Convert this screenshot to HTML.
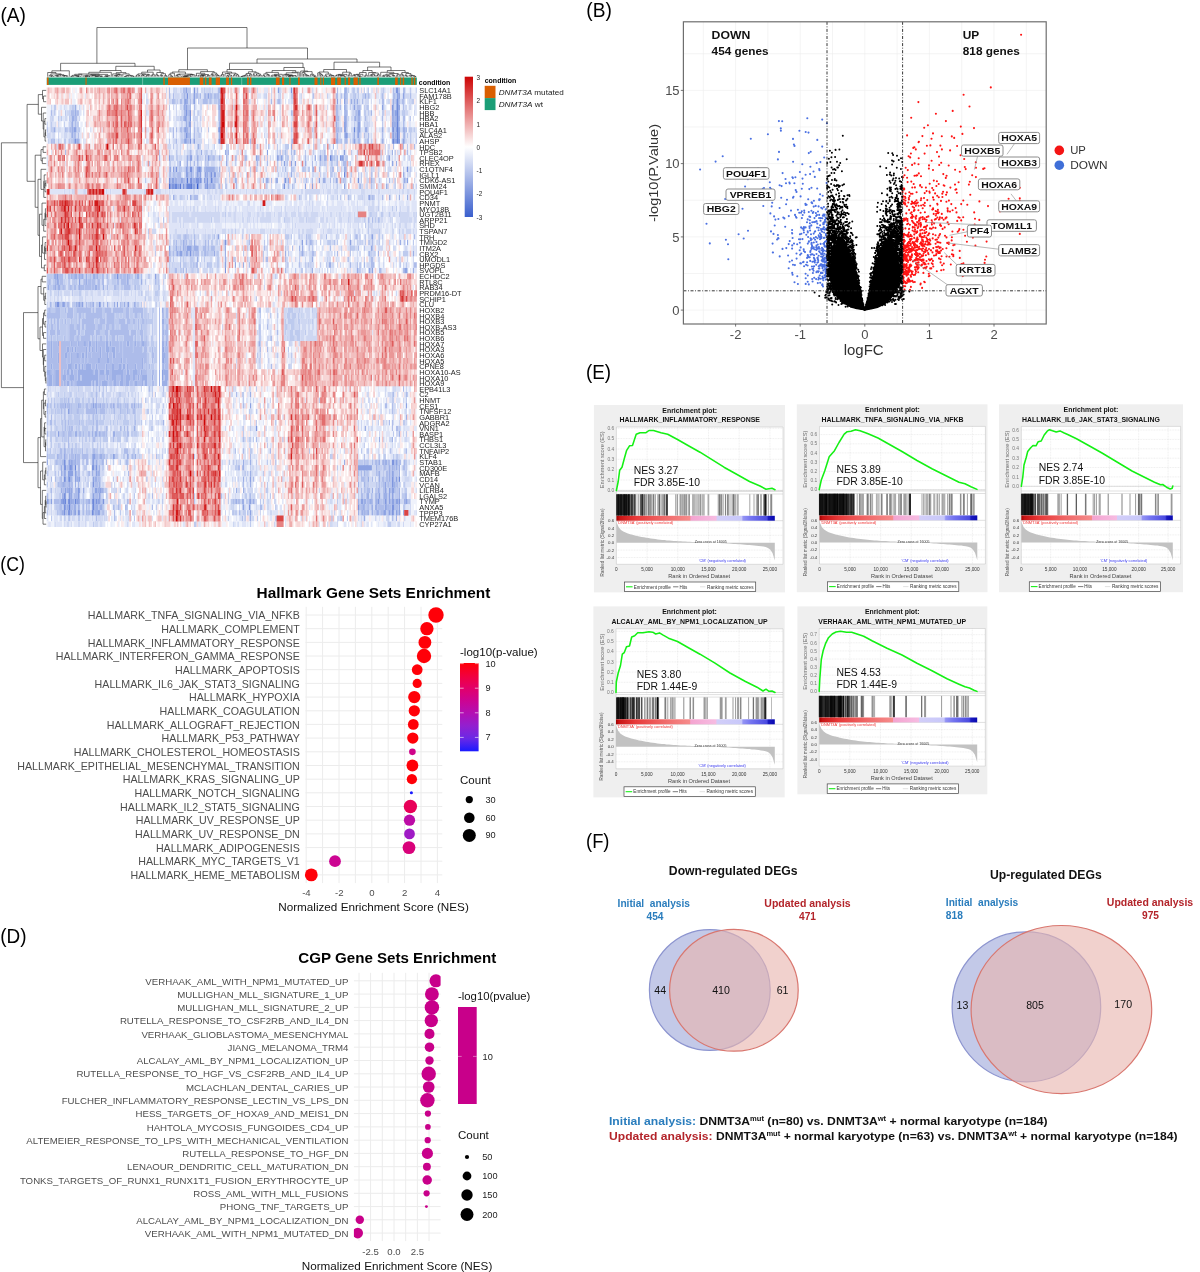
<!DOCTYPE html>
<html><head><meta charset="utf-8"><title>Figure</title>
<style>html,body{margin:0;padding:0;background:#fff}svg{display:block;font-family:"Liberation Sans", sans-serif}</style>
</head><body>
<svg width="1200" height="1272" viewBox="0 0 1200 1272">
<rect width="1200" height="1272" fill="#fff"/>
<text x="0.5" y="21.5" font-size="20.3" textLength="25.5" lengthAdjust="spacingAndGlyphs">(A)</text><text x="586.3" y="16.5" font-size="19.6" textLength="25.5" lengthAdjust="spacingAndGlyphs">(B)</text><text x="0.3" y="570.7" font-size="21" textLength="24.5" lengthAdjust="spacingAndGlyphs">(C)</text><text x="0.3" y="942.5" font-size="21" textLength="26.3" lengthAdjust="spacingAndGlyphs">(D)</text><text x="586" y="379" font-size="20.3" textLength="25" lengthAdjust="spacingAndGlyphs">(E)</text><text x="586" y="848.3" font-size="20.6" textLength="23.5" lengthAdjust="spacingAndGlyphs">(F)</text>
<g transform="translate(46.7,90.417) scale(1.4019,5.6333)" stroke-width="1.04" fill="none">
<path stroke="#3a5fcd" d="M250 6h1M250 7h1M250 8h1M250 9h1M107 17h1"/>
<path stroke="#4a6cd1" d="M250 2h1M250 3h1M250 4h1M250 5h1M213 8h1M87 17h1M103 17h1M16 74h1"/>
<path stroke="#5b7ad5" d="M96 16h1M100 16h1M95 17h1M16 69h1M16 73h1"/>
<path stroke="#6b87da" d="M213 0h1M250 1h1M99 4h1M213 5h1M213 6h1M123 7h1M219 7h1M99 8h1M123 9h1M247 9h1M198 12h1M202 12h1M212 15h1M103 16h1M109 16h1M114 16h1M117 16h1M89 17h1M91 17h2M100 17h3M114 17h1M12 66h1M20 67h1M12 69h1M251 69h1M12 72h1M16 72h1M13 73h1M20 73h1M33 73h1M12 74h1M33 74h1M12 75h1M32 75h1"/>
<path stroke="#7c94de" d="M99 0h1M105 0h1M174 0h1M249 0h2M100 1h1M99 3h1M246 3h1M102 4h1M213 4h1M102 5h1M247 7h1M20 9h1M102 9h1M213 9h1M248 9h1M251 9h1M191 12h1M195 12h1M203 12h1M209 12h1M128 13h1M92 14h1M99 14h1M102 14h2M108 14h2M213 14h1M257 14h1M109 15h1M113 15h1M117 15h1M119 15h1M87 16h1M102 16h1M106 16h3M170 16h1M198 16h1M222 16h1M255 16h1M88 17h1M90 17h1M97 17h1M99 17h1M108 17h1M113 17h1M116 17h1M169 17h1M223 17h1M230 19h1M127 27h1M188 27h1M216 27h1M102 29h1M127 32h1M230 32h1M7 33h1M50 33h1M7 38h2M37 38h1M151 45h1M149 60h1M16 66h1M246 66h2M12 67h2M16 67h2M32 67h2M35 67h1M246 69h1M33 70h1M246 70h1M16 71h1M22 71h1M26 71h1M39 71h1M22 72h1M228 72h1M11 73h2M15 73h1M32 73h1M35 73h1M40 73h1M236 73h1M241 73h1M251 73h1M255 73h1M56 74h1M144 74h1M222 74h1M246 74h2M15 75h2M19 75h1M22 75h1M246 75h1"/>
<path stroke="#8ca2e2" d="M165 0h1M105 1h1M115 1h1M213 1h1M251 1h1M254 1h1M98 2h2M105 2h1M116 2h1M207 2h1M212 2h1M221 2h1M98 3h1M123 3h1M213 3h1M219 3h1M223 3h1M239 3h1M251 3h1M101 4h1M222 4h2M246 4h1M248 4h2M98 5h2M220 5h1M248 5h1M99 6h1M101 6h2M123 6h1M206 6h1M212 6h1M222 6h2M246 6h1M19 7h2M98 7h2M212 7h2M222 7h2M246 7h1M249 7h1M251 7h1M255 7h1M101 8h1M123 8h1M222 8h1M247 8h1M251 8h1M255 8h1M19 9h1M98 9h2M105 9h1M219 9h1M246 9h1M249 9h1M254 9h1M108 10h1M158 10h1M157 11h1M176 11h1M198 11h1M212 11h1M87 12h1M102 12h2M115 12h1M123 12h1M128 12h1M141 12h1M149 12h1M164 12h1M167 12h1M210 12h2M244 12h1M169 13h1M174 13h1M177 13h1M203 13h1M246 13h1M88 14h1M90 14h1M107 14h1M123 14h1M99 15h2M103 15h1M107 15h1M114 15h1M116 15h1M120 15h1M89 16h2M112 16h1M118 16h1M194 16h1M206 16h1M257 16h1M93 17h2M104 17h2M184 17h1M189 17h1M212 17h1M122 26h1M232 26h1M182 27h1M87 28h1M100 28h3M231 28h1M93 29h1M95 29h2M99 29h1M106 29h1M119 29h1M127 31h1M134 31h1M223 31h1M221 32h1M232 32h1M255 32h2M6 33h1M9 33h1M19 33h1M24 33h1M36 33h1M77 33h1M7 34h1M23 34h1M1 35h1M6 35h1M24 35h1M6 38h1M11 38h2M21 38h1M23 38h1M25 38h1M50 38h1M58 38h1M83 46h1M83 48h1M82 50h1M82 51h1M33 56h1M145 56h1M256 56h1M15 57h1M8 61h1M12 65h1M33 65h2M47 65h1M61 65h1M17 66h1M19 66h1M33 66h1M39 66h1M240 66h1M249 66h1M255 66h1M222 67h10M235 67h1M12 68h1M15 68h4M20 68h1M35 68h1M246 68h1M13 69h1M15 69h1M20 69h1M23 69h1M33 69h1M145 69h1M249 69h1M16 70h1M241 70h1M243 70h1M13 71h1M17 71h1M23 71h1M34 71h2M38 71h1M241 71h1M244 71h1M246 71h2M11 72h1M13 72h1M17 72h1M33 72h1M37 72h1M237 72h1M244 72h1M246 72h1M0 73h1M3 73h1M10 73h1M17 73h1M21 73h2M29 73h1M34 73h1M36 73h2M145 73h1M224 73h2M235 73h1M244 73h1M246 73h2M249 73h2M256 73h1M9 74h1M13 74h1M32 74h1M34 74h1M51 74h1M140 74h1M235 74h1M241 74h1M243 74h1M251 74h1M11 75h1M17 75h1M20 75h1M23 75h1M33 75h1M36 75h2M145 75h1M225 75h1M228 75h1M238 75h1M240 75h2M244 75h1M247 75h1M249 75h1M251 75h1M226 76h1"/>
<path stroke="#9cafe6" d="M123 0h1M218 0h1M255 0h1M98 1h1M109 1h1M113 1h1M121 1h1M212 1h1M227 1h1M91 2h1M100 2h1M104 2h1M123 2h1M213 2h1M217 2h1M219 2h1M225 2h1M247 2h1M249 2h1M20 3h1M101 3h1M206 3h1M212 3h1M228 3h1M247 3h1M249 3h1M20 4h1M98 4h1M123 4h1M231 4h1M247 4h1M18 5h2M101 5h1M123 5h1M212 5h1M222 5h2M246 5h2M249 5h1M251 5h1M18 6h1M247 6h3M5 7h1M14 7h1M18 7h1M100 7h1M102 7h1M122 7h1M206 7h1M221 7h1M227 7h2M239 7h1M248 7h1M254 7h1M18 8h1M100 8h1M102 8h1M207 8h1M214 8h1M219 8h1M221 8h1M246 8h1M248 8h2M4 9h1M21 9h2M96 9h1M156 9h1M206 9h2M218 9h1M239 9h1M255 9h1M174 10h1M110 11h1M127 11h1M129 11h1M166 11h1M203 11h1M246 11h1M248 11h1M100 12h1M107 12h1M113 12h1M116 12h1M165 12h1M168 12h1M213 12h1M243 12h1M95 13h1M100 13h1M171 13h1M184 13h1M198 13h1M249 13h1M100 14h1M113 14h7M121 14h1M183 14h1M190 14h1M212 14h1M91 15h1M101 15h1M106 15h1M108 15h1M174 15h1M203 15h1M243 15h1M254 15h1M88 16h1M91 16h2M99 16h1M104 16h2M110 16h1M113 16h1M116 16h1M121 16h1M134 16h1M156 16h2M163 16h2M172 16h1M197 16h1M231 16h1M248 16h1M98 17h1M106 17h1M118 17h2M123 17h1M242 17h1M248 17h1M90 19h1M102 19h1M215 19h1M233 19h1M244 19h1M251 19h1M257 19h1M223 26h1M97 27h1M99 27h1M105 27h1M113 27h1M121 27h1M185 27h1M252 27h1M255 27h1M257 27h1M92 28h1M97 28h1M103 28h1M105 28h3M113 28h1M127 28h1M180 28h1M182 28h1M87 29h1M94 29h1M100 29h1M104 29h1M113 29h1M121 29h1M127 29h1M170 29h1M182 29h1M230 29h1M236 29h1M261 29h1M107 30h1M127 30h1M156 30h1M189 30h1M140 31h1M201 31h2M216 31h1M226 31h1M99 32h1M189 32h1M223 32h1M261 32h1M5 33h1M17 33h1M20 33h2M23 33h1M25 33h1M28 33h1M31 33h1M33 33h2M51 33h1M54 33h1M57 33h1M64 33h2M6 34h1M8 34h1M19 34h1M28 34h1M31 34h1M57 34h1M67 34h1M8 35h2M23 35h1M26 35h1M31 35h1M34 35h2M40 35h1M2 38h1M9 38h1M19 38h1M22 38h1M24 38h1M31 38h1M33 38h1M38 38h1M43 38h1M48 38h1M55 38h1M62 38h1M82 39h1M71 41h1M82 41h2M151 42h1M83 43h1M71 44h1M3 45h1M8 45h1M17 45h1M22 45h1M26 45h2M30 45h2M35 45h1M42 45h2M45 45h1M51 45h1M54 45h1M57 45h2M61 45h1M63 45h1M66 45h1M68 45h2M71 45h1M82 45h2M85 45h1M3 46h1M14 46h2M18 46h1M20 46h1M28 46h1M30 46h1M32 46h1M35 46h1M38 46h1M42 46h3M46 46h3M51 46h1M54 46h1M61 46h1M82 46h1M3 47h1M8 47h1M13 47h2M17 47h1M21 47h2M25 47h2M28 47h1M31 47h1M38 47h1M43 47h1M47 47h2M54 47h1M71 47h1M82 47h3M8 48h1M14 48h1M17 48h1M24 48h1M26 48h1M29 48h1M36 48h2M43 48h2M46 48h1M53 48h1M56 48h1M68 48h1M71 48h1M82 48h1M84 48h1M3 49h1M15 49h3M20 49h2M23 49h1M25 49h1M28 49h4M35 49h1M42 49h1M46 49h2M51 49h2M54 49h2M57 49h1M63 49h1M68 49h1M71 49h1M83 49h1M0 50h3M4 50h1M6 50h3M12 50h1M14 50h2M17 50h2M22 50h11M34 50h3M38 50h3M42 50h3M46 50h9M57 50h2M61 50h4M67 50h1M71 50h1M80 50h1M83 50h4M1 51h3M6 51h3M11 51h3M16 51h4M22 51h2M25 51h12M41 51h1M43 51h1M46 51h4M53 51h2M56 51h4M61 51h2M65 51h1M68 51h4M75 51h1M80 51h1M84 51h3M1 52h3M6 52h3M12 52h1M14 52h2M17 52h1M19 52h1M21 52h11M33 52h1M35 52h2M39 52h4M44 52h1M46 52h1M48 52h2M52 52h3M56 52h3M61 52h1M63 52h2M68 52h1M70 52h2M80 52h1M82 52h4M145 54h1M0 56h1M13 56h1M16 56h1M22 56h1M34 56h2M38 56h1M41 56h1M47 56h1M51 56h1M56 56h1M62 56h1M16 57h1M35 57h1M256 58h1M83 59h1M163 59h1M16 60h1M62 60h1M227 60h1M20 61h2M26 61h1M32 61h1M34 61h2M37 61h1M39 61h1M41 61h1M47 61h2M251 61h1M237 62h1M246 62h1M12 64h1M245 64h1M7 65h1M9 65h1M14 65h1M16 65h1M20 65h1M32 65h1M36 65h1M38 65h2M48 65h1M57 65h1M63 65h1M0 66h1M9 66h1M11 66h1M13 66h1M18 66h1M20 66h1M32 66h1M35 66h1M140 66h1M145 66h1M163 66h1M212 66h1M228 66h1M235 66h1M237 66h1M241 66h2M248 66h1M250 66h1M10 67h1M18 67h1M34 67h1M37 67h1M140 67h1M244 67h1M246 67h1M249 67h1M251 67h1M10 68h1M13 68h1M21 68h1M29 68h1M32 68h1M36 68h2M141 68h1M145 68h1M226 68h1M228 68h1M235 68h1M237 68h1M244 68h1M247 68h1M251 68h1M6 69h1M9 69h1M17 69h1M21 69h2M34 69h2M71 69h1M140 69h1M229 69h1M237 69h1M240 69h1M244 69h1M247 69h1M9 70h1M11 70h2M14 70h1M20 70h1M22 70h1M29 70h1M37 70h1M145 70h1M222 70h1M226 70h1M240 70h1M247 70h2M10 71h1M14 71h2M21 71h1M36 71h2M135 71h1M140 71h1M232 71h1M236 71h1M240 71h1M245 71h1M248 71h1M251 71h1M9 72h1M21 72h1M34 72h1M229 72h1M235 72h1M240 72h3M251 72h1M1 73h1M9 73h1M18 73h2M23 73h1M26 73h1M30 73h1M39 73h1M51 73h1M133 73h1M135 73h1M139 73h2M144 73h1M147 73h1M222 73h1M226 73h2M230 73h2M238 73h1M240 73h1M242 73h1M245 73h1M248 73h1M258 73h1M14 74h2M19 74h2M22 74h1M26 74h1M35 74h2M38 74h2M163 74h1M223 74h1M225 74h2M228 74h1M232 74h1M234 74h1M242 74h1M248 74h1M9 75h1M26 75h1M29 75h1M34 75h2M39 75h1M61 75h1M141 75h1M143 75h1M222 75h1M226 75h1M229 75h1M232 75h1M235 75h2M243 75h1M245 75h1M250 75h1M254 75h1M141 76h1M145 76h1M163 76h1M203 76h1M249 76h1"/>
<path stroke="#adbcea" d="M87 0h1M97 0h2M107 0h1M116 0h1M122 0h1M207 0h1M212 0h1M240 0h1M247 0h1M251 0h1M254 0h1M87 1h1M90 1h1M96 1h1M99 1h1M104 1h1M106 1h2M112 1h1M114 1h1M116 1h2M119 1h2M122 1h1M156 1h1M166 1h1M190 1h1M206 1h2M210 1h1M220 1h1M229 1h1M239 1h1M247 1h2M255 1h1M259 1h1M71 2h1M89 2h2M95 2h2M102 2h1M108 2h1M111 2h4M122 2h1M160 2h1M165 2h2M239 2h2M248 2h1M251 2h1M253 2h2M100 3h1M102 3h1M105 3h1M122 3h1M207 3h1M209 3h1M218 3h1M221 3h2M240 3h1M254 3h1M3 4h1M17 4h3M21 4h2M100 4h1M174 4h1M206 4h2M212 4h1M218 4h1M220 4h2M251 4h1M255 4h1M4 5h1M16 5h1M20 5h2M97 5h1M206 5h3M219 5h1M221 5h1M227 5h1M239 5h1M254 5h2M17 6h1M20 6h1M96 6h1M221 6h1M228 6h1M254 6h1M4 7h1M13 7h1M16 7h2M21 7h1M90 7h1M92 7h1M95 7h2M101 7h1M105 7h1M207 7h2M210 7h1M256 7h1M258 7h1M17 8h1M19 8h2M22 8h1M90 8h1M96 8h1M98 8h1M105 8h1M206 8h1M212 8h1M218 8h1M223 8h1M226 8h1M229 8h1M239 8h1M254 8h1M3 9h1M5 9h1M16 9h1M92 9h1M100 9h2M104 9h1M122 9h1M145 9h1M175 9h1M208 9h1M210 9h1M220 9h1M222 9h2M228 9h2M240 9h1M253 9h1M263 9h1M128 10h1M204 10h1M247 10h1M254 10h1M262 10h1M13 11h1M102 11h1M128 11h1M168 11h1M170 11h1M174 11h1M243 11h1M257 11h1M80 12h1M101 12h1M108 12h1M118 12h2M134 12h1M142 12h1M150 12h2M166 12h1M171 12h1M184 12h1M199 12h1M205 12h1M207 12h1M238 12h1M258 12h1M94 13h1M102 13h1M105 13h1M107 13h1M113 13h1M150 13h1M157 13h1M189 13h1M195 13h1M207 13h1M211 13h3M216 13h1M87 14h1M91 14h1M94 14h1M101 14h1M104 14h1M106 14h1M110 14h1M112 14h1M168 14h1M170 14h1M174 14h1M189 14h1M194 14h1M203 14h2M87 15h2M90 15h1M93 15h3M102 15h1M104 15h1M118 15h1M123 15h1M171 15h1M213 15h1M231 15h1M93 16h3M97 16h2M101 16h1M119 16h2M135 16h1M154 16h1M158 16h1M160 16h1M169 16h1M177 16h1M185 16h1M189 16h1M202 16h1M207 16h1M211 16h1M216 16h1M233 16h1M244 16h1M96 17h1M109 17h1M115 17h1M117 17h1M128 17h1M135 17h1M156 17h1M168 17h1M172 17h1M175 17h1M228 17h1M231 17h1M243 17h1M254 17h1M91 19h1M96 19h1M103 19h1M105 19h3M180 19h1M229 19h1M232 19h1M239 19h1M79 23h1M83 23h1M229 23h1M232 23h1M236 23h1M98 26h2M105 26h1M116 26h1M119 26h1M121 26h1M185 26h1M199 26h1M220 26h2M231 26h1M262 26h1M92 27h1M98 27h1M103 27h1M115 27h1M126 27h1M144 27h1M205 27h1M223 27h1M230 27h1M232 27h1M91 28h1M95 28h1M98 28h2M104 28h1M108 28h1M111 28h2M115 28h1M117 28h3M143 28h1M155 28h1M175 28h1M202 28h1M216 28h1M222 28h1M226 28h1M232 28h1M88 29h1M90 29h1M92 29h1M98 29h1M101 29h1M103 29h1M107 29h2M112 29h1M114 29h1M116 29h1M181 29h1M183 29h1M189 29h2M207 29h1M216 29h1M223 29h1M233 29h1M143 30h1M157 30h1M170 30h1M215 30h1M231 30h2M95 31h1M104 31h1M106 31h2M114 31h1M144 31h1M171 31h1M180 31h1M186 31h1M188 31h1M221 31h1M231 31h3M262 31h2M91 32h2M97 32h1M116 32h1M170 32h1M237 32h2M254 32h1M4 33h1M8 33h1M10 33h2M15 33h2M18 33h1M22 33h1M26 33h1M35 33h1M39 33h2M43 33h1M48 33h2M52 33h2M55 33h2M58 33h2M63 33h1M67 33h1M79 33h1M84 33h1M163 33h1M1 34h2M9 34h3M16 34h1M21 34h1M26 34h2M29 34h2M32 34h3M36 34h2M39 34h2M50 34h2M53 34h4M58 34h1M61 34h1M77 34h1M79 34h1M4 35h2M7 35h1M11 35h2M16 35h2M19 35h2M22 35h1M25 35h1M27 35h4M32 35h2M36 35h2M43 35h1M48 35h2M51 35h1M55 35h5M63 35h1M14 38h2M28 38h1M32 38h1M40 38h1M52 38h1M57 38h1M63 38h1M1 39h2M6 39h4M13 39h1M15 39h4M21 39h11M33 39h1M35 39h5M41 39h5M47 39h8M56 39h3M61 39h8M71 39h1M80 39h1M83 39h1M85 39h2M151 39h2M0 40h10M14 40h5M21 40h1M23 40h2M26 40h1M28 40h12M41 40h1M43 40h5M49 40h1M51 40h1M54 40h1M56 40h3M61 40h1M63 40h2M67 40h2M71 40h1M80 40h1M82 40h2M85 40h2M1 41h1M3 41h1M5 41h1M7 41h2M11 41h1M13 41h1M17 41h1M21 41h1M23 41h1M25 41h9M36 41h1M38 41h4M43 41h5M51 41h5M57 41h3M61 41h2M65 41h1M68 41h2M80 41h1M84 41h1M86 41h1M0 42h1M3 42h2M7 42h2M14 42h1M16 42h4M21 42h3M25 42h2M28 42h7M36 42h4M42 42h3M46 42h2M49 42h1M51 42h1M53 42h5M61 42h1M65 42h1M67 42h1M71 42h1M80 42h1M82 42h2M85 42h2M157 42h1M0 43h1M2 43h4M7 43h3M14 43h1M16 43h5M22 43h2M27 43h7M35 43h3M41 43h3M45 43h14M60 43h4M66 43h3M71 43h1M80 43h1M82 43h1M84 43h3M164 43h1M0 44h1M3 44h1M7 44h1M12 44h1M14 44h1M16 44h4M21 44h2M24 44h7M32 44h1M35 44h1M38 44h2M42 44h2M46 44h3M50 44h1M55 44h7M63 44h1M67 44h2M80 44h1M82 44h2M85 44h2M160 44h1M0 45h3M4 45h4M10 45h7M18 45h4M23 45h3M28 45h2M32 45h3M36 45h6M44 45h1M46 45h5M52 45h2M55 45h2M59 45h2M62 45h1M64 45h2M67 45h1M70 45h1M80 45h1M84 45h1M86 45h1M173 45h1M0 46h3M4 46h5M10 46h4M16 46h2M19 46h1M21 46h7M29 46h1M31 46h1M33 46h2M36 46h2M39 46h3M45 46h1M49 46h2M52 46h2M55 46h6M62 46h6M69 46h3M75 46h1M80 46h1M84 46h3M152 46h1M157 46h1M0 47h3M4 47h4M10 47h3M15 47h2M18 47h3M23 47h2M27 47h1M29 47h2M32 47h6M39 47h4M44 47h3M49 47h5M55 47h16M75 47h2M80 47h1M85 47h2M0 48h8M10 48h4M15 48h2M18 48h6M25 48h1M27 48h2M30 48h6M38 48h5M45 48h1M47 48h6M54 48h2M57 48h11M69 48h2M75 48h1M80 48h1M85 48h2M151 48h1M158 48h1M0 49h3M4 49h5M10 49h5M18 49h2M22 49h1M24 49h1M26 49h2M32 49h3M36 49h6M43 49h3M48 49h3M53 49h1M56 49h1M58 49h5M64 49h4M69 49h1M73 49h1M80 49h1M82 49h1M84 49h3M160 49h1M173 49h1M3 50h1M5 50h1M10 50h2M13 50h1M16 50h1M19 50h3M33 50h1M37 50h1M41 50h1M45 50h1M55 50h2M59 50h2M65 50h2M68 50h3M75 50h2M0 51h1M4 51h2M10 51h1M14 51h2M20 51h2M24 51h1M37 51h4M42 51h1M44 51h2M50 51h3M55 51h1M60 51h1M63 51h2M66 51h2M83 51h1M0 52h1M4 52h2M10 52h2M13 52h1M16 52h1M18 52h1M20 52h1M32 52h1M34 52h1M37 52h2M43 52h1M45 52h1M47 52h1M50 52h2M55 52h1M59 52h2M62 52h1M65 52h3M69 52h1M75 52h2M86 52h1M37 53h1M73 53h1M83 53h1M254 53h1M35 54h1M135 54h1M247 54h1M256 54h1M12 55h1M15 55h1M33 55h1M35 55h1M2 56h1M5 56h1M7 56h1M9 56h4M14 56h2M17 56h1M21 56h1M23 56h2M26 56h1M28 56h2M31 56h2M36 56h2M39 56h2M43 56h1M45 56h2M48 56h1M50 56h1M52 56h1M54 56h1M57 56h1M60 56h2M65 56h1M140 56h1M241 56h2M246 56h1M0 57h1M4 57h1M6 57h1M10 57h1M12 57h1M17 57h1M21 57h2M28 57h7M38 57h4M44 57h1M46 57h1M48 57h1M52 57h1M57 57h1M61 57h2M163 57h1M238 57h1M246 57h1M3 58h1M12 58h1M33 58h1M36 58h1M51 58h1M56 58h1M2 59h2M11 59h1M13 59h1M15 59h1M19 59h1M23 59h1M29 59h1M33 59h1M35 59h2M63 59h1M240 59h1M244 59h1M246 59h1M11 60h1M13 60h1M17 60h2M21 60h1M32 60h1M35 60h2M42 60h1M52 60h1M55 60h1M57 60h1M246 60h1M249 60h2M0 61h1M4 61h1M6 61h1M9 61h1M11 61h2M15 61h3M23 61h2M29 61h2M36 61h1M38 61h1M40 61h1M42 61h1M57 61h2M61 61h1M11 62h1M15 62h1M33 62h2M47 62h1M140 62h1M149 62h1M168 62h1M9 63h1M12 63h1M15 63h1M36 63h1M2 64h1M9 64h2M13 64h1M17 64h2M21 64h1M25 64h1M33 64h2M39 64h1M55 64h3M134 64h1M140 64h1M159 64h1M228 64h1M256 64h1M0 65h1M8 65h1M10 65h1M13 65h1M17 65h3M21 65h3M25 65h5M35 65h1M37 65h1M40 65h2M49 65h1M58 65h1M66 65h1M78 65h1M145 65h1M203 65h1M226 65h1M250 65h1M6 66h2M15 66h1M21 66h3M26 66h1M28 66h2M34 66h1M36 66h1M40 66h1M42 66h1M56 66h2M133 66h1M226 66h1M232 66h1M234 66h1M236 66h1M239 66h1M243 66h2M251 66h2M9 67h1M14 67h2M19 67h1M22 67h2M36 67h1M136 67h2M139 67h1M238 67h1M240 67h2M243 67h1M245 67h1M247 67h2M250 67h1M254 67h2M6 68h1M11 68h1M22 68h2M30 68h1M34 68h1M58 68h1M143 68h1M222 68h1M224 68h1M236 68h1M240 68h1M242 68h2M245 68h1M248 68h1M3 69h1M10 69h1M14 69h1M29 69h1M36 69h2M136 69h1M147 69h1M224 69h3M228 69h1M232 69h1M239 69h1M242 69h2M245 69h1M248 69h1M250 69h1M8 70h1M10 70h1M13 70h1M15 70h1M17 70h2M32 70h1M34 70h3M140 70h1M228 70h1M235 70h1M237 70h1M245 70h1M249 70h2M255 70h1M3 71h1M11 71h2M18 71h1M20 71h1M32 71h1M40 71h1M49 71h1M146 71h1M224 71h1M226 71h1M228 71h3M235 71h1M237 71h1M242 71h1M250 71h1M0 72h1M19 72h2M23 72h1M26 72h1M32 72h1M35 72h2M38 72h1M75 72h1M124 72h1M141 72h1M145 72h1M224 72h2M231 72h1M234 72h1M236 72h1M243 72h1M247 72h1M250 72h1M255 72h2M5 73h4M14 73h1M28 73h1M38 73h1M57 73h1M134 73h1M136 73h2M146 73h1M148 73h1M223 73h1M228 73h2M232 73h1M234 73h1M237 73h1M243 73h1M257 73h1M10 74h1M17 74h2M23 74h1M28 74h1M37 74h1M47 74h1M75 74h1M152 74h2M224 74h1M229 74h1M231 74h1M236 74h5M244 74h2M249 74h2M255 74h1M7 75h1M10 75h1M13 75h2M28 75h1M30 75h1M40 75h1M48 75h1M56 75h1M133 75h1M137 75h1M224 75h1M227 75h1M239 75h1M16 76h1M35 76h1M48 76h1M139 76h1M210 76h1M243 76h1M246 76h1M243 77h1"/>
<path stroke="#bdcaee" d="M91 0h1M100 0h3M112 0h1M118 0h1M166 0h1M215 0h1M219 0h1M221 0h2M226 0h1M229 0h1M235 0h1M248 0h1M259 0h1M263 0h1M71 1h1M97 1h1M101 1h2M108 1h1M118 1h1M123 1h1M174 1h2M181 1h1M200 1h1M214 1h1M218 1h2M222 1h1M225 1h2M228 1h1M230 1h1M238 1h1M240 1h1M249 1h1M93 2h1M101 2h1M117 2h1M119 2h3M164 2h1M209 2h1M214 2h1M216 2h1M218 2h1M220 2h1M243 2h1M246 2h1M255 2h1M258 2h1M260 2h2M5 3h2M18 3h2M87 3h1M97 3h1M166 3h1M208 3h1M216 3h1M220 3h1M226 3h1M229 3h1M248 3h1M5 4h1M13 4h1M16 4h1M71 4h1M96 4h1M105 4h1M108 4h1M122 4h1M156 4h1M175 4h1M208 4h1M214 4h1M226 4h2M229 4h1M239 4h2M253 4h2M8 5h1M10 5h1M17 5h1M95 5h2M100 5h1M109 5h1M122 5h1M166 5h1M228 5h1M259 5h1M3 6h1M12 6h1M16 6h1M19 6h1M21 6h2M100 6h1M105 6h1M207 6h2M219 6h1M226 6h1M239 6h1M251 6h1M255 6h1M0 7h1M3 7h1M6 7h1M9 7h1M22 7h2M88 7h1M97 7h1M107 7h2M110 7h1M115 7h1M166 7h1M174 7h1M189 7h1M209 7h1M218 7h1M220 7h1M240 7h1M243 7h1M253 7h1M259 7h2M262 7h1M4 8h1M108 8h2M208 8h1M257 8h1M259 8h1M263 8h1M1 9h1M8 9h1M12 9h2M17 9h2M23 9h1M71 9h1M87 9h1M91 9h1M97 9h1M163 9h1M166 9h1M174 9h1M200 9h1M209 9h1M212 9h1M214 9h1M216 9h1M221 9h1M227 9h1M231 9h1M238 9h1M259 9h1M90 10h1M107 10h1M109 10h1M119 10h1M129 10h1M150 10h1M156 10h1M164 10h1M170 10h3M190 10h1M198 10h1M201 10h1M257 10h1M80 11h1M87 11h1M92 11h1M101 11h1M103 11h1M106 11h2M113 11h2M117 11h1M136 11h1M141 11h1M164 11h1M171 11h1M184 11h1M190 11h1M195 11h1M217 11h1M221 11h1M238 11h1M250 11h1M88 12h3M92 12h2M99 12h1M106 12h1M109 12h1M114 12h1M117 12h1M121 12h1M135 12h1M155 12h1M157 12h1M170 12h1M172 12h1M175 12h1M186 12h1M194 12h1M196 12h1M204 12h1M206 12h1M214 12h1M248 12h1M255 12h1M73 13h1M87 13h2M91 13h1M93 13h1M99 13h1M108 13h1M114 13h2M134 13h1M141 13h1M164 13h1M167 13h1M196 13h1M206 13h1M93 14h1M95 14h2M98 14h1M120 14h1M145 14h1M149 14h1M156 14h1M164 14h1M175 14h2M182 14h1M184 14h1M186 14h2M202 14h1M207 14h1M210 14h1M227 14h1M231 14h1M243 14h1M245 14h1M254 14h1M259 14h1M89 15h1M92 15h1M112 15h1M115 15h1M121 15h2M130 15h1M134 15h1M165 15h1M176 15h1M178 15h1M195 15h1M198 15h1M202 15h1M205 15h1M217 15h1M222 15h1M224 15h1M228 15h1M236 15h1M255 15h1M258 15h1M70 16h1M115 16h1M122 16h1M127 16h1M151 16h1M171 16h1M176 16h1M183 16h1M204 16h1M210 16h1M212 16h2M224 16h1M228 16h1M232 16h1M237 16h1M254 16h1M256 16h1M110 17h1M112 17h1M120 17h1M122 17h1M127 17h1M163 17h1M176 17h1M207 17h1M213 17h1M233 17h1M261 17h1M263 17h1M19 18h1M95 19h1M100 19h1M104 19h1M116 19h1M181 19h1M188 19h1M200 19h1M203 19h1M207 19h1M209 19h1M216 19h1M225 19h1M231 19h1M245 19h1M236 21h1M246 21h1M249 21h1M76 22h1M127 22h1M230 22h2M235 22h1M238 22h2M244 22h1M251 22h1M263 22h1M117 23h1M143 23h1M169 23h1M185 23h1M215 23h1M223 23h1M226 23h1M230 23h1M234 23h1M237 23h1M245 23h1M258 23h1M76 24h1M227 24h1M229 24h1M248 24h1M72 25h1M134 25h1M229 25h1M237 25h1M251 25h1M88 26h1M91 26h1M93 26h3M97 26h1M100 26h2M103 26h1M106 26h1M108 26h1M111 26h1M113 26h1M115 26h1M118 26h1M127 26h1M139 26h1M144 26h1M170 26h3M174 26h1M180 26h1M186 26h3M206 26h1M216 26h1M227 26h1M237 26h1M239 26h1M76 27h1M90 27h2M95 27h2M101 27h2M106 27h1M117 27h2M123 27h1M128 27h1M143 27h1M155 27h1M171 27h1M176 27h1M181 27h1M187 27h1M189 27h1M195 27h1M200 27h3M207 27h1M221 27h1M225 27h1M227 27h1M229 27h1M237 27h1M261 27h1M88 28h1M90 28h1M93 28h2M96 28h1M114 28h1M116 28h1M121 28h1M126 28h1M134 28h1M170 28h1M187 28h1M189 28h1M210 28h1M217 28h3M248 28h1M77 29h1M89 29h1M91 29h1M97 29h1M105 29h1M110 29h2M115 29h1M117 29h2M122 29h1M140 29h1M154 29h1M166 29h1M172 29h1M180 29h1M188 29h1M191 29h1M203 29h1M205 29h1M229 29h1M231 29h1M254 29h4M87 30h2M90 30h1M95 30h1M97 30h1M102 30h3M108 30h1M112 30h1M121 30h2M133 30h2M154 30h1M171 30h1M180 30h1M188 30h1M200 30h1M226 30h1M230 30h1M76 31h1M87 31h1M89 31h1M91 31h1M97 31h3M102 31h2M105 31h1M109 31h1M115 31h3M121 31h2M137 31h1M184 31h1M195 31h1M199 31h1M228 31h1M240 31h1M252 31h1M256 31h1M87 32h1M95 32h2M101 32h1M103 32h2M107 32h2M118 32h1M121 32h1M177 32h1M181 32h2M188 32h1M200 32h1M222 32h1M231 32h1M257 32h1M0 33h4M13 33h1M27 33h1M29 33h2M32 33h1M37 33h2M42 33h1M44 33h1M46 33h2M60 33h2M66 33h1M72 33h2M78 33h1M98 33h1M148 33h1M0 34h1M4 34h2M12 34h1M15 34h1M18 34h1M20 34h1M24 34h1M43 34h2M46 34h4M59 34h1M62 34h4M70 34h1M78 34h1M83 34h1M0 35h1M2 35h2M10 35h1M13 35h1M15 35h1M18 35h1M21 35h1M39 35h1M50 35h1M53 35h2M62 35h1M64 35h3M79 35h2M2 36h1M8 36h1M18 36h1M23 36h2M51 36h1M67 36h1M71 36h1M77 36h3M233 36h1M70 37h1M79 37h1M83 37h1M149 37h1M3 38h1M10 38h1M13 38h1M16 38h1M18 38h1M20 38h1M26 38h1M29 38h2M35 38h2M44 38h1M53 38h2M56 38h1M61 38h1M64 38h2M67 38h1M69 38h1M78 38h1M0 39h1M3 39h3M10 39h3M14 39h1M19 39h2M32 39h1M34 39h1M40 39h1M46 39h1M55 39h1M59 39h2M69 39h2M75 39h2M84 39h1M172 39h4M180 39h1M189 39h1M10 40h4M19 40h2M22 40h1M25 40h1M27 40h1M40 40h1M42 40h1M48 40h1M50 40h1M52 40h2M55 40h1M59 40h2M62 40h1M65 40h2M69 40h2M72 40h1M75 40h1M84 40h1M152 40h1M159 40h1M164 40h1M171 40h3M175 40h3M179 40h1M181 40h1M183 40h1M192 40h1M0 41h1M2 41h1M4 41h1M6 41h1M9 41h2M12 41h1M14 41h3M18 41h3M22 41h1M24 41h1M34 41h2M37 41h1M42 41h1M48 41h3M56 41h1M60 41h1M63 41h2M66 41h2M70 41h1M72 41h4M85 41h1M151 41h1M170 41h1M172 41h5M179 41h2M186 41h1M189 41h1M1 42h2M5 42h2M9 42h5M15 42h1M20 42h1M24 42h1M27 42h1M35 42h1M40 42h2M45 42h1M48 42h1M50 42h1M52 42h1M58 42h3M62 42h3M66 42h1M68 42h3M75 42h1M84 42h1M152 42h1M170 42h2M174 42h3M180 42h1M1 43h1M6 43h1M10 43h4M15 43h1M21 43h1M24 43h3M34 43h1M38 43h3M44 43h1M59 43h1M64 43h2M69 43h2M75 43h1M151 43h2M170 43h1M173 43h3M177 43h4M184 43h1M1 44h2M4 44h3M8 44h4M13 44h1M15 44h1M20 44h1M23 44h1M31 44h1M33 44h2M36 44h2M40 44h2M44 44h2M49 44h1M51 44h4M62 44h1M64 44h3M69 44h2M74 44h2M84 44h1M151 44h2M159 44h1M171 44h1M173 44h4M178 44h3M72 45h1M74 45h3M78 45h1M152 45h1M156 45h1M68 46h1M73 46h2M76 46h3M151 46h1M172 46h1M72 47h1M74 47h1M77 47h2M150 47h1M152 47h1M164 47h1M174 47h1M72 48h1M76 48h3M70 49h1M72 49h1M74 49h3M151 49h1M163 49h1M72 50h3M77 50h2M72 51h3M76 51h3M72 52h3M77 52h2M1 53h1M16 53h1M19 53h1M22 53h1M33 53h1M35 53h1M40 53h1M42 53h1M56 53h1M75 53h1M86 53h1M133 53h1M141 53h1M149 53h1M248 53h1M8 54h1M12 54h1M14 54h1M16 54h2M21 54h1M26 54h1M31 54h2M34 54h1M36 54h1M39 54h2M51 54h2M58 54h1M61 54h1M75 54h1M77 54h1M83 54h1M139 54h2M246 54h1M250 54h1M257 54h1M1 55h1M3 55h1M5 55h1M9 55h3M13 55h2M16 55h1M18 55h1M20 55h4M25 55h2M29 55h2M32 55h1M40 55h1M42 55h1M46 55h1M50 55h2M55 55h1M62 55h1M70 55h1M74 55h1M81 55h1M140 55h1M194 55h1M235 55h1M246 55h2M256 55h1M1 56h1M3 56h1M6 56h1M8 56h1M18 56h3M25 56h1M27 56h1M30 56h1M42 56h1M44 56h1M49 56h1M53 56h1M55 56h1M58 56h1M63 56h2M66 56h2M83 56h1M133 56h1M238 56h1M248 56h1M3 57h1M7 57h3M11 57h1M13 57h1M18 57h3M23 57h4M36 57h2M42 57h1M47 57h1M49 57h1M51 57h1M53 57h4M58 57h2M63 57h1M71 57h2M74 57h1M78 57h1M82 57h1M144 57h1M149 57h1M0 58h1M6 58h1M10 58h1M13 58h1M15 58h3M19 58h5M25 58h1M29 58h2M32 58h1M34 58h2M38 58h1M40 58h2M48 58h1M52 58h1M55 58h1M59 58h1M62 58h2M75 58h1M141 58h1M0 59h1M5 59h2M10 59h1M12 59h1M14 59h1M16 59h3M20 59h3M24 59h3M28 59h1M30 59h3M34 59h1M37 59h4M45 59h1M47 59h1M50 59h1M54 59h5M62 59h1M67 59h1M79 59h1M149 59h1M228 59h1M236 59h1M254 59h2M3 60h1M6 60h2M12 60h1M14 60h2M22 60h2M25 60h5M33 60h1M41 60h1M43 60h1M53 60h1M61 60h1M63 60h1M74 60h2M140 60h1M145 60h1M156 60h1M251 60h1M2 61h2M5 61h1M10 61h1M13 61h2M18 61h2M22 61h1M25 61h1M27 61h2M31 61h1M33 61h1M49 61h4M54 61h3M60 61h1M62 61h3M140 61h1M247 61h1M256 61h1M2 62h2M6 62h2M12 62h3M17 62h1M23 62h1M25 62h1M27 62h2M30 62h1M32 62h1M36 62h1M38 62h1M40 62h4M46 62h1M50 62h3M56 62h2M141 62h1M144 62h2M147 62h1M240 62h1M245 62h1M248 62h1M3 63h1M8 63h1M16 63h1M18 63h1M20 63h2M25 63h1M32 63h1M38 63h1M157 63h1M226 63h1M0 64h1M6 64h1M11 64h1M14 64h3M19 64h2M22 64h3M28 64h2M32 64h1M35 64h2M38 64h1M40 64h1M49 64h1M61 64h2M65 64h1M84 64h1M86 64h1M145 64h2M187 64h1M224 64h1M229 64h1M240 64h1M255 64h1M1 65h5M11 65h1M24 65h1M31 65h1M42 65h2M45 65h2M50 65h1M54 65h2M60 65h1M62 65h1M82 65h1M105 65h1M141 65h1M202 65h1M237 65h1M240 65h2M247 65h1M249 65h1M8 66h1M10 66h1M14 66h1M25 66h1M37 66h2M47 66h1M52 66h1M130 66h1M135 66h1M149 66h1M157 66h1M222 66h4M227 66h1M229 66h1M233 66h1M256 66h1M258 66h1M1 67h1M11 67h1M26 67h3M39 67h2M57 67h1M134 67h2M145 67h1M163 67h1M207 67h1M236 67h2M242 67h1M253 67h1M256 67h1M0 68h1M8 68h1M14 68h1M19 68h1M26 68h1M33 68h1M39 68h1M146 68h1M154 68h1M163 68h1M223 68h1M227 68h1M229 68h1M238 68h1M249 68h2M255 68h2M18 69h1M27 69h1M32 69h1M38 69h1M47 69h1M54 69h1M142 69h1M158 69h1M168 69h1M203 69h1M222 69h1M227 69h1M234 69h1M236 69h1M238 69h1M241 69h1M0 70h1M7 70h1M26 70h1M31 70h1M38 70h1M46 70h1M143 70h1M153 70h1M157 70h1M163 70h1M227 70h1M229 70h1M236 70h1M238 70h2M242 70h1M244 70h1M251 70h1M2 71h1M6 71h1M9 71h1M33 71h1M41 71h2M46 71h1M52 71h1M133 71h1M141 71h1M156 71h2M163 71h1M222 71h1M227 71h1M234 71h1M238 71h1M243 71h1M249 71h1M253 71h1M255 71h2M3 72h1M15 72h1M18 72h1M31 72h1M39 72h1M42 72h1M54 72h1M62 72h1M105 72h1M129 72h1M142 72h1M144 72h1M148 72h1M153 72h1M159 72h1M203 72h1M222 72h1M226 72h1M232 72h1M238 72h1M245 72h1M248 72h2M253 72h2M2 73h1M24 73h2M27 73h1M31 73h1M41 73h1M46 73h1M58 73h1M61 73h1M79 73h1M82 73h1M105 73h1M126 73h1M129 73h1M131 73h2M138 73h1M142 73h2M152 73h1M154 73h1M158 73h1M203 73h1M207 73h1M212 73h1M239 73h1M6 74h3M11 74h1M21 74h1M25 74h1M29 74h2M40 74h1M48 74h1M57 74h1M78 74h1M131 74h1M133 74h1M139 74h1M141 74h1M145 74h1M227 74h1M230 74h1M254 74h1M0 75h1M8 75h1M18 75h1M21 75h1M25 75h1M31 75h1M38 75h1M41 75h1M52 75h1M132 75h1M134 75h2M138 75h1M140 75h1M146 75h1M203 75h1M205 75h1M223 75h1M231 75h1M233 75h2M237 75h1M242 75h1M248 75h1M258 75h1M3 76h1M12 76h1M15 76h1M19 76h1M22 76h2M29 76h1M39 76h1M41 76h1M49 76h1M62 76h1M129 76h1M150 76h1M209 76h1M214 76h1M218 76h1M255 76h1M33 77h1M105 77h2M133 77h1M136 77h1M145 77h1M203 77h1M244 77h2"/>
<path stroke="#ced7f2" d="M85 0h1M90 0h1M92 0h1M95 0h2M104 0h1M106 0h1M110 0h2M113 0h3M121 0h1M144 0h1M150 0h1M160 0h1M175 0h1M189 0h1M214 0h1M224 0h1M228 0h1M238 0h2M88 1h1M91 1h4M103 1h1M111 1h1M155 1h1M160 1h1M165 1h1M189 1h1M209 1h1M216 1h2M221 1h1M235 1h1M243 1h1M253 1h1M256 1h3M260 1h1M87 2h2M92 2h1M94 2h1M97 2h1M103 2h1M106 2h1M109 2h2M115 2h1M118 2h1M144 2h1M156 2h1M174 2h2M181 2h1M189 2h1M206 2h1M222 2h2M227 2h3M231 2h1M237 2h1M244 2h1M252 2h1M259 2h1M3 3h1M12 3h1M16 3h2M21 3h1M23 3h1M26 3h1M71 3h1M90 3h1M92 3h1M95 3h2M106 3h1M109 3h2M133 3h1M190 3h1M200 3h1M214 3h1M227 3h1M235 3h1M255 3h2M258 3h2M4 4h1M6 4h1M14 4h2M26 4h1M87 4h1M92 4h1M97 4h1M104 4h1M107 4h1M109 4h1M166 4h1M190 4h1M219 4h1M228 4h1M230 4h1M256 4h2M262 4h1M2 5h2M9 5h1M13 5h2M23 5h1M87 5h1M92 5h3M104 5h4M156 5h1M175 5h1M214 5h2M217 5h2M226 5h1M230 5h1M235 5h1M258 5h1M0 6h1M2 6h1M4 6h1M6 6h1M8 6h1M91 6h1M98 6h1M107 6h1M109 6h1M122 6h1M174 6h1M190 6h1M214 6h1M220 6h1M227 6h1M229 6h2M2 7h1M8 7h1M12 7h1M15 7h1M31 7h1M71 7h1M87 7h1M89 7h1M94 7h1M106 7h1M128 7h1M144 7h1M156 7h1M175 7h1M190 7h1M214 7h1M217 7h1M226 7h1M229 7h1M238 7h1M244 7h1M252 7h1M261 7h1M263 7h1M0 8h3M5 8h1M8 8h1M12 8h3M16 8h1M21 8h1M92 8h1M95 8h1M97 8h1M104 8h1M106 8h2M122 8h1M155 8h1M164 8h1M166 8h1M174 8h1M190 8h1M209 8h1M215 8h2M220 8h1M227 8h2M231 8h1M240 8h1M260 8h1M2 9h1M9 9h1M15 9h1M26 9h1M90 9h1M95 9h1M103 9h1M106 9h5M190 9h1M193 9h1M226 9h1M256 9h1M260 9h1M7 10h1M13 10h1M86 10h3M92 10h2M95 10h1M100 10h1M102 10h1M115 10h1M136 10h1M145 10h1M166 10h1M183 10h1M193 10h1M197 10h1M207 10h1M212 10h1M241 10h1M243 10h2M93 11h1M95 11h1M98 11h1M100 11h1M108 11h2M112 11h1M116 11h1M118 11h1M120 11h1M138 11h1M169 11h1M177 11h1M196 11h2M205 11h2M208 11h1M211 11h1M213 11h1M241 11h1M259 11h1M94 12h3M98 12h1M105 12h1M110 12h2M120 12h1M122 12h1M124 12h1M129 12h1M159 12h1M161 12h1M174 12h1M176 12h1M183 12h1M189 12h1M193 12h1M197 12h1M212 12h1M221 12h1M240 12h1M242 12h1M246 12h1M71 13h1M98 13h1M104 13h1M110 13h1M117 13h3M123 13h1M149 13h1M170 13h1M176 13h1M181 13h1M185 13h1M192 13h1M194 13h1M197 13h1M199 13h1M202 13h1M205 13h1M210 13h1M215 13h1M241 13h1M244 13h1M247 13h1M253 13h1M259 13h1M97 14h1M129 14h2M141 14h1M150 14h1M166 14h1M171 14h1M195 14h1M199 14h1M208 14h1M221 14h1M232 14h2M236 14h1M241 14h1M244 14h1M248 14h1M256 14h1M258 14h1M260 14h1M80 15h1M96 15h1M98 15h1M110 15h1M138 15h1M142 15h1M145 15h1M167 15h1M169 15h1M173 15h1M189 15h2M193 15h1M197 15h1M206 15h1M210 15h1M216 15h1M232 15h1M249 15h1M257 15h1M259 15h1M263 15h1M80 16h2M111 16h1M123 16h1M128 16h1M130 16h1M133 16h1M142 16h1M181 16h1M184 16h1M186 16h1M188 16h1M193 16h1M196 16h1M205 16h1M221 16h1M229 16h1M238 16h1M242 16h1M246 16h1M262 16h1M80 17h1M111 17h1M121 17h1M125 17h1M157 17h1M160 17h1M171 17h1M173 17h1M196 17h1M199 17h1M202 17h1M204 17h1M206 17h1M224 17h2M232 17h1M236 17h1M238 17h1M255 17h1M12 18h1M16 18h1M18 18h1M26 18h2M42 18h1M45 18h1M61 18h1M69 18h2M76 18h1M78 18h4M84 18h1M87 18h1M89 18h1M91 18h1M104 18h2M108 18h1M111 18h1M114 18h3M118 18h1M120 18h2M123 18h3M128 18h1M133 18h1M138 18h1M142 18h1M146 18h1M148 18h2M152 18h1M154 18h1M156 18h1M158 18h1M160 18h2M164 18h3M168 18h1M175 18h1M178 18h1M181 18h2M184 18h11M197 18h1M200 18h3M205 18h3M210 18h5M216 18h1M224 18h3M228 18h1M231 18h1M236 18h2M243 18h1M245 18h1M248 18h1M251 18h1M253 18h2M257 18h2M262 18h1M87 19h2M92 19h1M94 19h1M97 19h2M111 19h2M114 19h1M117 19h1M119 19h1M123 19h1M170 19h2M184 19h2M187 19h1M193 19h1M204 19h1M212 19h1M219 19h1M222 19h3M226 19h1M236 19h1M240 19h1M249 19h1M262 19h1M128 20h1M143 20h2M187 20h1M189 20h1M200 20h1M215 20h1M221 20h1M226 20h1M228 20h1M230 20h1M232 20h2M236 20h1M47 21h1M76 21h1M87 21h1M97 21h1M99 21h1M102 21h1M104 21h2M107 21h1M113 21h1M116 21h1M120 21h1M122 21h1M127 21h1M134 21h1M143 21h1M152 21h1M167 21h1M170 21h1M176 21h1M179 21h1M185 21h1M189 21h1M196 21h1M200 21h1M210 21h1M218 21h1M221 21h1M223 21h1M229 21h5M235 21h1M239 21h1M252 21h1M257 21h2M72 22h1M79 22h1M87 22h1M89 22h13M103 22h21M125 22h2M129 22h3M133 22h2M139 22h1M143 22h3M148 22h1M150 22h2M153 22h2M156 22h4M162 22h1M165 22h3M170 22h2M174 22h4M179 22h3M183 22h4M188 22h6M197 22h1M202 22h2M206 22h1M208 22h2M211 22h1M213 22h1M215 22h2M219 22h1M221 22h1M232 22h3M240 22h1M243 22h1M245 22h1M247 22h2M252 22h7M261 22h2M76 23h1M87 23h1M89 23h4M94 23h2M97 23h9M107 23h10M119 23h5M127 23h1M131 23h1M133 23h2M136 23h1M139 23h2M144 23h1M147 23h1M150 23h1M152 23h8M165 23h2M170 23h4M175 23h1M178 23h1M180 23h4M186 23h6M195 23h3M199 23h2M203 23h1M205 23h1M208 23h3M216 23h1M219 23h4M225 23h1M227 23h1M233 23h1M235 23h1M238 23h2M246 23h1M252 23h6M259 23h2M262 23h2M83 24h1M95 24h1M97 24h1M107 24h1M116 24h1M171 24h1M175 24h1M177 24h1M188 24h1M194 24h1M198 24h1M201 24h1M205 24h1M216 24h1M218 24h1M222 24h1M230 24h3M236 24h1M238 24h1M240 24h1M246 24h1M251 24h2M255 24h2M262 24h1M75 25h3M91 25h2M96 25h1M99 25h2M104 25h2M111 25h1M113 25h1M118 25h1M120 25h1M125 25h3M129 25h1M131 25h2M136 25h1M139 25h2M143 25h1M152 25h4M159 25h1M161 25h1M165 25h2M170 25h1M175 25h1M179 25h2M182 25h2M185 25h5M197 25h1M200 25h4M207 25h1M209 25h1M211 25h1M219 25h2M222 25h2M225 25h1M228 25h1M231 25h6M238 25h1M246 25h2M253 25h2M256 25h4M261 25h1M263 25h1M72 26h1M90 26h1M92 26h1M96 26h1M102 26h1M104 26h1M107 26h1M112 26h1M114 26h1M123 26h1M131 26h1M157 26h1M173 26h1M176 26h1M179 26h1M181 26h2M195 26h2M203 26h1M207 26h2M219 26h1M226 26h1M229 26h2M233 26h1M236 26h1M246 26h1M251 26h1M254 26h1M87 27h2M93 27h2M100 27h1M108 27h2M111 27h2M114 27h1M120 27h1M131 27h1M157 27h1M167 27h1M178 27h1M186 27h1M190 27h1M192 27h1M198 27h1M203 27h2M217 27h1M219 27h1M222 27h1M224 27h1M231 27h1M233 27h1M235 27h2M239 27h1M244 27h1M249 27h1M251 27h1M77 28h1M89 28h1M109 28h2M120 28h1M122 28h2M140 28h1M156 28h2M171 28h2M183 28h1M186 28h1M196 28h1M208 28h1M215 28h1M220 28h2M233 28h1M236 28h4M247 28h1M255 28h2M261 28h1M263 28h1M120 29h1M143 29h1M157 29h1M185 29h1M187 29h1M200 29h2M210 29h1M218 29h1M221 29h1M232 29h1M234 29h1M251 29h1M263 29h1M96 30h1M98 30h2M101 30h1M105 30h1M110 30h1M116 30h2M123 30h1M128 30h1M177 30h1M184 30h1M187 30h1M198 30h1M201 30h2M206 30h1M208 30h1M214 30h1M221 30h1M233 30h1M236 30h2M240 30h1M249 30h1M251 30h2M257 30h1M261 30h1M88 31h1M90 31h1M92 31h3M100 31h2M112 31h1M119 31h2M123 31h1M126 31h1M170 31h1M172 31h1M175 31h1M181 31h1M185 31h1M187 31h1M189 31h2M200 31h1M203 31h2M207 31h1M209 31h1M218 31h1M220 31h1M229 31h2M237 31h1M247 31h1M251 31h1M254 31h1M261 31h1M88 32h3M93 32h2M102 32h1M105 32h2M111 32h4M117 32h1M122 32h1M134 32h1M143 32h1M158 32h1M171 32h1M184 32h2M194 32h1M196 32h1M198 32h1M202 32h1M214 32h1M216 32h1M225 32h1M229 32h1M12 33h1M14 33h1M41 33h1M62 33h1M71 33h1M74 33h1M83 33h1M86 33h1M3 34h1M13 34h2M22 34h1M25 34h1M35 34h1M38 34h1M45 34h1M52 34h1M60 34h1M66 34h1M68 34h1M76 34h1M80 34h1M14 35h1M38 35h1M41 35h2M44 35h4M52 35h1M60 35h2M67 35h1M72 35h1M76 35h3M83 35h1M155 35h1M163 35h1M3 36h1M5 36h3M9 36h2M12 36h5M19 36h4M27 36h3M31 36h2M34 36h1M36 36h3M40 36h2M43 36h2M47 36h4M53 36h1M55 36h4M60 36h1M63 36h1M65 36h2M68 36h1M70 36h1M72 36h1M76 36h1M80 36h1M83 36h2M86 36h1M109 36h1M113 36h1M117 36h1M129 36h1M167 36h1M235 36h1M249 36h1M2 37h1M5 37h1M7 37h2M10 37h1M19 37h1M23 37h3M27 37h1M32 37h1M51 37h1M53 37h1M56 37h1M63 37h1M69 37h1M72 37h3M76 37h3M84 37h1M163 37h1M193 37h1M196 37h1M0 38h1M4 38h2M27 38h1M34 38h1M39 38h1M41 38h1M46 38h2M49 38h1M59 38h1M66 38h1M71 38h1M77 38h1M80 38h1M84 38h1M161 38h1M73 39h2M77 39h2M156 39h3M164 39h1M169 39h3M176 39h4M181 39h2M184 39h4M190 39h3M73 40h2M76 40h3M103 40h1M135 40h1M151 40h1M169 40h2M174 40h1M178 40h1M180 40h1M182 40h1M185 40h3M189 40h3M76 41h3M152 41h1M157 41h2M164 41h1M169 41h1M171 41h1M177 41h2M181 41h5M187 41h2M190 41h1M192 41h1M72 42h2M76 42h3M125 42h1M158 42h1M164 42h1M169 42h1M172 42h2M177 42h3M182 42h3M186 42h2M189 42h2M192 42h1M72 43h2M76 43h3M150 43h1M159 43h1M169 43h1M171 43h2M176 43h1M181 43h3M186 43h4M192 43h1M72 44h1M76 44h1M78 44h1M157 44h2M164 44h1M169 44h2M172 44h1M177 44h1M181 44h3M185 44h8M73 45h1M77 45h1M157 45h1M163 45h3M174 45h1M180 45h1M72 46h1M160 46h1M178 46h1M73 47h1M151 47h1M163 47h1M172 47h1M73 48h2M135 48h1M149 48h1M152 48h1M174 48h1M77 49h2M152 49h1M158 49h1M172 49h1M174 49h1M2 53h1M4 53h1M6 53h1M9 53h6M17 53h2M20 53h2M23 53h3M27 53h5M34 53h1M36 53h1M39 53h1M45 53h2M48 53h1M54 53h1M57 53h1M59 53h4M67 53h1M72 53h1M74 53h1M134 53h1M144 53h2M153 53h1M241 53h1M247 53h1M256 53h1M0 54h1M2 54h1M6 54h2M9 54h3M13 54h1M15 54h1M19 54h2M22 54h4M27 54h1M29 54h2M33 54h1M37 54h1M42 54h4M47 54h1M49 54h2M53 54h4M60 54h1M63 54h1M65 54h1M73 54h1M82 54h1M84 54h1M131 54h2M143 54h1M163 54h1M228 54h2M241 54h1M243 54h3M255 54h1M4 55h1M6 55h3M17 55h1M19 55h1M24 55h1M27 55h2M31 55h1M34 55h1M36 55h4M41 55h1M43 55h2M47 55h3M52 55h1M54 55h1M56 55h3M61 55h1M63 55h1M65 55h1M67 55h1M71 55h1M75 55h1M78 55h1M84 55h1M86 55h1M133 55h1M145 55h1M147 55h1M159 55h1M226 55h1M229 55h2M242 55h1M245 55h1M254 55h1M4 56h1M59 56h1M74 56h1M78 56h3M141 56h1M152 56h1M157 56h2M224 56h1M230 56h1M247 56h1M250 56h1M1 57h2M5 57h1M14 57h1M27 57h1M43 57h1M45 57h1M50 57h1M60 57h1M64 57h4M79 57h1M145 57h2M228 57h2M244 57h1M247 57h2M255 57h2M1 58h1M5 58h1M7 58h3M11 58h1M14 58h1M18 58h1M24 58h1M26 58h1M28 58h1M31 58h1M37 58h1M39 58h1M42 58h4M49 58h2M53 58h2M57 58h1M60 58h2M64 58h3M81 58h1M140 58h1M145 58h1M168 58h1M232 58h1M237 58h1M247 58h1M1 59h1M4 59h1M7 59h3M27 59h1M41 59h4M46 59h1M48 59h2M51 59h3M59 59h3M64 59h3M70 59h1M73 59h3M78 59h1M81 59h2M145 59h1M222 59h1M224 59h1M232 59h1M242 59h1M247 59h1M251 59h1M256 59h1M0 60h1M2 60h1M5 60h1M8 60h3M19 60h2M24 60h1M30 60h2M34 60h1M38 60h2M45 60h2M48 60h3M54 60h1M56 60h1M58 60h1M60 60h1M64 60h1M73 60h1M83 60h1M86 60h1M127 60h1M132 60h1M139 60h1M146 60h1M163 60h1M207 60h1M222 60h1M224 60h1M226 60h1M229 60h1M231 60h2M240 60h1M243 60h1M252 60h1M255 60h1M1 61h1M7 61h1M43 61h1M45 61h1M53 61h1M65 61h1M72 61h1M79 61h1M83 61h1M85 61h1M228 61h1M237 61h1M249 61h2M254 61h1M0 62h1M8 62h3M16 62h1M18 62h4M24 62h1M26 62h1M29 62h1M31 62h1M35 62h1M37 62h1M39 62h1M45 62h1M48 62h2M55 62h1M61 62h1M64 62h1M75 62h1M78 62h1M82 62h2M139 62h1M143 62h1M156 62h2M163 62h1M224 62h1M227 62h1M244 62h1M255 62h2M0 63h1M2 63h1M5 63h3M11 63h1M13 63h1M17 63h1M19 63h1M22 63h2M26 63h5M33 63h1M40 63h1M42 63h2M50 63h1M52 63h1M62 63h2M71 63h1M133 63h1M144 63h2M150 63h1M237 63h1M241 63h1M246 63h1M248 63h1M1 64h1M4 64h2M7 64h2M26 64h2M30 64h2M37 64h1M41 64h1M43 64h5M50 64h1M53 64h2M58 64h2M64 64h1M72 64h2M78 64h1M82 64h1M126 64h1M133 64h1M136 64h1M141 64h1M143 64h1M153 64h1M158 64h1M163 64h1M203 64h1M212 64h1M236 64h1M6 65h1M15 65h1M30 65h1M44 65h1M51 65h1M53 65h1M56 65h1M59 65h1M64 65h2M67 65h1M75 65h1M79 65h2M137 65h1M148 65h1M162 65h2M207 65h1M229 65h1M232 65h1M236 65h1M248 65h1M251 65h1M2 66h1M5 66h1M31 66h1M51 66h1M58 66h1M62 66h1M72 66h2M80 66h1M125 66h1M136 66h2M141 66h3M146 66h1M153 66h1M159 66h1M230 66h2M238 66h1M245 66h1M254 66h1M2 67h2M5 67h2M8 67h1M21 67h1M38 67h1M43 67h1M62 67h1M129 67h1M131 67h1M141 67h1M146 67h2M149 67h1M151 67h1M171 67h1M209 67h1M232 67h3M239 67h1M1 68h1M5 68h1M25 68h1M28 68h1M31 68h1M38 68h1M40 68h1M55 68h1M75 68h1M105 68h1M127 68h1M131 68h1M136 68h1M139 68h2M148 68h2M158 68h2M168 68h1M225 68h1M230 68h1M232 68h3M239 68h1M241 68h1M254 68h1M258 68h1M7 69h2M11 69h1M19 69h1M24 69h1M26 69h1M39 69h1M49 69h1M62 69h1M82 69h1M132 69h1M134 69h1M144 69h1M146 69h1M154 69h1M223 69h1M230 69h2M255 69h4M263 69h1M2 70h1M6 70h1M23 70h2M28 70h1M39 70h2M48 70h1M57 70h1M77 70h1M124 70h1M127 70h2M139 70h1M146 70h1M223 70h2M230 70h5M252 70h1M254 70h1M7 71h2M19 71h1M24 71h1M31 71h1M47 71h2M56 71h2M63 71h1M136 71h2M143 71h3M168 71h1M194 71h1M203 71h1M223 71h1M225 71h1M231 71h1M239 71h1M263 71h1M1 72h1M6 72h3M10 72h1M14 72h1M25 72h1M40 72h1M43 72h1M48 72h1M55 72h1M72 72h2M82 72h1M134 72h1M139 72h1M146 72h2M157 72h1M162 72h1M208 72h2M214 72h1M220 72h1M223 72h1M227 72h1M230 72h1M233 72h1M239 72h1M42 73h2M45 73h1M47 73h3M52 73h1M55 73h1M63 73h1M71 73h1M76 73h1M80 73h1M149 73h1M157 73h1M162 73h2M168 73h1M202 73h1M233 73h1M252 73h3M259 73h1M0 74h2M3 74h1M5 74h1M41 74h1M49 74h2M52 74h1M60 74h1M62 74h1M82 74h1M132 74h1M137 74h1M149 74h1M157 74h2M207 74h1M233 74h1M259 74h1M3 75h1M6 75h1M24 75h1M27 75h1M42 75h1M57 75h1M62 75h1M76 75h1M127 75h1M139 75h1M144 75h1M148 75h1M152 75h1M159 75h2M209 75h1M230 75h1M252 75h1M259 75h1M263 75h1M9 76h2M13 76h1M18 76h1M25 76h1M27 76h2M32 76h1M34 76h1M36 76h3M42 76h1M46 76h1M54 76h1M58 76h1M138 76h1M144 76h1M146 76h2M181 76h1M207 76h2M222 76h1M224 76h1M234 76h1M242 76h1M247 76h1M6 77h1M12 77h1M14 77h2M17 77h1M22 77h2M27 77h1M34 77h3M38 77h2M57 77h1M61 77h1M141 77h1M162 77h1M200 77h1M202 77h1M207 77h1M224 77h1M228 77h1M248 77h1M250 77h2M254 77h1"/>
<path stroke="#dee4f7" d="M71 0h1M93 0h2M108 0h1M117 0h1M119 0h2M133 0h1M137 0h1M145 0h1M155 0h3M164 0h1M167 0h1M173 0h1M190 0h1M209 0h1M217 0h1M220 0h1M231 0h2M241 0h1M243 0h1M246 0h1M258 0h1M260 0h1M16 1h1M27 1h1M69 1h1M85 1h1M89 1h1M95 1h1M110 1h1M127 1h1M150 1h3M154 1h1M163 1h1M173 1h1M180 1h1M183 1h1M195 1h1M201 1h1M208 1h1M211 1h1M223 1h2M231 1h1M236 1h1M246 1h1M252 1h1M261 1h3M19 2h1M68 2h1M72 2h1M85 2h1M128 2h1M133 2h1M145 2h1M150 2h1M159 2h1M163 2h1M167 2h1M170 2h1M172 2h2M180 2h1M208 2h1M224 2h1M226 2h1M238 2h1M242 2h1M257 2h1M263 2h1M4 3h1M9 3h2M13 3h2M24 3h1M115 3h1M154 3h1M156 3h2M174 3h1M198 3h1M210 3h1M217 3h1M224 3h1M231 3h1M241 3h1M253 3h1M260 3h1M262 3h2M2 4h1M8 4h2M23 4h2M72 4h1M88 4h1M94 4h1M110 4h1M128 4h1M145 4h1M193 4h1M209 4h2M217 4h1M237 4h1M242 4h3M252 4h1M258 4h1M263 4h1M11 5h2M22 5h1M88 5h1M90 5h2M110 5h1M112 5h1M144 5h1M151 5h1M155 5h1M160 5h1M164 5h1M174 5h1M189 5h1M200 5h1M209 5h1M224 5h1M229 5h1M231 5h1M238 5h1M240 5h1M242 5h1M253 5h1M261 5h1M5 6h1M9 6h1M15 6h1M24 6h1M27 6h1M92 6h1M94 6h2M97 6h1M104 6h1M106 6h1M108 6h1M121 6h1M151 6h1M155 6h1M166 6h1M198 6h1M209 6h1M215 6h1M217 6h2M231 6h2M240 6h1M252 6h2M258 6h2M1 7h1M7 7h1M10 7h2M24 7h1M26 7h1M39 7h1M68 7h1M72 7h1M93 7h1M104 7h1M109 7h1M133 7h1M151 7h1M155 7h1M163 7h2M181 7h1M183 7h1M200 7h2M224 7h2M231 7h1M235 7h1M237 7h1M3 8h1M10 8h2M15 8h1M23 8h2M26 8h1M30 8h1M71 8h1M87 8h1M89 8h1M94 8h1M110 8h1M128 8h1M145 8h1M156 8h2M175 8h1M189 8h1M217 8h1M224 8h1M230 8h1M238 8h1M244 8h1M253 8h1M256 8h1M258 8h1M261 8h2M6 9h2M10 9h1M14 9h1M24 9h1M27 9h1M42 9h1M69 9h1M72 9h1M85 9h1M89 9h1M93 9h2M112 9h1M115 9h1M133 9h1M144 9h1M194 9h1M196 9h1M217 9h1M232 9h1M235 9h1M242 9h1M257 9h2M261 9h1M26 10h1M81 10h1M91 10h1M94 10h1M96 10h1M101 10h1M103 10h1M105 10h2M112 10h3M118 10h1M123 10h1M125 10h1M149 10h1M151 10h1M161 10h1M168 10h2M186 10h2M194 10h1M202 10h1M211 10h1M3 11h1M88 11h2M91 11h1M94 11h1M99 11h1M104 11h1M111 11h1M115 11h1M119 11h1M123 11h1M135 11h1M142 11h1M161 11h1M163 11h1M165 11h1M175 11h1M189 11h1M191 11h1M193 11h2M202 11h1M218 11h1M244 11h2M251 11h1M254 11h1M256 11h1M0 12h1M68 12h1M81 12h1M85 12h1M91 12h1M97 12h1M104 12h1M112 12h1M131 12h1M143 12h1M153 12h1M163 12h1M178 12h1M181 12h1M185 12h1M188 12h1M217 12h2M228 12h1M245 12h1M250 12h1M254 12h1M257 12h1M259 12h1M0 13h1M13 13h1M26 13h1M68 13h1M81 13h1M89 13h2M101 13h1M103 13h1M106 13h1M109 13h1M112 13h1M116 13h1M120 13h2M129 13h1M132 13h1M135 13h1M151 13h1M153 13h1M156 13h1M165 13h1M168 13h1M175 13h1M183 13h1M191 13h1M201 13h1M204 13h1M243 13h1M257 13h1M80 14h1M85 14h1M89 14h1M105 14h1M111 14h1M122 14h1M128 14h1M152 14h1M162 14h1M165 14h1M169 14h1M177 14h1M185 14h1M198 14h1M211 14h1M222 14h1M228 14h1M237 14h1M249 14h1M255 14h1M262 14h1M86 15h1M105 15h1M111 15h1M128 15h1M157 15h1M164 15h1M166 15h1M168 15h1M170 15h1M175 15h1M179 15h1M191 15h2M199 15h1M204 15h1M223 15h1M227 15h1M14 16h1M71 16h1M85 16h1M141 16h1M150 16h1M153 16h1M191 16h1M195 16h1M199 16h3M217 16h1M223 16h1M236 16h1M245 16h1M253 16h1M134 17h1M136 17h1M151 17h1M164 17h3M170 17h1M187 17h1M191 17h1M195 17h1M197 17h2M200 17h2M205 17h1M208 17h3M222 17h1M227 17h1M237 17h1M247 17h1M256 17h1M258 17h1M2 18h10M13 18h3M17 18h1M22 18h4M28 18h1M41 18h1M43 18h2M46 18h8M57 18h4M62 18h7M77 18h1M82 18h2M85 18h2M88 18h1M90 18h1M92 18h12M106 18h2M109 18h2M112 18h2M117 18h1M119 18h1M122 18h1M126 18h1M129 18h4M134 18h4M139 18h3M143 18h3M147 18h1M150 18h2M153 18h1M155 18h1M157 18h1M159 18h1M162 18h2M167 18h1M169 18h6M176 18h2M179 18h2M183 18h1M195 18h2M198 18h2M203 18h2M208 18h2M215 18h1M217 18h7M227 18h1M229 18h2M232 18h4M238 18h5M244 18h1M246 18h2M249 18h2M252 18h1M255 18h2M259 18h3M263 18h1M93 19h1M99 19h1M108 19h1M115 19h1M118 19h1M120 19h3M178 19h2M183 19h1M189 19h1M195 19h1M198 19h1M202 19h1M205 19h2M210 19h1M214 19h1M217 19h1M221 19h1M227 19h2M235 19h1M237 19h2M253 19h1M258 19h1M261 19h1M76 20h2M88 20h2M91 20h3M95 20h1M97 20h3M102 20h1M105 20h5M111 20h2M114 20h5M120 20h1M122 20h3M129 20h1M131 20h1M133 20h1M136 20h4M147 20h2M152 20h2M156 20h5M170 20h2M173 20h2M176 20h3M180 20h3M184 20h3M188 20h1M190 20h1M192 20h4M199 20h1M203 20h2M207 20h5M217 20h3M223 20h1M225 20h1M227 20h1M229 20h1M231 20h1M237 20h1M239 20h1M244 20h1M248 20h2M251 20h4M256 20h3M260 20h4M68 21h1M71 21h1M74 21h1M88 21h9M98 21h1M100 21h2M103 21h1M106 21h1M108 21h1M110 21h3M114 21h2M117 21h3M121 21h1M123 21h2M126 21h1M128 21h1M130 21h2M133 21h1M135 21h1M137 21h1M139 21h4M144 21h5M150 21h2M153 21h2M156 21h3M160 21h1M162 21h5M169 21h1M171 21h5M177 21h2M180 21h2M183 21h2M186 21h3M190 21h5M197 21h2M201 21h9M211 21h3M215 21h2M219 21h2M222 21h1M224 21h3M234 21h1M237 21h1M240 21h2M243 21h3M247 21h2M251 21h1M253 21h4M260 21h4M77 22h1M83 22h1M88 22h1M102 22h1M124 22h1M128 22h1M132 22h1M135 22h4M140 22h3M146 22h2M149 22h1M152 22h1M155 22h1M160 22h2M163 22h2M168 22h2M172 22h2M178 22h1M182 22h1M187 22h1M194 22h3M198 22h4M204 22h2M207 22h1M210 22h1M212 22h1M214 22h1M217 22h2M220 22h1M229 22h1M237 22h1M241 22h2M246 22h1M249 22h2M259 22h2M52 23h1M77 23h2M85 23h1M88 23h1M93 23h1M96 23h1M106 23h1M118 23h1M124 23h3M128 23h3M132 23h1M135 23h1M137 23h2M141 23h2M145 23h2M148 23h2M151 23h1M160 23h5M168 23h1M174 23h1M176 23h2M179 23h1M184 23h1M192 23h2M198 23h1M201 23h2M204 23h1M207 23h1M211 23h4M217 23h2M224 23h1M228 23h1M231 23h1M240 23h2M243 23h2M249 23h3M261 23h1M48 24h1M71 24h1M79 24h2M87 24h8M96 24h1M98 24h4M103 24h4M108 24h1M111 24h5M118 24h1M120 24h5M127 24h1M131 24h1M134 24h1M137 24h2M140 24h4M145 24h1M147 24h2M150 24h1M153 24h1M156 24h1M158 24h1M160 24h1M165 24h3M170 24h1M172 24h2M176 24h1M178 24h10M189 24h5M196 24h2M199 24h1M203 24h2M207 24h1M209 24h2M212 24h1M214 24h2M219 24h3M224 24h2M228 24h1M233 24h3M237 24h1M242 24h2M245 24h1M250 24h1M253 24h2M257 24h3M261 24h1M263 24h1M87 25h4M93 25h3M97 25h2M101 25h3M106 25h5M112 25h1M114 25h4M119 25h1M121 25h4M128 25h1M130 25h1M133 25h1M135 25h1M137 25h1M142 25h1M144 25h8M156 25h3M160 25h1M162 25h3M168 25h2M171 25h4M176 25h3M181 25h1M184 25h1M190 25h3M195 25h2M198 25h2M204 25h3M208 25h1M210 25h1M214 25h3M218 25h1M221 25h1M230 25h1M241 25h3M245 25h1M250 25h1M252 25h1M255 25h1M260 25h1M262 25h1M45 26h1M87 26h1M89 26h1M110 26h1M117 26h1M120 26h1M140 26h1M155 26h1M183 26h2M189 26h1M197 26h2M202 26h1M211 26h1M214 26h2M218 26h1M222 26h1M234 26h1M238 26h1M240 26h1M245 26h1M247 26h1M252 26h2M256 26h2M261 26h1M263 26h1M71 27h1M104 27h1M107 27h1M110 27h1M116 27h1M119 27h1M122 27h1M132 27h1M139 27h1M142 27h1M158 27h1M170 27h1M172 27h3M177 27h1M180 27h1M184 27h1M191 27h1M197 27h1M199 27h1M206 27h1M214 27h2M218 27h1M226 27h1M240 27h1M245 27h1M247 27h1M254 27h1M263 27h1M76 28h1M144 28h1M154 28h1M178 28h1M181 28h1M188 28h1M190 28h1M192 28h1M197 28h1M201 28h1M205 28h1M209 28h1M214 28h1M227 28h4M243 28h1M257 28h1M260 28h1M262 28h1M109 29h1M123 29h1M126 29h1M156 29h1M173 29h2M184 29h1M186 29h1M195 29h2M199 29h1M202 29h1M212 29h1M226 29h1M238 29h1M241 29h1M244 29h2M252 29h1M258 29h1M260 29h1M262 29h1M89 30h1M91 30h3M100 30h1M106 30h1M111 30h1M113 30h3M118 30h1M120 30h1M126 30h1M144 30h1M167 30h1M174 30h1M178 30h1M190 30h1M199 30h1M207 30h1M216 30h1M219 30h2M222 30h1M224 30h1M245 30h1M248 30h1M255 30h1M82 31h1M86 31h1M96 31h1M110 31h2M113 31h1M118 31h1M128 31h1M138 31h1M143 31h1M154 31h1M156 31h2M179 31h1M183 31h1M211 31h1M215 31h1M217 31h1M219 31h1M224 31h1M236 31h1M245 31h1M249 31h1M255 31h1M257 31h2M74 32h1M76 32h1M98 32h1M100 32h1M123 32h1M130 32h1M140 32h1M150 32h1M166 32h1M172 32h1M174 32h1M178 32h1M180 32h1M186 32h2M191 32h3M203 32h2M206 32h1M215 32h1M218 32h3M224 32h1M226 32h2M239 32h3M247 32h1M253 32h1M259 32h1M262 32h2M68 33h1M70 33h1M76 33h1M80 33h1M131 33h1M149 33h1M155 33h1M161 33h2M164 33h1M172 33h1M180 33h1M208 33h2M234 33h1M17 34h1M42 34h1M69 34h1M71 34h1M73 34h2M155 34h1M161 34h1M68 35h4M74 35h1M84 35h1M180 35h1M261 35h1M0 36h2M4 36h1M11 36h1M17 36h1M25 36h2M30 36h1M33 36h1M35 36h1M39 36h1M42 36h1M45 36h2M52 36h1M54 36h1M59 36h1M61 36h2M64 36h1M73 36h2M82 36h1M85 36h1M106 36h1M122 36h1M125 36h1M148 36h1M193 36h1M209 36h1M219 36h1M228 36h1M237 36h1M0 37h2M3 37h2M6 37h1M9 37h1M11 37h1M13 37h1M15 37h2M18 37h1M20 37h3M26 37h1M28 37h4M33 37h8M42 37h1M46 37h5M52 37h1M54 37h2M57 37h6M64 37h5M71 37h1M80 37h1M85 37h1M98 37h1M108 37h1M116 37h1M118 37h1M148 37h1M208 37h1M211 37h1M233 37h1M1 38h1M42 38h1M45 38h1M51 38h1M60 38h1M73 38h2M79 38h1M107 38h1M162 38h1M194 38h1M72 39h1M103 39h3M143 39h1M150 39h1M159 39h1M163 39h1M183 39h1M188 39h1M104 40h2M142 40h1M150 40h1M157 40h1M160 40h1M165 40h1M184 40h1M188 40h1M104 41h2M135 41h1M149 41h1M154 41h1M160 41h1M163 41h1M191 41h1M74 42h1M104 42h2M154 42h1M159 42h2M181 42h1M185 42h1M188 42h1M191 42h1M74 43h1M104 43h2M156 43h1M158 43h1M160 43h1M163 43h1M165 43h1M185 43h1M190 43h2M232 43h1M73 44h1M77 44h1M104 44h2M153 44h1M184 44h1M104 45h2M150 45h1M160 45h1M175 45h1M179 45h1M104 46h2M150 46h1M158 46h1M174 46h1M104 47h2M142 47h1M155 47h1M157 47h2M165 47h1M173 47h1M175 47h1M104 48h2M142 48h1M150 48h1M164 48h1M171 48h1M173 48h1M175 48h2M180 48h1M104 49h2M135 49h1M150 49h1M155 49h1M157 49h1M159 49h1M164 49h1M97 50h1M104 50h2M104 51h2M104 52h2M0 53h1M3 53h1M5 53h1M7 53h2M26 53h1M32 53h1M38 53h1M41 53h1M44 53h1M47 53h1M49 53h1M51 53h3M55 53h1M58 53h1M63 53h2M80 53h3M85 53h1M129 53h1M131 53h1M157 53h1M163 53h1M215 53h1M227 53h1M229 53h1M236 53h1M242 53h1M246 53h1M249 53h3M258 53h2M1 54h1M3 54h1M5 54h1M18 54h1M28 54h1M41 54h1M46 54h1M48 54h1M57 54h1M59 54h1M62 54h1M64 54h1M72 54h1M74 54h1M81 54h1M136 54h1M144 54h1M153 54h1M225 54h1M236 54h2M248 54h1M253 54h1M0 55h1M2 55h1M45 55h1M53 55h1M59 55h2M64 55h1M72 55h1M76 55h2M79 55h2M134 55h1M137 55h1M139 55h1M142 55h2M149 55h2M157 55h1M163 55h2M184 55h1M208 55h1M224 55h1M232 55h1M238 55h1M240 55h1M244 55h1M249 55h3M255 55h1M72 56h1M75 56h1M82 56h1M85 56h1M137 56h1M139 56h1M146 56h1M154 56h1M227 56h2M236 56h1M243 56h1M254 56h1M70 57h1M75 57h1M83 57h2M86 57h1M133 57h1M135 57h2M140 57h1M150 57h1M156 57h2M159 57h1M225 57h1M241 57h2M245 57h1M249 57h1M251 57h1M253 57h1M258 57h2M2 58h1M4 58h1M27 58h1M46 58h2M58 58h1M67 58h1M71 58h1M73 58h1M77 58h1M80 58h1M82 58h1M153 58h1M158 58h2M163 58h1M241 58h1M246 58h1M251 58h1M255 58h1M258 58h1M71 59h1M77 59h1M80 59h1M86 59h1M128 59h1M138 59h1M140 59h2M151 59h1M154 59h1M170 59h1M221 59h1M226 59h1M229 59h1M235 59h1M241 59h1M243 59h1M259 59h1M1 60h1M4 60h1M37 60h1M40 60h1M47 60h1M51 60h1M59 60h1M67 60h1M76 60h1M79 60h1M82 60h1M84 60h1M133 60h1M138 60h1M143 60h2M147 60h2M150 60h1M162 60h1M203 60h1M210 60h1M230 60h1M235 60h4M241 60h1M254 60h1M256 60h3M262 60h2M44 61h1M46 61h1M59 61h1M66 61h2M78 61h1M81 61h1M133 61h1M138 61h1M143 61h1M145 61h1M147 61h3M153 61h2M162 61h2M229 61h1M232 61h1M240 61h1M242 61h3M4 62h2M22 62h1M54 62h1M58 62h1M62 62h2M72 62h1M74 62h1M79 62h2M132 62h1M134 62h1M138 62h1M146 62h1M150 62h2M153 62h1M171 62h1M212 62h1M226 62h1M228 62h1M231 62h1M234 62h2M242 62h1M249 62h1M251 62h1M253 62h1M257 62h2M4 63h1M10 63h1M14 63h1M24 63h1M31 63h1M34 63h2M37 63h1M39 63h1M41 63h1M45 63h3M53 63h4M58 63h1M60 63h2M67 63h1M75 63h1M83 63h1M140 63h2M159 63h2M163 63h1M207 63h1M223 63h1M225 63h1M229 63h1M243 63h1M245 63h1M250 63h2M258 63h2M3 64h1M42 64h1M48 64h1M51 64h1M60 64h1M63 64h1M66 64h1M70 64h1M75 64h1M80 64h1M83 64h1M131 64h1M139 64h1M150 64h1M170 64h1M209 64h1M215 64h1M222 64h1M225 64h1M232 64h1M235 64h1M237 64h1M241 64h1M244 64h1M246 64h1M249 64h1M52 65h1M69 65h1M72 65h2M76 65h1M81 65h1M86 65h1M133 65h2M140 65h1M143 65h1M146 65h2M149 65h1M153 65h1M157 65h1M170 65h1M222 65h1M228 65h1M243 65h1M245 65h2M252 65h2M256 65h1M263 65h1M3 66h2M24 66h1M27 66h1M45 66h1M55 66h1M75 66h1M83 66h1M124 66h1M126 66h2M129 66h1M132 66h1M134 66h1M138 66h2M144 66h1M156 66h1M168 66h1M257 66h1M261 66h1M263 66h1M0 67h1M7 67h1M25 67h1M41 67h1M61 67h1M63 67h1M75 67h1M78 67h1M82 67h2M124 67h2M132 67h2M142 67h1M148 67h1M150 67h1M153 67h1M158 67h1M160 67h1M162 67h1M170 67h1M257 67h1M2 68h3M7 68h1M9 68h1M24 68h1M27 68h1M41 68h1M46 68h1M49 68h1M51 68h1M56 68h1M62 68h1M71 68h1M129 68h1M133 68h1M135 68h1M137 68h1M142 68h1M144 68h1M147 68h1M150 68h1M153 68h1M164 68h1M194 68h1M203 68h1M207 68h1M231 68h1M253 68h1M259 68h1M262 68h1M0 69h3M25 69h1M28 69h1M30 69h2M52 69h1M57 69h2M61 69h1M74 69h2M78 69h1M125 69h1M127 69h2M133 69h1M137 69h3M141 69h1M143 69h1M148 69h1M151 69h1M162 69h2M169 69h1M171 69h1M188 69h1M207 69h1M233 69h1M235 69h1M253 69h2M259 69h2M3 70h2M19 70h1M21 70h1M27 70h1M41 70h1M51 70h1M58 70h1M61 70h3M74 70h2M79 70h1M82 70h2M106 70h1M132 70h1M134 70h1M136 70h2M142 70h1M144 70h1M149 70h1M162 70h1M168 70h1M208 70h1M212 70h1M225 70h1M256 70h4M262 70h1M0 71h2M4 71h2M25 71h1M27 71h2M30 71h1M43 71h1M51 71h1M61 71h2M71 71h1M75 71h1M78 71h1M83 71h1M129 71h1M131 71h1M148 71h2M152 71h2M158 71h1M206 71h1M213 71h1M233 71h1M254 71h1M2 72h1M5 72h1M24 72h1M27 72h1M51 72h1M57 72h1M61 72h1M71 72h1M79 72h1M83 72h1M125 72h2M132 72h2M135 72h3M140 72h1M143 72h1M150 72h2M154 72h1M168 72h1M176 72h1M202 72h1M212 72h1M258 72h2M4 73h1M54 73h1M56 73h1M62 73h1M72 73h2M75 73h1M78 73h1M83 73h1M106 73h1M124 73h1M141 73h1M156 73h1M159 73h1M176 73h1M183 73h1M189 73h1M200 73h2M205 73h1M208 73h2M214 73h2M2 74h1M24 74h1M27 74h1M31 74h1M61 74h1M74 74h1M86 74h1M124 74h1M126 74h1M130 74h1M134 74h2M142 74h2M148 74h1M150 74h2M154 74h1M159 74h1M164 74h1M166 74h2M187 74h1M201 74h1M203 74h1M208 74h2M256 74h3M1 75h2M4 75h2M54 75h1M58 75h1M63 75h1M71 75h1M78 75h1M82 75h1M124 75h1M130 75h1M136 75h1M149 75h2M154 75h1M157 75h2M161 75h4M166 75h3M208 75h1M214 75h1M262 75h1M0 76h1M5 76h3M14 76h1M17 76h1M20 76h2M24 76h1M26 76h1M30 76h2M33 76h1M40 76h1M43 76h1M52 76h1M56 76h2M60 76h1M67 76h1M75 76h1M82 76h1M86 76h1M106 76h1M125 76h1M135 76h1M137 76h1M140 76h1M152 76h1M159 76h2M170 76h1M184 76h1M223 76h1M225 76h1M227 76h1M235 76h1M237 76h1M240 76h1M244 76h1M248 76h1M251 76h1M1 77h2M5 77h1M7 77h4M13 77h1M16 77h1M19 77h3M24 77h3M28 77h1M30 77h3M37 77h1M40 77h2M46 77h1M51 77h1M56 77h1M58 77h1M62 77h1M97 77h2M108 77h2M134 77h1M139 77h2M143 77h1M156 77h2M163 77h1M170 77h1M194 77h1M204 77h3M212 77h2M215 77h1M218 77h1M221 77h1M223 77h1M226 77h1M229 77h1M231 77h1M236 77h1M240 77h2M246 77h2M259 77h1"/>
<path stroke="#eff2fb" d="M18 0h1M20 0h2M63 0h1M88 0h2M109 0h1M130 0h1M153 0h1M163 0h1M172 0h1M180 0h1M183 0h3M193 0h1M197 0h2M206 0h1M208 0h1M210 0h1M216 0h1M237 0h1M242 0h1M244 0h1M252 0h2M256 0h2M261 0h2M9 1h1M12 1h1M18 1h2M21 1h1M68 1h1M77 1h1M137 1h1M139 1h1M145 1h1M153 1h1M157 1h1M164 1h1M167 1h1M169 1h3M198 1h1M202 1h1M215 1h1M232 1h2M237 1h1M18 2h1M20 2h1M129 2h1M137 2h2M154 2h1M157 2h1M184 2h1M187 2h1M190 2h1M200 2h2M233 2h1M235 2h2M0 3h3M8 3h1M11 3h1M15 3h1M22 3h1M30 3h1M91 3h1M94 3h1M104 3h1M107 3h2M121 3h1M139 3h1M150 3h1M152 3h1M163 3h1M173 3h1M175 3h1M183 3h1M215 3h1M238 3h1M242 3h1M252 3h1M257 3h1M0 4h2M11 4h2M85 4h1M90 4h2M93 4h1M95 4h1M106 4h1M114 4h1M144 4h1M157 4h1M165 4h1M172 4h2M194 4h1M200 4h1M216 4h1M232 4h2M238 4h1M259 4h2M0 5h2M5 5h3M15 5h1M26 5h1M32 5h1M68 5h1M71 5h2M85 5h1M108 5h1M116 5h1M120 5h1M145 5h1M161 5h1M173 5h1M194 5h1M216 5h1M225 5h1M243 5h2M252 5h1M1 6h1M10 6h1M13 6h2M25 6h1M30 6h1M87 6h1M90 6h1M93 6h1M110 6h1M115 6h1M133 6h1M144 6h2M154 6h1M156 6h2M160 6h1M164 6h1M172 6h1M180 6h1M193 6h2M210 6h1M216 6h1M225 6h1M243 6h1M256 6h1M260 6h3M32 7h1M34 7h1M69 7h1M85 7h1M91 7h1M112 7h2M132 7h1M139 7h1M152 7h1M154 7h1M157 7h1M165 7h1M179 7h1M193 7h1M195 7h1M198 7h1M215 7h2M230 7h1M232 7h2M236 7h1M242 7h1M245 7h1M257 7h1M6 8h1M9 8h1M33 8h1M72 8h1M85 8h1M91 8h1M93 8h1M103 8h1M112 8h1M115 8h1M150 8h3M163 8h1M182 8h1M193 8h1M197 8h2M200 8h2M210 8h2M232 8h1M235 8h1M241 8h1M243 8h1M0 9h1M11 9h1M31 9h1M33 9h1M86 9h1M88 9h1M116 9h2M121 9h1M149 9h1M151 9h1M164 9h2M167 9h1M170 9h1M184 9h1M201 9h1M211 9h1M224 9h1M230 9h1M244 9h1M252 9h1M262 9h1M31 10h1M33 10h1M89 10h1M99 10h1M110 10h1M116 10h2M121 10h2M135 10h1M142 10h1M155 10h1M159 10h1M165 10h1M185 10h1M195 10h1M199 10h1M203 10h1M206 10h1M214 10h1M255 10h1M258 10h1M263 10h1M40 11h1M63 11h1M81 11h1M90 11h1M97 11h1M105 11h1M121 11h1M133 11h2M140 11h1M151 11h1M154 11h1M156 11h1M160 11h1M173 11h1M183 11h1M185 11h2M210 11h1M219 11h2M258 11h1M260 11h1M263 11h1M126 12h1M147 12h1M160 12h1M169 12h1M190 12h1M201 12h1M208 12h1M247 12h1M249 12h1M253 12h1M262 12h1M18 13h1M45 13h1M60 13h1M70 13h1M92 13h1M97 13h1M122 13h1M125 13h3M133 13h1M140 13h1M155 13h1M158 13h1M172 13h1M179 13h1M186 13h3M190 13h1M193 13h1M217 13h2M238 13h1M242 13h1M250 13h1M254 13h3M258 13h1M0 14h1M13 14h1M68 14h1M70 14h2M81 14h1M139 14h1M142 14h1M151 14h1M155 14h1M167 14h1M172 14h1M181 14h1M193 14h1M197 14h1M201 14h1M218 14h1M229 14h1M246 14h1M263 14h1M26 15h1M81 15h1M97 15h1M135 15h1M140 15h1M151 15h1M156 15h1M158 15h1M160 15h2M163 15h1M185 15h1M188 15h1M196 15h1M225 15h1M237 15h1M244 15h1M256 15h1M17 16h2M40 16h1M48 16h2M68 16h2M72 16h2M144 16h1M155 16h1M162 16h1M165 16h3M175 16h1M179 16h1M190 16h1M203 16h1M214 16h1M235 16h1M243 16h1M263 16h1M70 17h2M129 17h2M141 17h2M145 17h1M150 17h1M158 17h1M174 17h1M177 17h2M180 17h1M183 17h1M203 17h1M217 17h1M241 17h1M245 17h1M262 17h1M127 18h1M76 19h1M89 19h1M101 19h1M109 19h1M113 19h1M134 19h1M143 19h1M172 19h1M182 19h1M190 19h1M201 19h1M208 19h1M220 19h1M234 19h1M246 19h1M250 19h1M252 19h1M255 19h2M260 19h1M263 19h1M60 20h1M68 20h1M71 20h2M78 20h1M82 20h1M87 20h1M90 20h1M94 20h1M96 20h1M100 20h2M103 20h2M110 20h1M113 20h1M119 20h1M121 20h1M125 20h3M130 20h1M132 20h1M134 20h2M140 20h3M145 20h2M149 20h3M161 20h1M163 20h7M172 20h1M179 20h1M183 20h1M191 20h1M196 20h2M201 20h2M205 20h2M212 20h3M216 20h1M220 20h1M222 20h1M224 20h1M234 20h2M238 20h1M240 20h2M243 20h1M245 20h3M250 20h1M255 20h1M259 20h1M78 21h1M83 21h1M86 21h1M109 21h1M125 21h1M129 21h1M132 21h1M136 21h1M138 21h1M149 21h1M155 21h1M159 21h1M161 21h1M168 21h1M182 21h1M195 21h1M199 21h1M214 21h1M217 21h1M227 21h2M238 21h1M242 21h1M250 21h1M259 21h1M68 22h1M73 22h3M78 22h1M81 22h2M228 22h1M236 22h1M47 23h1M68 23h1M71 23h1M74 23h2M80 23h1M167 23h1M194 23h1M206 23h1M242 23h1M248 23h1M74 24h1M102 24h1M109 24h2M117 24h1M119 24h1M125 24h2M128 24h3M132 24h2M135 24h2M139 24h1M144 24h1M146 24h1M149 24h1M151 24h2M154 24h2M157 24h1M159 24h1M162 24h3M168 24h2M174 24h1M195 24h1M200 24h1M202 24h1M206 24h1M208 24h1M211 24h1M213 24h1M217 24h1M223 24h1M239 24h1M241 24h1M244 24h1M247 24h1M249 24h1M260 24h1M47 25h1M60 25h1M68 25h1M71 25h1M78 25h1M81 25h2M138 25h1M141 25h1M167 25h1M193 25h2M212 25h2M217 25h1M224 25h1M226 25h2M239 25h2M244 25h1M248 25h1M79 26h1M109 26h1M125 26h1M133 26h1M135 26h1M154 26h1M158 26h1M166 26h1M177 26h2M190 26h2M200 26h2M204 26h2M210 26h1M212 26h1M228 26h1M249 26h1M2 27h1M77 27h1M81 27h1M84 27h1M89 27h1M133 27h1M153 27h2M162 27h1M165 27h1M179 27h1M183 27h1M209 27h2M213 27h1M220 27h1M234 27h1M241 27h1M246 27h1M253 27h1M258 27h2M71 28h1M130 28h1M162 28h1M169 28h1M177 28h1M179 28h1M185 28h1M193 28h2M199 28h1M203 28h1M223 28h2M235 28h1M240 28h2M249 28h1M254 28h1M258 28h1M31 29h1M73 29h1M80 29h1M82 29h2M125 29h1M130 29h1M155 29h1M167 29h1M171 29h1M175 29h1M177 29h3M194 29h1M198 29h1M206 29h1M219 29h2M222 29h1M228 29h1M246 29h1M253 29h1M71 30h1M94 30h1M130 30h1M140 30h1M172 30h1M175 30h1M179 30h1M182 30h2M185 30h2M194 30h3M223 30h1M229 30h1M235 30h1M242 30h1M246 30h2M256 30h1M260 30h1M77 31h1M108 31h1M124 31h1M136 31h1M158 31h1M163 31h1M165 31h3M174 31h1M176 31h3M182 31h1M194 31h1M196 31h2M205 31h1M210 31h1M213 31h2M222 31h1M227 31h1M238 31h2M248 31h1M260 31h1M72 32h1M75 32h1M115 32h1M119 32h2M132 32h1M137 32h1M141 32h1M145 32h1M154 32h3M163 32h1M169 32h1M173 32h1M175 32h2M179 32h1M190 32h1M195 32h1M205 32h1M208 32h1M211 32h1M233 32h1M235 32h2M250 32h2M260 32h1M45 33h1M69 33h1M75 33h1M82 33h1M95 33h1M97 33h1M108 33h1M113 33h1M121 33h1M129 33h1M132 33h1M250 33h1M41 34h1M72 34h1M75 34h1M81 34h1M84 34h1M122 34h1M129 34h1M163 34h1M167 34h1M194 34h1M234 34h1M82 35h1M164 35h1M184 35h1M224 35h1M69 36h1M75 36h1M81 36h1M112 36h1M118 36h1M130 36h1M133 36h1M160 36h1M163 36h1M203 36h1M224 36h1M232 36h1M234 36h1M242 36h1M244 36h1M248 36h1M250 36h1M12 37h1M14 37h1M17 37h1M41 37h1M43 37h3M75 37h1M81 37h2M86 37h1M121 37h1M164 37h1M195 37h1M202 37h1M206 37h1M230 37h1M235 37h1M244 37h1M249 37h1M17 38h1M72 38h1M82 38h2M87 38h1M93 38h1M108 38h1M112 38h1M119 38h1M121 38h1M130 38h2M163 38h1M167 38h1M172 38h1M233 38h1M119 39h1M125 39h1M134 39h2M154 39h2M165 39h2M125 40h1M143 40h1M155 40h1M163 40h1M125 41h1M134 41h1M150 41h1M153 41h1M156 41h1M159 41h1M165 41h2M135 42h1M143 42h1M149 42h1M155 42h2M163 42h1M165 42h1M93 43h1M96 43h1M124 43h1M153 43h2M166 43h1M134 44h1M149 44h2M154 44h1M156 44h1M163 44h1M165 44h1M117 45h1M119 45h1M135 45h1M142 45h1M149 45h1M154 45h1M172 45h1M176 45h1M102 46h1M124 46h2M154 46h1M159 46h1M164 46h1M170 46h2M175 46h2M180 46h1M96 47h1M143 47h1M149 47h1M159 47h2M171 47h1M179 47h2M118 48h1M154 48h2M157 48h1M159 48h2M163 48h1M165 48h2M172 48h1M178 48h2M132 49h1M165 49h1M179 49h2M157 50h1M163 50h2M103 51h1M143 51h1M173 51h1M180 51h1M211 51h1M232 51h1M118 52h1M121 52h1M143 52h1M15 53h1M43 53h1M50 53h1M65 53h2M69 53h1M71 53h1M76 53h3M84 53h1M105 53h1M128 53h1M135 53h1M140 53h1M156 53h1M158 53h2M168 53h1M210 53h1M212 53h1M217 53h1M224 53h1M226 53h1M228 53h1M234 53h2M237 53h4M243 53h2M255 53h1M257 53h1M4 54h1M38 54h1M66 54h3M71 54h1M79 54h2M86 54h1M129 54h1M133 54h2M137 54h1M147 54h1M154 54h1M158 54h1M162 54h1M222 54h1M226 54h1M235 54h1M242 54h1M258 54h1M263 54h1M66 55h1M82 55h1M106 55h1M125 55h1M136 55h1M144 55h1M146 55h1M148 55h1M153 55h2M156 55h1M158 55h1M212 55h1M222 55h1M227 55h1M234 55h1M241 55h1M252 55h1M258 55h2M263 55h1M68 56h1M70 56h2M73 56h1M77 56h1M81 56h1M84 56h1M125 56h2M132 56h1M134 56h1M143 56h2M147 56h1M149 56h1M159 56h1M162 56h1M223 56h1M226 56h1M232 56h1M237 56h1M240 56h1M244 56h1M251 56h1M255 56h1M257 56h2M73 57h1M76 57h2M80 57h2M127 57h2M131 57h1M134 57h1M139 57h1M142 57h1M147 57h1M162 57h1M168 57h1M203 57h1M222 57h1M227 57h1M232 57h2M236 57h2M240 57h1M243 57h1M254 57h1M263 57h1M74 58h1M78 58h1M83 58h1M85 58h1M132 58h1M150 58h1M154 58h1M157 58h1M171 58h1M203 58h1M223 58h2M228 58h1M235 58h1M250 58h1M68 59h1M72 59h1M76 59h1M129 59h1M133 59h3M137 59h1M147 59h1M152 59h2M157 59h1M162 59h1M187 59h1M206 59h1M212 59h1M223 59h1M225 59h1M227 59h1M233 59h1M248 59h3M257 59h1M260 59h1M44 60h1M66 60h1M69 60h1M72 60h1M78 60h1M81 60h1M85 60h1M105 60h1M125 60h2M128 60h1M131 60h1M135 60h3M152 60h2M158 60h2M168 60h1M199 60h2M208 60h1M215 60h1M218 60h1M223 60h1M225 60h1M228 60h1M233 60h2M242 60h1M244 60h2M247 60h2M253 60h1M70 61h2M74 61h1M76 61h2M80 61h1M82 61h1M86 61h1M106 61h1M129 61h2M136 61h2M141 61h1M146 61h1M156 61h1M158 61h1M164 61h1M166 61h1M168 61h1M215 61h1M225 61h1M231 61h1M235 61h1M238 61h1M241 61h1M245 61h2M253 61h1M255 61h1M258 61h3M263 61h1M1 62h1M53 62h1M59 62h2M65 62h3M70 62h1M76 62h1M86 62h1M105 62h1M124 62h1M131 62h1M136 62h1M158 62h2M162 62h1M164 62h1M170 62h1M207 62h1M209 62h2M214 62h2M225 62h1M229 62h1M236 62h1M241 62h1M243 62h1M254 62h1M1 63h1M44 63h1M48 63h2M51 63h1M65 63h1M72 63h3M76 63h2M80 63h1M82 63h1M84 63h1M86 63h1M127 63h1M132 63h1M134 63h1M136 63h2M139 63h1M142 63h1M147 63h1M153 63h1M158 63h1M171 63h1M194 63h1M214 63h1M224 63h1M236 63h1M244 63h1M247 63h1M255 63h2M263 63h1M52 64h1M71 64h1M74 64h1M77 64h1M81 64h1M106 64h1M124 64h1M127 64h1M132 64h1M147 64h1M155 64h1M157 64h1M162 64h1M167 64h1M171 64h1M191 64h1M202 64h1M206 64h1M208 64h1M211 64h1M218 64h1M226 64h1M230 64h1M234 64h1M243 64h1M247 64h2M250 64h1M252 64h1M254 64h1M257 64h3M83 65h1M85 65h1M106 65h1M126 65h1M128 65h2M131 65h1M135 65h1M150 65h1M155 65h1M159 65h1M208 65h1M211 65h1M218 65h1M223 65h1M225 65h1M227 65h1M238 65h1M244 65h1M254 65h1M257 65h1M259 65h2M1 66h1M30 66h1M41 66h1M46 66h1M48 66h1M53 66h2M61 66h1M74 66h1M76 66h2M82 66h1M131 66h1M147 66h2M150 66h1M154 66h2M158 66h1M165 66h1M202 66h1M207 66h1M210 66h2M218 66h1M253 66h1M259 66h2M24 67h1M29 67h2M47 67h1M49 67h1M53 67h1M56 67h1M127 67h1M143 67h2M154 67h1M159 67h1M168 67h1M208 67h1M210 67h1M212 67h1M215 67h1M217 67h1M252 67h1M258 67h1M263 67h1M42 68h1M48 68h1M50 68h1M52 68h1M57 68h1M61 68h1M63 68h1M72 68h2M82 68h2M128 68h1M130 68h1M132 68h1M138 68h1M151 68h2M156 68h2M165 68h1M170 68h1M209 68h1M218 68h1M257 68h1M263 68h1M5 69h1M40 69h2M48 69h1M55 69h2M76 69h1M79 69h2M124 69h1M129 69h3M150 69h1M153 69h1M156 69h2M172 69h1M218 69h1M252 69h1M262 69h1M1 70h1M25 70h1M49 70h1M54 70h2M64 70h1M125 70h2M130 70h1M141 70h1M147 70h1M154 70h1M156 70h1M158 70h3M213 70h1M218 70h1M29 71h1M55 71h1M58 71h1M60 71h1M67 71h1M80 71h1M105 71h1M126 71h1M134 71h1M142 71h1M150 71h1M154 71h1M159 71h1M164 71h1M169 71h1M171 71h1M208 71h1M220 71h1M252 71h1M257 71h3M262 71h1M4 72h1M28 72h1M30 72h1M53 72h1M56 72h1M58 72h1M64 72h1M74 72h1M81 72h1M84 72h1M131 72h1M156 72h1M158 72h1M163 72h1M189 72h1M193 72h1M206 72h1M210 72h1M215 72h1M221 72h1M252 72h1M257 72h1M53 73h1M60 73h1M64 73h1M70 73h1M74 73h1M77 73h1M81 73h1M86 73h1M130 73h1M153 73h1M170 73h1M181 73h1M186 73h2M194 73h1M198 73h1M204 73h1M210 73h1M260 73h4M4 74h1M42 74h1M46 74h1M63 74h1M71 74h2M77 74h1M125 74h1M127 74h1M129 74h1M138 74h1M146 74h2M156 74h1M160 74h1M170 74h2M194 74h1M199 74h1M202 74h1M204 74h1M210 74h1M212 74h1M215 74h1M252 74h2M260 74h2M263 74h1M46 75h2M49 75h1M51 75h1M53 75h1M67 75h1M74 75h1M81 75h1M83 75h1M106 75h1M125 75h1M129 75h1M142 75h1M147 75h1M170 75h2M173 75h1M180 75h1M190 75h1M194 75h1M202 75h1M215 75h1M260 75h2M1 76h1M4 76h1M8 76h1M11 76h1M47 76h1M55 76h1M71 76h1M128 76h1M130 76h2M133 76h2M136 76h1M148 76h1M158 76h1M169 76h1M176 76h1M187 76h1M194 76h1M205 76h1M228 76h2M231 76h3M236 76h1M238 76h1M241 76h1M245 76h1M256 76h4M0 77h1M3 77h2M11 77h1M18 77h1M29 77h1M43 77h1M45 77h1M47 77h2M55 77h1M63 77h3M67 77h1M89 77h1M96 77h1M111 77h1M118 77h1M121 77h1M125 77h3M130 77h3M135 77h1M137 77h2M142 77h1M144 77h1M146 77h2M150 77h1M152 77h3M186 77h1M188 77h1M196 77h1M211 77h1M222 77h1M227 77h1M232 77h1M235 77h1M237 77h3M242 77h1M249 77h1M252 77h2M255 77h4M260 77h2"/>
<path stroke="#ffffff" d="M17 0h1M22 0h1M27 0h1M69 0h1M103 0h1M128 0h1M138 0h2M159 0h1M181 0h1M194 0h2M211 0h1M227 0h1M230 0h1M2 1h1M20 1h1M31 1h1M33 1h1M70 1h1M73 1h1M81 1h1M128 1h1M130 1h1M133 1h1M138 1h1M144 1h1M172 1h1M179 1h1M184 1h3M188 1h1M203 1h1M242 1h1M244 1h2M3 2h3M16 2h1M21 2h1M26 2h1M32 2h2M45 2h1M52 2h1M63 2h1M70 2h1M84 2h1M107 2h1M127 2h1M139 2h1M149 2h1M151 2h3M169 2h1M171 2h1M179 2h1M191 2h1M193 2h3M198 2h2M211 2h1M230 2h1M232 2h1M241 2h1M256 2h1M27 3h1M33 3h1M36 3h1M68 3h2M86 3h1M88 3h2M93 3h1M103 3h1M112 3h2M117 3h1M128 3h1M160 3h1M164 3h2M169 3h1M181 3h1M189 3h1M193 3h1M201 3h1M211 3h1M225 3h1M230 3h1M232 3h1M237 3h1M243 3h2M261 3h1M7 4h1M25 4h1M27 4h1M30 4h1M63 4h1M68 4h1M86 4h1M89 4h1M112 4h1M115 4h3M121 4h1M163 4h1M181 4h1M201 4h2M211 4h1M215 4h1M224 4h2M235 4h1M261 4h1M24 5h2M27 5h1M69 5h1M89 5h1M103 5h1M113 5h1M117 5h1M121 5h1M153 5h1M163 5h1M165 5h1M172 5h1M179 5h1M184 5h1M190 5h1M193 5h1M198 5h1M236 5h2M256 5h2M260 5h1M262 5h2M11 6h1M23 6h1M26 6h1M68 6h2M71 6h2M88 6h2M113 6h1M117 6h1M128 6h1M165 6h1M224 6h1M235 6h4M242 6h1M244 6h1M25 7h1M27 7h1M29 7h2M35 7h1M63 7h2M103 7h1M111 7h1M116 7h5M130 7h1M137 7h1M145 7h1M150 7h1M153 7h1M159 7h2M169 7h3M194 7h1M202 7h2M7 8h1M27 8h1M31 8h1M36 8h1M39 8h1M68 8h2M77 8h1M86 8h1M88 8h1M111 8h1M113 8h1M116 8h2M133 8h1M154 8h1M160 8h1M171 8h1M181 8h1M194 8h1M199 8h1M237 8h1M242 8h1M25 9h1M29 9h2M35 9h1M63 9h1M70 9h1M76 9h2M80 9h1M113 9h2M129 9h1M152 9h2M155 9h1M157 9h1M159 9h2M171 9h1M180 9h2M189 9h1M197 9h2M225 9h1M236 9h2M241 9h1M243 9h1M245 9h1M2 10h1M14 10h1M17 10h1M25 10h1M48 10h1M68 10h1M98 10h1M120 10h1M126 10h2M130 10h1M132 10h1M141 10h1M144 10h1M157 10h1M160 10h1M167 10h1M173 10h1M184 10h1M189 10h1M196 10h1M205 10h1M217 10h1M242 10h1M248 10h3M2 11h1M5 11h1M46 11h1M52 11h1M61 11h1M69 11h1M71 11h1M122 11h1M124 11h3M130 11h3M143 11h2M149 11h1M155 11h1M158 11h2M162 11h1M179 11h1M181 11h1M192 11h1M199 11h1M201 11h1M204 11h1M209 11h1M214 11h1M242 11h1M247 11h1M253 11h1M261 11h1M6 12h1M13 12h1M16 12h1M46 12h1M52 12h1M67 12h1M127 12h1M130 12h1M138 12h1M144 12h2M162 12h1M177 12h1M182 12h1M187 12h1M192 12h1M215 12h2M219 12h1M225 12h1M241 12h1M252 12h1M256 12h1M263 12h1M8 13h1M15 13h1M25 13h1M33 13h1M40 13h1M82 13h1M86 13h1M96 13h1M111 13h1M136 13h1M143 13h1M146 13h1M154 13h1M160 13h2M180 13h1M209 13h1M219 13h1M234 13h1M245 13h1M262 13h1M25 14h1M69 14h1M134 14h1M143 14h1M159 14h1M173 14h1M180 14h1M188 14h1M196 14h1M206 14h1M215 14h1M223 14h2M239 14h1M242 14h1M251 14h1M253 14h1M261 14h1M1 15h1M13 15h1M24 15h1M71 15h1M127 15h1M141 15h1M149 15h1M162 15h1M183 15h1M186 15h1M201 15h1M209 15h1M211 15h1M221 15h1M229 15h1M233 15h1M238 15h1M245 15h2M248 15h1M250 15h1M253 15h1M260 15h2M5 16h1M13 16h1M51 16h1M63 16h1M82 16h1M125 16h1M137 16h2M149 16h1M174 16h1M187 16h1M215 16h1M225 16h1M239 16h3M249 16h1M258 16h2M261 16h1M0 17h1M68 17h1M75 17h1M81 17h1M126 17h1M137 17h1M154 17h1M161 17h2M167 17h1M181 17h1M186 17h1M193 17h1M211 17h1M214 17h1M216 17h1M234 17h1M249 17h1M68 19h1M110 19h1M138 19h2M147 19h1M154 19h1M159 19h1M173 19h1M175 19h1M186 19h1M191 19h1M194 19h1M196 19h2M199 19h1M211 19h1M218 19h1M241 19h1M247 19h1M74 20h2M83 20h1M162 20h1M175 20h1M198 20h1M242 20h1M70 21h1M75 21h1M77 21h1M79 21h1M82 21h1M84 21h1M26 22h2M70 22h2M69 23h2M73 23h1M82 23h1M84 23h1M247 23h1M68 24h2M72 24h2M75 24h1M78 24h1M161 24h1M226 24h1M8 25h1M48 25h1M79 25h1M83 25h2M86 25h1M249 25h1M71 26h1M77 26h1M124 26h1M126 26h1M128 26h1M137 26h1M145 26h1M156 26h1M160 26h1M168 26h1M175 26h1M192 26h1M209 26h1M217 26h1M224 26h2M241 26h1M243 26h1M250 26h1M260 26h1M46 27h1M72 27h1M79 27h1M134 27h1M137 27h1M156 27h1M169 27h1M175 27h1M193 27h2M196 27h1M208 27h1M211 27h1M238 27h1M248 27h1M256 27h1M260 27h1M262 27h1M53 28h1M68 28h1M83 28h1M85 28h2M128 28h2M131 28h1M138 28h1M158 28h1M174 28h1M184 28h1M191 28h1M195 28h1M225 28h1M245 28h2M250 28h1M252 28h2M7 29h1M12 29h1M61 29h1M79 29h1M128 29h1M134 29h1M137 29h1M139 29h1M144 29h2M158 29h2M161 29h1M176 29h1M193 29h1M197 29h1M204 29h1M209 29h1M211 29h1M213 29h1M217 29h1M224 29h2M227 29h1M235 29h1M239 29h1M242 29h1M249 29h2M72 30h1M75 30h2M78 30h2M109 30h1M119 30h1M137 30h1M160 30h1M191 30h1M193 30h1M203 30h1M209 30h1M217 30h1M227 30h1M238 30h2M241 30h1M243 30h1M258 30h2M262 30h2M26 31h1M73 31h1M75 31h1M78 31h1M133 31h1M135 31h1M141 31h1M153 31h1M155 31h1M162 31h1M168 31h2M173 31h1M191 31h1M193 31h1M198 31h1M206 31h1M212 31h1M225 31h1M234 31h2M241 31h4M250 31h1M253 31h1M259 31h1M77 32h2M82 32h1M84 32h1M110 32h1M124 32h2M128 32h1M131 32h1M133 32h1M138 32h2M144 32h1M157 32h1M160 32h1M183 32h1M197 32h1M199 32h1M201 32h1M207 32h1M209 32h1M228 32h1M244 32h3M248 32h1M252 32h1M258 32h1M81 33h1M85 33h1M101 33h1M107 33h1M115 33h1M144 33h1M152 33h1M156 33h1M165 33h1M168 33h1M171 33h1M186 33h1M194 33h1M204 33h1M225 33h1M233 33h1M235 33h1M249 33h1M262 33h1M85 34h1M106 34h1M108 34h2M117 34h1M131 34h1M147 34h1M154 34h1M164 34h1M168 34h1M183 34h1M186 34h1M193 34h1M209 34h1M226 34h1M235 34h1M246 34h1M249 34h1M75 35h1M81 35h1M85 35h2M108 35h1M116 35h1M122 35h1M129 35h1M131 35h1M144 35h1M148 35h2M156 35h1M162 35h1M193 35h2M196 35h1M234 35h2M262 35h1M101 36h1M107 36h2M110 36h1M116 36h1M126 36h2M158 36h1M180 36h1M194 36h2M200 36h1M245 36h1M247 36h1M261 36h1M87 37h1M91 37h1M94 37h1M106 37h1M109 37h1M112 37h1M119 37h1M131 37h1M144 37h1M150 37h1M154 37h2M159 37h1M162 37h1M194 37h1M200 37h1M203 37h1M210 37h1M226 37h1M236 37h1M245 37h1M247 37h1M75 38h2M91 38h1M95 38h1M97 38h1M103 38h1M118 38h1M129 38h1M132 38h1M135 38h1M148 38h2M155 38h1M180 38h1M190 38h2M200 38h1M235 38h1M244 38h1M249 38h1M256 38h1M79 39h1M81 39h1M132 39h2M139 39h3M153 39h1M160 39h1M215 39h1M79 40h1M81 40h1M111 40h1M114 40h1M118 40h1M126 40h1M149 40h1M153 40h2M156 40h1M161 40h1M166 40h1M233 40h1M79 41h1M81 41h1M97 41h1M142 41h1M155 41h1M161 41h2M79 42h1M81 42h1M115 42h1M124 42h1M132 42h1M150 42h1M153 42h1M166 42h1M79 43h1M81 43h1M87 43h1M120 43h1M135 43h1M155 43h1M157 43h1M161 43h1M211 43h1M79 44h1M81 44h1M95 44h1M117 44h1M119 44h1M123 44h1M135 44h1M138 44h1M143 44h1M155 44h1M162 44h1M79 45h1M81 45h1M96 45h1M102 45h1M158 45h2M161 45h1M166 45h1M171 45h1M79 46h1M81 46h1M103 46h1M118 46h1M121 46h1M135 46h1M155 46h1M162 46h1M166 46h1M173 46h1M211 46h1M79 47h1M81 47h1M118 47h1M121 47h1M124 47h1M144 47h2M154 47h1M156 47h1M178 47h1M254 47h1M261 47h1M79 48h1M81 48h1M95 48h1M102 48h1M117 48h1M121 48h1M156 48h1M161 48h1M79 49h1M81 49h1M92 49h1M102 49h1M116 49h1M141 49h1M149 49h1M154 49h1M156 49h1M166 49h1M171 49h1M175 49h1M177 49h2M186 49h1M238 49h1M79 50h1M81 50h1M102 50h2M116 50h2M119 50h1M135 50h1M151 50h2M160 50h1M79 51h1M81 51h1M95 51h3M116 51h2M119 51h1M154 51h1M159 51h1M174 51h1M79 52h1M81 52h1M96 52h1M102 52h1M117 52h1M119 52h1M123 52h1M151 52h1M159 52h2M172 52h1M232 52h1M68 53h1M70 53h1M125 53h2M136 53h1M139 53h1M148 53h1M162 53h1M179 53h1M189 53h1M207 53h2M222 53h1M225 53h1M230 53h1M232 53h1M245 53h1M253 53h1M260 53h2M69 54h2M78 54h1M127 54h1M141 54h1M149 54h2M155 54h3M159 54h1M170 54h1M194 54h1M206 54h5M223 54h2M231 54h2M234 54h1M238 54h3M251 54h2M69 55h1M73 55h1M83 55h1M85 55h1M126 55h1M132 55h1M138 55h1M141 55h1M160 55h1M162 55h1M169 55h2M173 55h1M176 55h1M180 55h1M200 55h1M204 55h1M218 55h1M228 55h1M231 55h1M233 55h1M237 55h1M239 55h1M253 55h1M257 55h1M76 56h1M86 56h1M124 56h1M136 56h1M148 56h1M153 56h1M156 56h1M163 56h2M169 56h1M194 56h1M203 56h1M206 56h1M214 56h1M218 56h1M229 56h1M234 56h1M239 56h1M245 56h1M249 56h1M259 56h1M85 57h1M124 57h1M126 57h1M137 57h1M143 57h1M148 57h1M154 57h1M161 57h1M180 57h1M188 57h1M199 57h1M201 57h2M208 57h1M223 57h1M231 57h1M235 57h1M239 57h1M252 57h1M257 57h1M72 58h1M76 58h1M79 58h1M84 58h1M86 58h1M126 58h1M133 58h2M137 58h3M143 58h1M148 58h2M167 58h1M207 58h1M211 58h1M222 58h1M226 58h2M229 58h1M242 58h4M249 58h1M254 58h1M69 59h1M84 59h1M106 59h1M126 59h1M130 59h1M132 59h1M139 59h1M142 59h3M150 59h1M155 59h1M158 59h2M164 59h1M171 59h1M184 59h1M188 59h2M230 59h1M237 59h1M245 59h1M258 59h1M65 60h1M70 60h2M77 60h1M80 60h1M98 60h1M129 60h1M134 60h1M142 60h1M151 60h1M154 60h1M157 60h1M167 60h1M171 60h1M180 60h1M209 60h1M239 60h1M73 61h1M75 61h1M105 61h1M131 61h2M134 61h1M157 61h1M159 61h2M167 61h1M170 61h2M187 61h2M203 61h1M208 61h2M212 61h1M214 61h1M222 61h1M224 61h1M226 61h2M233 61h1M236 61h1M248 61h1M262 61h1M44 62h1M69 62h1M71 62h1M73 62h1M77 62h1M81 62h1M84 62h2M126 62h1M129 62h1M133 62h1M137 62h1M148 62h1M152 62h1M154 62h1M176 62h1M184 62h1M202 62h3M208 62h1M217 62h2M222 62h1M230 62h1M232 62h1M238 62h1M247 62h1M250 62h1M259 62h2M57 63h1M59 63h1M64 63h1M66 63h1M70 63h1M85 63h1M106 63h1M125 63h1M129 63h1M135 63h1M146 63h1M149 63h1M151 63h1M154 63h1M162 63h1M168 63h1M184 63h1M209 63h1M215 63h1M218 63h1M222 63h1M227 63h2M230 63h1M233 63h1M235 63h1M249 63h1M254 63h1M257 63h1M67 64h3M76 64h1M79 64h1M85 64h1M135 64h1M138 64h1M142 64h1M149 64h1M154 64h1M156 64h1M168 64h1M189 64h1M210 64h1M223 64h1M227 64h1M233 64h1M238 64h1M242 64h1M253 64h1M70 65h1M84 65h1M125 65h1M127 65h1M136 65h1M138 65h1M142 65h1M154 65h1M168 65h1M194 65h1M199 65h1M206 65h1M212 65h1M214 65h2M224 65h1M231 65h1M235 65h1M239 65h1M242 65h1M44 66h1M49 66h1M60 66h1M71 66h1M105 66h1M152 66h1M164 66h1M170 66h1M189 66h1M203 66h1M206 66h1M215 66h1M4 67h1M31 67h1M42 67h1M46 67h1M48 67h1M50 67h3M64 67h1M71 67h1M76 67h1M84 67h1M86 67h1M105 67h1M126 67h1M128 67h1M130 67h1M169 67h1M188 67h1M194 67h1M202 67h2M214 67h1M259 67h2M43 68h3M53 68h2M77 68h1M79 68h2M124 68h3M134 68h1M162 68h1M167 68h1M172 68h1M181 68h1M187 68h1M200 68h1M206 68h1M212 68h1M214 68h1M252 68h1M4 69h1M42 69h1M45 69h2M51 69h1M53 69h1M63 69h1M66 69h1M69 69h1M84 69h1M86 69h1M135 69h1M149 69h1M155 69h1M159 69h2M166 69h1M176 69h1M181 69h1M194 69h1M199 69h2M202 69h1M211 69h2M216 69h1M261 69h1M30 70h1M47 70h1M50 70h1M56 70h1M71 70h1M76 70h1M78 70h1M80 70h1M129 70h1M131 70h1M138 70h1M148 70h1M150 70h2M176 70h1M180 70h1M184 70h1M188 70h1M201 70h1M203 70h1M209 70h1M253 70h1M45 71h1M53 71h2M59 71h1M64 71h2M72 71h1M74 71h1M82 71h1M84 71h1M106 71h1M127 71h2M132 71h1M139 71h1M147 71h1M162 71h1M167 71h1M180 71h1M209 71h1M215 71h1M218 71h1M29 72h1M41 72h1M46 72h2M52 72h1M60 72h1M63 72h1M67 72h1M77 72h1M86 72h1M128 72h1M138 72h1M149 72h1M160 72h1M164 72h1M166 72h1M173 72h1M183 72h1M194 72h1M205 72h1M261 72h1M66 73h2M85 73h1M101 73h1M125 73h1M150 73h2M161 73h1M164 73h1M166 73h2M169 73h1M177 73h1M180 73h1M182 73h1M188 73h1M190 73h1M197 73h1M218 73h1M220 73h1M45 74h1M54 74h2M58 74h2M64 74h1M76 74h1M80 74h1M83 74h1M136 74h1M162 74h1M165 74h1M168 74h1M180 74h1M190 74h1M211 74h1M214 74h1M217 74h1M220 74h1M262 74h1M43 75h1M50 75h1M55 75h1M60 75h1M75 75h1M77 75h1M105 75h1M126 75h1M128 75h1M131 75h1M153 75h1M155 75h2M176 75h1M187 75h3M193 75h1M207 75h1M211 75h1M213 75h1M253 75h1M2 76h1M45 76h1M50 76h1M61 76h1M63 76h1M76 76h2M105 76h1M124 76h1M132 76h1M151 76h1M153 76h1M156 76h1M179 76h2M186 76h1M188 76h1M200 76h1M206 76h1M212 76h2M215 76h1M253 76h1M263 76h1M42 77h1M44 77h1M49 77h1M52 77h1M60 77h1M71 77h1M75 77h1M78 77h1M81 77h1M94 77h1M103 77h1M116 77h1M129 77h1M148 77h2M159 77h1M169 77h1M176 77h1M184 77h2M195 77h1M199 77h1M208 77h3M214 77h1M216 77h1M219 77h1M230 77h1M233 77h2M262 77h1"/>
<path stroke="#fbeaea" d="M4 0h1M13 0h1M19 0h1M26 0h1M30 0h1M33 0h1M64 0h1M68 0h1M72 0h2M81 0h1M83 0h2M86 0h1M132 0h1M151 0h2M154 0h1M171 0h1M179 0h1M191 0h1M196 0h1M200 0h3M223 0h1M225 0h1M234 0h1M3 1h2M6 1h1M13 1h1M17 1h1M22 1h2M26 1h1M30 1h1M32 1h1M39 1h1M42 1h1M45 1h1M52 1h1M61 1h2M72 1h1M76 1h1M80 1h1M86 1h1M159 1h1M161 1h1M182 1h1M187 1h1M193 1h1M197 1h1M199 1h1M241 1h1M8 2h2M12 2h1M28 2h1M36 2h1M38 2h2M42 2h1M51 2h1M64 2h1M69 2h1M73 2h1M76 2h2M81 2h1M130 2h1M155 2h1M161 2h1M182 2h1M185 2h1M188 2h1M192 2h1M196 2h1M203 2h1M210 2h1M215 2h1M234 2h1M262 2h1M7 3h1M25 3h1M28 3h1M32 3h1M38 3h1M41 3h1M63 3h1M111 3h1M116 3h1M138 3h1M144 3h2M151 3h1M153 3h1M167 3h1M170 3h1M184 3h1M199 3h1M236 3h1M32 4h4M64 4h1M69 4h1M103 4h1M111 4h1M127 4h1M133 4h1M139 4h1M151 4h1M155 4h1M160 4h1M164 4h1M167 4h1M169 4h1M171 4h1M184 4h1M189 4h1M195 4h1M198 4h1M203 4h1M236 4h1M245 4h1M30 5h2M40 5h2M51 5h1M77 5h1M84 5h1M86 5h1M114 5h1M128 5h1M133 5h1M138 5h2M149 5h2M157 5h1M167 5h1M170 5h1M180 5h1M201 5h2M210 5h2M232 5h2M241 5h1M7 6h1M31 6h2M77 6h1M85 6h1M103 6h1M112 6h1M116 6h1M127 6h1M163 6h1M167 6h1M170 6h1M173 6h1M184 6h1M189 6h1M195 6h1M200 6h2M233 6h1M257 6h1M263 6h1M28 7h1M37 7h1M60 7h1M73 7h1M77 7h1M80 7h1M84 7h1M114 7h1M121 7h1M127 7h1M129 7h1M138 7h1M162 7h1M167 7h2M173 7h1M180 7h1M182 7h1M196 7h2M211 7h1M241 7h1M28 8h1M32 8h1M41 8h1M82 8h1M114 8h1M120 8h2M130 8h1M136 8h1M138 8h2M144 8h1M165 8h1M169 8h2M172 8h2M180 8h1M185 8h1M202 8h2M225 8h1M236 8h1M252 8h1M32 9h1M41 9h1M68 9h1M78 9h1M81 9h1M84 9h1M111 9h1M118 9h1M128 9h1M139 9h1M150 9h1M154 9h1M168 9h2M173 9h1M185 9h1M199 9h1M202 9h1M215 9h1M1 10h1M4 10h1M18 10h1M20 10h1M32 10h1M41 10h1M46 10h1M51 10h1M56 10h1M69 10h1M72 10h2M78 10h1M80 10h1M82 10h1M104 10h1M111 10h1M143 10h1M153 10h1M163 10h1M177 10h2M188 10h1M208 10h2M215 10h1M219 10h1M245 10h2M256 10h1M1 11h1M9 11h1M16 11h2M24 11h1M26 11h1M50 11h1M59 11h1M62 11h1M64 11h1M76 11h1M83 11h1M96 11h1M137 11h1M145 11h1M150 11h1M167 11h1M172 11h1M182 11h1M207 11h1M240 11h1M249 11h1M262 11h1M4 12h1M15 12h1M71 12h1M73 12h2M79 12h1M82 12h1M136 12h1M148 12h1M154 12h1M158 12h1M173 12h1M222 12h3M226 12h1M230 12h1M239 12h1M4 13h1M10 13h1M16 13h2M27 13h1M46 13h1M49 13h1M54 13h1M57 13h1M67 13h1M74 13h1M79 13h1M83 13h3M130 13h1M137 13h1M145 13h1M163 13h1M166 13h1M178 13h1M227 13h1M229 13h1M248 13h1M260 13h1M263 13h1M6 14h1M15 14h1M18 14h1M35 14h1M49 14h1M63 14h1M72 14h1M76 14h1M82 14h1M124 14h1M133 14h1M135 14h2M140 14h1M144 14h1M153 14h1M157 14h2M178 14h1M192 14h1M205 14h1M238 14h1M247 14h1M5 15h1M7 15h1M68 15h1M82 15h1M84 15h1M126 15h1M129 15h1M131 15h1M137 15h1M146 15h1M150 15h1M154 15h1M159 15h1M177 15h1M181 15h1M207 15h1M219 15h1M262 15h1M4 16h1M7 16h1M25 16h1M35 16h1M37 16h3M45 16h1M47 16h1M54 16h1M60 16h1M64 16h1M86 16h1M126 16h1M129 16h1M140 16h1M145 16h3M159 16h1M161 16h1M168 16h1M178 16h1M180 16h1M182 16h1M208 16h1M218 16h1M220 16h1M252 16h1M13 17h1M39 17h1M57 17h1M63 17h1M69 17h1M82 17h1M132 17h1M138 17h1M144 17h1M149 17h1M153 17h1M159 17h1M179 17h1M182 17h1M185 17h1M194 17h1M219 17h1M229 17h1M244 17h1M246 17h1M250 17h1M253 17h1M257 17h1M1 19h1M7 19h1M34 19h1M46 19h3M73 19h1M75 19h1M77 19h1M124 19h1M127 19h1M137 19h1M144 19h1M150 19h1M169 19h1M213 19h1M243 19h1M248 19h1M254 19h1M28 20h1M44 20h1M58 20h1M73 20h1M79 20h1M81 20h1M84 20h1M46 21h1M73 21h1M80 21h2M4 22h1M18 22h1M42 22h1M47 22h1M60 22h1M69 22h1M80 22h1M84 22h1M3 23h1M42 23h1M49 23h1M72 23h1M81 23h1M7 24h1M27 24h1M77 24h1M86 24h1M7 25h1M37 25h1M45 25h1M53 25h1M69 25h1M80 25h1M1 26h1M43 26h1M53 26h1M76 26h1M83 26h1M86 26h1M130 26h1M136 26h1M138 26h1M141 26h1M153 26h1M162 26h1M169 26h1M194 26h1M235 26h1M242 26h1M244 26h1M248 26h1M258 26h1M5 27h1M7 27h1M44 27h1M50 27h1M52 27h1M68 27h1M70 27h1M73 27h1M75 27h1M80 27h1M124 27h1M135 27h2M138 27h1M140 27h2M147 27h1M152 27h1M228 27h1M250 27h1M1 28h1M45 28h1M47 28h1M70 28h1M72 28h1M80 28h1M133 28h1M137 28h1M150 28h1M152 28h1M173 28h1M176 28h1M198 28h1M200 28h1M204 28h1M206 28h2M211 28h2M251 28h1M259 28h1M26 29h1M70 29h1M72 29h1M74 29h1M76 29h1M78 29h1M133 29h1M138 29h1M141 29h1M150 29h1M152 29h1M160 29h1M163 29h1M169 29h1M192 29h1M208 29h1M214 29h1M237 29h1M247 29h1M22 30h1M37 30h1M57 30h1M74 30h1M82 30h2M124 30h1M135 30h1M139 30h1M155 30h1M166 30h1M176 30h1M181 30h1M192 30h1M197 30h1M205 30h1M210 30h1M213 30h1M218 30h1M225 30h1M234 30h1M250 30h1M254 30h1M2 31h1M18 31h1M45 31h1M52 31h1M59 31h1M79 31h2M83 31h2M131 31h1M152 31h1M159 31h1M208 31h1M246 31h1M10 32h1M52 32h1M69 32h3M73 32h1M79 32h1M81 32h1M109 32h1M126 32h1M135 32h1M152 32h1M159 32h1M210 32h1M213 32h1M217 32h1M243 32h1M249 32h1M92 33h1M102 33h1M106 33h1M109 33h1M111 33h2M118 33h2M122 33h1M130 33h1M133 33h1M143 33h1M147 33h1M158 33h1M170 33h1M193 33h1M203 33h1M205 33h1M213 33h1M226 33h1M253 33h2M256 33h1M82 34h1M95 34h1M118 34h1M156 34h1M162 34h1M165 34h1M171 34h2M180 34h1M208 34h1M225 34h1M233 34h1M236 34h1M251 34h1M261 34h1M73 35h1M96 35h1M98 35h1M102 35h1M110 35h1M118 35h1M121 35h1M127 35h1M153 35h2M161 35h1M167 35h1M172 35h1M174 35h1M189 35h1M200 35h2M225 35h1M237 35h2M244 35h1M249 35h3M96 36h2M103 36h1M111 36h1M121 36h1M123 36h2M131 36h1M134 36h1M137 36h2M144 36h1M146 36h2M149 36h1M153 36h4M162 36h1M164 36h1M168 36h1M185 36h1M205 36h1M226 36h2M236 36h1M90 37h1M95 37h1M97 37h1M101 37h1M103 37h2M107 37h1M110 37h1M113 37h2M122 37h3M127 37h1M129 37h2M135 37h2M146 37h2M151 37h1M157 37h1M160 37h2M166 37h3M197 37h1M209 37h1M242 37h2M246 37h1M250 37h1M68 38h1M70 38h1M81 38h1M104 38h1M109 38h1M116 38h1M120 38h1M123 38h1M125 38h2M128 38h1M140 38h1M142 38h1M147 38h1M157 38h1M160 38h1M164 38h1M166 38h1M170 38h1M179 38h1M183 38h2M193 38h1M205 38h1M212 38h1M217 38h1M232 38h1M250 38h1M257 38h2M95 39h1M97 39h1M108 39h1M116 39h1M118 39h1M120 39h2M124 39h1M149 39h1M211 39h1M233 39h1M93 40h1M96 40h1M115 40h1M119 40h1M138 40h2M158 40h1M162 40h1M198 40h1M102 41h1M117 41h1M126 41h1M133 41h1M211 41h1M232 41h1M250 41h1M260 41h1M96 42h1M117 42h2M141 42h2M161 42h1M198 42h1M211 42h1M229 42h1M92 43h1M97 43h1M103 43h1M108 43h1M116 43h2M119 43h1M121 43h1M126 43h1M138 43h1M142 43h2M162 43h1M204 43h1M219 43h1M260 43h1M93 44h1M97 44h2M116 44h1M122 44h1M124 44h3M140 44h1M142 44h1M144 44h1M161 44h1M166 44h2M232 44h1M95 45h1M103 45h1M108 45h2M120 45h2M124 45h1M140 45h1M155 45h1M170 45h1M197 45h1M199 45h1M232 45h1M237 45h1M254 45h1M97 46h1M116 46h2M119 46h2M126 46h1M143 46h1M149 46h1M153 46h1M156 46h1M165 46h1M177 46h1M198 46h2M232 46h1M262 46h1M92 47h2M97 47h1M116 47h2M119 47h1M134 47h1M153 47h1M161 47h1M166 47h1M176 47h1M199 47h1M211 47h1M229 47h1M232 47h2M243 47h1M249 47h1M96 48h2M116 48h1M120 48h1M124 48h3M134 48h1M140 48h1M143 48h1M162 48h1M211 48h1M261 48h1M91 49h1M93 49h1M96 49h2M103 49h1M118 49h1M120 49h1M124 49h1M142 49h2M153 49h1M161 49h2M170 49h1M176 49h1M189 49h1M208 49h1M95 50h1M98 50h1M101 50h1M118 50h1M122 50h1M124 50h1M142 50h1M147 50h1M150 50h1M159 50h1M166 50h1M170 50h1M219 50h1M223 50h1M261 50h1M101 51h1M118 51h1M122 51h1M124 51h1M135 51h1M140 51h1M151 51h2M157 51h1M163 51h1M172 51h1M175 51h2M179 51h1M196 51h1M238 51h1M244 51h1M260 51h1M92 52h1M97 52h1M101 52h1M112 52h1M115 52h2M125 52h1M138 52h1M149 52h2M152 52h1M154 52h1M158 52h1M163 52h1M173 52h4M261 52h1M79 53h1M124 53h1M137 53h2M142 53h2M146 53h2M150 53h3M154 53h1M160 53h1M171 53h1M180 53h1M184 53h1M194 53h1M200 53h1M203 53h1M205 53h1M209 53h1M214 53h1M218 53h1M231 53h1M252 53h1M76 54h1M85 54h1M128 54h1M142 54h1M146 54h1M151 54h1M160 54h1M168 54h1M183 54h2M186 54h2M189 54h1M202 54h2M214 54h2M227 54h1M230 54h1M249 54h1M254 54h1M260 54h1M68 55h1M105 55h1M131 55h1M135 55h1M151 55h2M168 55h1M171 55h2M186 55h2M189 55h1M199 55h1M203 55h1M207 55h1M215 55h1M223 55h1M236 55h1M243 55h1M248 55h1M260 55h1M69 56h1M127 56h1M130 56h1M135 56h1M150 56h1M160 56h1M166 56h1M168 56h1M181 56h1M188 56h1M205 56h1M207 56h2M211 56h2M221 56h2M225 56h1M253 56h1M68 57h1M132 57h1M138 57h1M141 57h1M151 57h1M153 57h1M158 57h1M160 57h1M169 57h3M204 57h1M206 57h2M209 57h1M212 57h1M214 57h2M218 57h1M220 57h1M226 57h1M250 57h1M68 58h3M124 58h1M129 58h1M131 58h1M136 58h1M146 58h2M151 58h1M155 58h1M170 58h1M189 58h1M192 58h1M208 58h1M213 58h1M231 58h1M240 58h1M248 58h1M260 58h1M263 58h1M85 59h1M125 59h1M127 59h1M136 59h1M146 59h1M156 59h1M165 59h1M168 59h2M173 59h1M176 59h1M213 59h1M217 59h2M231 59h1M234 59h1M253 59h1M261 59h1M263 59h1M68 60h1M106 60h1M124 60h1M141 60h1M160 60h1M165 60h1M169 60h2M172 60h2M188 60h1M202 60h1M206 60h1M216 60h2M259 60h2M69 61h1M84 61h1M127 61h1M135 61h1M142 61h1M144 61h1M150 61h1M152 61h1M161 61h1M202 61h1M207 61h1M216 61h1M218 61h1M221 61h1M223 61h1M257 61h1M68 62h1M127 62h1M135 62h1M142 62h1M155 62h1M165 62h1M188 62h1M199 62h1M201 62h1M206 62h1M216 62h1M252 62h1M68 63h2M78 63h1M81 63h1M128 63h1M138 63h1M143 63h1M148 63h1M156 63h1M164 63h1M170 63h1M187 63h1M202 63h2M206 63h1M208 63h1M213 63h1M231 63h2M238 63h1M240 63h1M242 63h1M252 63h2M105 64h1M115 64h1M128 64h1M137 64h1M148 64h1M151 64h1M160 64h1M164 64h1M180 64h1M188 64h1M197 64h1M201 64h1M204 64h1M207 64h1M239 64h1M251 64h1M261 64h1M71 65h1M74 65h1M77 65h1M124 65h1M130 65h1M132 65h1M152 65h1M156 65h1M158 65h1M164 65h1M169 65h1M171 65h1M187 65h1M201 65h1M209 65h2M213 65h1M230 65h1M258 65h1M261 65h1M43 66h1M50 66h1M63 66h2M66 66h1M78 66h2M81 66h1M84 66h1M128 66h1M160 66h1M162 66h1M167 66h1M171 66h2M176 66h1M180 66h1M182 66h1M187 66h1M191 66h1M194 66h1M204 66h1M208 66h1M262 66h1M54 67h2M58 67h1M67 67h1M70 67h1M74 67h1M77 67h1M79 67h3M106 67h1M138 67h1M156 67h2M161 67h1M167 67h1M174 67h1M180 67h1M184 67h1M187 67h1M200 67h1M206 67h1M213 67h1M261 67h1M47 68h1M60 68h1M64 68h2M81 68h1M161 68h1M166 68h1M202 68h1M204 68h1M208 68h1M210 68h2M213 68h1M215 68h1M217 68h1M260 68h1M43 69h2M60 69h1M70 69h1M72 69h2M81 69h1M126 69h1M164 69h1M170 69h1M180 69h1M183 69h1M187 69h1M189 69h2M201 69h1M206 69h1M208 69h1M210 69h1M213 69h3M5 70h1M59 70h1M67 70h1M70 70h1M73 70h1M81 70h1M133 70h1M135 70h1M152 70h1M164 70h4M169 70h1M171 70h1M194 70h2M200 70h1M202 70h1M207 70h1M214 70h2M221 70h1M260 70h2M263 70h1M44 71h1M50 71h1M73 71h1M76 71h1M79 71h1M85 71h2M124 71h2M138 71h1M151 71h1M160 71h1M170 71h1M176 71h1M183 71h1M188 71h1M191 71h1M193 71h1M195 71h1M204 71h2M50 72h1M68 72h2M76 72h1M80 72h1M106 72h1M130 72h1M165 72h1M170 72h2M187 72h2M199 72h2M213 72h1M260 72h1M263 72h1M44 73h1M50 73h1M65 73h1M68 73h1M84 73h1M107 73h1M109 73h1M127 73h2M155 73h1M160 73h1M165 73h1M172 73h2M175 73h1M193 73h1M195 73h1M206 73h1M68 74h3M73 74h1M79 74h1M81 74h1M84 74h1M87 74h1M97 74h1M128 74h1M161 74h1M181 74h1M184 74h1M186 74h1M188 74h2M200 74h1M218 74h1M44 75h1M65 75h1M70 75h1M72 75h2M79 75h1M84 75h3M97 75h1M109 75h1M151 75h1M165 75h1M195 75h1M197 75h1M199 75h2M204 75h1M206 75h1M212 75h1M216 75h3M220 75h2M51 76h1M53 76h1M78 76h1M109 76h1M126 76h1M142 76h1M149 76h1M155 76h1M157 76h1M161 76h2M189 76h1M191 76h1M195 76h1M221 76h1M230 76h1M239 76h1M250 76h1M252 76h1M254 76h1M262 76h1M50 77h1M53 77h2M59 77h1M72 77h1M79 77h2M82 77h2M88 77h1M90 77h1M92 77h1M101 77h1M104 77h1M110 77h1M114 77h1M117 77h1M124 77h1M128 77h1M151 77h1M158 77h1M160 77h2M171 77h2M177 77h1M181 77h1M183 77h1M217 77h1M263 77h1"/>
<path stroke="#f7d5d5" d="M0 0h1M2 0h2M5 0h1M9 0h1M16 0h1M23 0h1M25 0h1M35 0h1M42 0h1M45 0h1M76 0h2M82 0h1M149 0h1M158 0h1M161 0h1M168 0h2M188 0h1M199 0h1M233 0h1M236 0h1M245 0h1M0 1h1M5 1h1M8 1h1M10 1h2M14 1h2M24 1h2M28 1h2M36 1h1M38 1h1M51 1h1M63 1h1M78 1h1M83 1h1M129 1h1M132 1h1M134 1h1M136 1h1M147 1h1M149 1h1M191 1h2M194 1h1M196 1h1M0 2h2M6 2h1M10 2h1M17 2h1M22 2h2M25 2h1M27 2h1M29 2h1M35 2h1M41 2h1M48 2h1M60 2h2M82 2h2M86 2h1M131 2h1M136 2h1M146 2h2M168 2h1M197 2h1M202 2h1M245 2h1M29 3h1M34 3h2M40 3h1M70 3h1M72 3h1M76 3h2M81 3h2M84 3h1M114 3h1M119 3h2M127 3h1M129 3h2M155 3h1M172 3h1M179 3h2M194 3h1M196 3h1M202 3h1M233 3h1M245 3h1M10 4h1M28 4h1M31 4h1M40 4h2M62 4h1M70 4h1M84 4h1M113 4h1M118 4h3M136 4h3M149 4h2M152 4h1M154 4h1M170 4h1M180 4h1M197 4h1M234 4h1M241 4h1M28 5h2M35 5h1M38 5h1M63 5h2M76 5h1M111 5h1M115 5h1M118 5h2M127 5h1M129 5h2M137 5h1M152 5h1M154 5h1M159 5h1M185 5h1M191 5h1M195 5h1M197 5h1M199 5h1M203 5h1M234 5h1M245 5h1M29 6h1M33 6h1M45 6h1M84 6h1M111 6h1M114 6h1M118 6h3M137 6h1M139 6h1M149 6h1M152 6h1M161 6h2M175 6h1M179 6h1M181 6h1M188 6h1M196 6h1M202 6h1M211 6h1M241 6h1M245 6h1M33 7h1M36 7h1M42 7h1M45 7h1M76 7h1M81 7h1M86 7h1M161 7h1M172 7h1M185 7h1M199 7h1M25 8h1M35 8h1M38 8h1M40 8h1M63 8h1M76 8h1M78 8h1M81 8h1M84 8h1M118 8h2M127 8h1M153 8h1M159 8h1M168 8h1M183 8h2M195 8h1M233 8h1M28 9h1M34 9h1M36 9h1M40 9h1M62 9h1M83 9h1M119 9h2M127 9h1M172 9h1M179 9h1M183 9h1M188 9h1M191 9h1M233 9h1M0 10h1M39 10h1M45 10h1M49 10h1M54 10h1M57 10h1M62 10h1M64 10h1M71 10h1M74 10h1M97 10h1M134 10h1M137 10h1M139 10h1M146 10h1M154 10h1M162 10h1M176 10h1M181 10h2M210 10h1M213 10h1M216 10h1M218 10h1M221 10h1M238 10h3M251 10h1M261 10h1M7 11h1M11 11h2M18 11h1M22 11h1M33 11h3M56 11h1M60 11h1M66 11h1M68 11h1M70 11h1M73 11h1M84 11h1M86 11h1M146 11h1M178 11h1M215 11h2M227 11h1M1 12h1M7 12h1M26 12h1M33 12h1M44 12h1M47 12h1M53 12h1M70 12h1M72 12h1M86 12h1M133 12h1M137 12h1M146 12h1M156 12h1M179 12h1M232 12h2M236 12h2M261 12h1M6 13h2M31 13h1M35 13h1M38 13h2M42 13h1M48 13h1M56 13h1M63 13h1M69 13h1M76 13h1M131 13h1M142 13h1M147 13h1M159 13h1M200 13h1M208 13h1M252 13h1M261 13h1M1 14h1M5 14h1M17 14h1M26 14h1M32 14h2M39 14h1M45 14h1M73 14h1M78 14h1M84 14h1M86 14h1M126 14h2M138 14h1M146 14h1M160 14h1M179 14h1M200 14h1M209 14h1M214 14h1M225 14h2M230 14h1M234 14h2M240 14h1M250 14h1M252 14h1M10 15h1M12 15h1M14 15h1M18 15h1M25 15h1M44 15h1M63 15h1M69 15h1M73 15h1M85 15h1M125 15h1M139 15h1M144 15h1M147 15h1M155 15h1M172 15h1M180 15h1M182 15h1M187 15h1M194 15h1M215 15h1M218 15h1M220 15h1M226 15h1M230 15h1M235 15h1M239 15h1M241 15h2M247 15h1M6 16h1M10 16h1M12 16h1M15 16h2M22 16h1M24 16h1M26 16h1M30 16h3M41 16h1M46 16h1M52 16h1M62 16h1M67 16h1M74 16h1M79 16h1M84 16h1M136 16h1M192 16h1M226 16h2M234 16h1M247 16h1M251 16h1M260 16h1M4 17h2M14 17h1M17 17h2M22 17h2M26 17h1M45 17h3M55 17h1M83 17h1M85 17h2M131 17h1M188 17h1M190 17h1M218 17h1M220 17h2M226 17h1M230 17h1M251 17h1M259 17h1M5 19h2M18 19h1M37 19h1M39 19h1M42 19h1M44 19h1M60 19h1M71 19h1M79 19h2M84 19h1M126 19h1M131 19h1M140 19h1M146 19h1M151 19h1M157 19h1M162 19h1M174 19h1M192 19h1M242 19h1M26 20h1M6 21h1M42 21h1M48 21h2M60 21h2M69 21h1M72 21h1M1 22h2M44 22h1M49 22h1M52 22h1M56 22h1M85 22h1M19 23h1M44 23h1M46 23h1M48 23h1M50 23h1M60 24h1M65 24h1M70 24h1M82 24h1M85 24h1M1 25h1M25 25h1M50 25h1M61 25h1M74 25h1M18 26h1M25 26h1M44 26h1M61 26h1M73 26h1M75 26h1M78 26h1M84 26h1M134 26h1M143 26h1M149 26h1M163 26h1M165 26h1M167 26h1M193 26h1M259 26h1M10 27h1M27 27h1M37 27h1M47 27h1M49 27h1M59 27h1M67 27h1M78 27h1M82 27h1M125 27h1M145 27h1M163 27h1M166 27h1M212 27h1M242 27h1M22 28h1M49 28h1M73 28h3M82 28h1M125 28h1M132 28h1M153 28h1M160 28h2M165 28h1M213 28h1M234 28h1M242 28h1M1 29h1M3 29h1M6 29h1M25 29h1M47 29h2M52 29h1M68 29h1M75 29h1M81 29h1M124 29h1M131 29h2M135 29h1M142 29h1M215 29h1M240 29h1M248 29h1M7 30h1M25 30h1M45 30h1M52 30h1M59 30h1M68 30h1M77 30h1M129 30h1M131 30h1M138 30h1M142 30h1M150 30h1M152 30h1M158 30h2M165 30h1M169 30h1M173 30h1M211 30h2M228 30h1M6 31h1M22 31h1M27 31h1M63 31h1M67 31h1M72 31h1M74 31h1M125 31h1M129 31h1M139 31h1M142 31h1M145 31h1M161 31h1M192 31h1M1 32h1M26 32h1M42 32h1M47 32h1M60 32h2M142 32h1M151 32h1M212 32h1M234 32h1M242 32h1M91 33h1M94 33h1M96 33h1M103 33h3M110 33h1M116 33h2M123 33h2M126 33h3M141 33h1M145 33h1M150 33h1M153 33h2M157 33h1M167 33h1M183 33h1M187 33h1M195 33h1M197 33h1M200 33h1M210 33h1M223 33h1M246 33h1M252 33h1M255 33h1M263 33h1M86 34h1M97 34h1M102 34h1M119 34h1M121 34h1M124 34h2M130 34h1M157 34h1M175 34h1M181 34h2M195 34h2M203 34h1M219 34h1M224 34h1M242 34h1M245 34h1M247 34h1M260 34h1M262 34h2M88 35h1M92 35h2M97 35h1M107 35h1M117 35h1M128 35h1M132 35h1M137 35h1M142 35h1M146 35h1M150 35h1M168 35h1M181 35h1M192 35h1M204 35h1M208 35h1M214 35h1M236 35h1M240 35h1M243 35h1M246 35h1M252 35h1M260 35h1M87 36h1M92 36h1M98 36h2M102 36h1M105 36h1M119 36h1M141 36h1M143 36h1M145 36h1M150 36h3M157 36h1M161 36h1M172 36h1M177 36h1M184 36h1M186 36h1M197 36h1M202 36h1M204 36h1M211 36h2M225 36h1M230 36h1M99 37h2M102 37h1M115 37h1M120 37h1M125 37h2M134 37h1M137 37h1M156 37h1M185 37h1M204 37h1M207 37h1M216 37h1M218 37h1M221 37h1M223 37h2M234 37h1M248 37h1M251 37h1M92 38h1M94 38h1M101 38h1M106 38h1M110 38h2M134 38h1M146 38h1M150 38h2M153 38h2M165 38h1M171 38h1M173 38h1M181 38h1M185 38h1M196 38h1M199 38h1M214 38h1M216 38h1M223 38h3M234 38h1M237 38h1M251 38h1M255 38h1M262 38h1M100 39h1M117 39h1M126 39h1M138 39h1M142 39h1M145 39h1M161 39h2M167 39h1M224 39h1M232 39h1M234 39h1M248 39h1M261 39h1M87 40h1M92 40h1M102 40h1M107 40h1M116 40h2M120 40h3M124 40h1M141 40h1M145 40h1M195 40h1M200 40h1M203 40h1M206 40h1M211 40h1M219 40h1M223 40h1M232 40h1M249 40h1M253 40h1M96 41h1M98 41h1M103 41h1M109 41h2M119 41h1M121 41h1M124 41h1M138 41h1M143 41h1M196 41h2M203 41h1M214 41h2M223 41h1M233 41h1M248 41h1M258 41h1M91 42h1M93 42h1M95 42h1M111 42h1M119 42h3M126 42h1M134 42h1M138 42h3M145 42h1M147 42h1M195 42h1M199 42h1M219 42h1M222 42h2M232 42h1M240 42h1M244 42h1M109 43h1M118 43h1M123 43h1M131 43h1M134 43h1M141 43h1M147 43h1M149 43h1M167 43h1M194 43h1M199 43h1M208 43h1M212 43h1M214 43h1M218 43h1M220 43h1M234 43h1M237 43h1M261 43h1M87 44h1M102 44h2M108 44h1M118 44h1M120 44h1M131 44h2M141 44h1M195 44h1M206 44h2M219 44h1M234 44h1M238 44h1M260 44h1M92 45h2M97 45h1M101 45h1M115 45h1M118 45h1M125 45h2M132 45h1M134 45h1M143 45h1M153 45h1M162 45h1M178 45h1M219 45h1M221 45h1M223 45h1M233 45h1M260 45h1M90 46h1M92 46h2M98 46h1M110 46h1M133 46h1M140 46h3M163 46h1M179 46h1M189 46h1M196 46h1M207 46h1M214 46h1M228 46h1M238 46h1M253 46h1M260 46h2M87 47h1M95 47h1M98 47h1M101 47h1M103 47h1M122 47h1M125 47h1M130 47h1M132 47h1M135 47h1M141 47h1M162 47h1M167 47h1M170 47h1M189 47h1M198 47h1M200 47h1M216 47h1M227 47h1M237 47h2M255 47h1M103 48h1M107 48h1M111 48h2M127 48h1M130 48h1M132 48h2M153 48h1M170 48h1M177 48h1M186 48h2M189 48h1M198 48h1M203 48h1M219 48h2M232 48h1M243 48h1M250 48h1M253 48h1M112 49h1M117 49h1M119 49h1M121 49h2M139 49h2M144 49h1M147 49h1M167 49h1M181 49h1M198 49h1M200 49h1M203 49h1M211 49h1M230 49h1M232 49h1M234 49h1M253 49h1M87 50h1M90 50h1M93 50h1M108 50h1M121 50h1M125 50h2M130 50h1M141 50h1M143 50h1M156 50h1M165 50h1M172 50h4M177 50h1M180 50h1M198 50h1M203 50h1M209 50h1M212 50h1M216 50h1M227 50h1M229 50h1M232 50h1M234 50h1M238 50h1M243 50h2M250 50h1M253 50h1M258 50h1M260 50h1M263 50h1M87 51h1M92 51h1M98 51h1M102 51h1M114 51h1M120 51h1M126 51h1M130 51h1M132 51h1M142 51h1M150 51h1M156 51h1M158 51h1M164 51h1M166 51h1M197 51h4M203 51h1M214 51h1M216 51h1M219 51h1M223 51h1M228 51h1M235 51h1M258 51h1M87 52h1M93 52h3M108 52h1M122 52h1M124 52h1M126 52h1M132 52h1M134 52h2M141 52h1M147 52h1M155 52h3M165 52h1M170 52h1M177 52h4M199 52h1M208 52h2M211 52h1M221 52h1M229 52h1M233 52h2M249 52h1M255 52h1M258 52h1M130 53h1M155 53h1M161 53h1M165 53h1M185 53h1M199 53h1M202 53h1M204 53h1M233 53h1M103 54h1M105 54h2M125 54h2M138 54h1M148 54h1M167 54h1M171 54h1M176 54h1M182 54h1M188 54h1M195 54h1M200 54h1M213 54h1M216 54h1M259 54h1M261 54h2M110 55h1M124 55h1M127 55h2M165 55h1M188 55h1M201 55h1M206 55h1M214 55h1M216 55h2M225 55h1M261 55h1M105 56h2M110 56h1M131 56h1M142 56h1M167 56h1M170 56h4M176 56h1M180 56h1M186 56h1M191 56h1M193 56h1M195 56h2M199 56h2M210 56h1M213 56h1M231 56h1M233 56h1M235 56h1M252 56h1M261 56h3M69 57h1M105 57h1M164 57h1M167 57h1M184 57h1M187 57h1M190 57h1M194 57h1M224 57h1M230 57h1M234 57h1M260 57h2M105 58h2M127 58h1M135 58h1M162 58h1M172 58h1M188 58h1M190 58h1M209 58h1M225 58h1M230 58h1M236 58h1M239 58h1M253 58h1M257 58h1M259 58h1M124 59h1M148 59h1M186 59h1M202 59h2M205 59h1M208 59h1M238 59h2M252 59h1M262 59h1M108 60h1M161 60h1M164 60h1M189 60h1M191 60h1M193 60h1M205 60h1M212 60h2M220 60h2M261 60h1M96 61h1M103 61h1M124 61h1M126 61h1M128 61h1M139 61h1M169 61h1M181 61h1M199 61h1M205 61h1M217 61h1M230 61h1M234 61h1M239 61h1M252 61h1M125 62h1M128 62h1M130 62h1M160 62h1M167 62h1M200 62h1M211 62h1M213 62h1M223 62h1M233 62h1M263 62h1M79 63h1M124 63h1M126 63h1M130 63h1M152 63h1M169 63h1M188 63h1M200 63h1M205 63h1M211 63h1M220 63h2M234 63h1M239 63h1M260 63h1M262 63h1M100 64h1M103 64h1M125 64h1M129 64h1M144 64h1M161 64h1M166 64h1M173 64h1M184 64h2M195 64h1M199 64h1M214 64h1M216 64h1M221 64h1M231 64h1M68 65h1M144 65h1M151 65h1M160 65h1M166 65h2M181 65h1M185 65h1M189 65h1M191 65h1M196 65h1M200 65h1M217 65h1M233 65h2M255 65h1M59 66h1M67 66h1M69 66h1M85 66h1M98 66h1M106 66h1M151 66h1M166 66h1M169 66h1M173 66h1M175 66h1M181 66h1M184 66h1M188 66h1M190 66h1M195 66h1M199 66h3M205 66h1M209 66h1M213 66h1M216 66h1M45 67h1M60 67h1M66 67h1M69 67h1M73 67h1M85 67h1M109 67h1M152 67h1M155 67h1M164 67h3M176 67h1M186 67h1M190 67h1M195 67h1M199 67h1M218 67h1M74 68h1M78 68h1M84 68h1M86 68h1M96 68h1M106 68h1M110 68h1M155 68h1M160 68h1M171 68h1M174 68h1M176 68h1M179 68h2M205 68h1M220 68h1M65 69h1M67 69h1M83 69h1M100 69h1M106 69h1M109 69h1M152 69h1M184 69h2M195 69h1M205 69h1M209 69h1M219 69h2M42 70h4M52 70h1M66 70h1M69 70h1M72 70h1M105 70h1M172 70h1M181 70h1M187 70h1M189 70h1M199 70h1M205 70h2M210 70h2M220 70h1M77 71h1M81 71h1M99 71h1M130 71h1M155 71h1M161 71h1M166 71h1M184 71h1M186 71h1M199 71h1M201 71h2M207 71h1M211 71h2M214 71h1M216 71h1M260 71h2M44 72h1M49 72h1M59 72h1M66 72h1M78 72h1M152 72h1M155 72h1M167 72h1M169 72h1M180 72h1M184 72h1M190 72h1M201 72h1M216 72h2M262 72h1M88 73h1M94 73h1M171 73h1M174 73h1M179 73h1M184 73h1M199 73h1M216 73h2M219 73h1M43 74h2M53 74h1M65 74h1M67 74h1M85 74h1M155 74h1M169 74h1M173 74h1M176 74h1M198 74h1M216 74h1M219 74h1M45 75h1M64 75h1M66 75h1M68 75h1M80 75h1M169 75h1M179 75h1M183 75h2M186 75h1M191 75h1M198 75h1M201 75h1M210 75h1M44 76h1M64 76h1M66 76h1M69 76h1M83 76h1M85 76h1M88 76h1M127 76h1M143 76h1M154 76h1M171 76h2M174 76h2M183 76h1M190 76h1M193 76h1M199 76h1M217 76h1M219 76h2M260 76h1M66 77h1M68 77h2M74 77h1M76 77h1M85 77h3M95 77h1M102 77h1M107 77h1M113 77h1M115 77h1M119 77h2M175 77h1M178 77h3M182 77h1M187 77h1M189 77h1M191 77h1M201 77h1M220 77h1M225 77h1"/>
<path stroke="#f2c0c0" d="M8 0h1M10 0h1M15 0h1M29 0h1M31 0h2M38 0h4M51 0h1M75 0h1M80 0h1M129 0h1M131 0h1M136 0h1M170 0h1M182 0h1M192 0h1M203 0h1M1 1h1M35 1h1M41 1h1M43 1h1M47 1h2M60 1h1M64 1h2M82 1h1M84 1h1M131 1h1M148 1h1M158 1h1M162 1h1M168 1h1M205 1h1M234 1h1M2 2h1M7 2h1M11 2h1M13 2h3M30 2h2M34 2h1M43 2h1M62 2h1M78 2h1M80 2h1M132 2h1M134 2h1M158 2h1M183 2h1M186 2h1M37 3h1M39 3h1M42 3h1M64 3h2M73 3h1M85 3h1M118 3h1M137 3h1M146 3h1M159 3h1M161 3h1M171 3h1M182 3h1M195 3h1M197 3h1M234 3h1M36 4h1M38 4h2M42 4h1M73 4h1M77 4h1M80 4h2M83 4h1M129 4h2M183 4h1M196 4h1M199 4h1M33 5h1M39 5h1M42 5h1M45 5h1M61 5h2M70 5h1M78 5h1M81 5h2M131 5h2M148 5h1M168 5h2M181 5h3M28 6h1M35 6h1M37 6h1M39 6h3M51 6h1M54 6h1M61 6h1M63 6h1M70 6h1M76 6h1M81 6h1M86 6h1M130 6h1M138 6h1M153 6h1M169 6h1M171 6h1M182 6h2M185 6h1M197 6h1M199 6h1M203 6h1M205 6h1M234 6h1M41 7h1M43 7h1M47 7h1M52 7h1M61 7h1M82 7h2M134 7h1M184 7h1M234 7h1M29 8h1M34 8h1M42 8h1M52 8h1M73 8h1M80 8h1M83 8h1M129 8h1M137 8h1M149 8h1M186 8h1M204 8h1M234 8h1M39 9h1M46 9h1M51 9h2M61 9h1M73 9h1M82 9h1M134 9h1M138 9h1M161 9h1M182 9h1M187 9h1M192 9h1M195 9h1M203 9h1M5 10h1M12 10h1M21 10h1M24 10h1M27 10h1M35 10h1M37 10h1M40 10h1M55 10h1M63 10h1M83 10h1M85 10h1M124 10h1M131 10h1M133 10h1M138 10h1M175 10h1M179 10h1M222 10h1M225 10h1M228 10h1M259 10h2M4 11h1M14 11h1M23 11h1M25 11h1M38 11h1M43 11h1M47 11h2M54 11h2M67 11h1M82 11h1M153 11h1M180 11h1M187 11h2M229 11h1M10 12h1M18 12h1M27 12h1M32 12h1M38 12h1M56 12h2M61 12h3M69 12h1M75 12h1M77 12h1M84 12h1M125 12h1M140 12h1M152 12h1M180 12h1M200 12h1M260 12h1M2 13h1M11 13h2M19 13h1M21 13h1M24 13h1M51 13h3M55 13h1M58 13h1M62 13h1M78 13h1M124 13h1M148 13h1M173 13h1M221 13h1M251 13h1M4 14h1M7 14h1M9 14h1M14 14h1M21 14h1M23 14h1M31 14h1M34 14h1M40 14h1M42 14h2M46 14h1M52 14h1M54 14h1M67 14h1M77 14h1M125 14h1M131 14h2M154 14h1M216 14h1M219 14h1M4 15h1M19 15h1M31 15h1M33 15h1M39 15h1M45 15h1M48 15h3M62 15h1M67 15h1M70 15h1M77 15h1M124 15h1M132 15h1M136 15h1M152 15h1M184 15h1M200 15h1M234 15h1M2 16h1M8 16h2M19 16h2M27 16h1M33 16h1M44 16h1M66 16h1M76 16h2M83 16h1M131 16h2M152 16h1M219 16h1M250 16h1M1 17h2M19 17h1M25 17h1M31 17h1M34 17h1M44 17h1M48 17h1M53 17h2M62 17h1M73 17h1M79 17h1M84 17h1M124 17h1M139 17h1M143 17h1M148 17h1M240 17h1M252 17h1M3 19h2M15 19h1M19 19h2M29 19h2M32 19h1M41 19h1M45 19h1M49 19h2M53 19h1M61 19h1M65 19h1M72 19h1M85 19h1M125 19h1M128 19h1M135 19h2M141 19h2M152 19h1M155 19h1M167 19h1M176 19h2M19 20h1M33 20h1M41 20h1M47 20h2M52 20h1M69 20h2M80 20h1M85 20h2M3 21h2M18 21h1M32 21h1M85 21h1M22 22h1M24 22h1M48 22h1M54 22h1M86 22h1M0 23h2M7 23h1M25 23h1M29 23h1M32 23h1M58 23h2M86 23h1M3 24h2M16 24h1M22 24h1M26 24h1M31 24h1M44 24h3M81 24h1M84 24h1M27 25h1M42 25h2M59 25h1M65 25h1M70 25h1M73 25h1M22 26h1M52 26h1M62 26h1M64 26h1M68 26h1M70 26h1M74 26h1M81 26h1M132 26h1M142 26h1M147 26h2M150 26h3M159 26h1M161 26h1M164 26h1M213 26h1M255 26h1M3 27h1M19 27h1M30 27h2M42 27h1M48 27h1M60 27h1M66 27h1M74 27h1M83 27h1M130 27h1M149 27h1M160 27h2M164 27h1M168 27h1M243 27h1M6 28h2M26 28h2M43 28h1M50 28h1M56 28h1M59 28h3M69 28h1M78 28h2M135 28h1M139 28h1M142 28h1M159 28h1M163 28h2M166 28h1M244 28h1M18 29h1M28 29h1M32 29h1M56 29h1M69 29h1M71 29h1M129 29h1M136 29h1M147 29h1M151 29h1M168 29h1M259 29h1M8 30h1M27 30h1M31 30h1M44 30h1M46 30h1M49 30h1M55 30h1M63 30h1M73 30h1M81 30h1M84 30h1M125 30h1M145 30h1M153 30h1M164 30h1M204 30h1M253 30h1M1 31h1M17 31h1M20 31h1M23 31h1M25 31h1M41 31h1M43 31h1M47 31h1M60 31h2M66 31h1M68 31h1M81 31h1M147 31h1M149 31h1M160 31h1M4 32h1M8 32h2M45 32h1M48 32h1M57 32h1M80 32h1M83 32h1M86 32h1M129 32h1M162 32h1M168 32h1M90 33h1M125 33h1M136 33h1M138 33h1M146 33h1M159 33h1M169 33h1M173 33h2M181 33h2M189 33h1M191 33h2M196 33h1M199 33h1M202 33h1M206 33h2M216 33h1M229 33h1M231 33h1M237 33h1M242 33h3M247 33h1M260 33h2M87 34h1M91 34h4M96 34h1M98 34h1M111 34h1M120 34h1M128 34h1M132 34h1M136 34h1M141 34h1M144 34h1M146 34h1M149 34h3M153 34h1M158 34h1M166 34h1M179 34h1M184 34h1M189 34h1M192 34h1M197 34h1M216 34h1M220 34h1M223 34h1M228 34h1M232 34h1M243 34h1M253 34h1M257 34h1M99 35h1M101 35h1M104 35h1M109 35h1M112 35h4M119 35h1M123 35h1M125 35h1M141 35h1M145 35h1M147 35h1M160 35h1M169 35h1M183 35h1M185 35h2M203 35h1M206 35h1M209 35h2M223 35h1M245 35h1M248 35h1M256 35h1M258 35h1M94 36h1M104 36h1M115 36h1M120 36h1M132 36h1M135 36h2M139 36h1M142 36h1M159 36h1M166 36h1M170 36h1M173 36h1M182 36h2M187 36h1M191 36h2M199 36h1M210 36h1M238 36h1M240 36h2M243 36h1M246 36h1M251 36h1M256 36h1M92 37h2M105 37h1M111 37h1M128 37h1M132 37h1M138 37h2M152 37h2M158 37h1M165 37h1M171 37h2M179 37h1M201 37h1M225 37h1M237 37h2M85 38h2M98 38h1M102 38h1M105 38h1M113 38h1M115 38h1M133 38h1M136 38h2M144 38h2M152 38h1M156 38h1M174 38h1M176 38h1M187 38h1M195 38h1M197 38h2M202 38h1M206 38h1M208 38h3M219 38h1M239 38h1M242 38h1M248 38h1M252 38h1M259 38h2M263 38h1M87 39h1M94 39h1M96 39h1M102 39h1M110 39h1M122 39h1M127 39h1M131 39h1M196 39h3M200 39h1M210 39h1M219 39h1M235 39h1M237 39h1M253 39h3M257 39h2M90 40h1M95 40h1M97 40h1M101 40h1M127 40h1M130 40h1M132 40h3M167 40h1M196 40h2M199 40h1M207 40h1M210 40h1M214 40h1M218 40h1M224 40h1M228 40h2M231 40h1M237 40h2M248 40h1M252 40h1M258 40h1M260 40h2M90 41h1M93 41h1M95 41h1M101 41h1M112 41h1M115 41h1M118 41h1M122 41h1M127 41h1M129 41h2M132 41h1M140 41h2M206 41h1M219 41h1M229 41h2M234 41h1M236 41h1M238 41h1M244 41h1M254 41h1M87 42h1M92 42h1M97 42h1M100 42h1M102 42h2M110 42h1M113 42h2M116 42h1M123 42h1M131 42h1M133 42h1M162 42h1M167 42h1M201 42h3M207 42h1M215 42h1M220 42h1M227 42h1M233 42h1M238 42h1M248 42h1M253 42h1M260 42h1M95 43h1M99 43h1M112 43h2M122 43h1M125 43h1M128 43h3M133 43h1M139 43h1M144 43h1M198 43h1M201 43h1M203 43h1M221 43h1M231 43h1M233 43h1M243 43h1M254 43h1M258 43h1M96 44h1M113 44h1M115 44h1M129 44h1M133 44h1M139 44h1M145 44h1M147 44h1M211 44h2M221 44h1M224 44h1M233 44h1M235 44h1M237 44h1M243 44h1M252 44h1M254 44h1M261 44h1M263 44h1M91 45h1M94 45h1M98 45h1M100 45h1M110 45h2M114 45h1M116 45h1M122 45h2M130 45h1M137 45h3M144 45h1M167 45h1M177 45h1M184 45h1M186 45h2M189 45h1M198 45h1M200 45h1M203 45h1M208 45h2M211 45h1M214 45h1M222 45h1M224 45h2M227 45h1M231 45h1M234 45h2M238 45h1M240 45h1M248 45h2M253 45h1M256 45h1M261 45h1M91 46h1M94 46h3M100 46h2M107 46h3M114 46h2M134 46h1M139 46h1M145 46h2M161 46h1M182 46h1M186 46h2M202 46h1M209 46h1M217 46h1M219 46h1M223 46h1M233 46h1M236 46h1M243 46h1M254 46h1M257 46h1M90 47h2M99 47h2M102 47h1M108 47h2M112 47h1M120 47h1M129 47h1M133 47h1M138 47h1M140 47h1M177 47h1M181 47h1M186 47h1M195 47h1M197 47h1M201 47h1M203 47h1M208 47h1M214 47h1M217 47h1M219 47h2M228 47h1M234 47h2M248 47h1M257 47h4M87 48h1M91 48h1M109 48h1M114 48h2M119 48h1M139 48h1M141 48h1M146 48h1M167 48h1M181 48h1M184 48h1M192 48h1M197 48h1M201 48h2M206 48h1M209 48h1M212 48h1M214 48h1M231 48h1M233 48h2M237 48h1M249 48h1M259 48h2M101 49h1M107 49h1M125 49h1M129 49h2M133 49h1M138 49h1M148 49h1M187 49h1M192 49h1M195 49h1M202 49h1M209 49h2M217 49h3M227 49h1M237 49h1M249 49h1M257 49h2M92 50h1M94 50h1M110 50h1M115 50h1M132 50h2M138 50h1M140 50h1M144 50h3M153 50h3M158 50h1M171 50h1M178 50h2M189 50h2M195 50h1M197 50h1M199 50h1M208 50h1M221 50h1M224 50h1M231 50h1M233 50h1M248 50h1M254 50h1M259 50h1M262 50h1M90 51h1M94 51h1M112 51h2M115 51h1M125 51h1M133 51h1M138 51h1M141 51h1M145 51h1M148 51h1M153 51h1M161 51h1M165 51h1M170 51h2M177 51h1M190 51h1M192 51h1M195 51h1M201 51h1M220 51h1M224 51h1M229 51h1M233 51h1M237 51h1M242 51h1M248 51h3M253 51h1M91 52h1M98 52h1M103 52h1M110 52h1M120 52h1M127 52h1M129 52h1M133 52h1M139 52h2M142 52h1M145 52h2M164 52h1M166 52h1M171 52h1M193 52h3M197 52h1M200 52h2M203 52h1M214 52h1M219 52h1M223 52h3M227 52h2M230 52h2M237 52h2M240 52h1M243 52h1M246 52h2M250 52h1M252 52h1M257 52h1M132 53h1M170 53h1M173 53h1M175 53h2M178 53h1M181 53h1M187 53h1M190 53h2M195 53h1M211 53h1M220 53h1M223 53h1M263 53h1M152 54h1M165 54h2M169 54h1M172 54h2M180 54h2M190 54h1M201 54h1M212 54h1M217 54h2M233 54h1M129 55h2M166 55h2M183 55h1M193 55h1M210 55h1M220 55h1M98 56h1M108 56h1M128 56h2M138 56h1M151 56h1M155 56h1M175 56h1M185 56h1M187 56h1M189 56h1M202 56h1M215 56h1M220 56h1M260 56h1M99 57h1M103 57h1M106 57h1M125 57h1M129 57h2M152 57h1M166 57h1M172 57h1M174 57h1M176 57h1M183 57h1M210 57h2M216 57h1M262 57h1M128 58h1M130 58h1M142 58h1M144 58h1M156 58h1M164 58h1M176 58h1M180 58h2M187 58h1M212 58h1M215 58h1M218 58h1M234 58h1M238 58h1M262 58h1M87 59h1M96 59h2M105 59h1M131 59h1M161 59h1M167 59h1M172 59h1M180 59h1M190 59h1M193 59h2M209 59h1M211 59h1M215 59h1M220 59h1M87 60h1M101 60h1M130 60h1M155 60h1M166 60h1M177 60h1M183 60h1M185 60h3M190 60h1M196 60h1M201 60h1M204 60h1M68 61h1M97 61h1M125 61h1M151 61h1M155 61h1M165 61h1M173 61h1M180 61h1M183 61h1M189 61h2M195 61h1M210 61h2M213 61h1M87 62h1M97 62h2M106 62h1M109 62h1M114 62h1M169 62h1M187 62h1M190 62h1M194 62h1M205 62h1M219 62h2M239 62h1M262 62h1M104 63h2M109 63h1M131 63h1M161 63h1M166 63h2M172 63h1M174 63h1M180 63h1M186 63h1M196 63h2M199 63h1M212 63h1M96 64h1M104 64h1M109 64h1M118 64h1M130 64h1M152 64h1M172 64h1M186 64h1M193 64h2M205 64h1M213 64h1M220 64h1M260 64h1M263 64h1M95 65h1M98 65h1M110 65h1M139 65h1M161 65h1M175 65h2M184 65h1M195 65h1M204 65h2M220 65h1M65 66h1M68 66h1M70 66h1M108 66h1M116 66h1M161 66h1M177 66h1M183 66h1M186 66h1M193 66h1M198 66h1M214 66h1M217 66h1M65 67h1M72 67h1M96 67h2M121 67h1M172 67h1M177 67h1M183 67h1M185 67h1M189 67h1M196 67h1M201 67h1M204 67h2M219 67h1M262 67h1M59 68h1M76 68h1M85 68h1M98 68h1M108 68h1M169 68h1M175 68h1M177 68h2M186 68h1M189 68h1M199 68h1M201 68h1M216 68h1M68 69h1M77 69h1M105 69h1M107 69h1M161 69h1M165 69h1M177 69h1M186 69h1M197 69h2M204 69h1M217 69h1M53 70h1M60 70h1M65 70h1M68 70h1M84 70h3M97 70h1M114 70h1M155 70h1M183 70h1M185 70h2M191 70h1M193 70h1M204 70h1M217 70h1M66 71h1M69 71h1M98 71h1M175 71h1M177 71h1M179 71h1M181 71h1M189 71h1M196 71h1M219 71h1M65 72h1M70 72h1M103 72h1M109 72h1M115 72h2M118 72h1M121 72h1M127 72h1M161 72h1M177 72h1M181 72h2M186 72h1M192 72h1M197 72h2M207 72h1M211 72h1M218 72h1M87 73h1M99 73h1M108 73h1M117 73h1M122 73h1M191 73h1M221 73h1M88 74h1M98 74h1M106 74h1M115 74h1M172 74h1M175 74h1M177 74h1M179 74h1M185 74h1M191 74h2M195 74h1M206 74h1M213 74h1M221 74h1M100 75h1M103 75h1M107 75h1M110 75h1M175 75h1M177 75h1M185 75h1M196 75h1M219 75h1M70 76h1M72 76h3M79 76h3M84 76h1M98 76h1M110 76h1M116 76h2M182 76h1M185 76h1M196 76h1M198 76h1M201 76h2M204 76h1M261 76h1M70 77h1M73 77h1M77 77h1M84 77h1M91 77h1M93 77h1M99 77h1M122 77h1M155 77h1M193 77h1M197 77h2"/>
<path stroke="#eeacac" d="M1 0h1M6 0h1M11 0h2M14 0h1M34 0h1M36 0h1M47 0h1M52 0h1M56 0h1M60 0h1M62 0h1M65 0h1M70 0h1M78 0h2M127 0h1M162 0h1M7 1h1M34 1h1M37 1h1M40 1h1M53 1h1M55 1h2M58 1h1M204 1h1M37 2h1M40 2h1M54 2h2M75 2h1M79 2h1M162 2h1M31 3h1M46 3h1M52 3h1M55 3h1M61 3h2M78 3h1M80 3h1M131 3h1M147 3h3M162 3h1M185 3h1M191 3h1M203 3h1M29 4h1M57 4h1M61 4h1M76 4h1M78 4h1M131 4h2M153 4h1M159 4h1M179 4h1M185 4h2M188 4h1M191 4h1M205 4h1M34 5h1M36 5h1M44 5h1M46 5h3M52 5h1M54 5h2M57 5h1M73 5h1M80 5h1M146 5h1M158 5h1M171 5h1M196 5h1M204 5h1M36 6h1M38 6h1M42 6h1M46 6h1M48 6h1M52 6h1M64 6h1M73 6h1M78 6h1M83 6h1M132 6h1M143 6h1M146 6h1M150 6h1M159 6h1M191 6h1M38 7h1M40 7h1M46 7h1M51 7h1M62 7h1M74 7h1M78 7h1M146 7h2M149 7h1M187 7h2M43 8h1M45 8h1M51 8h1M61 8h1M70 8h1M141 8h1M146 8h1M161 8h2M167 8h1M179 8h1M187 8h1M191 8h1M196 8h1M205 8h1M245 8h1M37 9h2M43 9h1M48 9h1M50 9h1M55 9h1M64 9h1M130 9h2M137 9h1M158 9h1M162 9h1M234 9h1M3 10h1M15 10h1M19 10h1M29 10h1M44 10h1M50 10h1M60 10h2M70 10h1M75 10h2M84 10h1M140 10h1M191 10h2M220 10h1M236 10h1M0 11h1M8 11h1M15 11h1M19 11h2M29 11h2M32 11h1M41 11h2M51 11h1M65 11h1M72 11h1M74 11h2M77 11h1M85 11h1M200 11h1M225 11h1M239 11h1M252 11h1M5 12h1M14 12h1M17 12h1M20 12h1M24 12h1M30 12h1M34 12h3M39 12h2M51 12h1M55 12h1M76 12h1M83 12h1M139 12h1M220 12h1M231 12h1M234 12h1M1 13h1M3 13h1M9 13h1M14 13h1M23 13h1M28 13h1M34 13h1M41 13h1M43 13h2M50 13h1M75 13h1M77 13h1M80 13h1M138 13h1M144 13h1M152 13h1M162 13h1M214 13h1M220 13h1M233 13h1M239 13h1M12 14h1M24 14h1M41 14h1M48 14h1M50 14h1M57 14h1M60 14h1M74 14h1M79 14h1M83 14h1M137 14h1M147 14h1M161 14h1M163 14h1M0 15h1M3 15h1M6 15h1M8 15h1M15 15h1M17 15h1M23 15h1M36 15h1M38 15h1M40 15h1M47 15h1M51 15h2M60 15h2M64 15h2M72 15h1M76 15h1M83 15h1M240 15h1M251 15h1M1 16h1M3 16h1M11 16h1M21 16h1M29 16h1M34 16h1M42 16h2M53 16h1M59 16h1M61 16h1M75 16h1M124 16h1M139 16h1M143 16h1M173 16h1M230 16h1M6 17h2M15 17h1M24 17h1M38 17h1M42 17h2M49 17h1M56 17h1M60 17h1M64 17h1M76 17h1M140 17h1M146 17h1M152 17h1M155 17h1M192 17h1M215 17h1M235 17h1M239 17h1M20 18h2M0 19h1M8 19h3M21 19h6M33 19h1M38 19h1M40 19h1M51 19h1M64 19h1M82 19h1M86 19h1M129 19h1M133 19h1M145 19h1M148 19h2M153 19h1M158 19h1M161 19h1M168 19h1M259 19h1M8 20h1M29 20h1M43 20h1M57 20h1M65 20h1M19 21h1M25 21h1M33 21h1M41 21h1M45 21h1M53 21h1M59 21h1M7 22h1M19 22h1M21 22h1M25 22h1M37 22h1M46 22h1M53 22h1M64 22h1M66 22h1M21 23h1M30 23h1M33 23h1M37 23h1M39 23h1M55 23h1M60 23h1M63 23h3M2 24h1M40 24h1M57 24h1M0 25h1M2 25h1M11 25h1M49 25h1M51 25h2M58 25h1M2 26h1M7 26h1M19 26h1M39 26h1M47 26h1M49 26h1M51 26h1M54 26h1M58 26h1M60 26h1M67 26h1M80 26h1M82 26h1M8 27h1M18 27h1M28 27h2M40 27h1M86 27h1M129 27h1M150 27h2M5 28h1M9 28h1M25 28h1M28 28h2M44 28h1M46 28h1M58 28h1M62 28h1M65 28h1M136 28h1M147 28h1M167 28h1M2 29h1M43 29h1M45 29h2M50 29h2M59 29h2M64 29h1M67 29h1M86 29h1M153 29h1M165 29h1M243 29h1M1 30h1M26 30h1M48 30h1M60 30h2M66 30h1M80 30h1M85 30h1M136 30h1M147 30h2M151 30h1M3 31h2M10 31h1M14 31h1M38 31h1M44 31h1M46 31h1M54 31h2M57 31h1M70 31h1M85 31h1M150 31h1M164 31h1M2 32h1M19 32h1M25 32h1M44 32h1M53 32h1M66 32h1M68 32h1M136 32h1M149 32h1M87 33h2M93 33h1M135 33h1M175 33h1M178 33h2M184 33h2M201 33h1M211 33h2M217 33h1M219 33h1M221 33h1M224 33h1M230 33h1M232 33h1M241 33h1M245 33h1M251 33h1M88 34h1M90 34h1M100 34h1M103 34h3M107 34h1M114 34h3M123 34h1M133 34h2M137 34h1M142 34h1M148 34h1M159 34h2M169 34h2M177 34h2M185 34h1M191 34h1M199 34h2M207 34h1M212 34h3M218 34h1M227 34h1M230 34h1M237 34h3M241 34h1M250 34h1M254 34h2M259 34h1M91 35h1M94 35h1M105 35h2M111 35h1M120 35h1M124 35h1M130 35h1M135 35h1M143 35h1M152 35h1M157 35h1M166 35h1M170 35h2M175 35h2M182 35h1M190 35h1M195 35h1M197 35h1M207 35h1M211 35h1M213 35h1M217 35h4M227 35h1M229 35h2M232 35h2M242 35h1M247 35h1M253 35h1M263 35h1M91 36h1M95 36h1M100 36h1M114 36h1M128 36h1M179 36h1M190 36h1M206 36h3M214 36h1M220 36h2M259 36h1M96 37h1M141 37h1M143 37h1M145 37h1M169 37h2M180 37h3M198 37h1M205 37h1M213 37h1M222 37h1M229 37h1M240 37h1M261 37h1M96 38h1M117 38h1M122 38h1M127 38h1M138 38h2M143 38h1M158 38h2M168 38h2M175 38h1M186 38h1M188 38h1M192 38h1M203 38h2M213 38h1M220 38h1M226 38h1M228 38h2M231 38h1M240 38h1M245 38h1M261 38h1M92 39h1M98 39h1M112 39h1M115 39h1M123 39h1M130 39h1M144 39h1M193 39h1M195 39h1M199 39h1M202 39h2M207 39h3M212 39h1M214 39h1M220 39h1M222 39h2M230 39h1M238 39h3M243 39h2M246 39h2M249 39h2M260 39h1M262 39h2M98 40h2M108 40h1M113 40h1M123 40h1M128 40h1M131 40h1M140 40h1M144 40h1M168 40h1M201 40h2M204 40h1M208 40h1M220 40h1M222 40h1M230 40h1M234 40h2M243 40h2M247 40h1M250 40h1M254 40h2M88 41h1M91 41h2M94 41h1M100 41h1M108 41h1M111 41h1M113 41h1M116 41h1M131 41h1M144 41h3M167 41h1M198 41h5M205 41h1M207 41h1M209 41h2M212 41h1M216 41h1M221 41h2M225 41h1M249 41h1M252 41h2M255 41h1M261 41h1M94 42h1M98 42h1M101 42h1M122 42h1M129 42h1M136 42h1M144 42h1M146 42h1M193 42h1M196 42h2M208 42h3M216 42h1M221 42h1M224 42h2M228 42h1M230 42h2M234 42h2M237 42h1M239 42h1M246 42h2M249 42h2M254 42h1M258 42h1M261 42h2M90 43h1M98 43h1M100 43h1M102 43h1M107 43h1M111 43h1M127 43h1M132 43h1M140 43h1M145 43h2M195 43h1M197 43h1M200 43h1M202 43h1M207 43h1M210 43h1M215 43h2M223 43h1M228 43h3M235 43h1M238 43h1M241 43h1M247 43h1M249 43h2M259 43h1M91 44h1M94 44h1M99 44h1M101 44h1M107 44h1M109 44h1M114 44h1M121 44h1M128 44h1M130 44h1M146 44h1M148 44h1M193 44h1M196 44h3M201 44h1M203 44h1M208 44h1M210 44h1M214 44h3M220 44h1M223 44h1M225 44h1M229 44h2M242 44h1M247 44h2M253 44h1M259 44h1M9 45h1M113 45h1M127 45h1M129 45h1M133 45h1M136 45h1M145 45h1M182 45h1M190 45h1M201 45h1M207 45h1M215 45h1M229 45h1M244 45h1M252 45h1M257 45h1M259 45h1M9 46h1M113 46h1M123 46h1M129 46h2M132 46h1M136 46h3M147 46h2M167 46h2M181 46h1M190 46h1M192 46h1M194 46h1M197 46h1M200 46h1M206 46h1M208 46h1M210 46h1M215 46h2M220 46h1M222 46h1M224 46h2M227 46h1M234 46h2M237 46h1M240 46h1M247 46h3M255 46h1M259 46h1M263 46h1M9 47h1M88 47h1M94 47h1M114 47h2M123 47h1M126 47h2M131 47h1M139 47h1M146 47h1M148 47h1M169 47h1M182 47h1M187 47h1M192 47h1M196 47h1M202 47h1M212 47h1M215 47h1M218 47h1M222 47h1M224 47h1M231 47h1M240 47h1M253 47h1M262 47h1M9 48h1M89 48h1M92 48h1M94 48h1M98 48h1M108 48h1M113 48h1M122 48h2M136 48h3M144 48h2M147 48h1M169 48h1M185 48h1M193 48h4M199 48h1M207 48h1M210 48h1M215 48h4M224 48h1M230 48h1M242 48h1M244 48h1M246 48h1M248 48h1M254 48h1M256 48h1M258 48h1M263 48h1M9 49h1M87 49h1M90 49h1M94 49h2M99 49h2M108 49h1M110 49h1M123 49h1M126 49h1M131 49h1M134 49h1M136 49h1M145 49h1M190 49h1M193 49h1M197 49h1M201 49h1M206 49h1M214 49h2M220 49h1M225 49h1M228 49h2M231 49h1M235 49h2M239 49h1M245 49h1M247 49h1M250 49h1M252 49h1M255 49h1M261 49h1M9 50h1M91 50h1M96 50h1M100 50h1M112 50h1M114 50h1M123 50h1M127 50h2M134 50h1M139 50h1M149 50h1M162 50h1M167 50h1M169 50h1M176 50h1M192 50h1M196 50h1M200 50h2M207 50h1M210 50h1M213 50h3M217 50h1M226 50h1M230 50h1M235 50h3M240 50h1M247 50h1M252 50h1M255 50h3M9 51h1M93 51h1M100 51h1M107 51h1M110 51h1M121 51h1M129 51h1M134 51h1M137 51h1M139 51h1M146 51h1M155 51h1M160 51h1M162 51h1M178 51h1M181 51h1M207 51h1M209 51h2M212 51h1M218 51h1M222 51h1M225 51h2M230 51h1M240 51h1M243 51h1M254 51h1M257 51h1M259 51h1M262 51h1M9 52h1M88 52h1M99 52h2M109 52h1M114 52h1M130 52h2M153 52h1M186 52h1M190 52h1M196 52h1M198 52h1M202 52h1M210 52h1M212 52h1M215 52h1M220 52h1M222 52h1M245 52h1M253 52h2M256 52h1M260 52h1M263 52h1M97 53h1M106 53h1M109 53h1M127 53h1M164 53h1M166 53h1M169 53h1M172 53h1M196 53h2M206 53h1M213 53h1M219 53h1M221 53h1M262 53h1M96 54h2M109 54h1M124 54h1M130 54h1M164 54h1M175 54h1M185 54h1M191 54h2M199 54h1M87 55h1M91 55h1M161 55h1M181 55h1M190 55h2M202 55h1M209 55h1M213 55h1M219 55h1M221 55h1M89 56h1M121 56h1M161 56h1M182 56h2M192 56h1M197 56h2M204 56h1M209 56h1M217 56h1M96 57h2M155 57h1M178 57h1M186 57h1M189 57h1M205 57h1M213 57h1M217 57h1M219 57h1M125 58h1M160 58h1M166 58h1M169 58h1M173 58h1M193 58h1M199 58h2M210 58h1M220 58h1M252 58h1M98 59h1M114 59h1M160 59h1M166 59h1M174 59h1M177 59h1M183 59h1M199 59h3M207 59h1M210 59h1M214 59h1M216 59h1M219 59h1M118 60h1M181 60h1M184 60h1M194 60h1M198 60h1M211 60h1M214 60h1M108 61h1M111 61h1M116 61h1M172 61h1M176 61h2M179 61h1M184 61h2M194 61h1M196 61h1M200 61h2M206 61h1M219 61h2M88 62h1M99 62h2M110 62h1M115 62h1M166 62h1M173 62h1M183 62h1M189 62h1M193 62h1M261 62h1M97 63h1M155 63h1M173 63h1M176 63h1M182 63h2M189 63h1M192 63h2M195 63h1M198 63h1M201 63h1M216 63h1M110 64h1M122 64h1M165 64h1M169 64h1M176 64h2M179 64h1M181 64h1M183 64h1M198 64h1M200 64h1M219 64h1M262 64h1M99 65h2M107 65h1M109 65h1M115 65h1M165 65h1M180 65h1M186 65h1M188 65h1M193 65h1M197 65h1M216 65h1M219 65h1M86 66h1M97 66h1M103 66h1M110 66h1M185 66h1M192 66h1M197 66h1M220 66h2M44 67h1M59 67h1M68 67h1M94 67h1M98 67h1M103 67h1M108 67h1M119 67h2M179 67h1M221 67h1M66 68h1M68 68h3M87 68h1M100 68h1M183 68h3M190 68h2M193 68h1M195 68h1M198 68h1M221 68h1M261 68h1M50 69h1M64 69h1M85 69h1M98 69h1M103 69h1M167 69h1M173 69h3M179 69h1M193 69h1M221 69h1M98 70h1M118 70h1M161 70h1M170 70h1M173 70h1M179 70h1M68 71h1M70 71h1M97 71h1M108 71h3M114 71h1M116 71h1M119 71h1M165 71h1M182 71h1M187 71h1M197 71h2M200 71h1M210 71h1M217 71h1M45 72h1M85 72h1M98 72h1M114 72h1M119 72h1M172 72h1M174 72h2M179 72h1M185 72h1M191 72h1M204 72h1M219 72h1M89 73h1M111 73h1M114 73h1M185 73h1M192 73h1M196 73h1M211 73h1M213 73h1M66 74h1M103 74h1M108 74h1M114 74h1M116 74h2M119 74h1M178 74h1M196 74h2M205 74h1M69 75h1M98 75h1M108 75h1M192 75h1M59 76h1M65 76h1M111 76h1M115 76h1M118 76h1M177 76h2M100 77h1M112 77h1M123 77h1M173 77h2M190 77h1M192 77h1"/>
<path stroke="#ea9797" d="M7 0h1M37 0h1M43 0h1M46 0h1M50 0h1M57 0h1M66 0h1M74 0h1M143 0h1M146 0h1M148 0h1M186 0h2M44 1h1M46 1h1M49 1h2M54 1h1M75 1h1M141 1h1M143 1h1M146 1h1M24 2h1M46 2h1M65 2h1M143 2h1M148 2h1M204 2h1M43 3h1M45 3h1M47 3h1M51 3h1M54 3h1M58 3h1M75 3h1M83 3h1M132 3h1M136 3h1M158 3h1M168 3h1M188 3h1M205 3h1M45 4h1M51 4h2M55 4h2M60 4h1M65 4h1M82 4h1M146 4h1M148 4h1M168 4h1M182 4h1M187 4h1M204 4h1M37 5h1M43 5h1M65 5h1M79 5h1M83 5h1M186 5h1M43 6h1M57 6h1M62 6h1M65 6h1M75 6h1M82 6h1M129 6h1M136 6h1M147 6h1M187 6h1M44 7h1M50 7h1M54 7h3M58 7h1M70 7h1M131 7h1M136 7h1M142 7h1M158 7h1M192 7h1M204 7h2M37 8h1M48 8h1M53 8h4M60 8h1M65 8h1M79 8h1M132 8h1M148 8h1M158 8h1M188 8h1M45 9h1M54 9h1M60 9h1M65 9h1M132 9h1M136 9h1M142 9h1M146 9h2M204 9h1M6 10h1M8 10h1M10 10h1M16 10h1M28 10h1M36 10h1M38 10h1M52 10h2M59 10h1M79 10h1M147 10h2M152 10h1M180 10h1M229 10h1M234 10h1M253 10h1M27 11h1M31 11h1M39 11h1M44 11h2M49 11h1M78 11h1M147 11h2M222 11h1M255 11h1M3 12h1M19 12h1M21 12h1M37 12h1M43 12h1M45 12h1M54 12h1M58 12h1M60 12h1M65 12h2M132 12h1M251 12h1M20 13h1M32 13h1M37 13h1M47 13h1M59 13h1M61 13h1M64 13h1M72 13h1M139 13h1M222 13h1M230 13h1M232 13h1M237 13h1M2 14h1M10 14h2M16 14h1M19 14h1M27 14h1M37 14h2M44 14h1M51 14h1M53 14h1M55 14h1M62 14h1M66 14h1M191 14h1M217 14h1M220 14h1M2 15h1M9 15h1M16 15h1M20 15h1M22 15h1M27 15h1M34 15h2M43 15h1M46 15h1M54 15h1M58 15h2M66 15h1M79 15h1M133 15h1M148 15h1M208 15h1M214 15h1M0 16h1M23 16h1M28 16h1M36 16h1M50 16h1M57 16h1M148 16h1M209 16h1M3 17h1M10 17h3M20 17h2M27 17h2M30 17h1M33 17h1M40 17h1M51 17h2M58 17h1M72 17h1M74 17h1M77 17h1M260 17h1M2 19h1M11 19h2M14 19h1M16 19h1M27 19h2M31 19h1M35 19h1M52 19h1M54 19h2M58 19h2M67 19h1M69 19h1M74 19h1M81 19h1M83 19h1M165 19h2M2 20h1M22 20h1M24 20h1M42 20h1M45 20h1M49 20h1M53 20h3M59 20h1M67 20h1M7 21h2M16 21h1M22 21h1M28 21h1M38 21h1M43 21h2M56 21h2M63 21h1M65 21h1M5 22h1M8 22h3M20 22h1M29 22h1M38 22h1M50 22h2M57 22h1M59 22h1M2 23h1M6 23h1M8 23h2M17 23h1M26 23h2M38 23h1M41 23h1M43 23h1M45 23h1M51 23h1M53 23h2M56 23h2M61 23h1M0 24h2M13 24h1M20 24h1M39 24h1M42 24h1M49 24h1M51 24h1M55 24h1M59 24h1M3 25h2M20 25h1M26 25h1M29 25h1M31 25h2M34 25h1M38 25h1M44 25h1M46 25h1M55 25h1M57 25h1M62 25h1M67 25h1M85 25h1M0 26h1M6 26h1M16 26h2M20 26h1M26 26h4M31 26h1M38 26h1M41 26h2M46 26h1M48 26h1M55 26h1M59 26h1M63 26h1M65 26h2M69 26h1M129 26h1M146 26h1M12 27h2M22 27h1M25 27h1M32 27h1M41 27h1M43 27h1M45 27h1M51 27h1M53 27h1M56 27h1M61 27h1M65 27h1M69 27h1M85 27h1M159 27h1M4 28h1M10 28h1M18 28h1M33 28h2M39 28h3M52 28h1M67 28h1M81 28h1M84 28h1M124 28h1M141 28h1M148 28h2M168 28h1M0 29h1M4 29h1M8 29h1M16 29h1M22 29h1M27 29h1M44 29h1M53 29h1M57 29h2M65 29h1M84 29h2M148 29h1M162 29h1M164 29h1M0 30h1M4 30h1M9 30h1M39 30h1M43 30h1M47 30h1M51 30h1M53 30h2M67 30h1M69 30h2M132 30h1M141 30h1M146 30h1M162 30h2M168 30h1M244 30h1M0 31h1M19 31h1M24 31h1M28 31h1M31 31h2M34 31h1M39 31h2M49 31h2M62 31h1M65 31h1M69 31h1M71 31h1M130 31h1M132 31h1M146 31h1M151 31h1M3 32h1M6 32h2M21 32h2M24 32h1M29 32h3M34 32h1M38 32h2M46 32h1M54 32h1M56 32h1M58 32h1M67 32h1M153 32h1M164 32h2M89 33h1M99 33h1M114 33h1M120 33h1M134 33h1M142 33h1M151 33h1M160 33h1M166 33h1M214 33h1M218 33h1M222 33h1M236 33h1M240 33h1M248 33h1M257 33h1M110 34h1M112 34h2M127 34h1M135 34h1M140 34h1M143 34h1M145 34h1M152 34h1M174 34h1M176 34h1M187 34h2M190 34h1M204 34h3M211 34h1M217 34h1M221 34h1M229 34h1M244 34h1M256 34h1M258 34h1M87 35h1M95 35h1M100 35h1M126 35h1M139 35h1M151 35h1M165 35h1M173 35h1M178 35h2M188 35h1M199 35h1M202 35h1M212 35h1M239 35h1M255 35h1M257 35h1M259 35h1M90 36h1M140 36h1M165 36h1M169 36h1M175 36h1M181 36h1M196 36h1M198 36h1M213 36h1M222 36h1M229 36h1M231 36h1M239 36h1M258 36h1M262 36h1M117 37h1M142 37h1M173 37h1M183 37h2M192 37h1M212 37h1M214 37h1M220 37h1M231 37h2M239 37h1M258 37h1M262 37h2M90 38h1M99 38h1M114 38h1M141 38h1M201 38h1M211 38h1M218 38h1M222 38h1M236 38h1M238 38h1M241 38h1M243 38h1M246 38h2M253 38h2M90 39h1M93 39h1M99 39h1M101 39h1M107 39h1M109 39h1M113 39h2M136 39h2M146 39h2M168 39h1M194 39h1M204 39h3M216 39h2M221 39h1M227 39h3M231 39h1M251 39h2M91 40h1M94 40h1M109 40h1M112 40h1M129 40h1M136 40h1M148 40h1M193 40h1M205 40h1M215 40h1M217 40h1M225 40h3M236 40h1M240 40h3M245 40h1M257 40h1M87 41h1M107 41h1M114 41h1M120 41h1M123 41h1M136 41h1M139 41h1M147 41h1M193 41h1M208 41h1M213 41h1M218 41h1M224 41h1M226 41h3M235 41h1M237 41h1M243 41h1M246 41h2M259 41h1M262 41h2M88 42h1M90 42h1M99 42h1M107 42h3M112 42h1M127 42h2M148 42h1M168 42h1M200 42h1M204 42h2M212 42h1M214 42h1M217 42h2M226 42h1M242 42h1M256 42h1M259 42h1M115 43h1M136 43h1M168 43h1M193 43h1M196 43h1M206 43h1M209 43h1M222 43h1M224 43h4M239 43h1M242 43h1M244 43h1M252 43h2M255 43h2M262 43h2M90 44h1M92 44h1M106 44h1M110 44h2M194 44h1M199 44h2M209 44h1M222 44h1M228 44h1M231 44h1M236 44h1M239 44h3M244 44h1M250 44h2M256 44h1M258 44h1M262 44h1M87 45h2M90 45h1M128 45h1M131 45h1M141 45h1M147 45h2M169 45h1M181 45h1M183 45h1M185 45h1M192 45h2M195 45h2M202 45h1M205 45h1M210 45h1M212 45h1M216 45h2M226 45h1M236 45h1M241 45h3M250 45h1M255 45h1M263 45h1M87 46h1M89 46h1M99 46h1M112 46h1M122 46h1M131 46h1M144 46h1M185 46h1M201 46h1M204 46h1M212 46h1M226 46h1M229 46h1M231 46h1M239 46h1M242 46h1M245 46h2M250 46h1M256 46h1M258 46h1M89 47h1M110 47h1M147 47h1M184 47h2M191 47h1M193 47h1M204 47h1M207 47h1M209 47h2M213 47h1M223 47h1M225 47h2M230 47h1M236 47h1M244 47h4M251 47h2M256 47h1M93 48h1M100 48h2M110 48h1M148 48h1M168 48h1M190 48h1M200 48h1M205 48h1M208 48h1M222 48h2M225 48h1M228 48h2M238 48h2M245 48h1M247 48h1M251 48h2M255 48h1M257 48h1M262 48h1M89 49h1M98 49h1M115 49h1M128 49h1M137 49h1M146 49h1M169 49h1M183 49h1M196 49h1M199 49h1M204 49h2M207 49h1M221 49h1M223 49h2M233 49h1M242 49h1M244 49h1M246 49h1M254 49h1M256 49h1M259 49h2M262 49h2M88 50h1M106 50h2M109 50h1M111 50h1M120 50h1M129 50h1M131 50h1M137 50h1M148 50h1M161 50h1M182 50h1M185 50h1M211 50h1M218 50h1M220 50h1M222 50h1M239 50h1M241 50h1M246 50h1M251 50h1M89 51h1M99 51h1M108 51h2M123 51h1M127 51h1M131 51h1M144 51h1M167 51h1M183 51h1M185 51h2M189 51h1M194 51h1M202 51h1M204 51h1M206 51h1M208 51h1M215 51h1M217 51h1M221 51h1M227 51h1M234 51h1M239 51h1M241 51h1M245 51h1M247 51h1M252 51h1M261 51h1M263 51h1M90 52h1M107 52h1M113 52h1M136 52h2M161 52h2M181 52h1M183 52h1M187 52h1M189 52h1M191 52h2M206 52h2M216 52h2M226 52h1M235 52h2M239 52h1M241 52h1M244 52h1M248 52h1M259 52h1M262 52h1M108 53h1M110 53h1M167 53h1M177 53h1M182 53h2M186 53h1M188 53h1M193 53h1M201 53h1M216 53h1M88 54h1M104 54h1M161 54h1M177 54h1M220 54h1M97 55h2M102 55h1M104 55h1M114 55h1M117 55h1M155 55h1M174 55h2M179 55h1M182 55h1M185 55h1M192 55h1M197 55h1M211 55h1M262 55h1M97 56h1M100 56h1M103 56h1M109 56h1M115 56h1M120 56h1M184 56h1M190 56h1M201 56h1M219 56h1M88 57h1M98 57h1M110 57h1M116 57h1M165 57h1M173 57h1M175 57h1M177 57h1M179 57h1M182 57h1M185 57h1M191 57h1M196 57h3M98 58h1M114 58h2M152 58h1M161 58h1M175 58h1M184 58h2M202 58h1M204 58h1M206 58h1M216 58h2M219 58h1M221 58h1M233 58h1M261 58h1M88 59h1M108 59h1M110 59h1M181 59h1M191 59h1M195 59h1M89 60h1M93 60h2M96 60h1M99 60h1M102 60h1M109 60h1M111 60h1M176 60h1M195 60h1M197 60h1M102 61h1M104 61h1M175 61h1M192 61h2M197 61h1M261 61h1M104 62h1M111 62h1M122 62h1M161 62h1M180 62h2M192 62h1M196 62h1M89 63h1M91 63h1M99 63h1M121 63h1M165 63h1M181 63h1M185 63h1M191 63h1M204 63h1M210 63h1M217 63h1M261 63h1M94 64h1M99 64h1M108 64h1M175 64h1M190 64h1M196 64h1M217 64h1M97 65h1M103 65h1M116 65h2M172 65h2M177 65h1M179 65h1M183 65h1M198 65h1M221 65h1M262 65h1M89 66h1M99 66h2M111 66h1M113 66h1M179 66h1M196 66h1M219 66h1M95 67h1M104 67h1M107 67h1M117 67h2M173 67h1M181 67h2M191 67h1M193 67h1M216 67h1M220 67h1M67 68h1M88 68h1M97 68h1M99 68h1M111 68h1M173 68h1M188 68h1M197 68h1M97 69h1M101 69h1M108 69h1M191 69h2M101 70h1M103 70h2M110 70h1M123 70h1M178 70h1M192 70h1M196 70h2M219 70h1M91 71h1M96 71h1M103 71h1M107 71h1M118 71h1M120 71h1M172 71h2M185 71h1M190 71h1M192 71h1M221 71h1M87 72h1M178 72h1M195 72h2M59 73h1M69 73h1M90 73h2M95 73h3M102 73h2M110 73h1M89 74h1M94 74h1M96 74h1M99 74h1M102 74h1M109 74h3M182 74h2M193 74h1M59 75h1M91 75h1M95 75h1M104 75h1M115 75h1M117 75h1M172 75h1M174 75h1M181 75h2M68 76h1M87 76h1M89 76h1M91 76h1M96 76h1M100 76h2M104 76h1M107 76h2M121 76h1M173 76h1M211 76h1M216 76h1"/>
<path stroke="#e68282" d="M24 0h1M28 0h1M48 0h1M53 0h1M134 0h2M142 0h1M177 0h1M204 0h2M57 1h1M74 1h1M79 1h1M140 1h1M44 2h1M47 2h1M49 2h1M53 2h1M57 2h1M59 2h1M142 2h1M205 2h1M53 3h1M60 3h1M74 3h1M134 3h1M140 3h4M204 3h1M37 4h1M46 4h3M50 4h1M54 4h1M75 4h1M141 4h1M147 4h1M158 4h1M161 4h2M56 5h1M60 5h1M136 5h1M140 5h1M142 5h2M162 5h1M176 5h1M187 5h2M192 5h1M34 6h1M80 6h1M131 6h1M142 6h1M148 6h1M158 6h1M168 6h1M204 6h1M48 7h1M53 7h1M59 7h1M65 7h2M143 7h1M148 7h1M176 7h1M186 7h1M191 7h1M46 8h2M57 8h1M59 8h1M62 8h1M64 8h1M131 8h1M44 9h1M53 9h1M56 9h2M59 9h1M66 9h1M75 9h1M79 9h1M30 10h1M34 10h1M67 10h1M200 10h1M226 10h1M233 10h1M252 10h1M6 11h1M10 11h1M36 11h2M53 11h1M57 11h2M79 11h1M139 11h1M152 11h1M223 11h2M231 11h1M2 12h1M22 12h1M48 12h2M227 12h1M5 13h1M30 13h1M36 13h1M66 13h1M182 13h1M226 13h1M240 13h1M8 14h1M20 14h1M30 14h1M36 14h1M47 14h1M56 14h1M64 14h1M75 14h1M148 14h1M21 15h1M29 15h2M41 15h1M53 15h1M55 15h2M74 15h2M78 15h1M143 15h1M153 15h1M252 15h1M55 16h2M8 17h1M35 17h3M41 17h1M61 17h1M65 17h3M147 17h1M17 19h1M36 19h1M43 19h1M57 19h1M62 19h2M66 19h1M70 19h1M78 19h1M130 19h1M132 19h1M156 19h1M160 19h1M163 19h1M1 20h1M3 20h2M6 20h1M31 20h1M46 20h1M50 20h2M64 20h1M66 20h1M1 21h1M14 21h1M21 21h1M39 21h2M50 21h1M52 21h1M3 22h1M11 22h1M16 22h1M31 22h1M35 22h1M43 22h1M45 22h1M58 22h1M62 22h2M67 22h1M222 22h6M5 23h1M22 23h1M31 23h1M62 23h1M67 23h1M11 24h1M18 24h1M21 24h1M29 24h1M33 24h1M35 24h1M41 24h1M47 24h1M50 24h1M56 24h1M58 24h1M61 24h1M5 25h2M12 25h1M18 25h1M28 25h1M30 25h1M33 25h1M56 25h1M3 26h1M8 26h1M10 26h1M24 26h1M33 26h1M37 26h1M85 26h1M1 27h1M6 27h1M9 27h1M20 27h1M24 27h1M26 27h1M38 27h2M55 27h1M57 27h2M62 27h3M148 27h1M2 28h2M8 28h1M13 28h3M24 28h1M36 28h1M38 28h1M42 28h1M57 28h1M64 28h1M145 28h1M151 28h1M5 29h1M13 29h2M17 29h1M21 29h1M33 29h1M40 29h1M149 29h1M3 30h1M6 30h1M13 30h2M17 30h2M21 30h1M32 30h2M40 30h1M42 30h1M62 30h1M65 30h1M161 30h1M7 31h2M15 31h1M37 31h1M42 31h1M53 31h1M148 31h1M11 32h2M16 32h1M27 32h2M33 32h1M37 32h1M41 32h1M49 32h3M55 32h1M59 32h1M64 32h2M85 32h1M148 32h1M161 32h1M100 33h1M137 33h1M140 33h1M177 33h1M190 33h1M215 33h1M220 33h1M227 33h1M239 33h1M259 33h1M99 34h1M101 34h1M173 34h1M198 34h1M201 34h2M222 34h1M240 34h1M89 35h1M103 35h1M133 35h2M136 35h1M138 35h1M140 35h1M158 35h2M187 35h1M191 35h1M205 35h1M216 35h1M221 35h2M226 35h1M228 35h1M231 35h1M254 35h1M88 36h1M93 36h1M171 36h1M174 36h1M176 36h1M178 36h1M188 36h2M201 36h1M215 36h3M223 36h1M255 36h1M257 36h1M140 37h1M176 37h1M178 37h1M186 37h1M188 37h1M191 37h1M199 37h1M227 37h2M255 37h1M257 37h1M259 37h2M124 38h1M177 38h1M182 38h1M189 38h1M207 38h1M221 38h1M230 38h1M88 39h1M111 39h1M128 39h2M201 39h1M218 39h1M225 39h1M236 39h1M256 39h1M259 39h1M89 40h1M100 40h1M110 40h1M137 40h1M146 40h2M194 40h1M209 40h1M212 40h1M216 40h1M239 40h1M246 40h1M256 40h1M259 40h1M263 40h1M99 41h1M128 41h1M137 41h1M168 41h1M195 41h1M217 41h1M220 41h1M231 41h1M240 41h3M245 41h1M251 41h1M257 41h1M89 42h1M137 42h1M194 42h1M213 42h1M236 42h1M241 42h1M243 42h1M245 42h1M255 42h1M257 42h1M89 43h1M94 43h1M101 43h1M110 43h1M114 43h1M148 43h1M213 43h1M217 43h1M240 43h1M246 43h1M251 43h1M257 43h1M88 44h1M100 44h1M127 44h1M137 44h1M168 44h1M202 44h1M205 44h1M213 44h1M217 44h2M227 44h1M246 44h1M249 44h1M89 45h1M112 45h1M146 45h1M194 45h1M206 45h1M213 45h1M220 45h1M228 45h1M230 45h1M239 45h1M245 45h1M247 45h1M251 45h1M258 45h1M127 46h1M183 46h2M191 46h1M193 46h1M195 46h1M203 46h1M213 46h1M218 46h1M230 46h1M244 46h1M251 46h2M111 47h1M113 47h1M128 47h1M136 47h2M183 47h1M188 47h1M190 47h1M194 47h1M205 47h2M221 47h1M241 47h2M250 47h1M263 47h1M99 48h1M106 48h1M129 48h1M182 48h1M188 48h1M226 48h2M235 48h2M240 48h2M88 49h1M106 49h1M109 49h1M111 49h1M113 49h2M127 49h1M168 49h1M182 49h1M184 49h2M191 49h1M194 49h1M212 49h1M222 49h1M226 49h1M240 49h2M243 49h1M248 49h1M113 50h1M136 50h1M181 50h1M184 50h1M186 50h3M191 50h1M202 50h1M228 50h1M242 50h1M245 50h1M249 50h1M88 51h1M91 51h1M111 51h1M136 51h1M147 51h1M149 51h1M168 51h2M184 51h1M187 51h2M191 51h1M193 51h1M205 51h1M236 51h1M255 51h2M89 52h1M111 52h1M144 52h1M148 52h1M167 52h3M182 52h1M184 52h2M188 52h1M205 52h1M218 52h1M242 52h1M87 53h1M98 53h2M116 53h1M118 53h1M90 54h1M94 54h1M110 54h2M114 54h4M174 54h1M193 54h1M197 54h1M204 54h2M221 54h1M95 55h2M107 55h1M111 55h1M116 55h1M118 55h2M177 55h2M195 55h2M205 55h1M94 56h1M96 56h1M99 56h1M114 56h1M116 56h1M165 56h1M174 56h1M177 56h1M87 57h1M107 57h1M113 57h2M121 57h1M181 57h1M192 57h2M195 57h1M200 57h1M111 58h1M165 58h1M179 58h1M183 58h1M191 58h1M194 58h2M201 58h1M214 58h1M99 59h2M103 59h1M109 59h1M115 59h1M117 59h2M121 59h1M175 59h1M178 59h2M182 59h1M185 59h1M204 59h1M88 60h1M97 60h1M100 60h1M103 60h1M116 60h2M95 61h1M109 61h1M115 61h1M117 61h2M121 61h1M178 61h1M186 61h1M191 61h1M204 61h1M94 62h1M96 62h1M101 62h1M103 62h1M113 62h1M118 62h1M121 62h1M175 62h1M177 62h1M182 62h1M185 62h2M195 62h1M87 63h1M100 63h1M110 63h1M114 63h1M177 63h3M190 63h1M88 64h3M98 64h1M102 64h1M107 64h1M182 64h1M87 65h1M118 65h1M121 65h1M178 65h1M182 65h1M88 66h1M96 66h1M102 66h1M114 66h1M118 66h1M122 66h1M174 66h1M178 66h1M100 67h1M102 67h1M110 67h2M175 67h1M198 67h1M211 67h1M92 68h1M104 68h1M113 68h1M116 68h1M122 68h1M182 68h1M196 68h1M219 68h1M59 69h1M88 69h1M96 69h1M110 69h1M114 69h1M116 69h1M118 69h1M121 69h1M182 69h1M88 70h2M107 70h1M109 70h1M111 70h1M120 70h1M174 70h2M198 70h1M216 70h1M87 71h1M100 71h1M111 71h1M115 71h1M122 71h1M178 71h1M88 72h1M99 72h1M101 72h1M112 72h1M117 72h1M98 73h1M104 73h1M121 73h1M178 73h1M105 74h1M107 74h1M118 74h1M121 74h1M123 74h1M87 75h2M96 75h1M116 75h1M119 75h1M94 76h1M97 76h1M99 76h1M114 76h1M120 76h1M122 76h2M197 76h1M164 77h5"/>
<path stroke="#e26d6d" d="M44 0h1M54 0h2M58 0h2M61 0h1M140 0h2M147 0h1M66 1h1M178 1h1M50 2h1M56 2h1M58 2h1M66 2h1M74 2h1M135 2h1M140 2h2M48 3h1M50 3h1M56 3h1M67 3h1M79 3h1M192 3h1M43 4h1M53 4h1M59 4h1M66 4h1M79 4h1M134 4h1M140 4h1M142 4h2M177 4h1M50 5h1M58 5h2M75 5h1M134 5h1M141 5h1M147 5h1M177 5h1M47 6h1M59 6h2M74 6h1M79 6h1M140 6h1M75 7h1M140 7h1M177 7h2M44 8h1M58 8h1M66 8h1M75 8h1M134 8h1M140 8h1M142 8h2M147 8h1M192 8h1M47 9h1M74 9h1M140 9h1M205 9h1M11 10h1M22 10h1M47 10h1M58 10h1M65 10h2M224 10h1M227 10h1M231 10h1M235 10h1M237 10h1M21 11h1M28 11h1M228 11h1M232 11h1M234 11h4M8 12h1M11 12h1M25 12h1M31 12h1M50 12h1M59 12h1M64 12h1M78 12h1M229 12h1M235 12h1M22 13h1M65 13h1M3 14h1M22 14h1M59 14h1M61 14h1M65 14h1M11 15h1M32 15h1M37 15h1M57 15h1M9 17h1M16 17h1M32 17h1M50 17h1M59 17h1M133 17h1M13 19h1M164 19h1M18 20h1M20 20h2M27 20h1M38 20h1M56 20h1M9 21h1M23 21h2M26 21h2M29 21h2M58 21h1M62 21h1M67 21h1M15 22h1M32 22h2M40 22h1M55 22h1M4 23h1M12 23h1M14 23h1M16 23h1M18 23h1M28 23h1M35 23h1M40 23h1M66 23h1M5 24h2M8 24h1M19 24h1M28 24h1M30 24h1M34 24h1M37 24h1M53 24h1M64 24h1M67 24h1M17 25h1M19 25h1M22 25h1M24 25h1M41 25h1M66 25h1M4 26h1M12 26h1M21 26h1M30 26h1M50 26h1M56 26h1M0 27h1M4 27h1M11 27h1M16 27h2M34 27h1M54 27h1M19 28h1M23 28h1M30 28h3M51 28h1M54 28h1M11 29h1M15 29h1M20 29h1M23 29h2M29 29h1M34 29h1M38 29h1M41 29h2M49 29h1M54 29h1M62 29h2M2 30h1M10 30h1M20 30h1M30 30h1M34 30h1M50 30h1M58 30h1M64 30h1M149 30h1M11 31h1M13 31h1M21 31h1M29 31h1M48 31h1M51 31h1M56 31h1M58 31h1M15 32h1M17 32h1M20 32h1M35 32h1M40 32h1M43 32h1M167 32h1M139 33h1M176 33h1M188 33h1M238 33h1M258 33h1M126 34h1M139 34h1M210 34h1M231 34h1M248 34h1M252 34h1M198 35h1M241 35h1M89 36h1M218 36h1M88 37h2M133 37h1M174 37h1M187 37h1M189 37h1M217 37h1M219 37h1M241 37h1M252 37h1M89 38h1M178 38h1M227 38h1M89 39h1M91 39h1M148 39h1M213 39h1M226 39h1M245 39h1M88 40h1M251 40h1M262 40h1M89 41h1M106 41h1M194 41h1M239 41h1M130 42h1M206 42h1M251 42h2M263 42h1M88 43h1M91 43h1M106 43h1M137 43h1M205 43h1M236 43h1M248 43h1M89 44h1M136 44h1M204 44h1M226 44h1M245 44h1M257 44h1M99 45h1M107 45h1M168 45h1M188 45h1M204 45h1M218 45h1M262 45h1M88 46h1M111 46h1M128 46h1M169 46h1M188 46h1M221 46h1M107 47h1M239 47h1M128 48h1M131 48h1M191 48h1M204 48h1M221 48h1M213 49h1M216 49h1M251 49h1M99 50h1M183 50h1M193 50h2M204 50h1M206 50h1M225 50h1M128 51h1M213 51h1M231 51h1M246 51h1M128 52h1M204 52h1M213 52h1M251 52h1M88 53h1M91 53h1M96 53h1M103 53h1M111 53h1M115 53h1M121 53h1M174 53h1M87 54h1M98 54h3M108 54h1M122 54h1M178 54h2M196 54h1M198 54h1M211 54h1M99 55h2M103 55h1M108 55h1M112 55h1M115 55h1M117 56h3M123 56h1M179 56h1M216 56h1M108 57h1M111 57h1M117 57h1M221 57h1M90 58h1M96 58h2M103 58h2M116 58h1M118 58h1M121 58h1M178 58h1M182 58h1M197 58h2M205 58h1M107 59h1M111 59h1M116 59h1M120 59h1M122 59h1M192 59h1M196 59h3M104 60h1M110 60h1M115 60h1M120 60h1M122 60h1M175 60h1M179 60h1M219 60h1M88 61h1M98 61h1M110 61h1M182 61h1M198 61h1M95 62h1M102 62h1M107 62h2M117 62h1M120 62h1M172 62h1M191 62h1M197 62h2M92 63h1M98 63h1M102 63h2M113 63h1M115 63h1M117 63h1M122 63h1M219 63h1M87 64h1M95 64h1M97 64h1M113 64h2M117 64h1M119 64h1M121 64h1M123 64h1M96 65h1M101 65h2M108 65h1M111 65h1M114 65h1M120 65h1M190 65h1M192 65h1M91 66h1M101 66h1M104 66h1M109 66h1M112 66h1M115 66h1M117 66h1M121 66h1M87 67h1M91 67h1M99 67h1M112 67h1M114 67h1M178 67h1M192 67h1M197 67h1M89 68h1M103 68h1M109 68h1M192 68h1M92 69h1M94 69h1M117 69h1M196 69h1M93 70h4M108 70h1M115 70h2M121 70h2M177 70h1M190 70h1M88 71h1M90 71h1M174 71h1M94 72h1M107 72h1M110 72h1M92 73h1M100 73h1M113 73h1M116 73h1M118 73h1M123 73h1M91 74h1M100 74h1M99 75h1M112 75h2M118 75h1M121 75h1M178 75h1M103 76h1M192 76h1"/>
<path stroke="#de5858" d="M67 0h1M178 0h1M67 1h1M126 1h1M135 1h1M177 1h1M178 2h1M59 3h1M66 3h1M187 3h1M44 4h1M58 4h1M74 4h1M178 4h1M192 4h1M49 5h1M53 5h1M66 5h1M74 5h1M44 6h1M50 6h1M53 6h1M55 6h1M58 6h1M66 6h1M141 6h1M186 6h1M192 6h1M49 7h1M57 7h1M135 7h1M141 7h1M176 8h2M141 9h1M143 9h1M177 9h2M42 10h1M77 10h1M233 11h1M9 12h1M12 12h1M29 12h1M41 12h2M29 13h1M228 13h1M235 13h2M28 14h2M58 14h1M42 15h1M78 16h1M78 17h1M36 18h1M56 19h1M0 20h1M7 20h1M10 20h1M15 20h1M17 20h1M25 20h1M32 20h1M37 20h1M40 20h1M5 21h1M10 21h2M17 21h1M31 21h1M34 21h2M51 21h1M54 21h1M64 21h1M6 22h1M12 22h1M30 22h1M34 22h1M65 22h1M11 23h1M20 23h1M34 23h1M36 23h1M10 24h1M17 24h1M43 24h1M52 24h1M54 24h1M13 25h1M40 25h1M54 25h1M5 26h1M9 26h1M32 26h1M57 26h1M21 27h1M33 27h1M35 27h1M146 27h1M11 28h1M17 28h1M21 28h1M48 28h1M55 28h1M66 28h1M9 29h2M30 29h1M35 29h1M37 29h1M55 29h1M11 30h1M19 30h1M24 30h1M38 30h1M41 30h1M56 30h1M86 30h1M5 31h1M9 31h1M16 31h1M30 31h1M33 31h1M64 31h1M0 32h1M5 32h1M13 32h1M18 32h1M62 32h2M146 32h2M228 33h1M89 34h1M138 34h1M90 35h1M177 35h1M215 35h1M252 36h1M254 36h1M263 36h1M177 37h1M190 37h1M215 37h1M254 37h1M88 38h1M100 38h1M215 38h1M106 39h1M241 39h2M106 40h1M213 40h1M221 40h1M148 41h1M204 41h1M256 41h1M245 43h1M112 44h1M255 44h1M191 45h1M246 45h1M106 46h1M205 46h1M241 46h1M168 47h1M90 48h1M183 48h1M213 48h1M205 50h1M106 52h1M95 53h1M101 53h2M104 53h1M107 53h1M113 53h2M192 53h1M95 54h1M102 54h1M107 54h1M112 54h2M118 54h2M219 54h1M90 55h1M93 55h1M109 55h1M123 55h1M198 55h1M88 56h1M92 56h1M95 56h1M101 56h2M111 56h2M178 56h1M101 57h2M104 57h1M88 58h1M99 58h1M102 58h1M108 58h1M177 58h1M196 58h1M91 59h1M93 59h2M101 59h1M113 59h1M107 60h1M113 60h2M119 60h1M174 60h1M182 60h1M192 60h1M89 61h1M91 61h1M94 61h1M99 61h1M101 61h1M107 61h1M112 61h1M114 61h1M120 61h1M122 61h1M174 61h1M89 62h1M92 62h1M119 62h1M179 62h1M221 62h1M96 63h1M101 63h1M108 63h1M112 63h1M116 63h1M118 63h1M101 64h1M111 64h2M116 64h1M178 64h1M90 65h2M94 65h1M90 66h1M92 66h1M107 66h1M120 66h1M88 67h3M113 67h1M90 68h1M94 68h1M101 68h1M114 68h1M117 68h1M87 69h1M91 69h1M93 69h1M99 69h1M102 69h1M104 69h1M112 69h1M120 69h1M122 69h1M178 69h1M87 70h1M90 70h2M100 70h1M182 70h1M93 71h1M101 71h2M113 71h1M117 71h1M121 71h1M123 71h1M89 72h2M92 72h2M95 72h3M100 72h1M102 72h1M104 72h1M111 72h1M120 72h1M112 73h1M115 73h1M119 73h1M120 74h1M174 74h1M89 75h1M102 75h1M120 75h1M90 76h1M102 76h1M112 76h1"/>
<path stroke="#da4444" d="M49 0h1M59 1h1M142 1h1M67 2h1M176 2h2M44 3h1M49 3h1M57 3h1M125 3h1M176 3h1M186 3h1M135 4h1M176 4h1M178 5h1M205 5h1M49 6h1M56 6h1M176 6h3M67 7h1M79 7h1M49 8h2M74 8h1M126 8h1M49 9h1M58 9h1M67 9h1M148 9h1M186 9h1M23 10h1M223 10h1M232 10h1M230 11h1M23 12h1M225 13h1M231 13h1M28 15h1M58 16h1M65 16h1M29 17h1M29 18h1M32 18h1M34 18h1M56 18h1M5 20h1M12 20h1M16 20h1M23 20h1M30 20h1M61 20h3M66 21h1M0 22h1M17 22h1M23 22h1M28 22h1M41 22h1M15 23h1M24 23h1M9 24h1M23 24h3M38 24h1M63 24h1M66 24h1M9 25h1M21 25h1M35 25h1M39 25h1M64 25h1M11 26h1M13 26h3M34 26h1M14 27h1M23 27h1M36 27h1M12 28h1M37 28h1M146 28h1M39 29h1M66 29h1M5 30h1M12 30h1M15 30h1M28 30h1M12 31h1M36 31h1M23 32h1M198 33h1M253 36h1M260 36h1M175 37h1M256 37h1M106 47h1M88 48h1M188 49h1M89 50h1M106 51h1M182 51h1M251 51h1M120 53h1M198 53h1M91 54h1M121 54h1M89 55h1M92 55h1M101 55h1M120 55h2M104 56h1M107 56h1M90 57h1M92 57h1M100 57h1M109 57h1M112 57h1M118 57h1M120 57h1M122 57h1M87 58h1M94 58h1M109 58h1M113 58h1M119 58h2M186 58h1M102 59h1M104 59h1M91 60h2M121 60h1M178 60h1M116 62h1M174 62h1M178 62h1M88 63h1M111 63h1M175 63h1M91 64h2M120 64h1M174 64h1M192 64h1M88 65h2M92 65h2M112 65h1M119 65h1M123 65h1M94 66h2M119 66h1M101 67h1M116 67h1M123 67h1M93 68h1M95 68h1M107 68h1M112 68h1M115 68h1M118 68h2M121 68h1M89 69h2M111 69h1M113 69h1M115 69h1M92 70h1M102 70h1M112 70h1M89 71h1M94 71h1M112 71h1M113 72h1M122 72h2M120 73h1M92 74h1M95 74h1M101 74h1M104 74h1M122 74h1M90 75h1M94 75h1M114 75h1M255 75h3M113 76h1M119 76h1M164 76h5"/>
<path stroke="#d52f2f" d="M125 0h1M124 1h1M176 1h1M126 2h1M124 3h1M126 3h1M177 3h2M49 4h1M124 4h1M67 5h1M124 5h1M67 6h1M124 6h1M125 7h1M67 8h1M125 9h2M135 9h1M176 9h1M9 10h1M230 10h1M226 11h1M28 12h1M224 13h1M0 18h1M30 18h2M38 18h1M54 18h2M71 18h1M73 18h1M39 20h1M0 21h1M2 21h1M13 21h1M20 21h1M55 21h1M13 22h1M61 22h1M10 23h1M13 23h1M32 24h1M62 24h1M15 25h1M36 25h1M63 25h1M35 26h1M0 28h1M36 29h1M146 29h1M16 30h1M23 30h1M29 30h1M35 31h1M32 32h1M106 42h1M106 45h1M168 50h1M89 53h1M94 53h1M100 53h1M112 53h1M119 53h1M122 53h1M89 54h1M92 54h1M101 54h1M88 55h1M87 56h1M113 56h1M89 57h1M94 57h1M115 57h1M119 57h1M123 57h1M92 58h1M107 58h1M110 58h1M122 58h1M174 58h1M95 59h1M119 59h1M123 59h1M90 60h1M95 60h1M123 60h1M87 61h1M92 61h1M100 61h1M119 61h1M91 62h1M93 62h1M90 63h1M94 63h1M107 63h1M120 63h1M123 63h1M104 65h1M87 66h1M93 66h1M123 66h1M92 67h1M115 67h1M122 67h1M91 68h1M120 68h1M95 69h1M119 69h1M123 69h1M99 70h1M117 70h1M119 70h1M92 71h1M95 71h1M104 71h1M91 72h1M108 72h1M90 74h1M93 74h1M112 74h1M111 75h1M122 75h2M93 76h1M95 76h1"/>
<path stroke="#d11a1a" d="M126 0h1M125 1h1M124 2h2M67 4h1M125 4h2M125 5h2M135 5h1M134 6h2M124 7h1M126 7h1M135 8h1M178 8h1M124 9h1M33 18h1M35 18h1M37 18h1M72 18h1M74 18h2M9 20h1M11 20h1M13 20h1M34 20h3M154 20h2M15 21h1M36 21h1M14 22h1M39 22h1M23 23h1M12 24h1M14 24h1M10 25h1M14 25h1M16 25h1M23 25h1M36 26h1M20 28h1M63 28h1M19 29h1M35 30h1M14 32h1M36 32h1M90 53h1M93 54h1M120 54h1M94 55h1M113 55h1M122 55h1M91 56h1M93 56h1M122 56h1M91 57h1M93 57h1M95 57h1M89 58h1M91 58h1M93 58h1M95 58h1M100 58h2M112 58h1M123 58h1M90 59h1M92 59h1M112 60h1M93 61h1M113 61h1M123 61h1M90 62h1M112 62h1M93 63h1M95 63h1M119 63h1M113 65h1M122 65h1M174 65h1M93 67h1M113 70h1M92 75h2M101 75h1"/>
<path stroke="#cd0505" d="M124 0h1M176 0h1M135 3h1M125 6h2M124 8h2M43 10h1M223 13h1M1 18h1M39 18h2M14 20h1M12 21h1M37 21h1M36 22h1M15 24h1M36 24h1M23 26h1M40 26h1M15 27h1M16 28h1M35 28h1M36 30h1M215 34h1M253 37h1M92 53h2M117 53h1M123 53h1M123 54h1M90 56h1M117 58h1M89 59h1M112 59h1M90 61h1M123 62h1M93 64h1M102 68h1M123 68h1M93 73h1M113 74h1M92 76h1"/>
</g>
<rect x="46.7" y="77.5" width="370.1" height="7.4" fill="#1b9e77"/>
<path fill="#d95f02" d="M47 77.5h1.6v7.4h-1.6zM85.5 77.5h1.1v7.4h-1.1zM163.3 77.5h1.5v7.4h-1.5zM168 77.5h21.9v7.4h-21.9zM199.7 77.5h3.6v7.4h-3.6zM204.9 77.5h1.5v7.4h-1.5zM208.8 77.5h2.8v7.4h-2.8zM215.7 77.5h4.3v7.4h-4.3zM226.1 77.5h2.8v7.4h-2.8zM230.9 77.5h1.3v7.4h-1.3zM247.1 77.5h1.7v7.4h-1.7zM249.9 77.5h1.5v7.4h-1.5zM275.9 77.5h3.7v7.4h-3.7zM282 77.5h2.2v7.4h-2.2zM289.4 77.5h1.1v7.4h-1.1zM298 77.5h1.8v7.4h-1.8zM314.5 77.5h3v7.4h-3zM320.3 77.5h1.1v7.4h-1.1zM322.9 77.5h1.1v7.4h-1.1zM331 77.5h4.1v7.4h-4.1zM337.2 77.5h3.7v7.4h-3.7zM344.6 77.5h1.3v7.4h-1.3zM348.1 77.5h2.1v7.4h-2.1zM353.5 77.5h4.3v7.4h-4.3zM359.4 77.5h1.1v7.4h-1.1zM377.3 77.5h1.6v7.4h-1.6zM395.1 77.5h2.6v7.4h-2.6zM400.1 77.5h1.1v7.4h-1.1zM402.7 77.5h1.5v7.4h-1.5zM411.4 77.5h1.3v7.4h-1.3zM414 77.5h1.3v7.4h-1.3z"/>
<path stroke="#fff" stroke-width=".5" opacity=".7" d="M142.6 77.5v7.4M241.7 77.5v7.4"/>
<path fill="none" stroke="#222" stroke-width=".62" d="M50.6 76.7V76.3H52V76.7M51.3 76.3V76H53.5V76.7M49.2 76.7V75.3H52.4V76M56.3 76.7V76.2H57.8V76.7M57.1 76.2V76.1H59.2V76.7M54.9 76.7V75.4H58.1V76.1M56.5 75.4V74.9H60.7V76.7M63.5 76.7V76.2H65V76.7M66.4 76.7V76H67.8V76.7M64.2 76.2V75.7H67.1V76M62.1 76.7V75.5H65.7V75.7M58.6 74.9V74.7H63.9V75.5M50.8 75.3V73.9H61.2V74.7M47.7 76.7V72.5H56V73.9M51.9 72.5V70.8H69.3V76.7M70.7 76.7V76.3H72.1V76.7M71.4 76.3V76.1H73.5V76.7M77.7 76.7V76.5H79.1V76.7M76.3 76.7V76.2H78.4V76.5M77.3 76.2V76H80.5V76.7M74.9 76.7V75.7H78.9V76M72.5 76.1V75.3H76.9V75.7M74.7 75.3V74.3H81.9V76.7M84.7 76.7V76.6H86.1V76.7M85.4 76.6V76.4H87.5V76.7M88.9 76.7V76.5H90.3V76.7M86.5 76.4V76.2H89.6V76.5M83.3 76.7V75.8H88V76.2M91.7 76.7V75.8H93.1V76.7M94.5 76.7V76.6H95.9V76.7M95.2 76.6V76.5H97.3V76.7M96.2 76.5V76.4H98.7V76.7M100.1 76.7V76.3H101.5V76.7M100.8 76.3V76.2H102.9V76.7M97.5 76.4V76.1H101.8V76.2M92.4 75.8V75.5H99.7V76.1M85.7 75.8V75.2H96V75.5M107.1 76.7V76.5H108.5V76.7M105.7 76.7V76.5H107.8V76.5M104.3 76.7V76.2H106.8V76.5M105.5 76.2V75.6H109.9V76.7M90.8 75.2V74.4H107.7V75.6M78.3 74.3V74H99.3V74.4M88.8 74V72.3H111.3V76.7M115.6 76.7V76.2H117V76.7M116.3 76.2V76H118.5V76.7M114.2 76.7V75.5H117.4V76M115.8 75.5V74.8H119.9V76.7M117.8 74.8V74.3H121.3V76.7M112.7 76.7V73.9H119.6V74.3M124.2 76.7V76.5H125.7V76.7M124.9 76.5V76.2H127.1V76.7M126 76.2V75.7H128.5V76.7M132.8 76.7V76.4H134.3V76.7M131.4 76.7V76H133.6V76.4M130 76.7V75.7H132.5V76M127.3 75.7V75.3H131.2V75.7M122.8 76.7V73.9H129.2V75.3M116.2 73.9V72.6H126V73.9M100 72.3V70.5H121.1V72.6M135.7 76.7V76.1H137.1V76.7M138.6 76.7V75.7H140V76.7M136.4 76.1V75H139.3V75.7M142.9 76.7V75.5H144.3V76.7M141.4 76.7V75.1H143.6V75.5M145.7 76.7V76.1H147.1V76.7M146.4 76.1V75.3H148.6V76.7M147.5 75.3V74.8H150V76.7M142.5 75.1V74.3H148.8V74.8M137.9 75V73.9H145.6V74.3M151.4 76.7V75.6H152.9V76.7M152.1 75.6V74.3H154.3V76.7M141.7 73.9V72.2H153.2V74.3M157.2 76.7V75.5H158.6V76.7M155.7 76.7V74.8H157.9V75.5M161.5 76.7V75.7H162.9V76.7M160.1 76.7V75.2H162.2V75.7M165.8 76.7V76.1H167.3V76.7M164.4 76.7V75.7H166.6V76.1M161.1 75.2V73.7H165.5V75.7M156.8 74.8V72.5H163.3V73.7M147.5 72.2V70H160.1V72.5M115.8 70.5V66.3H154.2V70M60.6 70.8V63.3H135V66.3M171.6 76.7V76.4H173V76.7M170.1 76.7V76H172.3V76.4M168.7 76.7V74.7H171.2V76M170 74.7V73.2H174.4V76.7M177.2 76.7V76H178.7V76.7M175.8 76.7V75.6H177.9V76M176.9 75.6V74.4H180.1V76.7M182.9 76.7V76.6H184.3V76.7M183.6 76.6V76.6H185.8V76.7M184.7 76.6V76.4H187.2V76.7M185.9 76.4V76.3H188.6V76.7M181.5 76.7V76H187.3V76.3M190 76.7V76.2H191.4V76.7M184.4 76V75.7H190.7V76.2M187.6 75.7V74.8H192.9V76.7M190.2 74.8V74.5H194.3V76.7M178.5 74.4V74.1H192.3V74.5M172.2 73.2V72H185.4V74.1M195.7 76.7V75.4H197.1V76.7M199.9 76.7V76.1H201.2V76.7M202.6 76.7V76.1H204V76.7M200.6 76.1V75.8H203.3V76.1M201.9 75.8V75.5H205.4V76.7M198.5 76.7V75.1H203.7V75.5M206.8 76.7V76H208.2V76.7M207.5 76V75.4H209.6V76.7M201.1 75.1V74.5H208.5V75.4M196.4 75.4V73.3H204.8V74.5M212.4 76.7V75.1H213.8V76.7M211 76.7V74.4H213.1V75.1M217.9 76.7V75.6H219.3V76.7M216.5 76.7V75.3H218.6V75.6M215.1 76.7V74.2H217.6V75.3M212 74.4V72.9H216.4V74.2M200.6 73.3V71.6H214.2V72.9M178.8 72V69.7H207.4V71.6M220.7 76.7V75.6H222.1V76.7M221.4 75.6V74.4H223.6V76.7M227.9 76.7V76.4H229.3V76.7M226.4 76.7V75.9H228.6V76.4M230.7 76.7V75.9H232.1V76.7M227.5 75.9V75.1H231.4V75.9M225 76.7V73.6H229.5V75.1M233.6 76.7V75H235V76.7M237.9 76.7V76.2H239.3V76.7M236.4 76.7V74.9H238.6V76.2M234.3 75V74H237.5V74.9M227.2 73.6V73.1H235.9V74M222.5 74.4V72H231.6V73.1M240.7 76.7V76.5H242.1V76.7M241.4 76.5V76.4H243.4V76.7M242.4 76.4V75.9H244.8V76.7M243.6 75.9V75.7H246.2V76.7M244.9 75.7V74.9H247.6V76.7M248.9 76.7V75.5H250.3V76.7M249.6 75.5V74.3H251.7V76.7M246.2 74.9V73.5H250.7V74.3M253.1 76.7V74.7H254.4V76.7M255.8 76.7V75H257.2V76.7M258.6 76.7V75.6H259.9V76.7M259.2 75.6V75.1H261.3V76.7M256.5 75V73.9H260.3V75.1M253.8 74.7V72.9H258.4V73.9M248.4 73.5V71.8H256.1V72.9M227 72V69.5H252.3V71.8M264.1 76.7V76.4H265.5V76.7M262.7 76.7V75.6H264.8V76.4M268.3 76.7V75.1H269.7V76.7M266.9 76.7V74.7H269V75.1M263.8 75.6V73.9H267.9V74.7M271.1 76.7V76.1H272.5V76.7M275.3 76.7V76H276.7V76.7M273.9 76.7V75.8H276V76M279.5 76.7V76.3H280.9V76.7M278.1 76.7V76H280.2V76.3M274.9 75.8V75.3H279.1V76M271.8 76.1V75.1H277V75.3M274.4 75.1V74.3H282.3V76.7M265.9 73.9V72.4H278.4V74.3M288 76.7V76.4H289.4V76.7M288.7 76.4V76.2H290.8V76.7M292.2 76.7V76.2H293.6V76.7M289.7 76.2V75.9H292.9V76.2M286.5 76.7V75.7H291.3V75.9M295 76.7V76H296.5V76.7M288.9 75.7V75.5H295.8V76M285.1 76.7V74.8H292.3V75.5M283.7 76.7V74.4H288.7V74.8M286.2 74.4V72.8H297.9V76.7M292 72.8V72.2H299.3V76.7M272.1 72.4V70.5H295.7V72.2M307.8 76.7V75.7H309.2V76.7M306.4 76.7V75.4H308.5V75.7M305 76.7V74.9H307.4V75.4M303.5 76.7V74H306.2V74.9M302.1 76.7V72.4H304.9V74M313.5 76.7V76.5H314.9V76.7M314.2 76.5V76.3H316.3V76.7M312 76.7V75.3H315.2V76.3M310.6 76.7V74.3H313.6V75.3M303.5 72.4V71.6H312.1V74.3M300.7 76.7V71H307.8V71.6M283.9 70.5V67.5H304.3V71M229.5 69.5V63.2H303V67.5M321.8 76.7V75.7H323.2V76.7M320.5 76.7V74.7H322.5V75.7M319.1 76.7V73.9H321.5V74.7M317.7 76.7V72.9H320.3V73.9M326 76.7V76.3H327.4V76.7M324.6 76.7V75.8H326.7V76.3M328.8 76.7V75.8H330.2V76.7M332.9 76.7V75.9H334.3V76.7M331.5 76.7V75.5H333.6V75.9M329.5 75.8V75.2H332.6V75.5M325.7 75.8V74.1H331V75.2M319 72.9V72H328.3V74.1M335.7 76.7V75.5H337.1V76.7M340 76.7V75.9H341.4V76.7M344.2 76.7V76.4H345.6V76.7M342.8 76.7V75.9H344.9V76.4M340.7 75.9V75.5H343.9V75.9M338.5 76.7V75.1H342.3V75.5M336.4 75.5V74.9H340.4V75.1M338.4 74.9V74.4H347V76.7M348.5 76.7V74.9H349.9V76.7M349.2 74.9V73.2H351.3V76.7M342.7 74.4V72.2H350.2V73.2M323.7 72V69.5H346.5V72.2M354.2 76.7V75.6H355.6V76.7M352.7 76.7V75.2H354.9V75.6M358.5 76.7V76.5H360V76.7M359.3 76.5V76.3H361.5V76.7M357.1 76.7V75.7H360.4V76.3M353.8 75.2V74.6H358.7V75.7M356.3 74.6V74.3H362.9V76.7M364.4 76.7V76.2H365.8V76.7M365.1 76.2V75.2H367.3V76.7M359.6 74.3V72.5H366.2V75.2M371.3 76.7V75.7H372.7V76.7M370 76.7V75.1H372V75.7M374 76.7V75.4H375.3V76.7M371 75.1V74.4H374.7V75.4M376.7 76.7V75.5H378V76.7M377.3 75.5V74.6H379.3V76.7M372.8 74.4V73H378.3V74.6M368.7 76.7V72.5H375.6V73M362.9 72.5V70.5H372.1V72.5M383.6 76.7V76.2H385V76.7M382.1 76.7V76H384.3V76.2M386.4 76.7V76.2H387.9V76.7M389.3 76.7V76.3H390.7V76.7M387.1 76.2V75.9H390V76.3M383.2 76V75.2H388.6V75.9M393.6 76.7V75.8H395V76.7M392.1 76.7V75.5H394.3V75.8M385.9 75.2V74.2H393.2V75.5M396.4 76.7V75.8H397.9V76.7M397.1 75.8V74.3H399.3V76.7M389.6 74.2V73.5H398.2V74.3M380.7 76.7V72.3H393.9V73.5M402.1 76.7V75.2H403.5V76.7M400.7 76.7V74.2H402.8V75.2M406.3 76.7V76.3H407.7V76.7M404.9 76.7V75.4H407V76.3M410.5 76.7V76.1H411.9V76.7M414.7 76.7V76.5H416.1V76.7M413.3 76.7V76.2H415.4V76.5M411.2 76.1V75.5H414.4V76.2M409.1 76.7V75.2H412.8V75.5M405.9 75.4V73.5H410.9V75.2M401.8 74.2V72.5H408.4V73.5M387.3 72.3V70.5H405.1V72.5M367.6 70.5V67H391V70.5M334 69.5V62.2H379.6V67M257 63.2V59H357V62.2M187.5 69.7V48H307.5V59M96.9 63.3V27.5H247V48"/>
<path fill="none" stroke="#222" stroke-width=".62" d="M46.2 96H43.5V101.7H46.2M46.2 90.4H42.5V98.9H43.5M46.2 118.6H44.9V124.2H46.2M46.2 129.8H45.5V135.5H46.2M45.5 132.7H45.1V141.1H46.2M44.9 121.4H43.9V136.9H45.1M46.2 113H43.2V129.1H43.9M46.2 107.3H41.5V121H43.2M42.5 94.6H38.3V114.2H41.5M46.2 146.8H43.1V152.4H46.2M46.2 158H42.3V163.6H46.2M43.1 149.6H41V160.8H42.3M46.2 180.5H45.8V186.2H46.2M45.8 183.4H45V191.8H46.2M46.2 174.9H44.2V187.6H45M44.2 181.3H43.8V197.4H46.2M46.2 169.3H41V189.4H43.8M46.2 214.3H45.9V220H46.2M46.2 208.7H45.4V217.2H45.9M45.4 212.9H45V225.6H46.2M45 219.3H43.7V231.2H46.2M46.2 203.1H42V225.3H43.7M46.2 248.1H45.7V253.8H46.2M46.2 242.5H45.1V251H45.7M45.1 246.7H44.5V259.4H46.2M46.2 236.9H42.6V253.1H44.5M46.2 265.1H44.3V270.7H46.2M42.6 245H41.5V267.9H44.3M42 214.2H39.5V256.4H41.5M41 179.3H38V235.3H39.5M41 155.2H35.2V207.3H38M38.3 104.4H27.1V181.3H35.2M46.2 276.3H42.2V281.9H46.2M46.2 293.2H45.3V298.8H46.2M45.3 296H44.8V304.5H46.2M46.2 287.6H43.7V300.3H44.8M42.2 279.1H41V293.9H43.7M46.2 310.1H44.7V315.7H46.2M46.2 321.4H45V327H46.2M44.7 312.9H43.5V324.2H45M46.2 332.6H43.5V338.3H46.2M43.5 318.6H42.5V335.5H43.5M46.2 355.2H44.7V360.8H46.2M46.2 377.7H45.9V383.3H46.2M46.2 372.1H45.3V380.5H45.9M46.2 366.4H44.8V376.3H45.3M44.7 358H43.6V371.4H44.8M46.2 349.5H43.3V364.7H43.6M46.2 343.9H42.5V357.1H43.3M42.5 327H40V350.5H42.5M41 286.5H38V338.8H40M46.2 389H44.4V394.6H46.2M46.2 400.2H45.4V405.9H46.2M46.2 411.5H45.2V417.1H46.2M45.4 403.1H43.9V414.3H45.2M44.4 391.8H43.4V408.7H43.9M46.2 428.4H44.9V434H46.2M46.2 422.8H44.6V431.2H44.9M46.2 439.7H45.7V445.3H46.2M45.7 442.5H45.5V450.9H46.2M44.6 427H44.1V446.7H45.5M43.4 400.2H41.7V436.9H44.1M41.7 418.6H40.5V456.6H46.2M46.2 467.8H45.8V473.5H46.2M45.8 470.7H45.2V479.1H46.2M45.2 474.9H44.4V484.8H46.2M46.2 462.2H42.7V479.8H44.4M46.2 501.6H46V507.3H46.2M46.2 496H45.7V504.5H46M45.7 500.2H45.2V512.9H46.2M45.2 506.6H44.4V518.5H46.2M44.4 512.6H43V524.2H46.2M46.2 490.4H42.3V518.4H43M42.7 471H40.5V504.4H42.3M40.5 437.6H38V487.7H40.5M38 312.6H23.5V462.6H38M27.1 142.8H1.4V387.6H23.5"/>
<g fill="#222">
<text x="419.2" y="93.22" font-size="8" textLength="31.7" lengthAdjust="spacingAndGlyphs">SLC14A1</text>
<text x="419.2" y="98.85" font-size="8" textLength="32.5" lengthAdjust="spacingAndGlyphs">FAM178B</text>
<text x="419.2" y="104.48" font-size="8" textLength="17.7" lengthAdjust="spacingAndGlyphs">KLF1</text>
<text x="419.2" y="110.12" font-size="8" textLength="20.2" lengthAdjust="spacingAndGlyphs">HBG2</text>
<text x="419.2" y="115.75" font-size="8" textLength="15.2" lengthAdjust="spacingAndGlyphs">HBB</text>
<text x="419.2" y="121.38" font-size="8" textLength="19.3" lengthAdjust="spacingAndGlyphs">HBA2</text>
<text x="419.2" y="127.02" font-size="8" textLength="19.3" lengthAdjust="spacingAndGlyphs">HBA1</text>
<text x="419.2" y="132.65" font-size="8" textLength="27.6" lengthAdjust="spacingAndGlyphs">SLC4A1</text>
<text x="419.2" y="138.28" font-size="8" textLength="23" lengthAdjust="spacingAndGlyphs">ALAS2</text>
<text x="419.2" y="143.92" font-size="8" textLength="20.2" lengthAdjust="spacingAndGlyphs">AHSP</text>
<text x="419.2" y="149.55" font-size="8" textLength="16" lengthAdjust="spacingAndGlyphs">HDC</text>
<text x="419.2" y="155.18" font-size="8" textLength="23.4" lengthAdjust="spacingAndGlyphs">TPSB2</text>
<text x="419.2" y="160.82" font-size="8" textLength="34.5" lengthAdjust="spacingAndGlyphs">CLEC4OP</text>
<text x="419.2" y="166.45" font-size="8" textLength="20.6" lengthAdjust="spacingAndGlyphs">RHEX</text>
<text x="419.2" y="172.08" font-size="8" textLength="33.7" lengthAdjust="spacingAndGlyphs">C1QTNF4</text>
<text x="419.2" y="177.72" font-size="8" textLength="20.2" lengthAdjust="spacingAndGlyphs">IGLL1</text>
<text x="419.2" y="183.35" font-size="8" textLength="36.2" lengthAdjust="spacingAndGlyphs">CDK6-AS1</text>
<text x="419.2" y="188.98" font-size="8" textLength="27.6" lengthAdjust="spacingAndGlyphs">SMIM24</text>
<text x="419.2" y="194.62" font-size="8" textLength="28.8" lengthAdjust="spacingAndGlyphs">POU4F1</text>
<text x="419.2" y="200.25" font-size="8" textLength="18.9" lengthAdjust="spacingAndGlyphs">CD34</text>
<text x="419.2" y="205.88" font-size="8" textLength="21" lengthAdjust="spacingAndGlyphs">PNMT</text>
<text x="419.2" y="211.52" font-size="8" textLength="30" lengthAdjust="spacingAndGlyphs">MYO18B</text>
<text x="419.2" y="217.15" font-size="8" textLength="32.4" lengthAdjust="spacingAndGlyphs">UGT2B11</text>
<text x="419.2" y="222.78" font-size="8" textLength="28.4" lengthAdjust="spacingAndGlyphs">ARPP21</text>
<text x="419.2" y="228.42" font-size="8" textLength="15.6" lengthAdjust="spacingAndGlyphs">SHD</text>
<text x="419.2" y="234.05" font-size="8" textLength="28.2" lengthAdjust="spacingAndGlyphs">TSPAN7</text>
<text x="419.2" y="239.68" font-size="8" textLength="15.2" lengthAdjust="spacingAndGlyphs">TRH</text>
<text x="419.2" y="245.32" font-size="8" textLength="28" lengthAdjust="spacingAndGlyphs">TMIGD2</text>
<text x="419.2" y="250.95" font-size="8" textLength="21.8" lengthAdjust="spacingAndGlyphs">ITM2A</text>
<text x="419.2" y="256.58" font-size="8" textLength="19.3" lengthAdjust="spacingAndGlyphs">CBX2</text>
<text x="419.2" y="262.22" font-size="8" textLength="30.8" lengthAdjust="spacingAndGlyphs">UMODL1</text>
<text x="419.2" y="267.85" font-size="8" textLength="26.3" lengthAdjust="spacingAndGlyphs">HPGDS</text>
<text x="419.2" y="273.48" font-size="8" textLength="24.7" lengthAdjust="spacingAndGlyphs">SVOPL</text>
<text x="419.2" y="279.12" font-size="8" textLength="30.4" lengthAdjust="spacingAndGlyphs">ECHDC2</text>
<text x="419.2" y="284.75" font-size="8" textLength="23.3" lengthAdjust="spacingAndGlyphs">RTL8C</text>
<text x="419.2" y="290.38" font-size="8" textLength="23.4" lengthAdjust="spacingAndGlyphs">RAB34</text>
<text x="419.2" y="296.02" font-size="8" textLength="42.3" lengthAdjust="spacingAndGlyphs">PRDM16-DT</text>
<text x="419.2" y="301.65" font-size="8" textLength="26.7" lengthAdjust="spacingAndGlyphs">SCHIP1</text>
<text x="419.2" y="307.28" font-size="8" textLength="14.8" lengthAdjust="spacingAndGlyphs">CLU</text>
<text x="419.2" y="312.92" font-size="8" textLength="25.1" lengthAdjust="spacingAndGlyphs">HOXB2</text>
<text x="419.2" y="318.55" font-size="8" textLength="25.1" lengthAdjust="spacingAndGlyphs">HOXB4</text>
<text x="419.2" y="324.18" font-size="8" textLength="25.1" lengthAdjust="spacingAndGlyphs">HOXB3</text>
<text x="419.2" y="329.82" font-size="8" textLength="37.4" lengthAdjust="spacingAndGlyphs">HOXB-AS3</text>
<text x="419.2" y="335.45" font-size="8" textLength="25.1" lengthAdjust="spacingAndGlyphs">HOXB5</text>
<text x="419.2" y="341.08" font-size="8" textLength="25.1" lengthAdjust="spacingAndGlyphs">HOXB6</text>
<text x="419.2" y="346.72" font-size="8" textLength="25.1" lengthAdjust="spacingAndGlyphs">HOXA7</text>
<text x="419.2" y="352.35" font-size="8" textLength="25.1" lengthAdjust="spacingAndGlyphs">HOXA3</text>
<text x="419.2" y="357.98" font-size="8" textLength="25.1" lengthAdjust="spacingAndGlyphs">HOXA6</text>
<text x="419.2" y="363.62" font-size="8" textLength="25.1" lengthAdjust="spacingAndGlyphs">HOXA5</text>
<text x="419.2" y="369.25" font-size="8" textLength="24.7" lengthAdjust="spacingAndGlyphs">CPNE8</text>
<text x="419.2" y="374.88" font-size="8" textLength="41.5" lengthAdjust="spacingAndGlyphs">HOXA10-AS</text>
<text x="419.2" y="380.52" font-size="8" textLength="29.2" lengthAdjust="spacingAndGlyphs">HOXA10</text>
<text x="419.2" y="386.15" font-size="8" textLength="25.1" lengthAdjust="spacingAndGlyphs">HOXA9</text>
<text x="419.2" y="391.78" font-size="8" textLength="31.3" lengthAdjust="spacingAndGlyphs">EPB41L3</text>
<text x="419.2" y="397.42" font-size="8" textLength="9.5" lengthAdjust="spacingAndGlyphs">C2</text>
<text x="419.2" y="403.05" font-size="8" textLength="21.4" lengthAdjust="spacingAndGlyphs">HNMT</text>
<text x="419.2" y="408.68" font-size="8" textLength="19.3" lengthAdjust="spacingAndGlyphs">CES1</text>
<text x="419.2" y="414.32" font-size="8" textLength="32.1" lengthAdjust="spacingAndGlyphs">TNFSF12</text>
<text x="419.2" y="419.95" font-size="8" textLength="30" lengthAdjust="spacingAndGlyphs">GABBR1</text>
<text x="419.2" y="425.58" font-size="8" textLength="30.4" lengthAdjust="spacingAndGlyphs">ADGRA2</text>
<text x="419.2" y="431.22" font-size="8" textLength="19.7" lengthAdjust="spacingAndGlyphs">VNN1</text>
<text x="419.2" y="436.85" font-size="8" textLength="23.9" lengthAdjust="spacingAndGlyphs">BASP1</text>
<text x="419.2" y="442.48" font-size="8" textLength="23.9" lengthAdjust="spacingAndGlyphs">THBS1</text>
<text x="419.2" y="448.12" font-size="8" textLength="27.2" lengthAdjust="spacingAndGlyphs">CCL3L3</text>
<text x="419.2" y="453.75" font-size="8" textLength="30" lengthAdjust="spacingAndGlyphs">TNFAIP2</text>
<text x="419.2" y="459.38" font-size="8" textLength="17.7" lengthAdjust="spacingAndGlyphs">KLF4</text>
<text x="419.2" y="465.02" font-size="8" textLength="22.9" lengthAdjust="spacingAndGlyphs">STAB1</text>
<text x="419.2" y="470.65" font-size="8" textLength="28" lengthAdjust="spacingAndGlyphs">CD300E</text>
<text x="419.2" y="476.28" font-size="8" textLength="20.6" lengthAdjust="spacingAndGlyphs">MAFB</text>
<text x="419.2" y="481.92" font-size="8" textLength="18.9" lengthAdjust="spacingAndGlyphs">CD14</text>
<text x="419.2" y="487.55" font-size="8" textLength="20.6" lengthAdjust="spacingAndGlyphs">VCAN</text>
<text x="419.2" y="493.18" font-size="8" textLength="24.7" lengthAdjust="spacingAndGlyphs">LILRB4</text>
<text x="419.2" y="498.82" font-size="8" textLength="28" lengthAdjust="spacingAndGlyphs">LGALS2</text>
<text x="419.2" y="504.45" font-size="8" textLength="20.6" lengthAdjust="spacingAndGlyphs">TYMP</text>
<text x="419.2" y="510.08" font-size="8" textLength="24.3" lengthAdjust="spacingAndGlyphs">ANXA5</text>
<text x="419.2" y="515.72" font-size="8" textLength="23.4" lengthAdjust="spacingAndGlyphs">TPPP3</text>
<text x="419.2" y="521.35" font-size="8" textLength="39.1" lengthAdjust="spacingAndGlyphs">TMEM176B</text>
<text x="419.2" y="526.98" font-size="8" textLength="32.5" lengthAdjust="spacingAndGlyphs">CYP27A1</text>
</g>
<text x="418.8" y="84.6" font-size="7" font-weight="bold">condition</text>
<defs><linearGradient id="hm" x1="0" y1="0" x2="0" y2="1"><stop offset="0" stop-color="#cd0505"/><stop offset=".5" stop-color="#fff"/><stop offset="1" stop-color="#3a5fcd"/></linearGradient></defs>
<rect x="464.7" y="76.7" width="8.3" height="140.3" fill="url(#hm)"/>
<text x="476.6" y="79.9" font-size="6.4" fill="#222">3</text>
<text x="476.6" y="103.2" font-size="6.4" fill="#222">2</text>
<text x="476.6" y="126.5" font-size="6.4" fill="#222">1</text>
<text x="476.6" y="149.8" font-size="6.4" fill="#222">0</text>
<text x="476.6" y="173.1" font-size="6.4" fill="#222">-1</text>
<text x="476.6" y="196.4" font-size="6.4" fill="#222">-2</text>
<text x="476.6" y="219.7" font-size="6.4" fill="#222">-3</text>
<text x="484.7" y="83.2" font-size="7" font-weight="bold">condition</text>
<rect x="484.7" y="85.8" width="10.8" height="12.3" fill="#d95f02"/><rect x="484.7" y="98.1" width="10.8" height="12" fill="#1b9e77"/>
<text x="498.7" y="94.9" font-size="7.8" fill="#222" textLength="65" lengthAdjust="spacingAndGlyphs"><tspan font-style="italic">DNMT3A</tspan> mutated</text>
<text x="498.7" y="107.4" font-size="7.8" fill="#222" textLength="44.3" lengthAdjust="spacingAndGlyphs"><tspan font-style="italic">DNMT3A</tspan> wt</text>
<rect x="683.4" y="21.8" width="362.8" height="302.2" fill="#fff"/>
<path stroke="#ececec" stroke-width=".6" fill="none" d="M703.3 21.8V324M735.6 21.8V324M767.9 21.8V324M800.2 21.8V324M832.5 21.8V324M864.8 21.8V324M897.1 21.8V324M929.4 21.8V324M961.7 21.8V324M994 21.8V324M1026.3 21.8V324M683.4 310.1H1046.2M683.4 273.5H1046.2M683.4 236.9H1046.2M683.4 200.2H1046.2M683.4 163.6H1046.2M683.4 127H1046.2M683.4 90.4H1046.2M683.4 53.7H1046.2"/>
<path transform="scale(.1)" fill="none" stroke="#4a70e2" stroke-width="21" stroke-linecap="round" d="M7001 1695h0m64 542h0m33 197h0m58-818h0m71-53h0m25 427h0m7 408h0m21 44h0m3 151h0m103-251h0m39-255h0m12 298h0m14-520h0m28-72h0m1 515h0m28-921h0m68 319h0m4-21h0m48 203h0m5 172h0m7-179h0m13-131h0m26-407h0m19 479h0m3 55h0m3 257h0m4-245h0m2 425h0m7-250h0m5-36h0m4 408h0m2 89h0m2 0h0m5-186h0m6-175h0m6 91h0m7-59h0m17 199h0m8-801h0m0 756h0m3 30h0m2-190h0m1 195h0m4-1174h0m1 308h0m6 334h0m0 227h0m1 484h0m11-1280h0m1 24h0m3 669h0m4-116h0m6-648h0m3 1276h0m1-758h0m7 444h0m11 9h0m8 83h0m3-477h0m5 43h0m1 209h0m2 439h0m7-483h0m11 557h0m6-114h0m0 241h0m1-521h0m6-335h0m2 792h0m1-783h0m0 576h0m13-305h0m10 224h0m0 275h0m1-305h0m0 186h0m1-151h0m0 119h0m0 275h0m2-957h0m2 608h0m0 368h0m3-967h0m1-392h0m0 588h0m0 670h0m1-1029h0m4 349h0m4-522h0m1 991h0m4-603h0m1-374h0m0 1364h0m4-172h0m1-502h0m4-376h0m3 128h0m2 266h0m6-248h0m0 259h0m0 357h0m1 51h0m6-143h0m1 320h0m6-665h0m0 742h0m11-447h0m2-265h0m2-820h0m3 1195h0m1-76h0m1-707h0m0 622h0m2 205h0m2-154h0m0 239h0m3-668h0m1 510h0m2 160h0m2-506h0m0 146h0m2 261h0m1-197h0m4-451h0m0 226h0m1 68h0m4-539h0m1 643h0m1-499h0m0 605h0m2-241h0m1-312h0m2 784h0m5-3h0m2-317h0m0 190h0m1-207h0m1-15h0m0 55h0m0 185h0m2 153h0m1-558h0m1 21h0m7 395h0m4-482h0m2-292h0m0 527h0m0 463h0m1-1417h0m0 730h0m0 733h0m0 56h0m4-191h0m2-300h0m3-301h0m4 175h0m1 357h0m0 43h0m2-1440h0m3 1473h0m1-461h0m0 118h0m0 245h0m0 261h0m1-493h0m0 111h0m0 115h0m0 204h0m2-198h0m1-187h0m1-378h0m3-666h0m1 1245h0m2-1040h0m0 589h0m0 724h0m1-431h0m0 5h0m4-527h0m0 274h0m2 99h0m1 15h0m1 293h0m1-370h0m0 496h0m1-466h0m2-491h0m0 564h0m1-136h0m0 440h0m1-90h0m1-852h0m2 716h0m0 125h0m0 40h0m1-1031h0m1 869h0m0 17h0m2-61h0m2 202h0m1-290h0m1-146h0m0 332h0m1-563h0m0 148h0m0 454h0m0 10h0m1-60h0m0 10h0m1-417h0m0 371h0m2 272h0m1-210h0m0 7h0m2-429h0m0 757h0m1-568h0m0 468h0m1-73h0m1-74h0m1 272h0m2-686h0m1 601h0m2-249h0m1 207h0m2-568h0m1-405h0m0 992h0m2-641h0m0 270h0m0 330h0m1-241h0m0 47h0m1-465h0m0 374h0m0 198h0m2-358h0m0 331h0m0 62h0m0 48h0m1 115h0m2-285h0m0 97h0m1-408h0m3-412h0m0 548h0m0 308h0m3-227h0m0 209h0m1-294h0m1 292h0m3-388h0m1-158h0m2 72h0m0 240h0m2-211h0m0 631h0m1-319h0m0 175h0m1-148h0m1 222h0m1-507h0m0 205h0m0 37h0m0 11h0m0 26h0m0 47h0m1-328h0m1-582h0m3 520h0m0 125h0m2-390h0m0 829h0m1-1315h0m0 837h0m1 343h0m0 47h0m1-244h0m2 197h0m1-134h0m0 386h0m1-350h0m0 111h0m1-477h0m0 372h0m2 118h0m0 15h0m0 99h0m2 76h0m2-731h0m0 238h0m0 474h0m1-423h0m0 205h0m0 104h0m0 50h0m1-434h0m0 407h0m1-320h0m0 106h0m0 315h0m2-605h0m0 331h0m1-821h0m0 302h0m0 8h0m0 148h0m2 535h0m1-982h0m0 954h0m2-283h0m0 115h0m0 267h0m1-761h0m0 529h0m1-191h0m1 60h0m1-449h0m0 309h0m1 575h0m2-1206h0m1 587h0m1 231h0m1-258h0m0 189h0m0 273h0m0 12h0m0 132h0m2-405h0m0 351h0m1-442h0m0 57h0m0 13h0m0 364h0m1-186h0m0 26h0m1-488h0m2 229h0m0 77h0m1 119h0m1-132h0m0 274h0m1-38h0m1-39h0m2-88h0m1-162h0m0 249h0m0 284h0m1-1654h0m0 270h0m0 1066h0m1-446h0m0 97h0m0 413h0m0 70h0m1-161h0m0 338h0m1-303h0m0 143h0m0 46h0m0 36h0m0 86h0m1-365h0m0 129h0m1-657h0m0 650h0m1-450h0m0 131h0m0 199h0m0 296h0m1-291h0m0 90h0m0 68h0m1-134h0m0 348h0m3-630h0m0 7h0m0 195h0m0 365h0m1-656h0m0 83h0m0 475h0m1-473h0m0 434h0m0 115h0m1-495h0m0 272h0m1-315h0m0 361h0m1-329h0m1-204h0m0 309h0m1-107h0m0 159h0m0 75h0m1-181h0m0 283h0m1-1033h0m0 867h0m0 153h0m1-437h0m0 63h0m0 428h0m1-355h0m0 165h0m0 78h0m0 43h0m1 2h0m0 42h0m0 42h0m1-513h0m0 71h0m0 153h0m0 376h0m1-608h0m0 312h0m2-256h0m0 95h0m0 285h0m1-163h0m0 50h0m0 154h0m0 150h0m2-556h0m0 79h0m0 388h0m0 12h0m0 56h0m1-289h0m0 190h0m1 102h0m1-35h0m1-544h0m0 590h0m1-671h0m0 598h0m1-78h0m0 181h0m0 1h0m1-456h0m0 14h0m0 337h0m1-504h0m0 547h0m1-223h0m0 62h0m1-287h0m0 128h0m0 285h0m0 11h0m0 7h0m1-91h0m1-217h0m0 140h0m0 78h0m1-35h0m1-763h0m0 772h0m1-132h0m0 200h0m1-418h0m1-1018h0"/>
<path transform="scale(.1)" fill="none" stroke="#ff1414" stroke-width="21" stroke-linecap="round" d="M9026 1921h0m0 423h0m0 174h0m0 71h0m0 52h0m0 46h0m0 66h0m1-784h0m0 538h0m0 96h0m0 13h0m1-405h0m0 80h0m0 176h0m0 240h0m0 4h0m1-828h0m0 548h0m0 342h0m0 58h0m1-333h0m1-725h0m0 793h0m0 21h0m0 246h0m1-465h0m0 39h0m0 144h0m0 13h0m0 23h0m0 1h0m0 71h0m0 66h0m0 42h0m1-803h0m0 389h0m0 82h0m0 47h0m0 81h0m0 126h0m0 9h0m0 124h0m1-453h0m0 414h0m0 14h0m1-348h0m0 356h0m1-914h0m0 482h0m0 106h0m0 115h0m0 14h0m0 123h0m0 3h0m1-542h0m0 531h0m0 53h0m1-781h0m0 27h0m0 13h0m0 390h0m0 238h0m0 5h0m1-173h0m0 51h0m0 37h0m0 152h0m0 126h0m1-522h0m0 139h0m0 22h0m0 11h0m0 142h0m0 159h0m1-627h0m0 213h0m0 279h0m1-792h0m0 9h0m0 310h0m0 438h0m1-104h0m0 184h0m0 21h0m1-399h0m1-591h0m0 655h0m0 65h0m0 91h0m0 20h0m0 311h0m1-323h0m1-7h0m1-155h0m0 47h0m0 99h0m1 161h0m1-749h0m0 379h0m0 470h0m1-152h0m1-631h0m0 12h0m0 604h0m0 212h0m1-315h0m1-263h0m0 178h0m0 86h0m0 14h0m0 136h0m1-718h0m0 26h0m0 454h0m0 23h0m0 344h0m0 5h0m1-896h0m0 262h0m0 258h0m0 145h0m0 134h0m1-1058h0m0 892h0m0 8h0m1 8h0m0 79h0m1-159h0m0 18h0m0 74h0m1-128h0m0 96h0m0 13h0m1-396h0m0 527h0m0 35h0m0 2h0m1-173h0m0 76h0m0 85h0m1-600h0m0 475h0m0 109h0m1-366h0m0 380h0m1-231h0m0 175h0m0 7h0m0 44h0m1-267h0m0 180h0m0 118h0m0 68h0m1-170h0m1-94h0m0 19h0m0 145h0m0 105h0m1-768h0m1 435h0m0 6h0m0 55h0m0 172h0m1-1377h0m0 423h0m0 465h0m0 354h0m1-126h0m1-110h0m0 88h0m0 19h0m0 252h0m0 85h0m1-450h0m0 85h0m0 117h0m1-365h0m0 18h0m1-388h0m0 729h0m0 197h0m0 67h0m2-1113h0m1 664h0m0 78h0m0 25h0m0 60h0m1-99h0m0 191h0m0 55h0m0 39h0m1-370h0m0 16h0m0 247h0m1-372h0m0 314h0m0 153h0m1-677h0m0 717h0m0 44h0m1-295h0m0 203h0m1-236h0m0 244h0m0 80h0m1-1220h0m1 1255h0m1-837h0m0 387h0m0 356h0m1-729h0m0 332h0m0 91h0m0 100h0m1-226h0m0 207h0m1-399h0m0 267h0m0 336h0m1-415h0m0 195h0m0 206h0m0 111h0m1-876h0m1 599h0m0 195h0m1-149h0m1-607h0m0 632h0m1-161h0m0 91h0m0 127h0m0 13h0m0 7h0m1 34h0m1-457h0m0 146h0m0 197h0m1-178h0m0 77h0m0 409h0m1-442h0m0 45h0m1-927h0m0 1029h0m0 211h0m1-423h0m0 175h0m1 16h0m0 64h0m1-290h0m0 3h0m1-227h0m0 216h0m1 52h0m0 36h0m0 221h0m0 97h0m0 58h0m1-362h0m0 62h0m0 151h0m1-1128h0m0 403h0m0 769h0m0 162h0m1-691h0m0 416h0m0 173h0m1-259h0m1-1330h0m0 1338h0m1-700h0m0 223h0m0 614h0m1-165h0m2-366h0m0 49h0m1 218h0m0 180h0m1-207h0m1-346h0m0 526h0m0 184h0m1-546h0m0 28h0m0 262h0m0 38h0m0 45h0m1-904h0m0 370h0m0 129h0m0 344h0m0 227h0m0 22h0m2-866h0m0 932h0m2-869h0m0 276h0m1 91h0m0 122h0m0 288h0m1-648h0m0 209h0m0 144h0m1-151h0m1-106h0m1 451h0m1-581h0m1 193h0m0 207h0m0 63h0m0 325h0m1-1342h0m1 686h0m1 321h0m2-646h0m1 910h0m1-641h0m0 342h0m2-374h0m0 155h0m1-204h0m0 288h0m0 63h0m0 43h0m0 80h0m0 104h0m1-506h0m0 244h0m0 134h0m1-1005h0m1 285h0m1-124h0m0 467h0m0 173h0m0 188h0m2-424h0m0 275h0m0 227h0m0 280h0m1-946h0m0 799h0m1-423h0m0 191h0m1-145h0m0 451h0m1-241h0m0 93h0m0 97h0m1-679h0m2 430h0m1-273h0m1 556h0m1-1236h0m0 748h0m0 171h0m0 62h0m0 130h0m0 67h0m1-615h0m0 130h0m0 364h0m1-27h0m0 108h0m0 4h0m0 77h0m1-133h0m1-250h0m1-574h0m0 403h0m0 345h0m1-184h0m1-318h0m0 252h0m0 157h0m1-488h0m0 468h0m0 8h0m1-363h0m0 610h0m0 1h0m2-53h0m0 74h0m1-263h0m0 51h0m0 106h0m1-341h0m0 102h0m0 146h0m0 70h0m1-786h0m0 559h0m0 189h0m0 126h0m0 22h0m1-622h0m0 349h0m0 40h0m1 117h0m0 13h0m0 129h0m1-25h0m0 44h0m2-413h0m0 308h0m1-564h0m1 369h0m0 81h0m0 126h0m3-330h0m0 451h0m1-164h0m1-1537h0m0 1081h0m0 489h0m0 81h0m1-1029h0m0 1033h0m0 5h0m1-1259h0m0 635h0m0 567h0m1-1042h0m0 652h0m0 414h0m0 26h0m1-940h0m0 514h0m0 244h0m1-1075h0m1 786h0m0 6h0m2 259h0m2 71h0m1-355h0m0 166h0m2-149h0m1 287h0m1-125h0m0 211h0m1-33h0m1-684h0m0 579h0m0 163h0m1-749h0m1 454h0m0 31h0m2 509h0m1-717h0m0 102h0m0 37h0m0 85h0m1 485h0m1-833h0m0 173h0m0 421h0m1-343h0m1-492h0m0 482h0m0 179h0m1-368h0m0 597h0m1-668h0m0 670h0m1-286h0m1 67h0m0 16h0m2 43h0m0 70h0m1-127h0m1-564h0m0 504h0m0 177h0m0 55h0m1-46h0m1-122h0m0 204h0m0 5h0m1-352h0m0 101h0m0 480h0m1-473h0m1 81h0m0 21h0m1-1147h0m0 1099h0m1-89h0m0 225h0m1-263h0m0 108h0m1-358h0m0 88h0m0 22h0m0 243h0m1-36h0m1 42h0m1 15h0m1 28h0m1-438h0m0 369h0m0 41h0m0 99h0m2 71h0m0 102h0m1-134h0m0 10h0m1-70h0m1 147h0m1-309h0m1-100h0m1-293h0m1 538h0m1-1241h0m0 1541h0m1-513h0m0 337h0m1-180h0m1-278h0m0 174h0m0 271h0m1-1093h0m0 521h0m0 620h0m1-746h0m1 98h0m0 163h0m0 75h0m0 62h0m0 494h0m1-701h0m0 321h0m2 55h0m1 180h0m1-348h0m0 111h0m0 78h0m1-250h0m2 148h0m0 226h0m3-767h0m0 339h0m0 55h0m0 283h0m0 128h0m2-391h0m1 85h0m0 105h0m2-160h0m0 184h0m1 106h0m1-699h0m0 289h0m1-29h0m0 496h0m1-254h0m1-955h0m2 798h0m0 135h0m2-390h0m0 446h0m0 60h0m3-155h0m1 66h0m2-1165h0m0 1145h0m2 133h0m1-181h0m1-186h0m1 473h0m1-201h0m0 107h0m3-99h0m0 293h0m0 25h0m1-1076h0m0 650h0m0 257h0m1-939h0m0 836h0m3-155h0m0 93h0m1-513h0m1 842h0m2-920h0m0 91h0m0 465h0m1 209h0m2-318h0m2-227h0m0 349h0m0 193h0m0 85h0m2-1230h0m0 989h0m5 59h0m1 2h0m3 180h0m2-1297h0m1 220h0m0 681h0m0 301h0m1-387h0m0 26h0m1 405h0m1-387h0m3-366h0m1 216h0m0 127h0m2 301h0m2-140h0m0 257h0m2-32h0m1-1275h0m0 366h0m0 274h0m0 368h0m1-258h0m0 8h0m1 183h0m1 206h0m0 184h0m1-765h0m3 98h0m0 141h0m1-333h0m2 750h0m1-322h0m7-38h0m3-262h0m4 345h0m0 73h0m0 45h0m1 40h0m1-327h0m1 45h0m1-1017h0m0 1052h0m0 363h0m2-48h0m1-367h0m0 332h0m0 45h0m2-655h0m0 681h0m4 172h0m1-900h0m0 583h0m0 77h0m1-952h0m2 437h0m0 79h0m1 384h0m0 83h0m1-386h0m0 57h0m1-129h0m2 473h0m2-420h0m2 33h0m1 333h0m1-89h0m1 153h0m3-689h0m0 285h0m0 298h0m1-451h0m2-406h0m0 630h0m0 388h0m2-934h0m1 704h0m2 119h0m0 8h0m0 38h0m2-332h0m2-15h0m0 358h0m2-278h0m0 88h0m2-97h0m1-787h0m0 972h0m1 165h0m1-118h0m0 149h0m4-615h0m0 250h0m1 246h0m1-878h0m0 1076h0m4-140h0m2-1201h0m0 777h0m1-645h0m2 685h0m0 473h0m2-716h0m0 2h0m1 32h0m2 319h0m1 201h0m4-572h0m2-177h0m3 456h0m0 501h0m1-846h0m1 784h0m6-778h0m3 416h0m3 83h0m5-173h0m3-405h0m1-568h0m2 736h0m3 70h0m0 466h0m1-309h0m0 200h0m0 191h0m1-808h0m3 167h0m3 505h0m4-346h0m0 139h0m1-119h0m1 11h0m9-459h0m0 588h0m1 182h0m0 15h0m1-434h0m5 561h0m6-451h0m1-612h0m3 372h0m4 769h0m5-604h0m4 363h0m1-1040h0m1 1009h0m0 170h0m5-228h0m1 188h0m1-401h0m1-993h0m6 1343h0m0 97h0m0 13h0m9-1183h0m4 1068h0m4-601h0m1-148h0m3 200h0m2 183h0m7-188h0m2 231h0m3-196h0m3-468h0m1 749h0m5 108h0m0 368h0m7-513h0m2-349h0m3 482h0m5-14h0m2-114h0m1 332h0m1-791h0m0 861h0m8-1027h0m2-286h0m4 775h0m0 163h0m3 436h0m9-1301h0m4 1422h0m3-48h0m1-540h0m1-168h0m1 292h0m0 337h0m2-1687h0m6 643h0m6 80h0m3 688h0m6-667h0m12 727h0m4-370h0m4 264h0m12-466h0m6-781h0m3 753h0m3 844h0m2-715h0m11 343h0m8-537h0m7 623h0m11-1095h0m2 843h0m5 121h0m3-58h0m4 268h0m4-833h0m1 149h0m1-94h0m33 522h0m1-185h0m38-325h0m0 982h0m13-988h0m1 946h0m4-32h0m13-32h0m3-149h0m14-355h0m28-1187h0m91 1241h0m87-127h0m30 287h0m82-398h0m0 105h0m0 24h0m0 333h0m13-1992h0"/>
<path fill="#000" d="M864.8 307.2L861.6 299.8L858.3 286.7L851.9 258.8L846.7 244.2L841.5 238.3L836.4 244.2L832.5 255.9L829.6 267.6L829.6 279.3L832.5 289.6L836.4 296.2L841.5 302L846.7 305.4L851.9 307.9L858.3 309.5L861.6 310L864.8 310.1z"/>
<path fill="#000" d="M864.8 307.2L868 299.8L871.3 286.7L877.7 258.8L882.9 244.2L888.1 238.3L893.2 244.2L897.1 255.9L900 267.6L900 279.3L897.1 289.6L893.2 296.2L888.1 302L882.9 305.4L877.7 307.9L871.3 309.5L868 310L864.8 310.1z"/>
<path transform="scale(.1)" fill="none" stroke="#000" stroke-width="20" stroke-linecap="round" d="M8146 2925h0m46 36h0m60 16h0m1-21h0m6-9h0m3-27h0m1 2h0m4 52h0m3-410h0m0 351h0m1-1130h0m0 96h0m0 241h0m0 176h0m0 71h0m0 68h0m0 215h0m0 44h0m0 67h0m1-1134h0m0 224h0m0 34h0m0 295h0m0 192h0m0 21h0m0 59h0m0 12h0m0 84h0m0 159h0m0 185h0m1-344h0m0 23h0m0 9h0m0 150h0m0 132h0m1-1074h0m0 76h0m0 466h0m0 107h0m0 44h0m0 7h0m0 3h0m0 61h0m0 196h0m0 90h0m1-1075h0m0 214h0m0 536h0m0 15h0m0 70h0m0 109h0m0 5h0m0 4h0m0 164h0m1-760h0m0 8h0m0 173h0m0 161h0m0 29h0m0 14h0m0 94h0m1-320h0m0 116h0m0 33h0m0 274h0m0 92h0m1-358h0m0 81h0m0 231h0m0 162h0m1-492h0m0 37h0m0 44h0m0 24h0m0 6h0m0 1h0m0 127h0m0 45h0m1-510h0m0 131h0m0 306h0m0 105h0m0 112h0m0 83h0m1-894h0m0 29h0m0 204h0m0 142h0m0 129h0m0 113h0m0 61h0m0 51h0m0 42h0m0 78h0m0 15h0m1-1033h0m0 53h0m0 184h0m0 126h0m0 19h0m0 41h0m0 4h0m0 41h0m0 31h0m0 20h0m0 47h0m0 113h0m0 37h0m0 18h0m0 95h0m0 8h0m0 47h0m0 8h0m1-944h0m0 329h0m0 211h0m0 121h0m0 28h0m0 2h0m0 447h0m1-991h0m0 287h0m0 85h0m0 21h0m0 101h0m0 179h0m0 53h0m0 24h0m0 143h0m0 128h0m1-819h0m0 126h0m0 195h0m0 35h0m0 4h0m0 22h0m0 26h0m0 20h0m0 71h0m0 218h0m0 114h0m1-1237h0m0 549h0m0 332h0m0 15h0m0 201h0m1-705h0m0 204h0m0 204h0m0 171h0m1-364h0m0 62h0m0 101h0m0 42h0m0 29h0m1-1013h0m0 558h0m0 84h0m0 90h0m0 18h0m0 27h0m0 207h0m0 2h0m0 23h0m0 259h0m1-684h0m0 74h0m0 30h0m0 83h0m0 99h0m0 101h0m0 275h0m1-621h0m0 207h0m0 12h0m0 34h0m1-351h0m0 66h0m0 59h0m0 36h0m0 127h0m0 22h0m0 118h0m0 345h0m1-1012h0m0 477h0m0 232h0m0 10h0m0 26h0m0 86h0m0 47h0m0 48h0m0 84h0m1-705h0m0 344h0m0 17h0m0 103h0m0 56h0m0 169h0m1-729h0m0 28h0m0 182h0m0 23h0m0 108h0m0 46h0m0 425h0m1-775h0m0 216h0m0 50h0m0 100h0m0 69h0m0 46h0m0 81h0m0 192h0m0 71h0m1-1031h0m0 414h0m0 69h0m0 186h0m0 47h0m0 187h0m1-1118h0m0 613h0m0 83h0m0 156h0m0 57h0m0 20h0m0 5h0m0 42h0m0 5h0m0 31h0m1-1260h0m0 467h0m0 255h0m0 39h0m0 211h0m0 23h0m0 162h0m0 124h0m1-687h0m0 19h0m0 184h0m0 25h0m0 389h0m0 73h0m0 129h0m1-492h0m0 51h0m0 38h0m0 52h0m0 167h0m0 18h0m0 15h0m0 98h0m1-961h0m0 97h0m0 358h0m0 82h0m0 94h0m0 30h0m0 51h0m0 25h0m0 139h0m0 56h0m0 10h0m0 156h0m1-903h0m0 72h0m0 108h0m0 164h0m0 92h0m0 58h0m0 51h0m0 6h0m0 41h0m0 36h0m0 188h0m1-1299h0m0 566h0m0 31h0m0 95h0m0 59h0m0 172h0m0 46h0m0 16h0m0 83h0m0 157h0m0 40h0m1-688h0m0 186h0m0 75h0m0 122h0m0 11h0m0 310h0m0 82h0m1-741h0m0 34h0m0 52h0m0 279h0m0 80h0m1-319h0m0 18h0m0 47h0m0 181h0m0 43h0m0 8h0m0 44h0m0 33h0m1-174h0m0 72h0m0 246h0m1-487h0m0 109h0m0 35h0m0 22h0m0 310h0m1-609h0m0 95h0m0 228h0m0 14h0m0 47h0m0 99h0m0 84h0m0 65h0m1-1057h0m0 117h0m0 38h0m0 434h0m0 11h0m0 41h0m0 3h0m0 21h0m0 139h0m0 32h0m0 46h0m1-798h0m0 246h0m0 95h0m0 37h0m0 57h0m0 43h0m0 52h0m0 58h0m0 93h0m1-485h0m0 275h0m0 237h0m0 60h0m0 166h0m1-1286h0m0 559h0m0 62h0m0 289h0m0 23h0m0 45h0m0 8h0m0 53h0m0 21h0m0 10h0m0 37h0m0 10h0m0 53h0m0 10h0m0 139h0m1-1160h0m0 339h0m0 11h0m0 285h0m0 109h0m0 41h0m0 64h0m0 66h0m0 35h0m0 324h0m1-1331h0m0 427h0m0 279h0m0 97h0m0 80h0m0 106h0m0 99h0m0 37h0m0 20h0m0 161h0m1-884h0m0 53h0m0 190h0m0 44h0m0 119h0m0 1h0m0 1h0m0 66h0m0 79h0m0 4h0m0 80h0m0 31h0m0 59h0m0 62h0m1-533h0m0 119h0m0 16h0m0 167h0m0 75h0m1-1201h0m0 624h0m0 376h0m0 6h0m0 7h0m0 99h0m0 27h0m0 13h0m0 86h0m0 28h0m1-994h0m0 435h0m0 10h0m0 98h0m0 44h0m0 117h0m0 86h0m0 2h0m0 127h0m0 55h0m0 28h0m1-596h0m0 9h0m0 58h0m0 31h0m0 171h0m0 6h0m0 56h0m0 162h0m0 48h0m0 33h0m0 233h0m1-822h0m0 94h0m0 61h0m0 257h0m0 18h0m0 16h0m0 18h0m0 208h0m0 182h0m1-870h0m0 389h0m0 66h0m0 68h0m0 34h0m0 15h0m0 7h0m0 4h0m0 52h0m0 52h0m1-908h0m0 9h0m0 93h0m0 100h0m0 214h0m0 44h0m0 61h0m0 30h0m0 69h0m0 45h0m0 131h0m1-603h0m0 43h0m0 166h0m0 51h0m0 119h0m0 21h0m0 45h0m0 107h0m0 218h0m1-1020h0m0 349h0m0 149h0m0 29h0m0 295h0m0 85h0m1-552h0m0 210h0m0 424h0m0 18h0m1-905h0m0 9h0m0 31h0m0 30h0m0 254h0m0 250h0m0 35h0m0 105h0m0 79h0m0 88h0m1-779h0m0 106h0m0 382h0m0 9h0m0 94h0m0 231h0m1-1228h0m0 273h0m0 424h0m0 150h0m0 102h0m0 90h0m1-558h0m0 136h0m0 76h0m0 117h0m0 71h0m0 82h0m0 64h0m0 12h0m0 174h0m1-412h0m0 70h0m0 117h0m0 19h0m0 156h0m0 33h0m1-850h0m0 34h0m0 191h0m0 248h0m1-289h0m0 28h0m0 26h0m0 100h0m0 194h0m0 40h0m0 16h0m0 27h0m0 2h0m0 23h0m0 5h0m0 128h0m0 104h0m1-650h0m0 188h0m0 117h0m0 3h0m0 87h0m0 15h0m0 20h0m0 21h0m0 41h0m0 87h0m1-834h0m0 315h0m0 38h0m0 152h0m0 33h0m0 112h0m0 37h0m0 43h0m1-458h0m0 25h0m0 149h0m0 44h0m0 52h0m0 182h0m0 12h0m0 32h0m0 94h0m1-600h0m0 73h0m0 68h0m0 10h0m0 5h0m0 25h0m0 22h0m0 7h0m0 27h0m0 13h0m0 123h0m0 32h0m0 78h0m0 122h0m0 39h0m0 27h0m1-969h0m0 5h0m0 234h0m0 296h0m0 196h0m0 55h0m0 39h0m0 57h0m0 53h0m1-709h0m0 181h0m0 66h0m0 49h0m0 30h0m0 81h0m0 9h0m0 60h0m0 4h0m0 12h0m0 68h0m0 63h0m0 24h0m0 57h0m0 28h0m1-1083h0m0 149h0m0 45h0m0 163h0m0 56h0m0 71h0m0 116h0m0 49h0m0 43h0m0 14h0m0 90h0m0 39h0m0 23h0m0 11h0m0 6h0m0 21h0m0 79h0m0 29h0m1-825h0m0 229h0m0 141h0m0 34h0m0 135h0m0 37h0m0 53h0m0 244h0m0 112h0m1-1285h0m0 799h0m0 47h0m0 14h0m0 111h0m0 86h0m0 167h0m1-908h0m0 50h0m0 184h0m0 79h0m0 10h0m0 9h0m0 26h0m0 79h0m0 44h0m0 29h0m0 81h0m0 74h0m0 116h0m0 28h0m0 29h0m1-1196h0m0 420h0m0 282h0m0 42h0m0 7h0m0 87h0m0 17h0m0 201h0m0 49h0m0 161h0m0 57h0m1-707h0m0 34h0m0 340h0m0 47h0m0 25h0m0 43h0m0 23h0m1-1017h0m0 206h0m0 382h0m0 26h0m0 44h0m0 33h0m0 110h0m0 15h0m0 44h0m0 36h0m0 4h0m0 39h0m0 145h0m1-874h0m0 236h0m0 145h0m0 42h0m0 3h0m0 46h0m0 71h0m0 5h0m0 27h0m0 177h0m0 77h0m1-1049h0m0 452h0m0 114h0m0 113h0m0 17h0m0 122h0m0 13h0m0 10h0m0 32h0m0 23h0m0 34h0m0 17h0m0 44h0m0 51h0m1-972h0m0 144h0m0 55h0m0 261h0m0 5h0m0 71h0m0 27h0m0 70h0m0 77h0m0 158h0m0 8h0m0 104h0m1-1270h0m0 898h0m0 7h0m0 6h0m0 17h0m0 79h0m0 257h0m1-715h0m0 94h0m0 18h0m0 78h0m0 8h0m0 82h0m0 121h0m0 35h0m0 5h0m0 28h0m0 6h0m0 103h0m0 40h0m0 17h0m0 40h0m0 43h0m1-514h0m0 20h0m0 173h0m0 6h0m0 10h0m0 150h0m0 73h0m0 42h0m0 142h0m1-566h0m0 31h0m0 226h0m0 85h0m0 135h0m0 84h0m1-1437h0m0 204h0m0 513h0m0 1h0m0 135h0m0 13h0m0 93h0m0 221h0m0 78h0m0 74h0m0 73h0m1-1401h0m0 926h0m0 48h0m0 18h0m0 65h0m0 22h0m0 127h0m0 57h0m0 33h0m0 193h0m0 27h0m1-781h0m0 52h0m0 81h0m0 44h0m0 45h0m0 25h0m0 1h0m0 150h0m0 76h0m0 167h0m0 69h0m0 35h0m1-668h0m0 52h0m0 214h0m0 32h0m0 41h0m0 52h0m0 116h0m0 26h0m1-772h0m0 447h0m0 61h0m0 98h0m0 13h0m0 156h0m0 73h0m1-540h0m0 149h0m0 54h0m0 123h0m0 144h0m0 103h0m1-899h0m0 42h0m0 213h0m0 27h0m0 87h0m0 86h0m0 4h0m0 97h0m0 59h0m0 87h0m0 22h0m0 149h0m0 95h0m1-1078h0m0 388h0m0 35h0m0 43h0m0 1h0m0 255h0m1-625h0m0 114h0m0 213h0m0 194h0m0 316h0m0 12h0m1-1088h0m0 275h0m0 120h0m0 4h0m0 34h0m0 116h0m0 200h0m0 19h0m0 4h0m0 109h0m0 6h0m0 24h0m0 16h0m0 3h0m0 3h0m1-496h0m0 182h0m0 21h0m0 234h0m0 8h0m0 54h0m0 29h0m0 82h0m0 82h0m1-836h0m0 195h0m0 60h0m0 203h0m0 43h0m0 4h0m0 37h0m0 43h0m0 33h0m0 40h0m0 21h0m0 52h0m0 89h0m1-1057h0m0 657h0m0 75h0m0 59h0m0 4h0m0 60h0m0 52h0m0 40h0m1-523h0m0 96h0m0 45h0m0 85h0m0 36h0m0 16h0m0 8h0m0 144h0m0 18h0m0 62h0m1-742h0m0 332h0m0 84h0m0 34h0m0 26h0m0 116h0m0 19h0m0 13h0m0 57h0m0 17h0m1-1133h0m0 234h0m0 344h0m0 140h0m0 81h0m0 28h0m0 54h0m0 149h0m0 18h0m0 109h0m0 3h0m0 19h0m0 37h0m0 110h0m1-1056h0m0 197h0m0 286h0m0 61h0m0 114h0m0 35h0m0 49h0m0 20h0m0 19h0m0 11h0m0 78h0m0 11h0m0 17h0m0 127h0m1-793h0m0 291h0m0 63h0m0 9h0m0 54h0m0 7h0m0 137h0m0 18h0m0 48h0m0 61h0m1-1131h0m0 467h0m0 187h0m0 45h0m0 31h0m0 11h0m0 67h0m0 38h0m0 42h0m0 5h0m0 23h0m0 36h0m0 10h0m0 8h0m0 4h0m0 50h0m0 121h0m1-530h0m0 100h0m0 64h0m0 7h0m0 196h0m0 11h0m0 29h0m0 89h0m0 164h0m0 41h0m1-817h0m0 86h0m0 60h0m0 57h0m0 37h0m0 70h0m0 191h0m0 172h0m0 117h0m1-731h0m0 357h0m0 75h0m0 114h0m1-536h0m0 163h0m0 244h0m0 122h0m0 16h0m0 7h0m1-796h0m0 129h0m0 131h0m0 135h0m0 16h0m0 14h0m0 55h0m0 51h0m0 36h0m0 25h0m0 18h0m0 31h0m0 23h0m0 82h0m0 36h0m0 196h0m1-1076h0m0 370h0m0 317h0m0 57h0m0 94h0m0 109h0m0 14h0m0 42h0m1-1231h0m0 388h0m0 190h0m0 175h0m0 46h0m0 107h0m0 37h0m0 2h0m0 44h0m0 53h0m0 11h0m0 4h0m0 20h0m0 138h0m1-572h0m0 92h0m0 15h0m0 15h0m0 67h0m0 50h0m0 3h0m0 9h0m0 82h0m0 52h0m0 135h0m0 22h0m0 47h0m0 2h0m1-529h0m0 69h0m0 139h0m0 11h0m0 12h0m0 113h0m0 17h0m0 52h0m0 16h0m0 5h0m1-512h0m0 97h0m0 90h0m0 91h0m0 23h0m0 14h0m0 39h0m0 25h0m0 9h0m0 15h0m0 127h0m0 68h0m0 9h0m1-699h0m0 27h0m0 50h0m0 144h0m0 35h0m0 159h0m0 32h0m0 7h0m0 8h0m0 23h0m0 3h0m0 50h0m0 17h0m1-911h0m0 143h0m0 578h0m0 54h0m0 77h0m0 345h0m1-867h0m0 175h0m0 149h0m0 25h0m0 42h0m0 1h0m0 128h0m0 17h0m0 77h0m0 8h0m0 12h0m0 29h0m0 37h0m0 42h0m1-801h0m0 286h0m0 82h0m0 99h0m0 14h0m0 10h0m0 71h0m0 2h0m0 32h0m0 40h0m0 29h0m0 71h0m0 31h0m1-525h0m0 108h0m0 16h0m0 56h0m0 13h0m0 41h0m0 9h0m0 18h0m0 13h0m0 36h0m0 23h0m0 6h0m0 2h0m0 238h0m0 40h0m1-1114h0m0 62h0m0 296h0m0 166h0m0 156h0m0 71h0m0 70h0m0 211h0m1-935h0m0 309h0m0 65h0m0 154h0m0 19h0m0 80h0m0 34h0m0 41h0m0 88h0m0 15h0m0 4h0m0 15h0m0 15h0m0 4h0m0 59h0m1-552h0m0 138h0m0 21h0m0 37h0m0 109h0m0 57h0m0 82h0m0 10h0m0 18h0m1-1137h0m0 408h0m0 497h0m0 48h0m0 44h0m0 17h0m0 127h0m0 3h0m0 3h0m0 99h0m1-942h0m0 189h0m0 241h0m0 85h0m0 89h0m0 105h0m0 31h0m0 2h0m0 18h0m0 4h0m0 10h0m0 53h0m0 105h0m1-1393h0m0 969h0m0 127h0m0 22h0m0 56h0m0 19h0m0 82h0m0 121h0m0 4h0m0 2h0m1-838h0m0 318h0m0 3h0m0 30h0m0 62h0m0 143h0m0 29h0m0 8h0m0 30h0m0 67h0m0 38h0m0 58h0m0 119h0m1-677h0m0 53h0m0 30h0m0 84h0m0 6h0m0 58h0m0 36h0m0 43h0m0 56h0m0 10h0m0 62h0m0 40h0m0 17h0m0 77h0m0 31h0m0 65h0m1-735h0m0 217h0m0 48h0m0 26h0m0 31h0m0 5h0m0 12h0m0 9h0m0 63h0m0 42h0m0 31h0m0 119h0m0 27h0m1-860h0m0 95h0m0 262h0m0 167h0m0 62h0m0 13h0m0 5h0m0 75h0m0 9h0m0 73h0m0 4h0m0 33h0m0 3h0m0 6h0m0 23h0m0 67h0m0 43h0m1-1071h0m0 435h0m0 120h0m0 53h0m0 17h0m0 201h0m0 10h0m0 12h0m0 69h0m0 15h0m0 100h0m1-519h0m0 6h0m0 110h0m0 53h0m0 11h0m0 17h0m0 61h0m0 15h0m0 65h0m0 32h0m0 10h0m0 16h0m0 11h0m0 59h0m1-575h0m0 125h0m0 103h0m0 188h0m0 35h0m0 4h0m0 94h0m0 19h0m0 92h0m0 20h0m1-1313h0m0 646h0m0 102h0m0 18h0m0 46h0m0 93h0m0 97h0m0 28h0m0 39h0m0 149h0m1-678h0m0 221h0m0 41h0m0 98h0m0 1h0m0 71h0m0 41h0m0 71h0m0 3h0m0 9h0m0 17h0m0 8h0m0 71h0m0 16h0m0 72h0m1-890h0m0 359h0m0 174h0m0 8h0m0 60h0m0 39h0m0 3h0m0 13h0m0 48h0m0 25h0m0 17h0m0 2h0m0 132h0m0 62h0m1-753h0m0 124h0m0 101h0m0 66h0m0 21h0m0 15h0m0 97h0m0 5h0m0 12h0m0 55h0m0 13h0m0 2h0m0 7h0m0 66h0m0 11h0m0 5h0m1-739h0m0 410h0m0 129h0m0 52h0m0 14h0m0 23h0m0 21h0m0 214h0m0 27h0m0 48h0m1-618h0m0 11h0m0 42h0m0 10h0m0 53h0m0 34h0m0 71h0m0 43h0m0 22h0m0 4h0m0 137h0m0 3h0m0 80h0m0 26h0m0 29h0m1-759h0m0 89h0m0 33h0m0 7h0m0 191h0m0 38h0m0 78h0m0 265h0m0 30h0m0 74h0m1-759h0m0 133h0m0 160h0m0 30h0m0 10h0m0 4h0m0 13h0m0 48h0m0 44h0m0 21h0m0 20h0m1-568h0m0 166h0m0 1h0m0 116h0m0 49h0m0 3h0m0 10h0m0 91h0m0 39h0m0 28h0m0 59h0m0 4h0m0 78h0m0 1h0m0 106h0m0 42h0m1-803h0m0 345h0m0 54h0m0 55h0m0 6h0m0 18h0m0 1h0m0 132h0m0 41h0m1-253h0m0 149h0m0 170h0m1-638h0m0 293h0m0 57h0m0 6h0m0 13h0m0 11h0m0 14h0m0 120h0m0 1h0m0 26h0m0 11h0m0 5h0m0 2h0m0 25h0m0 24h0m0 89h0m0 74h0m0 42h0m1-1131h0m0 207h0m0 15h0m0 179h0m0 137h0m0 45h0m0 128h0m0 39h0m0 18h0m0 12h0m0 25h0m0 12h0m0 49h0m1-273h0m0 50h0m0 6h0m0 10h0m0 15h0m0 7h0m0 35h0m0 18h0m0 60h0m0 46h0m0 16h0m0 23h0m0 155h0m0 45h0m1-913h0m0 69h0m0 237h0m0 22h0m0 149h0m0 7h0m0 49h0m0 11h0m0 58h0m0 39h0m0 1h0m0 42h0m0 48h0m0 28h0m0 4h0m0 43h0m0 34h0m1-510h0m0 52h0m0 45h0m0 92h0m0 11h0m0 76h0m0 14h0m0 11h0m0 104h0m0 76h0m0 50h0m0 47h0m1-628h0m0 143h0m0 26h0m0 75h0m0 55h0m0 17h0m0 8h0m0 156h0m0 55h0m1-1180h0m0 422h0m0 148h0m0 111h0m0 97h0m0 13h0m0 30h0m0 49h0m0 55h0m0 9h0m0 10h0m0 16h0m0 23h0m0 13h0m0 28h0m0 19h0m0 29h0m0 56h0m0 8h0m0 66h0m0 7h0m1-453h0m0 80h0m0 6h0m0 55h0m0 154h0m0 9h0m0 19h0m0 5h0m0 56h0m0 34h0m0 54h0m0 88h0m1-961h0m0 282h0m0 14h0m0 130h0m0 21h0m0 121h0m0 9h0m0 61h0m0 31h0m1-381h0m0 148h0m0 10h0m0 49h0m0 57h0m0 47h0m0 75h0m0 19h0m0 7h0m0 12h0m0 37h0m0 3h0m0 53h0m0 163h0m1-763h0m0 62h0m0 227h0m0 65h0m0 21h0m0 35h0m0 117h0m0 35h0m0 5h0m0 25h0m1-1012h0m0 223h0m0 389h0m0 15h0m0 84h0m0 8h0m0 49h0m0 49h0m0 95h0m0 11h0m0 3h0m0 149h0m1-825h0m0 381h0m0 11h0m0 27h0m0 198h0m0 42h0m0 87h0m0 70h0m1-927h0m0 275h0m0 59h0m0 61h0m0 57h0m0 26h0m0 46h0m0 30h0m0 20h0m0 41h0m0 19h0m0 34h0m0 149h0m0 7h0m0 49h0m1-614h0m0 132h0m0 11h0m0 32h0m0 63h0m0 9h0m0 19h0m0 5h0m0 2h0m0 87h0m0 27h0m0 32h0m0 12h0m0 8h0m0 19h0m0 60h0m0 126h0m0 10h0m0 106h0m1-1652h0m0 663h0m0 325h0m0 38h0m0 237h0m0 25h0m0 2h0m0 20h0m0 16h0m0 1h0m0 7h0m0 10h0m0 85h0m0 26h0m1-637h0m0 141h0m0 57h0m0 111h0m0 83h0m0 38h0m0 47h0m0 26h0m0 22h0m0 57h0m0 3h0m0 11h0m0 14h0m0 45h0m0 1h0m0 80h0m0 51h0m0 33h0m1-725h0m0 254h0m0 167h0m0 73h0m0 2h0m0 36h0m0 51h0m0 3h0m0 6h0m0 20h0m0 22h0m1-502h0m0 37h0m0 84h0m0 2h0m0 12h0m0 83h0m0 20h0m0 1h0m0 65h0m0 6h0m0 9h0m0 3h0m0 31h0m0 47h0m0 15h0m0 8h0m0 2h0m0 11h0m0 56h0m0 15h0m0 48h0m1-934h0m0 4h0m0 145h0m0 121h0m0 131h0m0 68h0m0 1h0m0 28h0m0 229h0m0 63h0m0 21h0m0 95h0m0 40h0m0 19h0m1-682h0m0 99h0m0 247h0m0 12h0m0 14h0m0 2h0m0 14h0m0 27h0m0 12h0m0 4h0m0 38h0m0 14h0m0 98h0m1-748h0m0 3h0m0 222h0m0 32h0m0 17h0m0 74h0m0 12h0m0 72h0m0 18h0m0 12h0m0 40h0m0 3h0m0 13h0m0 13h0m0 64h0m0 71h0m0 8h0m0 15h0m0 1h0m0 53h0m0 143h0m0 1h0m1-1036h0m0 244h0m0 114h0m0 60h0m0 22h0m0 93h0m0 35h0m0 45h0m0 42h0m0 2h0m0 15h0m0 19h0m0 9h0m0 10h0m0 1h0m0 17h0m0 7h0m0 37h0m0 7h0m0 52h0m0 4h0m0 68h0m0 10h0m0 15h0m1-649h0m0 371h0m0 19h0m0 28h0m0 10h0m0 54h0m0 42h0m0 53h0m0 3h0m0 17h0m0 19h0m1-427h0m0 19h0m0 62h0m0 9h0m0 8h0m0 43h0m0 55h0m0 17h0m0 34h0m0 14h0m0 3h0m0 5h0m0 18h0m0 52h0m0 146h0m0 64h0m1-534h0m0 24h0m0 5h0m0 16h0m0 4h0m0 20h0m0 79h0m0 150h0m0 20h0m0 37h0m0 165h0m1-822h0m0 293h0m0 8h0m0 108h0m0 6h0m0 46h0m0 36h0m0 45h0m0 31h0m0 13h0m0 24h0m0 14h0m0 6h0m0 37h0m0 77h0m0 66h0m0 48h0m1-1188h0m0 117h0m0 164h0m0 187h0m0 60h0m0 131h0m0 9h0m0 27h0m0 32h0m0 57h0m0 19h0m0 45h0m0 37h0m0 5h0m0 34h0m0 55h0m0 16h0m0 21h0m0 77h0m1-656h0m0 55h0m0 71h0m0 149h0m0 7h0m0 7h0m0 9h0m0 1h0m0 27h0m0 5h0m0 54h0m0 7h0m0 61h0m0 35h0m0 28h0m0 9h0m0 60h0m0 79h0m1-516h0m0 23h0m0 7h0m0 4h0m0 129h0m0 48h0m0 139h0m0 170h0m0 88h0m1-988h0m0 479h0m0 5h0m0 48h0m0 18h0m0 9h0m0 39h0m0 21h0m0 9h0m0 58h0m0 17h0m0 14h0m0 5h0m0 3h0m0 24h0m0 25h0m0 14h0m0 31h0m0 34h0m0 7h0m1-944h0m0 515h0m0 112h0m0 12h0m0 71h0m0 60h0m0 77h0m0 46h0m0 69h0m0 3h0m1-634h0m0 84h0m0 83h0m0 28h0m0 27h0m0 50h0m0 17h0m0 23h0m0 77h0m0 22h0m0 32h0m0 71h0m0 1h0m0 56h0m0 62h0m0 50h0m1-917h0m0 400h0m0 181h0m0 44h0m0 12h0m0 11h0m0 16h0m0 12h0m0 108h0m0 11h0m0 10h0m0 39h0m0 7h0m0 44h0m0 74h0m1-720h0m0 112h0m0 36h0m0 227h0m0 24h0m0 43h0m0 35h0m0 2h0m0 1h0m0 7h0m0 49h0m0 77h0m1-395h0m0 58h0m0 77h0m0 9h0m0 125h0m0 19h0m0 20h0m0 16h0m0 1h0m1-469h0m0 174h0m0 16h0m0 64h0m0 40h0m0 18h0m0 24h0m0 11h0m0 14h0m0 22h0m0 20h0m0 35h0m0 28h0m0 29h0m0 2h0m0 22h0m1-471h0m0 17h0m0 99h0m0 16h0m0 53h0m0 29h0m0 55h0m0 29h0m0 64h0m0 36h0m0 26h0m0 43h0m0 2h0m0 23h0m1-776h0m0 165h0m0 240h0m0 20h0m0 13h0m0 207h0m0 38h0m0 76h0m0 24h0m1-711h0m0 134h0m0 81h0m0 55h0m0 22h0m0 135h0m0 14h0m0 2h0m0 30h0m0 1h0m0 40h0m0 51h0m0 44h0m0 112h0m0 35h0m0 54h0m1-775h0m0 245h0m0 87h0m0 12h0m0 83h0m0 39h0m0 32h0m0 15h0m0 1h0m0 10h0m0 31h0m0 9h0m0 46h0m0 7h0m0 13h0m0 6h0m0 14h0m0 11h0m0 45h0m1-600h0m0 22h0m0 1h0m0 90h0m0 69h0m0 37h0m0 40h0m0 40h0m0 2h0m0 31h0m0 43h0m0 14h0m0 35h0m0 116h0m0 3h0m1-562h0m0 84h0m0 92h0m0 7h0m0 18h0m0 4h0m0 125h0m0 40h0m0 2h0m0 89h0m0 6h0m0 1h0m0 7h0m0 53h0m0 118h0m0 11h0m1-649h0m0 108h0m0 54h0m0 94h0m0 6h0m0 22h0m0 38h0m0 73h0m0 25h0m0 89h0m0 7h0m0 14h0m0 1h0m0 187h0m1-937h0m0 258h0m0 87h0m0 95h0m0 35h0m0 51h0m0 6h0m0 9h0m0 52h0m0 20h0m0 5h0m0 19h0m0 83h0m0 19h0m0 8h0m0 7h0m0 46h0m0 66h0m0 30h0m1-870h0m0 194h0m0 21h0m0 335h0m0 122h0m0 111h0m1-868h0m0 475h0m0 135h0m0 74h0m0 7h0m0 14h0m0 82h0m1-853h0m0 247h0m0 61h0m0 70h0m0 57h0m0 69h0m0 104h0m0 2h0m0 62h0m0 5h0m0 14h0m0 20h0m0 19h0m0 24h0m0 49h0m0 1h0m0 39h0m0 3h0m0 67h0m1-464h0m0 40h0m0 103h0m0 8h0m0 20h0m0 53h0m0 36h0m0 6h0m0 12h0m0 10h0m0 127h0m1-822h0m0 174h0m0 174h0m0 139h0m0 7h0m0 39h0m0 11h0m0 15h0m0 2h0m0 121h0m0 29h0m0 21h0m0 100h0m0 10h0m0 97h0m0 48h0m1-420h0m0 105h0m0 7h0m0 11h0m0 33h0m0 40h0m0 1h0m0 19h0m0 26h0m0 10h0m0 26h0m0 21h0m0 16h0m0 95h0m1-606h0m0 173h0m0 10h0m0 73h0m0 71h0m0 6h0m0 29h0m0 50h0m0 32h0m0 39h0m0 20h0m0 7h0m0 19h0m0 9h0m0 27h0m0 3h0m0 24h0m1-1011h0m0 364h0m0 52h0m0 157h0m0 9h0m0 72h0m0 4h0m0 80h0m0 28h0m0 18h0m0 26h0m0 12h0m0 5h0m0 6h0m0 24h0m0 19h0m0 22h0m0 24h0m0 24h0m0 95h0m1-738h0m0 72h0m0 235h0m0 14h0m0 121h0m0 1h0m0 19h0m0 35h0m0 33h0m0 62h0m0 75h0m0 22h0m1-1399h0m0 734h0m0 96h0m0 7h0m0 169h0m0 77h0m0 36h0m0 5h0m0 46h0m0 31h0m0 25h0m0 6h0m0 4h0m0 11h0m0 12h0m0 5h0m0 21h0m0 73h0m0 1h0m1-581h0m0 246h0m0 81h0m0 42h0m0 1h0m0 10h0m0 24h0m0 20h0m0 14h0m0 40h0m0 34h0m0 3h0m0 19h0m0 50h0m1-765h0m0 310h0m0 61h0m0 47h0m0 63h0m0 21h0m0 4h0m0 15h0m0 1h0m0 30h0m0 10h0m0 35h0m0 42h0m0 5h0m0 4h0m0 4h0m0 8h0m0 1h0m0 6h0m0 16h0m0 1h0m0 55h0m0 48h0m1-758h0m0 230h0m0 31h0m0 5h0m0 172h0m0 34h0m0 17h0m0 13h0m0 2h0m0 29h0m0 1h0m0 3h0m0 15h0m0 12h0m0 6h0m0 31h0m0 6h0m0 17h0m0 14h0m0 8h0m0 28h0m0 2h0m0 120h0m1-764h0m0 73h0m0 173h0m0 89h0m0 50h0m0 15h0m0 9h0m0 21h0m0 16h0m0 28h0m0 16h0m0 58h0m0 19h0m0 12h0m0 129h0m1-481h0m0 134h0m0 18h0m0 9h0m0 4h0m0 100h0m0 66h0m0 30h0m0 20h0m0 24h0m0 31h0m0 6h0m0 1h0m0 88h0m1-941h0m0 231h0m0 36h0m0 92h0m0 85h0m0 9h0m0 16h0m0 2h0m0 58h0m0 57h0m0 25h0m0 36h0m0 14h0m0 2h0m0 9h0m0 51h0m0 46h0m0 7h0m0 31h0m0 4h0m0 33h0m0 7h0m0 80h0m1-1011h0m0 96h0m0 47h0m0 420h0m0 95h0m0 57h0m0 33h0m0 26h0m0 43h0m0 46h0m0 11h0m0 2h0m0 4h0m0 13h0m0 46h0m0 4h0m1-978h0m0 568h0m0 42h0m0 131h0m0 55h0m0 28h0m0 6h0m0 52h0m0 7h0m0 2h0m0 68h0m0 90h0m1-496h0m0 18h0m0 39h0m0 136h0m0 14h0m0 35h0m0 42h0m0 33h0m0 20h0m0 1h0m0 34h0m0 30h0m0 22h0m0 21h0m1-548h0m0 173h0m0 20h0m0 35h0m0 61h0m0 60h0m0 4h0m0 13h0m0 56h0m0 15h0m0 21h0m0 40h0m0 5h0m0 14h0m0 39h0m0 107h0m1-806h0m0 68h0m0 84h0m0 104h0m0 15h0m0 30h0m0 4h0m0 62h0m0 112h0m0 14h0m0 140h0m0 60h0m0 42h0m1-406h0m0 64h0m0 2h0m0 24h0m0 20h0m0 29h0m0 3h0m0 106h0m0 19h0m0 60h0m0 23h0m0 17h0m0 3h0m1-581h0m0 191h0m0 1h0m0 15h0m0 39h0m0 8h0m0 8h0m0 17h0m0 29h0m0 8h0m0 46h0m0 8h0m0 40h0m0 17h0m0 17h0m0 3h0m0 54h0m0 34h0m0 8h0m0 5h0m0 4h0m1-542h0m0 95h0m0 9h0m0 37h0m0 13h0m0 29h0m0 39h0m0 118h0m0 64h0m0 7h0m0 11h0m0 1h0m0 18h0m0 16h0m0 7h0m0 6h0m0 32h0m0 9h0m0 9h0m0 61h0m0 72h0m0 8h0m1-467h0m0 75h0m0 7h0m0 1h0m0 30h0m0 22h0m0 22h0m0 42h0m0 2h0m0 45h0m0 40h0m0 61h0m0 20h0m0 26h0m1-580h0m0 50h0m0 131h0m0 6h0m0 46h0m0 31h0m0 5h0m0 48h0m0 8h0m0 2h0m0 2h0m0 20h0m0 14h0m0 17h0m0 12h0m0 7h0m0 6h0m0 4h0m0 6h0m0 34h0m0 24h0m0 15h0m0 72h0m1-659h0m0 176h0m0 29h0m0 2h0m0 42h0m0 16h0m0 58h0m0 21h0m0 1h0m0 59h0m0 9h0m0 45h0m0 56h0m0 6h0m0 5h0m0 1h0m0 34h0m0 22h0m0 1h0m0 8h0m0 4h0m0 37h0m0 3h0m1-454h0m0 16h0m0 66h0m0 37h0m0 64h0m0 5h0m0 4h0m0 30h0m0 9h0m0 4h0m0 4h0m0 55h0m0 9h0m0 15h0m0 38h0m0 19h0m0 6h0m0 1h0m0 23h0m0 48h0m0 57h0m0 1h0m0 21h0m1-605h0m0 125h0m0 27h0m0 6h0m0 2h0m0 6h0m0 55h0m0 11h0m0 6h0m0 32h0m0 11h0m0 43h0m0 10h0m0 11h0m0 11h0m0 52h0m0 23h0m0 10h0m0 7h0m0 23h0m0 25h0m0 3h0m0 6h0m0 10h0m0 17h0m0 10h0m0 3h0m0 37h0m1-844h0m0 97h0m0 343h0m0 7h0m0 3h0m0 16h0m0 112h0m0 16h0m0 10h0m0 13h0m0 3h0m0 1h0m0 30h0m0 49h0m0 9h0m0 8h0m0 13h0m0 9h0m0 52h0m0 21h0m0 31h0m0 25h0m0 11h0m1-603h0m0 66h0m0 56h0m0 44h0m0 109h0m0 1h0m0 3h0m0 35h0m0 17h0m0 22h0m0 12h0m0 34h0m0 7h0m0 8h0m0 4h0m0 7h0m0 16h0m0 63h0m0 40h0m0 36h0m0 19h0m1-748h0m0 208h0m0 151h0m0 17h0m0 114h0m0 9h0m0 4h0m0 2h0m0 3h0m0 21h0m0 24h0m0 36h0m0 25h0m0 81h0m0 6h0m0 33h0m1-737h0m0 202h0m0 11h0m0 51h0m0 167h0m0 131h0m0 28h0m0 32h0m0 40h0m0 10h0m0 12h0m0 16h0m0 34h0m0 4h0m1-613h0m0 80h0m0 127h0m0 39h0m0 43h0m0 7h0m0 5h0m0 7h0m0 14h0m0 43h0m0 34h0m0 10h0m0 7h0m0 52h0m0 25h0m0 11h0m0 53h0m0 3h0m1-1001h0m0 561h0m0 2h0m0 168h0m0 14h0m0 4h0m0 3h0m0 22h0m0 30h0m0 7h0m0 42h0m0 11h0m0 21h0m0 40h0m0 2h0m0 18h0m0 22h0m0 3h0m0 28h0m0 68h0m0 23h0m1-498h0m0 30h0m0 6h0m0 29h0m0 53h0m0 1h0m0 47h0m0 35h0m0 3h0m0 72h0m0 16h0m0 3h0m0 46h0m0 1h0m0 25h0m0 43h0m1-525h0m0 70h0m0 49h0m0 4h0m0 18h0m0 77h0m0 33h0m0 24h0m0 17h0m0 45h0m0 60h0m0 16h0m0 5h0m0 5h0m0 28h0m0 48h0m0 18h0m0 9h0m0 94h0m1-1086h0m0 588h0m0 3h0m0 4h0m0 85h0m0 80h0m0 99h0m0 57h0m0 17h0m0 12h0m0 3h0m0 25h0m0 55h0m0 68h0m1-827h0m0 248h0m0 78h0m0 84h0m0 18h0m0 14h0m0 14h0m0 32h0m0 6h0m0 82h0m0 8h0m0 4h0m0 6h0m0 15h0m0 18h0m0 7h0m0 1h0m0 6h0m0 7h0m0 38h0m0 7h0m0 63h0m0 15h0m0 28h0m1-643h0m0 82h0m0 43h0m0 169h0m0 8h0m0 42h0m0 26h0m0 70h0m0 9h0m0 3h0m0 1h0m0 3h0m0 9h0m0 21h0m0 16h0m0 21h0m0 7h0m0 4h0m0 60h0m1-418h0m0 1h0m0 4h0m0 60h0m0 29h0m0 60h0m0 7h0m0 41h0m0 4h0m0 1h0m0 9h0m0 2h0m0 1h0m0 24h0m0 24h0m0 7h0m0 19h0m0 9h0m0 24h0m0 7h0m0 29h0m1-450h0m0 128h0m0 22h0m0 47h0m0 7h0m0 59h0m0 4h0m0 3h0m0 24h0m0 8h0m0 7h0m0 29h0m0 18h0m0 13h0m0 15h0m0 11h0m0 11h0m0 78h0m0 1h0m1-329h0m0 89h0m0 37h0m0 20h0m0 10h0m0 7h0m0 48h0m0 17h0m0 14h0m0 9h0m0 17h0m0 23h0m0 77h0m1-367h0m0 2h0m0 46h0m0 8h0m0 54h0m0 11h0m0 7h0m0 9h0m0 11h0m0 5h0m0 1h0m0 5h0m0 19h0m0 39h0m0 11h0m0 1h0m0 8h0m0 48h0m0 13h0m0 19h0m0 18h0m0 21h0m0 5h0m0 23h0m0 46h0m1-696h0m0 91h0m0 128h0m0 2h0m0 44h0m0 12h0m0 32h0m0 15h0m0 3h0m0 29h0m0 5h0m0 1h0m0 53h0m0 18h0m0 7h0m0 49h0m0 10h0m0 27h0m0 13h0m0 20h0m0 7h0m0 11h0m0 51h0m0 43h0m1-651h0m0 38h0m0 40h0m0 141h0m0 65h0m0 57h0m0 7h0m0 21h0m0 24h0m0 70h0m0 32h0m0 51h0m0 17h0m0 47h0m0 27h0m1-558h0m0 3h0m0 1h0m0 81h0m0 14h0m0 50h0m0 4h0m0 16h0m0 74h0m0 39h0m0 19h0m0 43h0m0 45h0m0 42h0m0 14h0m0 35h0m0 22h0m0 29h0m1-568h0m0 166h0m0 8h0m0 44h0m0 8h0m0 11h0m0 3h0m0 8h0m0 17h0m0 33h0m0 4h0m0 28h0m0 63h0m0 14h0m0 23h0m0 2h0m0 27h0m0 33h0m1-375h0m0 12h0m0 89h0m0 152h0m0 2h0m0 39h0m0 18h0m0 5h0m0 8h0m0 7h0m0 21h0m0 82h0m0 23h0m1-468h0m0 103h0m0 39h0m0 18h0m0 29h0m0 8h0m0 41h0m0 35h0m0 16h0m0 35h0m0 34h0m0 32h0m0 3h0m0 47h0m0 11h0m0 58h0m0 21h0m1-552h0m0 37h0m0 33h0m0 23h0m0 37h0m0 27h0m0 13h0m0 7h0m0 42h0m0 25h0m0 3h0m0 44h0m0 5h0m0 3h0m0 11h0m0 79h0m0 12h0m0 7h0m0 42h0m0 10h0m0 5h0m0 40h0m0 39h0m1-727h0m0 77h0m0 98h0m0 121h0m0 44h0m0 44h0m0 25h0m0 17h0m0 15h0m0 23h0m0 59h0m0 44h0m0 11h0m0 16h0m0 47h0m0 49h0m1-512h0m0 47h0m0 214h0m0 55h0m0 75h0m0 6h0m0 26h0m0 5h0m0 33h0m0 7h0m0 5h0m0 89h0m1-785h0m0 312h0m0 45h0m0 59h0m0 11h0m0 40h0m0 26h0m0 35h0m0 1h0m0 1h0m0 10h0m0 5h0m0 6h0m0 11h0m0 38h0m0 34h0m0 14h0m0 3h0m0 28h0m0 19h0m0 35h0m1-440h0m0 37h0m0 46h0m0 2h0m0 16h0m0 14h0m0 53h0m0 46h0m0 11h0m0 5h0m0 3h0m0 2h0m0 50h0m0 4h0m0 4h0m0 2h0m0 28h0m0 30h0m0 5h0m0 90h0m0 22h0m1-628h0m0 64h0m0 125h0m0 48h0m0 56h0m0 3h0m0 35h0m0 75h0m0 6h0m0 24h0m0 24h0m0 5h0m0 23h0m0 3h0m0 6h0m0 11h0m0 38h0m1-353h0m0 60h0m0 4h0m0 39h0m0 8h0m0 3h0m0 7h0m0 42h0m0 1h0m0 17h0m0 58h0m0 12h0m0 12h0m0 33h0m0 12h0m0 26h0m0 1h0m0 25h0m0 10h0m0 44h0m0 11h0m1-626h0m0 225h0m0 8h0m0 79h0m0 75h0m0 19h0m0 19h0m0 15h0m0 15h0m0 29h0m0 8h0m0 3h0m0 1h0m0 10h0m0 44h0m0 15h0m0 1h0m0 3h0m0 15h0m1-299h0m0 13h0m0 52h0m0 25h0m0 10h0m0 28h0m0 26h0m0 34h0m0 15h0m0 12h0m0 18h0m0 14h0m0 56h0m0 3h0m1-601h0m0 293h0m0 9h0m0 20h0m0 44h0m0 6h0m0 12h0m0 30h0m0 13h0m0 28h0m0 48h0m0 28h0m0 19h0m0 51h0m1-668h0m0 242h0m0 41h0m0 37h0m0 9h0m0 39h0m0 17h0m0 8h0m0 38h0m0 1h0m0 28h0m0 31h0m0 69h0m0 4h0m0 77h0m0 11h0m1-481h0m0 28h0m0 68h0m0 35h0m0 26h0m0 13h0m0 2h0m0 43h0m0 12h0m0 33h0m0 1h0m0 8h0m0 46h0m0 7h0m0 1h0m0 28h0m0 8h0m0 5h0m0 2h0m0 3h0m0 30h0m0 4h0m0 16h0m0 1h0m0 41h0m0 11h0m0 1h0m0 2h0m0 10h0m0 15h0m0 23h0m1-582h0m0 125h0m0 3h0m0 25h0m0 34h0m0 53h0m0 11h0m0 66h0m0 1h0m0 119h0m0 17h0m0 5h0m0 6h0m0 26h0m0 13h0m0 61h0m1-585h0m0 39h0m0 114h0m0 68h0m0 31h0m0 35h0m0 9h0m0 9h0m0 54h0m0 24h0m0 24h0m0 5h0m0 13h0m0 6h0m0 11h0m0 15h0m0 28h0m0 4h0m0 13h0m0 12h0m0 37h0m0 40h0m1-415h0m0 125h0m0 21h0m0 10h0m0 17h0m0 9h0m0 1h0m0 3h0m0 7h0m0 6h0m0 15h0m0 4h0m0 5h0m0 4h0m0 6h0m0 8h0m0 4h0m0 3h0m0 9h0m0 1h0m0 19h0m0 7h0m0 8h0m0 7h0m0 11h0m0 34h0m0 38h0m0 1h0m0 30h0m1-799h0m0 439h0m0 24h0m0 55h0m0 12h0m0 24h0m0 3h0m0 4h0m0 23h0m0 19h0m0 13h0m0 30h0m0 1h0m0 9h0m0 13h0m0 32h0m0 20h0m0 5h0m0 3h0m0 62h0m0 2h0m1-519h0m0 147h0m0 65h0m0 17h0m0 76h0m0 15h0m0 5h0m0 28h0m0 27h0m0 32h0m0 6h0m0 73h0m0 19h0m0 27h0m1-593h0m0 155h0m0 22h0m0 87h0m0 33h0m0 21h0m0 59h0m0 29h0m0 12h0m0 2h0m0 8h0m0 2h0m0 13h0m0 7h0m0 11h0m0 2h0m0 13h0m0 22h0m0 9h0m0 31h0m0 12h0m0 16h0m1-364h0m0 12h0m0 30h0m0 37h0m0 51h0m0 16h0m0 16h0m0 20h0m0 69h0m0 23h0m0 6h0m0 37h0m0 28h0m0 51h0m1-681h0m0 86h0m0 153h0m0 44h0m0 4h0m0 20h0m0 19h0m0 28h0m0 22h0m0 52h0m0 47h0m0 28h0m0 22h0m0 9h0m0 30h0m0 5h0m0 48h0m0 18h0m0 2h0m1-575h0m0 133h0m0 93h0m0 13h0m0 4h0m0 52h0m0 27h0m0 14h0m0 39h0m0 9h0m0 7h0m0 5h0m0 2h0m0 14h0m0 14h0m0 19h0m0 1h0m0 24h0m0 65h0m0 9h0m0 10h0m0 15h0m0 76h0m1-368h0m0 56h0m0 11h0m0 1h0m0 14h0m0 9h0m0 19h0m0 13h0m0 55h0m0 10h0m0 12h0m0 39h0m0 53h0m0 16h0m0 8h0m0 56h0m1-544h0m0 23h0m0 135h0m0 32h0m0 62h0m0 25h0m0 7h0m0 9h0m0 16h0m0 7h0m0 14h0m0 12h0m0 3h0m0 8h0m0 1h0m0 12h0m0 9h0m0 6h0m0 35h0m0 28h0m0 42h0m1-447h0m0 209h0m0 2h0m0 9h0m0 10h0m0 22h0m0 16h0m0 6h0m0 45h0m0 22h0m0 44h0m0 2h0m0 57h0m0 8h0m0 28h0m1-582h0m0 63h0m0 85h0m0 63h0m0 11h0m0 94h0m0 1h0m0 10h0m0 14h0m0 16h0m0 24h0m0 3h0m0 7h0m0 13h0m0 9h0m0 12h0m0 29h0m0 8h0m0 3h0m0 4h0m0 12h0m0 8h0m0 3h0m0 65h0m0 28h0m1-565h0m0 193h0m0 7h0m0 87h0m0 9h0m0 67h0m0 17h0m0 10h0m0 3h0m0 9h0m0 7h0m0 7h0m0 1h0m0 15h0m0 2h0m0 12h0m0 2h0m0 14h0m0 4h0m0 19h0m1-369h0m0 87h0m0 118h0m0 10h0m0 9h0m0 4h0m0 21h0m0 13h0m0 11h0m0 4h0m0 8h0m0 46h0m0 7h0m0 17h0m0 6h0m0 1h0m0 1h0m0 13h0m0 1h0m0 2h0m0 10h0m0 4h0m0 1h0m0 44h0m1-463h0m0 163h0m0 53h0m0 29h0m0 20h0m0 9h0m0 1h0m0 12h0m0 7h0m0 1h0m0 71h0m0 9h0m0 11h0m1-441h0m0 119h0m0 7h0m0 85h0m0 8h0m0 44h0m0 33h0m0 22h0m0 3h0m0 48h0m0 7h0m0 7h0m0 12h0m0 1h0m0 11h0m0 6h0m0 1h0m0 10h0m0 3h0m0 27h0m0 9h0m0 4h0m1-406h0m0 20h0m0 105h0m0 16h0m0 19h0m0 70h0m0 9h0m0 30h0m0 1h0m0 13h0m0 15h0m0 5h0m0 10h0m0 15h0m0 9h0m0 15h0m0 12h0m0 3h0m0 13h0m0 5h0m0 19h0m0 6h0m0 60h0m1-419h0m0 48h0m0 5h0m0 19h0m0 15h0m0 6h0m0 19h0m0 3h0m0 4h0m0 74h0m0 47h0m0 5h0m0 35h0m0 3h0m0 13h0m0 22h0m0 18h0m0 3h0m0 21h0m0 31h0m0 40h0m1-597h0m0 43h0m0 238h0m0 3h0m0 29h0m0 19h0m0 35h0m0 19h0m0 28h0m0 13h0m0 3h0m0 17h0m0 2h0m0 42h0m0 16h0m0 9h0m0 47h0m0 37h0m1-517h0m0 123h0m0 79h0m0 11h0m0 25h0m0 23h0m0 9h0m0 9h0m0 10h0m0 9h0m0 11h0m0 1h0m0 1h0m0 16h0m0 28h0m0 2h0m0 1h0m0 5h0m0 4h0m0 10h0m0 1h0m0 5h0m0 8h0m0 20h0m0 22h0m0 13h0m0 22h0m0 20h0m1-499h0m0 81h0m0 31h0m0 174h0m0 47h0m0 1h0m0 28h0m0 8h0m0 23h0m0 20h0m0 4h0m0 2h0m0 9h0m0 40h0m0 28h0m1-333h0m0 24h0m0 51h0m0 56h0m0 20h0m0 13h0m0 20h0m0 22h0m0 5h0m0 29h0m0 11h0m0 23h0m0 10h0m0 30h0m0 29h0m1-448h0m0 13h0m0 4h0m0 44h0m0 49h0m0 28h0m0 23h0m0 19h0m0 32h0m0 2h0m0 52h0m0 7h0m0 16h0m0 22h0m0 2h0m0 22h0m0 2h0m0 4h0m0 6h0m0 18h0m0 19h0m0 9h0m0 22h0m0 5h0m0 17h0m1-386h0m0 22h0m0 76h0m0 76h0m0 6h0m0 5h0m0 1h0m0 9h0m0 18h0m0 1h0m0 1h0m0 23h0m0 6h0m0 8h0m0 2h0m0 17h0m0 28h0m0 6h0m0 7h0m0 5h0m0 25h0m0 1h0m0 7h0m0 7h0m0 14h0m0 23h0m0 2h0m0 3h0m1-340h0m0 10h0m0 2h0m0 81h0m0 94h0m0 27h0m0 2h0m0 2h0m0 3h0m0 20h0m0 24h0m0 10h0m0 49h0m1-417h0m0 28h0m0 145h0m0 29h0m0 5h0m0 1h0m0 34h0m0 1h0m0 8h0m0 13h0m0 10h0m0 11h0m0 2h0m0 1h0m0 11h0m0 6h0m0 9h0m0 7h0m0 8h0m0 2h0m0 2h0m0 5h0m0 14h0m0 2h0m0 13h0m0 54h0m1-363h0m0 6h0m0 13h0m0 83h0m0 47h0m0 44h0m0 8h0m0 20h0m0 12h0m0 16h0m0 15h0m0 2h0m0 16h0m0 14h0m0 2h0m0 31h0m0 35h0m0 34h0m1-459h0m0 127h0m0 29h0m0 2h0m0 22h0m0 12h0m0 20h0m0 28h0m0 10h0m0 9h0m0 3h0m0 3h0m0 28h0m0 1h0m0 6h0m0 27h0m0 15h0m0 8h0m0 2h0m0 1h0m0 12h0m0 7h0m0 4h0m1-414h0m0 50h0m0 15h0m0 148h0m0 16h0m0 18h0m0 28h0m0 3h0m0 80h0m0 7h0m0 1h0m0 10h0m0 34h0m0 30h0m0 7h0m0 2h0m0 34h0m0 29h0m1-351h0m0 62h0m0 18h0m0 22h0m0 1h0m0 7h0m0 20h0m0 7h0m0 24h0m0 17h0m0 12h0m0 2h0m0 3h0m0 5h0m0 10h0m0 14h0m0 3h0m0 14h0m0 9h0m0 7h0m0 15h0m0 12h0m0 7h0m0 41h0m0 16h0m1-354h0m0 30h0m0 36h0m0 26h0m0 18h0m0 17h0m0 51h0m0 17h0m0 2h0m0 19h0m0 32h0m0 1h0m0 90h0m1-474h0m0 182h0m0 58h0m0 45h0m0 17h0m0 17h0m0 6h0m0 2h0m0 14h0m0 1h0m0 13h0m0 5h0m0 50h0m0 1h0m0 14h0m1-467h0m0 167h0m0 42h0m0 70h0m0 1h0m0 6h0m0 4h0m0 4h0m0 12h0m0 17h0m0 2h0m0 1h0m0 8h0m0 6h0m0 14h0m0 2h0m0 17h0m0 25h0m0 12h0m0 5h0m0 9h0m0 3h0m0 12h0m0 4h0m0 3h0m0 5h0m1-329h0m0 4h0m0 27h0m0 81h0m0 33h0m0 38h0m0 24h0m0 16h0m0 23h0m0 7h0m0 3h0m0 3h0m0 16h0m0 6h0m0 23h0m0 2h0m0 2h0m0 3h0m0 8h0m0 10h0m0 2h0m1-347h0m0 43h0m0 95h0m0 22h0m0 22h0m0 6h0m0 13h0m0 8h0m0 6h0m0 5h0m0 12h0m0 17h0m0 6h0m0 12h0m0 13h0m0 11h0m0 7h0m0 11h0m0 10h0m0 44h0m0 7h0m1-353h0m0 87h0m0 7h0m0 11h0m0 23h0m0 1h0m0 8h0m0 3h0m0 5h0m0 11h0m0 3h0m0 35h0m0 3h0m0 7h0m0 2h0m0 1h0m0 31h0m0 13h0m0 12h0m0 6h0m0 3h0m0 7h0m0 9h0m0 8h0m0 29h0m0 32h0m0 8h0m0 18h0m1-423h0m0 137h0m0 22h0m0 27h0m0 7h0m0 10h0m0 17h0m0 31h0m0 17h0m0 3h0m0 18h0m0 6h0m0 4h0m0 2h0m0 24h0m0 17h0m0 2h0m0 4h0m0 7h0m0 14h0m0 7h0m0 16h0m0 18h0m1-658h0m0 307h0m0 62h0m0 31h0m0 21h0m0 65h0m0 6h0m0 23h0m0 1h0m0 12h0m0 1h0m0 2h0m0 2h0m0 2h0m0 11h0m0 4h0m0 20h0m0 8h0m0 9h0m0 7h0m0 19h0m0 8h0m0 7h0m0 6h0m0 29h0m0 43h0m1-424h0m0 103h0m0 57h0m0 6h0m0 4h0m0 48h0m0 7h0m0 13h0m0 9h0m0 12h0m0 3h0m0 13h0m0 24h0m0 13h0m0 5h0m0 15h0m0 14h0m0 6h0m0 22h0m0 5h0m0 2h0m0 14h0m1-338h0m0 25h0m0 20h0m0 7h0m0 19h0m0 2h0m0 51h0m0 1h0m0 9h0m0 6h0m0 65h0m0 5h0m0 10h0m0 9h0m0 17h0m0 9h0m0 7h0m0 5h0m0 7h0m0 62h0m1-228h0m0 24h0m0 2h0m0 9h0m0 12h0m0 20h0m0 5h0m0 25h0m0 14h0m0 16h0m0 14h0m0 27h0m0 37h0m0 19h0m1-391h0m0 19h0m0 79h0m0 4h0m0 47h0m0 55h0m0 49h0m0 4h0m0 11h0m0 9h0m0 1h0m0 9h0m0 2h0m0 8h0m0 1h0m0 10h0m0 18h0m0 17h0m0 3h0m0 27h0m0 53h0m1-406h0m0 5h0m0 127h0m0 7h0m0 8h0m0 10h0m0 4h0m0 10h0m0 60h0m0 10h0m0 21h0m0 1h0m0 16h0m0 19h0m0 10h0m0 3h0m0 4h0m0 29h0m0 1h0m1-570h0m0 286h0m0 22h0m0 51h0m0 69h0m0 8h0m0 2h0m0 6h0m0 4h0m0 22h0m0 17h0m0 16h0m0 29h0m0 22h0m0 16h0m0 33h0m1-259h0m0 10h0m0 4h0m0 29h0m0 14h0m0 3h0m0 18h0m0 11h0m0 14h0m0 5h0m0 4h0m0 1h0m0 14h0m0 8h0m0 1h0m0 1h0m0 17h0m0 4h0m0 5h0m0 4h0m0 19h0m0 23h0m0 9h0m0 40h0m1-365h0m0 60h0m0 33h0m0 25h0m0 28h0m0 11h0m0 55h0m0 10h0m0 4h0m0 4h0m0 15h0m0 4h0m0 16h0m0 5h0m0 4h0m0 3h0m0 19h0m0 16h0m0 40h0m0 3h0m0 23h0m1-691h0m0 266h0m0 107h0m0 126h0m0 20h0m0 2h0m0 3h0m0 21h0m0 6h0m0 3h0m0 8h0m0 1h0m0 2h0m0 5h0m0 8h0m0 5h0m0 22h0m0 60h0m0 7h0m1-315h0m0 54h0m0 31h0m0 15h0m0 16h0m0 16h0m0 8h0m0 16h0m0 13h0m0 7h0m0 1h0m0 7h0m0 13h0m0 16h0m0 8h0m0 12h0m0 2h0m0 13h0m0 13h0m0 5h0m0 2h0m0 11h0m0 38h0m0 11h0m0 25h0m1-301h0m0 36h0m0 2h0m0 62h0m0 35h0m0 6h0m0 9h0m0 2h0m0 3h0m0 17h0m0 7h0m0 6h0m0 7h0m0 4h0m0 6h0m0 1h0m0 14h0m0 16h0m0 6h0m0 17h0m1-255h0m0 33h0m0 22h0m0 38h0m0 16h0m0 10h0m0 2h0m0 4h0m0 5h0m0 3h0m0 18h0m0 5h0m0 8h0m0 19h0m0 2h0m0 17h0m0 3h0m0 6h0m0 13h0m0 8h0m0 6h0m0 15h0m1-175h0m0 1h0m0 43h0m0 3h0m0 3h0m0 14h0m0 1h0m0 10h0m0 8h0m0 7h0m0 10h0m0 5h0m0 7h0m0 3h0m0 7h0m0 1h0m0 3h0m0 1h0m0 3h0m0 3h0m0 8h0m0 1h0m0 10h0m0 31h0m1-278h0m0 65h0m0 2h0m0 17h0m0 5h0m0 20h0m0 18h0m0 25h0m0 3h0m0 6h0m0 6h0m0 6h0m0 2h0m0 1h0m0 9h0m0 17h0m0 4h0m0 1h0m0 1h0m0 8h0m0 3h0m0 22h0m0 2h0m0 20h0m0 38h0m1-187h0m0 8h0m0 6h0m0 10h0m0 2h0m0 14h0m0 5h0m0 7h0m0 1h0m0 5h0m0 1h0m0 22h0m0 8h0m0 10h0m0 16h0m0 4h0m0 2h0m0 6h0m0 4h0m0 20h0m0 9h0m1-177h0m0 3h0m0 26h0m0 5h0m0 5h0m0 4h0m0 1h0m0 7h0m0 7h0m0 24h0m0 14h0m0 11h0m0 3h0m0 2h0m0 15h0m0 13h0m0 11h0m0 13h0m0 17h0m0 22h0m0 7h0m1-223h0m0 23h0m0 21h0m0 2h0m0 1h0m0 5h0m0 12h0m0 20h0m0 6h0m0 3h0m0 6h0m0 7h0m0 7h0m0 44h0m0 4h0m0 7h0m0 19h0m0 11h0m0 7h0m1-301h0m0 67h0m0 3h0m0 46h0m0 11h0m0 5h0m0 14h0m0 3h0m0 5h0m0 12h0m0 28h0m0 5h0m0 3h0m0 4h0m0 5h0m0 7h0m0 17h0m0 12h0m0 35h0m1-233h0m0 41h0m0 3h0m0 5h0m0 23h0m0 35h0m0 6h0m0 10h0m0 14h0m0 3h0m0 1h0m0 8h0m0 21h0m0 14h0m0 12h0m0 4h0m0 5h0m0 12h0m0 32h0m1-218h0m0 4h0m0 12h0m0 8h0m0 17h0m0 10h0m0 10h0m0 14h0m0 18h0m0 4h0m0 5h0m0 6h0m0 4h0m0 13h0m0 5h0m0 5h0m0 1h0m0 4h0m0 1h0m0 5h0m0 1h0m0 4h0m0 5h0m0 2h0m0 25h0m0 16h0m0 2h0m0 4h0m1-283h0m0 78h0m0 28h0m0 51h0m0 6h0m0 9h0m0 2h0m0 21h0m0 12h0m0 1h0m0 9h0m0 10h0m0 11h0m0 21h0m0 16h0m1-255h0m0 46h0m0 20h0m0 33h0m0 5h0m0 21h0m0 16h0m0 2h0m0 10h0m0 7h0m0 1h0m0 2h0m0 3h0m0 9h0m0 2h0m0 1h0m0 2h0m0 5h0m0 8h0m0 7h0m0 7h0m0 1h0m0 4h0m0 1h0m0 6h0m0 43h0m0 12h0m0 6h0m1-275h0m0 87h0m0 22h0m0 5h0m0 14h0m0 7h0m0 2h0m0 7h0m0 1h0m0 5h0m0 2h0m0 2h0m0 2h0m0 8h0m0 21h0m0 2h0m0 2h0m0 8h0m0 2h0m0 1h0m0 2h0m0 2h0m0 13h0m0 1h0m0 2h0m0 4h0m0 10h0m0 6h0m0 3h0m0 14h0m0 28h0m1-368h0m0 71h0m0 72h0m0 5h0m0 21h0m0 6h0m0 37h0m0 7h0m0 12h0m0 2h0m0 1h0m0 16h0m0 5h0m0 11h0m0 10h0m0 5h0m0 8h0m0 2h0m0 5h0m0 1h0m0 6h0m0 2h0m0 6h0m0 7h0m0 3h0m0 2h0m0 27h0m1-243h0m0 50h0m0 8h0m0 32h0m0 25h0m0 30h0m0 12h0m0 14h0m0 12h0m0 2h0m0 6h0m0 9h0m0 12h0m0 3h0m0 2h0m0 6h0m0 1h0m0 12h0m0 7h0m0 11h0m1-211h0m0 76h0m0 3h0m0 6h0m0 15h0m0 7h0m0 2h0m0 2h0m0 9h0m0 10h0m0 15h0m0 1h0m0 2h0m0 7h0m0 2h0m0 13h0m0 12h0m0 2h0m1-268h0m0 34h0m0 95h0m0 11h0m0 14h0m0 5h0m0 1h0m0 8h0m0 8h0m0 8h0m0 13h0m0 5h0m0 5h0m0 11h0m0 5h0m0 3h0m0 5h0m0 11h0m0 1h0m0 17h0m0 37h0m1-266h0m0 48h0m0 85h0m0 2h0m0 1h0m0 1h0m0 5h0m0 11h0m0 8h0m0 12h0m0 19h0m0 2h0m0 1h0m0 5h0m0 4h0m0 11h0m0 6h0m0 15h0m0 5h0m0 21h0m1-179h0m0 3h0m0 37h0m0 14h0m0 11h0m0 4h0m0 5h0m0 3h0m0 4h0m0 12h0m0 3h0m0 4h0m0 2h0m0 17h0m0 5h0m0 8h0m0 3h0m0 7h0m0 4h0m0 3h0m0 16h0m0 3h0m0 11h0m1-294h0m0 67h0m0 8h0m0 51h0m0 24h0m0 3h0m0 5h0m0 39h0m0 7h0m0 1h0m0 2h0m0 8h0m0 1h0m0 8h0m0 4h0m0 4h0m0 5h0m0 1h0m0 1h0m0 7h0m0 1h0m0 3h0m0 6h0m0 20h0m1-321h0m0 136h0m0 2h0m0 13h0m0 19h0m0 44h0m0 10h0m0 12h0m0 5h0m0 10h0m0 2h0m0 1h0m0 15h0m0 9h0m0 3h0m0 10h0m0 5h0m0 4h0m0 2h0m0 7h0m0 14h0m0 21h0m1-197h0m0 21h0m0 41h0m0 7h0m0 13h0m0 3h0m0 17h0m0 5h0m0 7h0m0 7h0m0 3h0m0 7h0m0 1h0m0 3h0m0 10h0m0 6h0m0 2h0m0 2h0m0 1h0m0 4h0m0 12h0m0 10h0m0 1h0m0 4h0m0 1h0m0 22h0m1-219h0m0 6h0m0 48h0m0 5h0m0 2h0m0 59h0m0 2h0m0 2h0m0 3h0m0 1h0m0 3h0m0 3h0m0 9h0m0 5h0m0 2h0m0 31h0m0 4h0m0 11h0m0 16h0m1-261h0m0 24h0m0 42h0m0 31h0m0 14h0m0 4h0m0 12h0m0 4h0m0 1h0m0 34h0m0 8h0m0 3h0m0 5h0m0 7h0m0 3h0m0 2h0m0 3h0m0 3h0m0 3h0m0 1h0m0 5h0m0 5h0m0 11h0m0 10h0m0 8h0m0 8h0m1-191h0m0 10h0m0 10h0m0 11h0m0 4h0m0 30h0m0 5h0m0 2h0m0 15h0m0 1h0m0 6h0m0 4h0m0 5h0m0 6h0m0 12h0m0 6h0m0 2h0m0 2h0m0 18h0m0 3h0m0 3h0m0 4h0m0 2h0m0 3h0m0 44h0m1-185h0m0 13h0m0 13h0m0 5h0m0 1h0m0 2h0m0 3h0m0 16h0m0 6h0m0 5h0m0 2h0m0 9h0m0 1h0m0 10h0m0 5h0m0 8h0m0 4h0m0 3h0m0 1h0m0 7h0m0 1h0m0 1h0m0 1h0m0 5h0m0 1h0m0 7h0m0 3h0m0 2h0m0 4h0m0 1h0m0 1h0m0 5h0m0 5h0m0 9h0m1-143h0m0 6h0m0 24h0m0 5h0m0 23h0m0 13h0m0 1h0m0 11h0m0 2h0m0 1h0m0 1h0m0 3h0m0 12h0m0 1h0m0 3h0m0 3h0m0 2h0m0 4h0m0 1h0m0 4h0m0 2h0m0 2h0m0 30h0m0 1h0m0 5h0m1-131h0m0 4h0m0 22h0m0 2h0m0 5h0m0 11h0m0 7h0m0 2h0m0 2h0m0 2h0m0 2h0m0 3h0m0 1h0m0 2h0m0 7h0m0 3h0m0 2h0m0 19h0m0 8h0m0 21h0m0 12h0m1-195h0m0 22h0m0 19h0m0 33h0m0 15h0m0 14h0m0 8h0m0 6h0m0 2h0m0 4h0m0 1h0m0 3h0m0 3h0m0 13h0m0 14h0m0 2h0m0 4h0m0 4h0m0 16h0m1-179h0m0 22h0m0 4h0m0 1h0m0 36h0m0 1h0m0 10h0m0 8h0m0 1h0m0 3h0m0 2h0m0 1h0m0 14h0m0 2h0m0 5h0m0 16h0m0 3h0m0 3h0m0 1h0m0 5h0m0 1h0m0 9h0m0 3h0m0 11h0m0 16h0m1-119h0m0 11h0m0 29h0m0 3h0m0 2h0m0 4h0m0 1h0m0 8h0m0 1h0m0 2h0m0 6h0m0 4h0m0 13h0m0 3h0m0 3h0m0 11h0m0 2h0m0 2h0m0 1h0m1-158h0m0 25h0m0 2h0m0 1h0m0 18h0m0 5h0m0 4h0m0 12h0m0 7h0m0 19h0m0 4h0m0 7h0m0 2h0m0 4h0m0 4h0m0 9h0m0 8h0m0 13h0m0 1h0m0 2h0m0 4h0m0 29h0m1-186h0m0 37h0m0 27h0m0 6h0m0 4h0m0 16h0m0 2h0m0 7h0m0 3h0m0 1h0m0 3h0m0 1h0m0 1h0m0 1h0m0 4h0m0 3h0m0 5h0m0 2h0m0 4h0m0 3h0m0 1h0m0 2h0m0 6h0m0 3h0m0 18h0m1-173h0m0 81h0m0 20h0m0 3h0m0 5h0m0 6h0m0 5h0m0 7h0m0 2h0m0 10h0m0 5h0m0 3h0m0 2h0m0 6h0m0 5h0m0 14h0m0 11h0m1-156h0m0 49h0m0 7h0m0 2h0m0 3h0m0 13h0m0 2h0m0 4h0m0 6h0m0 23h0m0 5h0m0 2h0m0 11h0m0 10h0m0 2h0m0 2h0m0 7h0m0 15h0m0 19h0m1-180h0m0 39h0m0 2h0m0 3h0m0 30h0m0 4h0m0 4h0m0 1h0m0 1h0m0 15h0m0 8h0m0 5h0m0 1h0m0 6h0m0 7h0m0 3h0m0 7h0m0 7h0m0 3h0m0 6h0m0 2h0m0 17h0m1-168h0m0 45h0m0 13h0m0 2h0m0 8h0m0 3h0m0 9h0m0 3h0m0 22h0m0 1h0m0 7h0m0 3h0m0 4h0m0 1h0m0 1h0m0 6h0m0 1h0m0 3h0m0 2h0m0 1h0m0 2h0m0 4h0m0 8h0m0 2h0m0 2h0m0 4h0m0 4h0m0 6h0m0 13h0m1-161h0m0 10h0m0 2h0m0 13h0m0 3h0m0 43h0m0 6h0m0 5h0m0 12h0m0 1h0m0 7h0m0 4h0m0 5h0m0 3h0m0 5h0m0 2h0m0 5h0m0 7h0m0 9h0m0 3h0m0 4h0m1-109h0m0 2h0m0 2h0m0 15h0m0 4h0m0 3h0m0 2h0m0 14h0m0 2h0m0 3h0m0 8h0m0 3h0m0 2h0m0 1h0m0 12h0m0 3h0m0 1h0m0 1h0m0 3h0m0 8h0m0 3h0m0 4h0m0 15h0m0 1h0m0 2h0m1-140h0m0 45h0m0 5h0m0 10h0m0 11h0m0 2h0m0 5h0m0 1h0m0 10h0m0 4h0m0 2h0m0 1h0m0 2h0m0 1h0m0 1h0m0 1h0m0 3h0m0 12h0m0 4h0m0 7h0m0 8h0m0 1h0m1-197h0m0 64h0m0 14h0m0 2h0m0 1h0m0 27h0m0 14h0m0 3h0m0 1h0m0 3h0m0 4h0m0 5h0m0 1h0m0 3h0m0 9h0m0 1h0m0 1h0m0 2h0m0 5h0m0 1h0m0 7h0m0 1h0m0 6h0m0 1h0m0 2h0m0 2h0m0 2h0m0 3h0m0 3h0m0 3h0m0 4h0m1-115h0m0 8h0m0 10h0m0 21h0m0 6h0m0 1h0m0 5h0m0 4h0m0 4h0m0 2h0m0 3h0m0 2h0m0 2h0m0 8h0m0 1h0m0 3h0m0 1h0m0 8h0m0 2h0m0 1h0m0 7h0m0 4h0m0 8h0m0 11h0m0 1h0m1-175h0m0 50h0m0 22h0m0 3h0m0 13h0m0 2h0m0 7h0m0 6h0m0 3h0m0 2h0m0 2h0m0 2h0m0 9h0m0 4h0m0 1h0m0 9h0m0 7h0m0 4h0m0 1h0m0 2h0m0 5h0m0 1h0m1-129h0m0 61h0m0 8h0m0 9h0m0 5h0m0 1h0m0 3h0m0 1h0m0 5h0m0 4h0m0 1h0m0 1h0m0 1h0m0 5h0m0 1h0m0 1h0m0 4h0m0 6h0m0 3h0m0 3h0m0 9h0m0 7h0m0 9h0m0 5h0m1-83h0m0 8h0m0 8h0m0 8h0m0 3h0m0 5h0m0 2h0m0 2h0m0 2h0m0 2h0m0 6h0m0 1h0m0 1h0m0 4h0m0 3h0m0 2h0m0 5h0m0 5h0m0 1h0m0 1h0m1-92h0m0 22h0m0 7h0m0 3h0m0 8h0m0 2h0m0 4h0m0 3h0m0 11h0m0 3h0m0 1h0m0 2h0m0 4h0m0 1h0m0 3h0m0 2h0m0 2h0m0 4h0m0 7h0m1-115h0m0 30h0m0 13h0m0 13h0m0 6h0m0 7h0m0 10h0m0 3h0m0 1h0m0 1h0m0 2h0m0 6h0m0 7h0m0 1h0m0 3h0m0 3h0m0 1h0m0 4h0m0 1h0m0 9h0m0 4h0m1-167h0m0 72h0m0 9h0m0 13h0m0 14h0m0 1h0m0 1h0m0 1h0m0 1h0m0 8h0m0 5h0m0 1h0m0 2h0m0 4h0m0 2h0m0 1h0m0 2h0m0 3h0m0 2h0m0 1h0m0 3h0m0 1h0m0 1h0m0 1h0m0 2h0m0 6h0m0 1h0m0 17h0m1-92h0m0 4h0m0 7h0m0 11h0m0 3h0m0 3h0m0 1h0m0 6h0m0 1h0m0 1h0m0 4h0m0 1h0m0 1h0m0 7h0m0 2h0m0 5h0m0 1h0m0 4h0m0 1h0m0 1h0m0 1h0m0 1h0m0 2h0m0 20h0m0 6h0m1-74h0m0 1h0m0 15h0m0 4h0m0 6h0m0 2h0m0 4h0m0 3h0m0 1h0m0 3h0m0 2h0m0 2h0m0 5h0m0 4h0m0 9h0m0 4h0m0 2h0m1-59h0m0 3h0m0 3h0m0 1h0m0 3h0m0 1h0m0 2h0m0 3h0m0 6h0m0 1h0m0 1h0m0 2h0m0 2h0m0 1h0m0 1h0m0 3h0m0 2h0m0 1h0m0 2h0m0 3h0m0 1h0m0 1h0m1-64h0m0 27h0m0 1h0m0 2h0m0 2h0m0 6h0m0 1h0m0 2h0m0 2h0m0 1h0m0 1h0m0 4h0m0 1h0m0 1h0m0 1h0m0 1h0m0 2h0m0 1h0m0 2h0m0 5h0m0 1h0m0 4h0m0 3h0m0 1h0m1-87h0m0 7h0m0 13h0m0 12h0m0 3h0m0 5h0m0 4h0m0 6h0m0 1h0m0 3h0m0 1h0m0 2h0m0 8h0m0 1h0m0 2h0m0 2h0m0 3h0m0 12h0m0 4h0m0 2h0m0 1h0m0 1h0m0 4h0m1-80h0m0 27h0m0 5h0m0 3h0m0 9h0m0 1h0m0 2h0m0 2h0m0 3h0m0 1h0m0 1h0m0 2h0m0 5h0m0 1h0m0 2h0m0 2h0m0 3h0m0 3h0m0 1h0m0 8h0m0 5h0m1-69h0m0 6h0m0 5h0m0 2h0m0 2h0m0 1h0m0 3h0m0 6h0m0 1h0m0 4h0m0 10h0m0 1h0m0 2h0m0 2h0m0 2h0m0 2h0m0 2h0m0 2h0m0 3h0m0 3h0m1-72h0m0 26h0m0 1h0m0 4h0m0 2h0m0 4h0m0 3h0m0 3h0m0 1h0m0 3h0m0 2h0m0 2h0m0 1h0m0 1h0m0 1h0m0 1h0m0 1h0m0 3h0m0 2h0m0 12h0m0 2h0m1-47h0m0 2h0m0 3h0m0 2h0m0 2h0m0 1h0m0 8h0m0 1h0m0 1h0m0 3h0m0 1h0m0 2h0m0 1h0m0 1h0m0 4h0m0 2h0m0 4h0m0 3h0m1-36h0m0 2h0m0 11h0m0 2h0m0 1h0m0 3h0m0 5h0m0 1h0m0 2h0m0 1h0m0 1h0m0 2h0m0 5h0m0 5h0m0 1h0m0 5h0m0 2h0m1-50h0m0 1h0m0 11h0m0 2h0m0 1h0m0 1h0m0 4h0m0 4h0m0 1h0m0 1h0m0 1h0m0 5h0m0 1h0m0 4h0m0 2h0m1-41h0m0 6h0m0 10h0m0 1h0m0 3h0m0 1h0m0 1h0m0 3h0m0 2h0m0 1h0m0 1h0m0 1h0m0 1h0m0 1h0m0 1h0m0 2h0m0 1h0m0 2h0m0 2h0m0 2h0m0 1h0m0 2h0m0 1h0m1-51h0m0 10h0m0 7h0m0 3h0m0 3h0m0 3h0m0 2h0m0 3h0m0 1h0m0 2h0m0 1h0m0 2h0m0 3h0m0 2h0m0 1h0m0 1h0m0 1h0m0 2h0m0 1h0m0 10h0m0 1h0m1-43h0m0 6h0m0 2h0m0 3h0m0 1h0m0 3h0m0 1h0m0 3h0m0 1h0m0 2h0m0 1h0m0 1h0m0 1h0m0 2h0m0 1h0m0 1h0m0 2h0m0 1h0m0 4h0m0 2h0m0 3h0m0 1h0m0 4h0m1-43h0m0 1h0m0 11h0m0 1h0m0 3h0m0 1h0m0 3h0m0 2h0m0 1h0m0 1h0m0 1h0m0 1h0m0 1h0m0 3h0m0 2h0m0 2h0m0 1h0m1-33h0m0 10h0m0 5h0m0 1h0m0 1h0m0 3h0m0 2h0m0 1h0m0 1h0m0 1h0m0 1h0m0 1h0m0 1h0m0 1h0m0 1h0m0 1h0m0 2h0m0 2h0m0 5h0m0 1h0m1-37h0m0 8h0m0 1h0m0 1h0m0 4h0m0 1h0m0 2h0m0 1h0m0 1h0m0 1h0m0 1h0m0 1h0m0 1h0m0 1h0m0 1h0m0 1h0m0 1h0m0 2h0m1-42h0m0 19h0m0 4h0m0 1h0m0 2h0m0 1h0m0 4h0m0 1h0m0 1h0m0 2h0m0 2h0m0 2h0m0 2h0m0 1h0m0 2h0m0 2h0m0 3h0m0 1h0m1-26h0m0 5h0m0 1h0m0 1h0m0 1h0m0 2h0m0 1h0m0 1h0m0 1h0m0 1h0m0 1h0m0 1h0m0 1h0m0 1h0m0 1h0m0 4h0m0 2h0m0 1h0m0 1h0m1-23h0m0 3h0m0 2h0m0 1h0m0 1h0m0 1h0m0 1h0m0 1h0m0 1h0m0 2h0m0 1h0m0 1h0m0 1h0m0 1h0m0 2h0m0 1h0m0 1h0m0 5h0m1-24h0m0 2h0m0 2h0m0 1h0m0 1h0m0 1h0m0 1h0m0 1h0m0 3h0m0 1h0m0 3h0m0 5h0m1-26h0m0 5h0m0 6h0m0 2h0m0 1h0m0 2h0m0 1h0m0 1h0m0 2h0m0 1h0m0 1h0m0 2h0m1-18h0m0 1h0m0 2h0m0 2h0m0 2h0m0 1h0m0 1h0m0 3h0m0 1h0m0 2h0m0 1h0m0 1h0m0 1h0m0 1h0m0 1h0m0 1h0m1-14h0m0 1h0m0 1h0m0 1h0m0 1h0m0 1h0m0 1h0m0 1h0m0 1h0m0 1h0m0 1h0m0 2h0m0 1h0m0 2h0m0 2h0m1-15h0m0 2h0m0 1h0m0 1h0m0 1h0m0 1h0m0 1h0m0 1h0m0 1h0m0 1h0m0 1h0m0 1h0m1-15h0m0 1h0m0 4h0m0 1h0m0 1h0m0 1h0m0 1h0m0 1h0m0 1h0m0 1h0m0 1h0m0 1h0m0 1h0m0 1h0m0 1h0m1-8h0m0 1h0m0 1h0m0 2h0m0 1h0m0 1h0m0 1h0m0 1h0m0 2h0m1-15h0m0 4h0m0 5h0m0 1h0m0 1h0m0 1h0m0 1h0m0 1h0m0 2h0m1-5h0m0 1h0m0 1h0m0 1h0m0 1h0m0 1h0m1-5h0m0 2h0m0 1h0m0 1h0m0 1h0m1-2h0m0 1h0m0 1h0m0 1h0m1 0h0m0 1h0m1-3h0m0 1h0m0 1h0m1-5h0m0 1h0m0 1h0m0 1h0m0 1h0m1-6h0m0 2h0m0 1h0m0 1h0m0 1h0m0 1h0m1-11h0m0 2h0m0 1h0m0 1h0m0 1h0m0 1h0m0 1h0m0 1h0m0 1h0m1-10h0m0 2h0m0 2h0m0 1h0m0 1h0m0 1h0m0 1h0m0 2h0m0 1h0m1-13h0m0 2h0m0 1h0m0 1h0m0 1h0m0 1h0m0 1h0m0 2h0m0 1h0m0 1h0m0 2h0m1-18h0m0 1h0m0 2h0m0 1h0m0 1h0m0 1h0m0 1h0m0 1h0m0 1h0m0 2h0m0 1h0m0 1h0m0 1h0m0 1h0m1-19h0m0 1h0m0 1h0m0 1h0m0 3h0m0 1h0m0 1h0m0 1h0m0 1h0m0 1h0m0 1h0m0 1h0m0 1h0m0 2h0m0 1h0m0 2h0m1-20h0m0 3h0m0 1h0m0 1h0m0 1h0m0 1h0m0 1h0m0 1h0m0 1h0m0 2h0m0 1h0m0 2h0m0 2h0m0 1h0m1-20h0m0 6h0m0 1h0m0 1h0m0 1h0m0 1h0m0 1h0m0 2h0m0 1h0m0 3h0m0 5h0m1-27h0m0 4h0m0 6h0m0 1h0m0 1h0m0 1h0m0 1h0m0 1h0m0 1h0m0 2h0m0 1h0m0 1h0m0 5h0m0 2h0m1-47h0m0 17h0m0 6h0m0 2h0m0 1h0m0 1h0m0 1h0m0 1h0m0 1h0m0 1h0m0 1h0m0 1h0m0 1h0m0 1h0m0 1h0m0 2h0m0 2h0m0 4h0m1-33h0m0 9h0m0 2h0m0 1h0m0 5h0m0 1h0m0 1h0m0 1h0m0 1h0m0 2h0m0 3h0m0 2h0m0 5h0m0 1h0m1-37h0m0 7h0m0 9h0m0 3h0m0 2h0m0 1h0m0 1h0m0 1h0m0 1h0m0 1h0m0 2h0m0 5h0m0 4h0m0 2h0m1-52h0m0 16h0m0 5h0m0 3h0m0 1h0m0 2h0m0 2h0m0 1h0m0 1h0m0 1h0m0 1h0m0 1h0m0 1h0m0 1h0m0 1h0m0 2h0m0 1h0m0 2h0m0 1h0m0 1h0m0 1h0m0 2h0m1-49h0m0 8h0m0 5h0m0 3h0m0 1h0m0 2h0m0 4h0m0 1h0m0 3h0m0 1h0m0 2h0m0 1h0m0 1h0m0 2h0m0 2h0m0 1h0m0 1h0m0 1h0m0 2h0m0 1h0m0 1h0m0 4h0m0 2h0m1-56h0m0 14h0m0 6h0m0 5h0m0 1h0m0 2h0m0 2h0m0 1h0m0 2h0m0 1h0m0 1h0m0 1h0m0 2h0m0 1h0m0 1h0m0 3h0m0 2h0m0 2h0m0 4h0m1-54h0m0 8h0m0 2h0m0 5h0m0 6h0m0 3h0m0 3h0m0 2h0m0 3h0m0 1h0m0 2h0m0 5h0m0 1h0m0 1h0m0 1h0m0 7h0m0 3h0m0 2h0m1-44h0m0 6h0m0 1h0m0 3h0m0 2h0m0 1h0m0 3h0m0 3h0m0 1h0m0 2h0m0 2h0m0 2h0m0 1h0m0 1h0m0 2h0m0 3h0m0 1h0m0 13h0m1-51h0m0 7h0m0 9h0m0 3h0m0 2h0m0 3h0m0 2h0m0 1h0m0 1h0m0 1h0m0 2h0m0 1h0m0 1h0m0 1h0m0 2h0m0 1h0m0 4h0m0 2h0m1-55h0m0 1h0m0 2h0m0 12h0m0 7h0m0 8h0m0 4h0m0 1h0m0 1h0m0 1h0m0 5h0m0 3h0m0 5h0m0 3h0m0 4h0m1-68h0m0 3h0m0 14h0m0 7h0m0 4h0m0 1h0m0 8h0m0 1h0m0 2h0m0 1h0m0 4h0m0 1h0m0 1h0m0 2h0m0 2h0m0 1h0m0 2h0m0 1h0m0 4h0m0 3h0m0 1h0m0 2h0m0 11h0m1-57h0m0 4h0m0 7h0m0 3h0m0 3h0m0 3h0m0 1h0m0 1h0m0 11h0m0 1h0m0 1h0m0 1h0m0 1h0m0 13h0m1-71h0m0 17h0m0 2h0m0 8h0m0 7h0m0 6h0m0 1h0m0 4h0m0 3h0m0 1h0m0 1h0m0 4h0m0 6h0m0 2h0m0 3h0m0 1h0m0 11h0m1-77h0m0 8h0m0 13h0m0 1h0m0 2h0m0 2h0m0 3h0m0 2h0m0 1h0m0 4h0m0 1h0m0 1h0m0 7h0m0 3h0m0 1h0m0 3h0m0 2h0m0 5h0m0 21h0m1-71h0m0 4h0m0 2h0m0 8h0m0 7h0m0 1h0m0 2h0m0 3h0m0 4h0m0 3h0m0 2h0m0 2h0m0 1h0m0 1h0m0 2h0m0 5h0m0 6h0m0 2h0m0 3h0m1-99h0m0 19h0m0 7h0m0 6h0m0 2h0m0 1h0m0 9h0m0 9h0m0 4h0m0 3h0m0 2h0m0 1h0m0 1h0m0 1h0m0 1h0m0 1h0m0 1h0m0 2h0m0 3h0m0 1h0m0 2h0m0 1h0m0 1h0m0 2h0m0 5h0m0 4h0m0 3h0m0 2h0m1-59h0m0 4h0m0 2h0m0 6h0m0 10h0m0 4h0m0 4h0m0 5h0m0 3h0m0 7h0m0 2h0m0 1h0m0 1h0m0 15h0m0 5h0m1-83h0m0 3h0m0 3h0m0 16h0m0 4h0m0 1h0m0 6h0m0 1h0m0 3h0m0 2h0m0 6h0m0 1h0m0 2h0m0 1h0m0 1h0m0 2h0m0 5h0m0 4h0m0 8h0m1-59h0m0 5h0m0 4h0m0 1h0m0 1h0m0 2h0m0 4h0m0 4h0m0 1h0m0 3h0m0 1h0m0 3h0m0 2h0m0 4h0m0 1h0m0 2h0m0 2h0m0 1h0m0 1h0m0 4h0m0 2h0m0 1h0m0 19h0m1-94h0m0 10h0m0 9h0m0 18h0m0 15h0m0 2h0m0 2h0m0 2h0m0 2h0m0 1h0m0 4h0m0 2h0m0 3h0m0 6h0m0 1h0m0 2h0m0 7h0m1-92h0m0 26h0m0 2h0m0 4h0m0 2h0m0 3h0m0 5h0m0 3h0m0 13h0m0 3h0m0 6h0m0 4h0m0 4h0m0 4h0m0 2h0m0 1h0m0 3h0m0 5h0m0 2h0m0 13h0m1-85h0m0 5h0m0 5h0m0 4h0m0 2h0m0 6h0m0 2h0m0 1h0m0 2h0m0 4h0m0 5h0m0 1h0m0 4h0m0 4h0m0 1h0m0 1h0m0 3h0m0 1h0m0 5h0m0 6h0m0 5h0m0 5h0m0 6h0m1-106h0m0 35h0m0 9h0m0 13h0m0 1h0m0 10h0m0 4h0m0 1h0m0 5h0m0 2h0m0 1h0m0 1h0m1-72h0m0 19h0m0 7h0m0 12h0m0 2h0m0 1h0m0 10h0m0 1h0m0 1h0m0 1h0m0 1h0m0 1h0m0 7h0m0 6h0m0 6h0m0 6h0m0 4h0m0 12h0m0 2h0m1-101h0m0 20h0m0 6h0m0 5h0m0 2h0m0 5h0m0 5h0m0 6h0m0 6h0m0 3h0m0 1h0m0 9h0m0 3h0m0 15h0m0 19h0m1-147h0m0 15h0m0 16h0m0 18h0m0 4h0m0 6h0m0 5h0m0 4h0m0 17h0m0 2h0m0 1h0m0 2h0m0 5h0m0 1h0m0 1h0m0 6h0m0 2h0m0 1h0m0 1h0m0 2h0m0 3h0m0 3h0m0 1h0m0 18h0m0 4h0m0 4h0m0 1h0m1-117h0m0 20h0m0 9h0m0 13h0m0 4h0m0 1h0m0 12h0m0 1h0m0 7h0m0 1h0m0 4h0m0 1h0m0 1h0m0 2h0m0 16h0m0 4h0m0 13h0m1-140h0m0 20h0m0 19h0m0 3h0m0 10h0m0 2h0m0 7h0m0 13h0m0 3h0m0 5h0m0 1h0m0 9h0m0 1h0m0 2h0m0 1h0m0 1h0m0 2h0m0 1h0m0 3h0m0 3h0m0 2h0m0 11h0m0 2h0m0 9h0m0 6h0m0 6h0m1-126h0m0 33h0m0 17h0m0 3h0m0 6h0m0 2h0m0 1h0m0 3h0m0 2h0m0 4h0m0 2h0m0 1h0m0 2h0m0 1h0m0 2h0m0 2h0m0 3h0m0 4h0m0 1h0m0 1h0m0 2h0m0 3h0m0 1h0m0 2h0m0 1h0m0 3h0m0 7h0m1-120h0m0 7h0m0 5h0m0 11h0m0 4h0m0 18h0m0 9h0m0 2h0m0 7h0m0 2h0m0 4h0m0 2h0m0 7h0m0 12h0m0 4h0m0 2h0m0 10h0m0 1h0m0 4h0m0 4h0m0 1h0m0 6h0m0 12h0m0 16h0m1-149h0m0 35h0m0 3h0m0 18h0m0 2h0m0 8h0m0 4h0m0 2h0m0 2h0m0 8h0m0 1h0m0 1h0m0 6h0m0 11h0m0 8h0m0 16h0m0 5h0m0 4h0m0 5h0m1-172h0m0 67h0m0 6h0m0 5h0m0 2h0m0 2h0m0 1h0m0 10h0m0 1h0m0 6h0m0 3h0m0 5h0m0 2h0m0 2h0m0 3h0m0 2h0m0 1h0m0 2h0m0 11h0m0 1h0m0 1h0m0 3h0m0 1h0m0 29h0m1-133h0m0 7h0m0 34h0m0 2h0m0 15h0m0 1h0m0 1h0m0 4h0m0 8h0m0 4h0m0 1h0m0 4h0m0 3h0m0 2h0m0 2h0m0 6h0m0 4h0m0 2h0m0 4h0m0 1h0m0 1h0m0 3h0m0 1h0m0 1h0m0 1h0m0 16h0m1-126h0m0 10h0m0 40h0m0 3h0m0 5h0m0 5h0m0 2h0m0 1h0m0 3h0m0 2h0m0 12h0m0 2h0m0 2h0m0 3h0m0 10h0m1-84h0m0 5h0m0 1h0m0 6h0m0 5h0m0 7h0m0 3h0m0 4h0m0 3h0m0 1h0m0 5h0m0 7h0m0 1h0m0 2h0m0 1h0m0 3h0m0 3h0m0 1h0m0 1h0m0 1h0m0 1h0m0 4h0m0 1h0m0 4h0m0 6h0m0 12h0m0 1h0m0 1h0m0 4h0m0 1h0m0 3h0m1-156h0m0 45h0m0 16h0m0 19h0m0 13h0m0 3h0m0 2h0m0 5h0m0 9h0m0 6h0m0 1h0m0 6h0m0 8h0m0 1h0m0 5h0m0 7h0m0 5h0m0 6h0m0 8h0m1-200h0m0 36h0m0 10h0m0 10h0m0 7h0m0 4h0m0 19h0m0 1h0m0 2h0m0 6h0m0 7h0m0 14h0m0 2h0m0 2h0m0 6h0m0 1h0m0 21h0m0 4h0m0 6h0m0 1h0m0 4h0m0 5h0m0 4h0m0 8h0m0 3h0m0 4h0m0 4h0m0 8h0m0 4h0m0 1h0m1-147h0m0 13h0m0 14h0m0 13h0m0 8h0m0 13h0m0 16h0m0 2h0m0 2h0m0 3h0m0 4h0m0 2h0m0 10h0m0 1h0m0 2h0m0 1h0m0 5h0m0 6h0m0 3h0m0 7h0m0 7h0m0 18h0m0 8h0m0 2h0m1-263h0m0 105h0m0 6h0m0 5h0m0 2h0m0 23h0m0 21h0m0 17h0m0 4h0m0 2h0m0 9h0m0 3h0m0 2h0m0 4h0m0 4h0m0 7h0m0 6h0m0 6h0m0 9h0m0 13h0m1-178h0m0 14h0m0 16h0m0 19h0m0 4h0m0 14h0m0 14h0m0 5h0m0 3h0m0 6h0m0 7h0m0 8h0m0 1h0m0 5h0m0 14h0m0 3h0m0 6h0m0 3h0m0 2h0m0 3h0m0 2h0m0 4h0m0 1h0m0 8h0m1-102h0m0 20h0m0 5h0m0 3h0m0 1h0m0 1h0m0 7h0m0 2h0m0 5h0m0 2h0m0 2h0m0 4h0m0 5h0m0 1h0m0 2h0m0 14h0m0 4h0m0 12h0m0 9h0m0 28h0m1-299h0m0 49h0m0 92h0m0 6h0m0 9h0m0 10h0m0 10h0m0 5h0m0 5h0m0 10h0m0 1h0m0 12h0m0 1h0m0 2h0m0 5h0m0 3h0m0 3h0m0 3h0m0 1h0m0 7h0m0 2h0m0 1h0m0 3h0m0 2h0m0 1h0m0 6h0m0 1h0m0 2h0m0 9h0m0 3h0m0 7h0m0 12h0m1-321h0m0 162h0m0 6h0m0 7h0m0 37h0m0 24h0m0 4h0m0 1h0m0 1h0m0 1h0m0 2h0m0 7h0m0 2h0m0 1h0m0 2h0m0 1h0m0 2h0m0 2h0m0 2h0m0 5h0m0 8h0m0 1h0m0 5h0m0 1h0m0 14h0m0 2h0m0 1h0m0 9h0m0 1h0m0 18h0m0 3h0m1-222h0m0 61h0m0 19h0m0 18h0m0 10h0m0 3h0m0 11h0m0 4h0m0 2h0m0 1h0m0 1h0m0 7h0m0 1h0m0 10h0m0 1h0m0 1h0m0 1h0m0 4h0m0 1h0m0 4h0m0 8h0m0 6h0m0 3h0m0 5h0m0 6h0m0 6h0m0 1h0m0 14h0m1-185h0m0 7h0m0 19h0m0 2h0m0 26h0m0 5h0m0 4h0m0 8h0m0 8h0m0 2h0m0 31h0m0 3h0m0 2h0m0 2h0m0 6h0m0 10h0m0 2h0m0 2h0m0 1h0m0 5h0m0 4h0m0 9h0m0 10h0m0 2h0m0 4h0m0 8h0m0 5h0m1-163h0m0 30h0m0 27h0m0 5h0m0 5h0m0 1h0m0 4h0m0 4h0m0 1h0m0 2h0m0 5h0m0 5h0m0 9h0m0 5h0m0 3h0m0 11h0m0 1h0m0 24h0m0 1h0m0 25h0m1-242h0m0 85h0m0 11h0m0 9h0m0 50h0m0 3h0m0 3h0m0 9h0m0 3h0m0 2h0m0 10h0m0 2h0m0 8h0m0 8h0m0 21h0m0 18h0m0 13h0m1-273h0m0 90h0m0 22h0m0 8h0m0 6h0m0 5h0m0 12h0m0 3h0m0 2h0m0 1h0m0 5h0m0 1h0m0 1h0m0 18h0m0 7h0m0 3h0m0 9h0m0 4h0m0 2h0m0 3h0m0 11h0m0 5h0m0 2h0m0 4h0m0 2h0m0 2h0m0 11h0m0 5h0m0 9h0m1-309h0m0 100h0m0 40h0m0 25h0m0 30h0m0 21h0m0 8h0m0 2h0m0 4h0m0 1h0m0 4h0m0 10h0m0 7h0m0 19h0m0 7h0m0 45h0m0 8h0m1-272h0m0 98h0m0 14h0m0 1h0m0 2h0m0 9h0m0 1h0m0 4h0m0 20h0m0 10h0m0 1h0m0 5h0m0 8h0m0 3h0m0 2h0m0 6h0m0 18h0m0 3h0m0 1h0m0 7h0m0 7h0m0 4h0m0 11h0m0 4h0m1-355h0m0 64h0m0 69h0m0 32h0m0 73h0m0 15h0m0 6h0m0 6h0m0 10h0m0 7h0m0 1h0m0 5h0m0 3h0m0 3h0m0 1h0m0 14h0m0 9h0m0 28h0m0 9h0m0 28h0m1-226h0m0 18h0m0 40h0m0 1h0m0 4h0m0 23h0m0 4h0m0 5h0m0 7h0m0 14h0m0 16h0m0 1h0m0 9h0m0 2h0m0 3h0m0 1h0m0 7h0m0 5h0m0 6h0m0 4h0m0 17h0m0 28h0m1-255h0m0 55h0m0 28h0m0 10h0m0 28h0m0 2h0m0 2h0m0 3h0m0 14h0m0 5h0m0 5h0m0 2h0m0 10h0m0 5h0m0 11h0m0 3h0m0 2h0m0 2h0m0 6h0m0 4h0m0 5h0m0 2h0m0 5h0m0 5h0m0 9h0m0 4h0m0 1h0m1-307h0m0 50h0m0 111h0m0 9h0m0 18h0m0 11h0m0 1h0m0 6h0m0 3h0m0 1h0m0 15h0m0 8h0m0 3h0m0 1h0m0 18h0m0 2h0m0 3h0m0 4h0m0 7h0m0 1h0m0 8h0m0 16h0m0 3h0m0 11h0m1-265h0m0 74h0m0 35h0m0 28h0m0 12h0m0 33h0m0 2h0m0 3h0m0 8h0m0 2h0m0 13h0m0 4h0m0 2h0m0 3h0m0 23h0m0 12h0m1-248h0m0 55h0m0 6h0m0 41h0m0 15h0m0 8h0m0 1h0m0 10h0m0 12h0m0 3h0m0 2h0m0 9h0m0 4h0m0 28h0m0 2h0m0 29h0m0 1h0m0 3h0m0 7h0m0 5h0m0 15h0m0 1h0m0 18h0m1-383h0m0 135h0m0 35h0m0 36h0m0 12h0m0 2h0m0 13h0m0 11h0m0 36h0m0 9h0m0 4h0m0 9h0m0 8h0m0 9h0m0 9h0m0 2h0m0 37h0m0 1h0m0 9h0m0 21h0m1-200h0m0 10h0m0 19h0m0 25h0m0 3h0m0 19h0m0 9h0m0 12h0m0 5h0m0 8h0m0 4h0m0 5h0m0 19h0m0 23h0m0 1h0m0 13h0m0 8h0m0 6h0m1-207h0m0 32h0m0 11h0m0 17h0m0 9h0m0 13h0m0 1h0m0 2h0m0 10h0m0 12h0m0 6h0m0 9h0m0 7h0m0 5h0m0 8h0m0 6h0m0 24h0m0 8h0m0 22h0m1-573h0m0 326h0m0 62h0m0 11h0m0 28h0m0 10h0m0 7h0m0 5h0m0 1h0m0 1h0m0 6h0m0 7h0m0 20h0m0 9h0m0 1h0m0 4h0m0 2h0m0 4h0m0 1h0m0 1h0m0 23h0m0 3h0m0 10h0m0 22h0m0 21h0m1-196h0m0 8h0m0 13h0m0 2h0m0 23h0m0 1h0m0 2h0m0 4h0m0 1h0m0 1h0m0 5h0m0 7h0m0 18h0m0 1h0m0 6h0m0 9h0m0 8h0m0 8h0m0 2h0m0 6h0m0 3h0m0 2h0m0 7h0m0 13h0m0 4h0m0 13h0m0 7h0m1-271h0m0 3h0m0 49h0m0 18h0m0 1h0m0 29h0m0 6h0m0 39h0m0 10h0m0 8h0m0 2h0m0 16h0m0 4h0m0 9h0m0 3h0m0 5h0m0 1h0m0 4h0m0 7h0m0 21h0m0 6h0m0 2h0m0 5h0m0 4h0m0 26h0m0 4h0m0 14h0m1-258h0m0 3h0m0 88h0m0 3h0m0 10h0m0 6h0m0 5h0m0 1h0m0 6h0m0 12h0m0 6h0m0 10h0m0 2h0m0 4h0m0 15h0m0 6h0m0 14h0m0 16h0m0 1h0m1-168h0m0 44h0m0 15h0m0 13h0m0 1h0m0 17h0m0 2h0m0 5h0m0 7h0m0 5h0m0 2h0m0 1h0m0 1h0m0 3h0m0 7h0m0 1h0m0 3h0m0 11h0m0 22h0m0 8h0m0 3h0m0 30h0m1-234h0m0 3h0m0 4h0m0 24h0m0 6h0m0 14h0m0 12h0m0 3h0m0 15h0m0 6h0m0 3h0m0 3h0m0 11h0m0 5h0m0 4h0m0 4h0m0 5h0m0 4h0m0 7h0m0 9h0m0 4h0m0 7h0m0 10h0m0 12h0m0 11h0m0 34h0m0 1h0m0 24h0m1-253h0m0 14h0m0 33h0m0 24h0m0 9h0m0 4h0m0 10h0m0 3h0m0 1h0m0 11h0m0 4h0m0 15h0m0 1h0m0 7h0m0 2h0m0 2h0m0 7h0m0 4h0m0 4h0m0 13h0m0 14h0m0 3h0m0 6h0m0 3h0m0 5h0m0 5h0m0 17h0m0 9h0m1-408h0m0 149h0m0 14h0m0 14h0m0 27h0m0 12h0m0 24h0m0 1h0m0 1h0m0 3h0m0 15h0m0 2h0m0 9h0m0 3h0m0 1h0m0 23h0m0 4h0m0 11h0m0 4h0m0 3h0m0 42h0m0 11h0m0 33h0m1-223h0m0 11h0m0 23h0m0 19h0m0 8h0m0 4h0m0 36h0m0 5h0m0 19h0m0 8h0m0 10h0m0 3h0m0 8h0m0 23h0m0 4h0m0 12h0m0 6h0m0 1h0m0 6h0m1-294h0m0 38h0m0 7h0m0 2h0m0 41h0m0 1h0m0 31h0m0 12h0m0 6h0m0 4h0m0 43h0m0 5h0m0 1h0m0 1h0m0 1h0m0 43h0m0 15h0m0 38h0m1-295h0m0 79h0m0 15h0m0 10h0m0 2h0m0 2h0m0 59h0m0 9h0m0 5h0m0 5h0m0 6h0m0 10h0m0 4h0m0 3h0m0 1h0m0 25h0m0 13h0m0 9h0m0 4h0m0 3h0m0 7h0m0 4h0m0 1h0m0 3h0m0 1h0m0 10h0m0 6h0m0 1h0m0 40h0m0 23h0m1-316h0m0 1h0m0 36h0m0 48h0m0 3h0m0 68h0m0 14h0m0 2h0m0 1h0m0 8h0m0 13h0m0 20h0m0 3h0m0 2h0m0 19h0m1-288h0m0 48h0m0 14h0m0 54h0m0 11h0m0 19h0m0 7h0m0 7h0m0 14h0m0 9h0m0 5h0m0 10h0m0 15h0m0 5h0m0 2h0m0 18h0m0 5h0m0 6h0m0 4h0m0 1h0m0 6h0m0 13h0m0 1h0m0 12h0m1-284h0m0 13h0m0 79h0m0 25h0m0 5h0m0 10h0m0 4h0m0 70h0m0 1h0m0 5h0m0 5h0m0 9h0m0 16h0m0 17h0m0 1h0m0 4h0m0 12h0m0 8h0m0 17h0m0 2h0m0 7h0m0 17h0m0 12h0m0 9h0m1-351h0m0 8h0m0 33h0m0 28h0m0 25h0m0 57h0m0 19h0m0 8h0m0 4h0m0 16h0m0 2h0m0 13h0m0 6h0m0 18h0m0 4h0m0 8h0m0 1h0m0 3h0m0 13h0m0 2h0m0 11h0m0 2h0m0 37h0m1-344h0m0 82h0m0 24h0m0 4h0m0 6h0m0 13h0m0 38h0m0 7h0m0 5h0m0 3h0m0 14h0m0 22h0m0 35h0m0 2h0m0 18h0m0 3h0m0 9h0m0 10h0m0 10h0m0 10h0m0 4h0m0 47h0m1-327h0m0 27h0m0 26h0m0 12h0m0 17h0m0 3h0m0 47h0m0 2h0m0 2h0m0 8h0m0 9h0m0 3h0m0 8h0m0 10h0m0 5h0m0 7h0m0 5h0m0 10h0m0 20h0m0 8h0m0 21h0m0 29h0m1-290h0m0 58h0m0 50h0m0 8h0m0 21h0m0 12h0m0 28h0m0 9h0m0 5h0m0 2h0m0 8h0m0 1h0m0 2h0m0 3h0m0 8h0m0 14h0m0 4h0m0 17h0m0 2h0m0 24h0m0 6h0m0 37h0m0 4h0m1-362h0m0 66h0m0 18h0m0 25h0m0 92h0m0 4h0m0 1h0m0 2h0m0 7h0m0 39h0m0 7h0m0 53h0m0 4h0m0 6h0m0 4h0m0 31h0m1-466h0m0 127h0m0 102h0m0 10h0m0 30h0m0 30h0m0 8h0m0 10h0m0 3h0m0 15h0m0 11h0m0 12h0m0 10h0m0 3h0m0 3h0m0 7h0m0 18h0m0 8h0m0 2h0m0 1h0m0 2h0m0 18h0m0 18h0m0 24h0m1-364h0m0 112h0m0 13h0m0 23h0m0 3h0m0 25h0m0 49h0m0 8h0m0 1h0m0 10h0m0 4h0m0 27h0m0 11h0m0 13h0m0 11h0m0 16h0m0 3h0m0 12h0m0 9h0m0 4h0m0 17h0m0 10h0m0 7h0m1-332h0m0 41h0m0 53h0m0 2h0m0 11h0m0 9h0m0 11h0m0 6h0m0 9h0m0 13h0m0 23h0m0 5h0m0 5h0m0 5h0m0 5h0m0 8h0m0 2h0m0 12h0m0 15h0m0 7h0m0 16h0m0 14h0m0 14h0m0 16h0m0 7h0m0 4h0m1-288h0m0 23h0m0 14h0m0 13h0m0 7h0m0 10h0m0 9h0m0 4h0m0 58h0m0 10h0m0 4h0m0 9h0m0 12h0m0 1h0m0 2h0m0 14h0m0 6h0m0 24h0m0 12h0m0 1h0m0 25h0m0 5h0m1-543h0m0 228h0m0 50h0m0 8h0m0 13h0m0 80h0m0 10h0m0 7h0m0 43h0m0 26h0m0 17h0m0 3h0m0 20h0m0 1h0m0 60h0m1-405h0m0 117h0m0 23h0m0 20h0m0 10h0m0 14h0m0 23h0m0 9h0m0 3h0m0 5h0m0 7h0m0 49h0m0 8h0m0 1h0m0 3h0m0 10h0m0 22h0m0 1h0m0 53h0m1-168h0m0 13h0m0 2h0m0 2h0m0 25h0m0 4h0m0 37h0m0 11h0m0 12h0m0 9h0m0 2h0m0 9h0m0 35h0m0 11h0m0 12h0m0 4h0m1-335h0m0 9h0m0 53h0m0 6h0m0 54h0m0 4h0m0 18h0m0 12h0m0 6h0m0 2h0m0 7h0m0 20h0m0 20h0m0 4h0m0 14h0m0 2h0m0 2h0m0 8h0m0 16h0m0 56h0m0 9h0m0 10h0m0 8h0m1-379h0m0 131h0m0 12h0m0 51h0m0 4h0m0 23h0m0 8h0m0 34h0m0 6h0m0 13h0m0 4h0m0 26h0m0 21h0m0 2h0m0 43h0m1-373h0m0 29h0m0 71h0m0 19h0m0 9h0m0 39h0m0 6h0m0 8h0m0 2h0m0 39h0m0 2h0m0 3h0m0 23h0m0 1h0m0 22h0m0 67h0m1-310h0m0 5h0m0 40h0m0 35h0m0 6h0m0 50h0m0 35h0m0 16h0m0 9h0m0 3h0m0 6h0m0 12h0m0 6h0m0 13h0m0 13h0m0 24h0m0 2h0m0 4h0m0 26h0m0 2h0m0 9h0m1-323h0m0 100h0m0 18h0m0 11h0m0 7h0m0 15h0m0 6h0m0 7h0m0 6h0m0 23h0m0 9h0m0 15h0m0 30h0m0 1h0m0 7h0m0 6h0m0 27h0m0 22h0m0 14h0m0 30h0m1-517h0m0 53h0m0 31h0m0 1h0m0 46h0m0 8h0m0 42h0m0 46h0m0 28h0m0 20h0m0 23h0m0 22h0m0 6h0m0 1h0m0 11h0m0 2h0m0 17h0m0 31h0m0 7h0m0 10h0m0 12h0m0 2h0m0 5h0m0 4h0m0 10h0m0 16h0m0 51h0m1-445h0m0 47h0m0 3h0m0 63h0m0 5h0m0 25h0m0 30h0m0 14h0m0 37h0m0 13h0m0 17h0m0 38h0m0 20h0m0 12h0m0 7h0m0 2h0m0 14h0m0 1h0m0 3h0m0 9h0m0 11h0m0 23h0m0 4h0m0 18h0m1-412h0m0 54h0m0 67h0m0 22h0m0 48h0m0 17h0m0 9h0m0 1h0m0 42h0m0 5h0m0 2h0m0 10h0m0 4h0m0 6h0m0 16h0m0 29h0m0 10h0m0 7h0m0 10h0m0 20h0m0 29h0m0 41h0m1-512h0m0 183h0m0 9h0m0 22h0m0 32h0m0 39h0m0 27h0m0 4h0m0 3h0m0 5h0m0 14h0m0 20h0m0 3h0m0 7h0m0 6h0m0 3h0m0 31h0m0 3h0m0 1h0m0 2h0m0 4h0m0 6h0m0 1h0m0 6h0m0 8h0m0 14h0m0 13h0m1-356h0m0 9h0m0 42h0m0 16h0m0 3h0m0 30h0m0 31h0m0 13h0m0 7h0m0 10h0m0 39h0m0 1h0m0 2h0m0 24h0m0 47h0m0 5h0m0 5h0m0 3h0m0 9h0m0 9h0m0 12h0m0 8h0m1-240h0m0 6h0m0 19h0m0 31h0m0 27h0m0 38h0m0 13h0m0 1h0m0 1h0m0 14h0m0 11h0m0 40h0m0 29h0m0 6h0m0 9h0m0 2h0m0 2h0m0 7h0m1-303h0m0 24h0m0 12h0m0 59h0m0 32h0m0 12h0m0 3h0m0 3h0m0 3h0m0 2h0m0 6h0m0 2h0m0 27h0m0 22h0m0 9h0m0 29h0m0 1h0m0 11h0m0 3h0m0 18h0m0 40h0m0 17h0m0 13h0m0 38h0m1-502h0m0 73h0m0 15h0m0 1h0m0 16h0m0 5h0m0 28h0m0 30h0m0 23h0m0 56h0m0 12h0m0 19h0m0 15h0m0 20h0m0 2h0m0 10h0m0 1h0m0 28h0m0 5h0m0 1h0m0 1h0m0 6h0m0 4h0m0 1h0m0 2h0m0 4h0m0 27h0m1-460h0m0 72h0m0 147h0m0 12h0m0 8h0m0 14h0m0 3h0m0 23h0m0 4h0m0 32h0m0 39h0m0 20h0m0 4h0m0 8h0m0 10h0m0 5h0m0 2h0m0 20h0m0 26h0m0 17h0m0 8h0m0 33h0m1-457h0m0 150h0m0 48h0m0 1h0m0 34h0m0 11h0m0 2h0m0 10h0m0 21h0m0 8h0m0 4h0m0 43h0m0 33h0m0 2h0m0 1h0m0 6h0m0 37h0m0 9h0m0 1h0m1-393h0m0 74h0m0 76h0m0 2h0m0 16h0m0 36h0m0 2h0m0 21h0m0 3h0m0 17h0m0 2h0m0 8h0m0 5h0m0 39h0m0 9h0m0 5h0m0 3h0m0 25h0m0 2h0m0 14h0m0 2h0m0 22h0m0 14h0m0 84h0m1-317h0m0 18h0m0 12h0m0 18h0m0 13h0m0 11h0m0 25h0m0 33h0m0 10h0m0 6h0m0 8h0m0 1h0m0 16h0m0 5h0m0 55h0m0 3h0m0 3h0m0 7h0m1-329h0m0 123h0m0 57h0m0 1h0m0 7h0m0 15h0m0 18h0m0 22h0m0 27h0m0 43h0m0 13h0m1-258h0m0 16h0m0 14h0m0 11h0m0 1h0m0 22h0m0 11h0m0 2h0m0 2h0m0 6h0m0 3h0m0 1h0m0 5h0m0 69h0m0 7h0m0 23h0m0 9h0m0 1h0m0 23h0m0 55h0m0 24h0m1-443h0m0 43h0m0 71h0m0 1h0m0 26h0m0 1h0m0 15h0m0 16h0m0 49h0m0 14h0m0 6h0m0 24h0m0 4h0m0 7h0m0 10h0m0 16h0m0 12h0m0 1h0m0 8h0m0 55h0m0 3h0m0 13h0m1-503h0m0 198h0m0 54h0m0 4h0m0 7h0m0 26h0m0 4h0m0 17h0m0 4h0m0 2h0m0 2h0m0 46h0m0 8h0m0 1h0m0 10h0m0 1h0m0 5h0m0 22h0m0 7h0m0 1h0m0 27h0m0 16h0m0 18h0m0 6h0m1-370h0m0 20h0m0 24h0m0 96h0m0 15h0m0 10h0m0 52h0m0 35h0m0 5h0m0 22h0m0 11h0m0 19h0m0 5h0m0 2h0m0 1h0m0 2h0m0 20h0m0 12h0m0 44h0m0 43h0m0 14h0m1-545h0m0 103h0m0 80h0m0 71h0m0 5h0m0 4h0m0 9h0m0 1h0m0 10h0m0 6h0m0 43h0m0 1h0m0 4h0m0 6h0m0 16h0m0 5h0m0 22h0m0 11h0m0 8h0m0 2h0m0 5h0m0 33h0m0 8h0m0 22h0m0 3h0m0 38h0m0 44h0m1-585h0m0 91h0m0 108h0m0 70h0m0 20h0m0 8h0m0 1h0m0 7h0m0 22h0m0 21h0m0 17h0m0 30h0m0 5h0m0 118h0m0 4h0m1-535h0m0 20h0m0 112h0m0 74h0m0 46h0m0 61h0m0 8h0m0 7h0m0 6h0m0 13h0m0 2h0m0 17h0m0 9h0m0 10h0m0 3h0m0 10h0m0 7h0m0 14h0m0 16h0m0 16h0m0 18h0m0 6h0m0 73h0m0 23h0m1-434h0m0 88h0m0 7h0m0 23h0m0 16h0m0 24h0m0 21h0m0 4h0m0 8h0m0 8h0m0 2h0m0 2h0m0 13h0m0 21h0m0 42h0m0 3h0m0 4h0m0 2h0m0 1h0m0 15h0m0 22h0m0 12h0m0 9h0m0 57h0m0 12h0m0 8h0m1-915h0m0 430h0m0 37h0m0 64h0m0 61h0m0 3h0m0 41h0m0 19h0m0 17h0m0 9h0m0 15h0m0 22h0m0 4h0m0 2h0m0 8h0m0 24h0m0 24h0m0 13h0m0 5h0m0 18h0m0 7h0m0 4h0m0 2h0m0 15h0m0 19h0m1-491h0m0 109h0m0 48h0m0 9h0m0 14h0m0 112h0m0 2h0m0 5h0m0 2h0m0 11h0m0 8h0m0 26h0m0 1h0m0 3h0m0 19h0m0 10h0m0 14h0m0 6h0m0 22h0m0 13h0m0 5h0m0 17h0m0 5h0m0 3h0m0 30h0m1-912h0m0 188h0m0 84h0m0 99h0m0 154h0m0 8h0m0 39h0m0 15h0m0 48h0m0 30h0m0 20h0m0 34h0m0 19h0m0 12h0m0 2h0m0 25h0m0 23h0m0 2h0m0 11h0m0 11h0m0 22h0m0 18h0m0 5h0m0 25h0m0 2h0m1-510h0m0 213h0m0 67h0m0 12h0m0 7h0m0 34h0m0 9h0m0 22h0m0 24h0m0 3h0m0 26h0m0 28h0m0 5h0m0 5h0m0 6h0m0 3h0m0 15h0m0 53h0m0 2h0m0 55h0m1-528h0m0 198h0m0 15h0m0 10h0m0 45h0m0 15h0m0 9h0m0 23h0m0 44h0m0 11h0m0 4h0m0 5h0m0 10h0m0 4h0m0 1h0m0 5h0m0 7h0m0 47h0m0 66h0m1-533h0m0 77h0m0 5h0m0 50h0m0 39h0m0 91h0m0 3h0m0 2h0m0 1h0m0 21h0m0 73h0m0 16h0m0 29h0m0 9h0m0 4h0m0 9h0m0 10h0m0 57h0m0 5h0m1-484h0m0 148h0m0 77h0m0 75h0m0 17h0m0 1h0m0 7h0m0 14h0m0 8h0m0 6h0m0 15h0m0 24h0m0 11h0m0 6h0m0 42h0m0 3h0m0 13h0m0 5h0m0 2h0m0 7h0m0 18h0m1-547h0m0 60h0m0 58h0m0 114h0m0 25h0m0 26h0m0 1h0m0 12h0m0 3h0m0 38h0m0 21h0m0 19h0m0 4h0m0 7h0m0 17h0m0 6h0m0 33h0m0 25h0m0 4h0m0 9h0m0 15h0m0 16h0m0 6h0m0 48h0m1-1013h0m0 471h0m0 29h0m0 25h0m0 33h0m0 25h0m0 43h0m0 1h0m0 83h0m0 88h0m0 14h0m0 1h0m0 12h0m0 29h0m0 7h0m0 23h0m0 10h0m0 78h0m0 15h0m0 21h0m1-612h0m0 194h0m0 9h0m0 6h0m0 42h0m0 14h0m0 51h0m0 77h0m0 22h0m0 6h0m0 62h0m0 4h0m0 1h0m0 8h0m0 31h0m0 3h0m0 4h0m0 9h0m0 68h0m1-512h0m0 111h0m0 47h0m0 19h0m0 11h0m0 1h0m0 16h0m0 1h0m0 9h0m0 1h0m0 26h0m0 8h0m0 1h0m0 2h0m0 1h0m0 26h0m0 34h0m0 5h0m0 110h0m0 3h0m0 11h0m0 10h0m1-421h0m0 77h0m0 9h0m0 8h0m0 38h0m0 31h0m0 6h0m0 59h0m0 46h0m0 12h0m0 11h0m0 6h0m0 9h0m0 8h0m0 25h0m0 10h0m0 20h0m0 1h0m0 7h0m0 2h0m0 36h0m0 15h0m0 6h0m1-537h0m0 44h0m0 52h0m0 44h0m0 2h0m0 176h0m0 53h0m0 22h0m0 17h0m0 21h0m0 58h0m1-605h0m0 93h0m0 229h0m0 40h0m0 17h0m0 2h0m0 131h0m0 2h0m0 25h0m0 32h0m0 42h0m0 1h0m0 50h0m1-513h0m0 23h0m0 101h0m0 5h0m0 88h0m0 35h0m0 14h0m0 3h0m0 4h0m0 6h0m0 11h0m0 36h0m0 4h0m0 35h0m0 2h0m0 3h0m0 7h0m0 2h0m0 6h0m0 10h0m0 20h0m0 18h0m0 65h0m0 65h0m1-592h0m0 183h0m0 10h0m0 51h0m0 91h0m0 23h0m0 22h0m0 45h0m0 3h0m0 5h0m0 3h0m0 35h0m0 5h0m0 83h0m0 4h0m1-486h0m0 108h0m0 25h0m0 19h0m0 25h0m0 8h0m0 6h0m0 11h0m0 35h0m0 48h0m0 29h0m0 2h0m0 5h0m0 24h0m0 5h0m0 11h0m0 4h0m1-354h0m0 12h0m0 22h0m0 57h0m0 38h0m0 25h0m0 20h0m0 2h0m0 18h0m0 10h0m0 35h0m0 16h0m0 7h0m0 94h0m0 1h0m0 6h0m0 24h0m1-338h0m0 70h0m0 2h0m0 70h0m0 19h0m0 9h0m0 5h0m0 16h0m0 22h0m0 2h0m0 17h0m0 16h0m0 27h0m0 10h0m0 1h0m0 8h0m0 100h0m0 7h0m1-695h0m0 235h0m0 34h0m0 36h0m0 122h0m0 25h0m0 10h0m0 1h0m0 9h0m0 3h0m0 5h0m0 3h0m0 17h0m0 29h0m0 6h0m0 4h0m0 15h0m0 1h0m0 5h0m0 3h0m0 21h0m0 16h0m0 44h0m0 50h0m0 6h0m1-556h0m0 28h0m0 126h0m0 15h0m0 45h0m0 29h0m0 5h0m0 16h0m0 46h0m0 24h0m0 9h0m0 20h0m0 3h0m0 10h0m0 6h0m0 7h0m0 16h0m0 23h0m0 22h0m0 9h0m0 30h0m0 12h0m1-490h0m0 62h0m0 86h0m0 87h0m0 8h0m0 45h0m0 44h0m0 3h0m0 9h0m0 4h0m0 80h0m0 9h0m0 51h0m0 6h0m0 28h0m0 16h0m0 9h0m1-454h0m0 14h0m0 86h0m0 36h0m0 38h0m0 8h0m0 36h0m0 56h0m0 31h0m0 7h0m0 11h0m0 11h0m0 1h0m0 29h0m0 12h0m0 14h0m0 36h0m1-366h0m0 29h0m0 19h0m0 36h0m0 31h0m0 35h0m0 18h0m0 7h0m0 25h0m0 15h0m0 11h0m0 18h0m0 15h0m0 7h0m0 10h0m0 12h0m0 3h0m0 56h0m0 39h0m1-493h0m0 49h0m0 133h0m0 46h0m0 58h0m0 7h0m0 11h0m0 12h0m0 36h0m0 29h0m0 11h0m0 22h0m0 2h0m0 10h0m0 14h0m0 10h0m0 7h0m0 32h0m0 5h0m1-472h0m0 118h0m0 111h0m0 37h0m0 9h0m0 9h0m0 2h0m0 3h0m0 28h0m0 41h0m0 1h0m0 3h0m0 21h0m0 29h0m0 45h0m0 38h0m1-659h0m0 37h0m0 222h0m0 44h0m0 5h0m0 6h0m0 46h0m0 19h0m0 10h0m0 59h0m0 33h0m0 1h0m0 33h0m0 11h0m0 1h0m0 15h0m0 17h0m0 10h0m0 44h0m1-683h0m0 37h0m0 21h0m0 125h0m0 162h0m0 9h0m0 4h0m0 7h0m0 11h0m0 1h0m0 15h0m0 35h0m0 2h0m0 1h0m0 58h0m0 45h0m0 4h0m0 15h0m0 21h0m0 17h0m0 9h0m0 65h0m1-739h0m0 38h0m0 75h0m0 252h0m0 118h0m0 15h0m0 13h0m0 7h0m0 2h0m0 1h0m0 28h0m0 2h0m0 1h0m0 15h0m0 53h0m0 8h0m0 8h0m0 62h0m0 27h0m1-431h0m0 117h0m0 118h0m0 6h0m0 33h0m0 58h0m0 12h0m0 8h0m0 4h0m0 7h0m0 18h0m0 5h0m0 5h0m0 60h0m1-604h0m0 33h0m0 117h0m0 68h0m0 2h0m0 49h0m0 2h0m0 21h0m0 81h0m0 19h0m0 7h0m0 7h0m0 16h0m0 18h0m0 8h0m0 1h0m0 50h0m0 15h0m0 17h0m0 12h0m0 37h0m0 7h0m1-1286h0m0 882h0m0 5h0m0 24h0m0 78h0m0 18h0m0 43h0m0 9h0m0 34h0m0 46h0m0 2h0m0 4h0m0 26h0m0 17h0m0 7h0m0 5h0m0 10h0m0 4h0m0 1h0m0 10h0m0 29h0m1-818h0m0 89h0m0 2h0m0 93h0m0 80h0m0 140h0m0 86h0m0 34h0m0 38h0m0 12h0m0 7h0m0 56h0m0 47h0m0 14h0m0 36h0m0 62h0m0 25h0m1-699h0m0 276h0m0 4h0m0 40h0m0 16h0m0 39h0m0 60h0m0 96h0m0 33h0m0 17h0m0 11h0m0 9h0m0 10h0m0 14h0m0 43h0m0 19h0m0 30h0m0 27h0m0 16h0m1-465h0m0 71h0m0 9h0m0 2h0m0 52h0m0 50h0m0 30h0m0 12h0m0 74h0m0 37h0m0 7h0m0 1h0m0 12h0m0 15h0m0 41h0m0 20h0m0 43h0m1-507h0m0 57h0m0 3h0m0 142h0m0 4h0m0 3h0m0 10h0m0 10h0m0 2h0m0 18h0m0 16h0m0 4h0m0 15h0m0 27h0m0 13h0m0 7h0m0 26h0m0 50h0m0 2h0m0 8h0m0 57h0m0 18h0m1-615h0m0 34h0m0 4h0m0 52h0m0 26h0m0 174h0m0 33h0m0 10h0m0 15h0m0 1h0m0 14h0m0 19h0m0 29h0m0 13h0m0 36h0m0 11h0m0 6h0m0 15h0m0 15h0m0 6h0m0 25h0m0 27h0m0 1h0m1-653h0m0 48h0m0 160h0m0 2h0m0 149h0m0 14h0m0 11h0m0 44h0m0 5h0m0 41h0m0 6h0m0 46h0m0 16h0m0 10h0m0 59h0m0 54h0m0 6h0m0 100h0m1-609h0m0 53h0m0 66h0m0 52h0m0 8h0m0 12h0m0 8h0m0 21h0m0 33h0m0 20h0m0 13h0m0 13h0m0 2h0m0 19h0m0 10h0m0 14h0m0 10h0m0 9h0m0 6h0m0 4h0m0 35h0m0 43h0m0 12h0m1-378h0m0 24h0m0 20h0m0 17h0m0 7h0m0 53h0m0 6h0m0 49h0m0 63h0m0 62h0m0 25h0m0 56h0m0 13h0m0 2h0m0 1h0m0 1h0m0 14h0m0 12h0m0 56h0m1-563h0m0 9h0m0 156h0m0 12h0m0 49h0m0 18h0m0 2h0m0 5h0m0 37h0m0 44h0m0 27h0m0 14h0m0 3h0m0 32h0m0 23h0m0 4h0m0 115h0m1-692h0m0 182h0m0 107h0m0 44h0m0 12h0m0 4h0m0 58h0m0 60h0m0 29h0m0 47h0m0 2h0m0 16h0m0 7h0m0 148h0m1-524h0m0 44h0m0 1h0m0 179h0m0 18h0m0 11h0m0 11h0m0 42h0m0 15h0m0 96h0m0 43h0m0 16h0m0 19h0m0 11h0m1-624h0m0 126h0m0 110h0m0 15h0m0 12h0m0 33h0m0 26h0m0 99h0m0 26h0m0 16h0m0 34h0m0 20h0m0 2h0m0 15h0m0 13h0m0 18h0m1-499h0m0 97h0m0 37h0m0 5h0m0 22h0m0 9h0m0 24h0m0 5h0m0 42h0m0 24h0m0 40h0m0 52h0m0 9h0m0 141h0m0 32h0m1-937h0m0 372h0m0 36h0m0 135h0m0 9h0m0 75h0m0 25h0m0 34h0m0 21h0m0 14h0m0 47h0m0 41h0m0 5h0m0 22h0m0 9h0m0 26h0m0 17h0m0 1h0m0 12h0m1-723h0m0 333h0m0 42h0m0 6h0m0 13h0m0 59h0m0 46h0m0 18h0m0 1h0m0 3h0m0 43h0m0 72h0m0 23h0m0 32h0m0 34h0m0 89h0m1-641h0m0 8h0m0 53h0m0 248h0m0 27h0m0 52h0m0 14h0m0 10h0m0 93h0m0 8h0m1-972h0m0 432h0m0 64h0m0 100h0m0 25h0m0 20h0m0 91h0m0 32h0m0 15h0m0 82h0m0 19h0m0 11h0m0 17h0m0 42h0m0 6h0m0 8h0m0 34h0m0 6h0m0 51h0m0 7h0m1-748h0m0 213h0m0 216h0m0 12h0m0 25h0m0 2h0m0 50h0m0 45h0m0 12h0m0 8h0m0 23h0m0 25h0m0 6h0m0 14h0m0 58h0m0 15h0m0 38h0m1-691h0m0 304h0m0 7h0m0 13h0m0 12h0m0 26h0m0 24h0m0 56h0m0 11h0m0 14h0m0 41h0m0 8h0m0 20h0m0 3h0m0 11h0m0 51h0m0 9h0m0 7h0m1-349h0m0 28h0m0 3h0m0 110h0m0 28h0m0 16h0m0 43h0m0 33h0m0 121h0m1-768h0m0 407h0m0 49h0m0 35h0m0 69h0m0 11h0m0 1h0m0 31h0m0 40h0m0 4h0m0 56h0m0 39h0m0 3h0m0 3h0m1-478h0m0 31h0m0 52h0m0 15h0m0 28h0m0 15h0m0 14h0m0 36h0m0 59h0m0 14h0m0 1h0m0 1h0m0 9h0m0 20h0m0 28h0m0 3h0m0 86h0m0 11h0m0 55h0m0 3h0m1-476h0m0 9h0m0 5h0m0 2h0m0 12h0m0 7h0m0 85h0m0 17h0m0 20h0m0 16h0m0 39h0m0 34h0m0 1h0m0 4h0m0 50h0m0 23h0m0 28h0m0 3h0m0 83h0m0 5h0m0 17h0m0 33h0m0 83h0m0 2h0m1-778h0m0 65h0m0 87h0m0 108h0m0 13h0m0 22h0m0 42h0m0 24h0m0 16h0m0 15h0m0 2h0m0 5h0m0 25h0m0 3h0m0 6h0m0 1h0m0 12h0m0 5h0m0 38h0m0 8h0m0 4h0m0 4h0m0 9h0m0 17h0m0 29h0m0 10h0m0 17h0m0 47h0m0 21h0m0 19h0m0 23h0m0 50h0m1-588h0m0 27h0m0 26h0m0 105h0m0 38h0m0 73h0m0 9h0m0 3h0m0 1h0m0 5h0m0 11h0m0 12h0m0 1h0m0 56h0m0 29h0m0 24h0m0 9h0m0 19h0m0 2h0m0 12h0m1-387h0m0 19h0m0 44h0m0 22h0m0 15h0m0 43h0m0 1h0m0 42h0m0 34h0m0 2h0m0 8h0m0 19h0m0 4h0m0 8h0m0 64h0m0 1h0m0 51h0m0 32h0m1-668h0m0 232h0m0 181h0m0 2h0m0 15h0m0 25h0m0 2h0m0 62h0m0 14h0m0 61h0m0 13h0m0 34h0m0 63h0m1-941h0m0 148h0m0 209h0m0 134h0m0 97h0m0 4h0m0 4h0m0 27h0m0 58h0m0 39h0m0 34h0m0 26h0m0 35h0m0 2h0m0 38h0m0 58h0m0 13h0m0 18h0m1-602h0m0 188h0m0 148h0m0 12h0m0 33h0m0 14h0m0 19h0m0 79h0m0 19h0m0 74h0m0 13h0m0 87h0m1-576h0m0 180h0m0 3h0m0 95h0m0 37h0m0 71h0m0 18h0m0 5h0m0 2h0m0 22h0m0 5h0m0 21h0m1-424h0m0 23h0m0 12h0m0 51h0m0 17h0m0 2h0m0 48h0m0 78h0m0 63h0m0 72h0m0 111h0m0 22h0m1-889h0m0 262h0m0 19h0m0 139h0m0 8h0m0 39h0m0 50h0m0 65h0m0 18h0m0 18h0m0 59h0m0 5h0m0 111h0m1-651h0m0 164h0m0 76h0m0 42h0m0 20h0m0 6h0m0 5h0m0 12h0m0 38h0m0 6h0m0 46h0m0 7h0m0 22h0m0 7h0m0 22h0m0 51h0m0 5h0m0 23h0m0 17h0m0 24h0m0 13h0m0 3h0m0 7h0m0 20h0m0 52h0m1-679h0m0 3h0m0 191h0m0 6h0m0 35h0m0 52h0m0 83h0m0 74h0m0 14h0m0 28h0m0 13h0m0 1h0m0 21h0m0 2h0m0 32h0m0 13h0m0 9h0m0 33h0m0 22h0m0 19h0m0 53h0m0 42h0m1-493h0m0 37h0m0 39h0m0 2h0m0 1h0m0 9h0m0 23h0m0 16h0m0 78h0m0 67h0m0 4h0m0 26h0m0 16h0m0 27h0m0 99h0m1-576h0m0 74h0m0 57h0m0 8h0m0 20h0m0 43h0m0 18h0m0 4h0m0 21h0m0 18h0m0 56h0m0 29h0m0 13h0m0 18h0m0 69h0m0 10h0m0 1h0m0 2h0m0 12h0m0 72h0m0 13h0m0 44h0m0 16h0m1-817h0m0 182h0m0 270h0m0 22h0m0 26h0m0 85h0m0 10h0m0 78h0m0 32h0m0 24h0m1-459h0m0 4h0m0 50h0m0 9h0m0 33h0m0 51h0m0 43h0m0 48h0m0 128h0m0 45h0m0 22h0m0 41h0m0 39h0m1-611h0m0 81h0m0 32h0m0 41h0m0 4h0m0 57h0m0 101h0m0 27h0m0 1h0m0 7h0m0 35h0m0 11h0m0 13h0m0 1h0m0 5h0m0 9h0m0 2h0m0 38h0m0 3h0m0 53h0m0 25h0m0 83h0m1-797h0m0 20h0m0 118h0m0 187h0m0 25h0m0 10h0m0 70h0m0 54h0m0 8h0m0 4h0m0 3h0m0 15h0m0 14h0m0 3h0m0 11h0m0 116h0m0 30h0m0 82h0m0 50h0m0 28h0m1-579h0m0 41h0m0 116h0m0 6h0m0 65h0m0 33h0m0 15h0m0 2h0m0 27h0m0 11h0m0 11h0m0 40h0m0 3h0m0 59h0m0 9h0m0 58h0m0 67h0m1-816h0m0 13h0m0 60h0m0 28h0m0 144h0m0 18h0m0 12h0m0 40h0m0 39h0m0 102h0m0 7h0m0 4h0m0 38h0m0 2h0m0 11h0m0 53h0m0 41h0m0 34h0m0 54h0m0 25h0m0 41h0m0 27h0m1-601h0m0 33h0m0 26h0m0 5h0m0 102h0m0 16h0m0 10h0m0 32h0m0 38h0m0 8h0m0 33h0m0 83h0m0 44h0m0 2h0m0 2h0m0 79h0m0 55h0m0 58h0m1-761h0m0 115h0m0 4h0m0 39h0m0 134h0m0 1h0m0 11h0m0 122h0m0 90h0m0 8h0m0 1h0m0 3h0m0 42h0m0 31h0m0 8h0m0 61h0m1-407h0m0 11h0m0 6h0m0 10h0m0 13h0m0 22h0m0 159h0m0 2h0m0 104h0m0 4h0m0 1h0m0 5h0m0 38h0m0 98h0m1-780h0m0 281h0m0 94h0m0 26h0m0 38h0m0 16h0m0 32h0m0 23h0m0 91h0m0 44h0m0 129h0m1-640h0m0 123h0m0 34h0m0 128h0m0 31h0m0 15h0m0 6h0m0 3h0m0 12h0m0 44h0m0 54h0m0 14h0m0 49h0m0 45h0m0 99h0m1-806h0m0 67h0m0 185h0m0 28h0m0 60h0m0 50h0m0 33h0m0 15h0m0 30h0m0 7h0m0 21h0m0 89h0m0 20h0m0 3h0m0 22h0m0 13h0m0 10h0m0 13h0m0 15h0m0 52h0m0 40h0m1-714h0m0 78h0m0 184h0m0 13h0m0 34h0m0 30h0m0 32h0m0 53h0m0 38h0m0 54h0m0 274h0m1-701h0m0 137h0m0 7h0m0 7h0m0 15h0m0 24h0m0 165h0m0 5h0m0 76h0m0 15h0m0 61h0m0 7h0m0 76h0m1-563h0m0 145h0m0 72h0m0 4h0m0 2h0m0 16h0m0 38h0m0 9h0m0 50h0m0 44h0m0 4h0m0 5h0m0 2h0m0 49h0m0 5h0m1-408h0m0 133h0m0 20h0m0 22h0m0 21h0m0 71h0m0 15h0m0 13h0m0 27h0m0 9h0m0 125h0m0 9h0m0 74h0m0 20h0m0 35h0m0 16h0m1-540h0m0 160h0m0 86h0m0 31h0m0 20h0m0 29h0m0 9h0m0 12h0m0 28h0m0 86h0m1-601h0m0 62h0m0 243h0m0 8h0m0 13h0m0 11h0m0 24h0m0 34h0m0 2h0m0 39h0m0 19h0m0 82h0m0 22h0m0 45h0m0 70h0m1-893h0m0 259h0m0 23h0m0 26h0m0 117h0m0 21h0m0 131h0m0 53h0m0 47h0m0 61h0m0 70h0m0 6h0m1-856h0m0 26h0m0 103h0m0 72h0m0 64h0m0 91h0m0 158h0m0 6h0m0 3h0m0 49h0m0 13h0m0 12h0m0 81h0m0 24h0m0 4h0m0 19h0m0 40h0m0 4h0m0 27h0m0 39h0m0 71h0m1-937h0m0 299h0m0 187h0m0 41h0m0 90h0m0 10h0m0 12h0m0 22h0m0 16h0m0 19h0m0 16h0m0 5h0m0 40h0m0 2h0m0 27h0m0 65h0m0 61h0m0 44h0m1-623h0m0 66h0m0 9h0m0 71h0m0 8h0m0 4h0m0 103h0m0 20h0m0 14h0m0 113h0m0 3h0m0 11h0m0 30h0m0 2h0m0 78h0m0 6h0m0 76h0m1-598h0m0 34h0m0 71h0m0 28h0m0 43h0m0 58h0m0 9h0m0 45h0m0 50h0m0 70h0m0 88h0m0 16h0m0 13h0m0 19h0m1-1269h0m0 385h0m0 41h0m0 19h0m0 9h0m0 12h0m0 301h0m0 99h0m0 10h0m0 42h0m0 67h0m0 51h0m0 63h0m0 64h0m0 2h0m0 8h0m0 24h0m1-867h0m0 6h0m0 387h0m0 46h0m0 22h0m0 100h0m0 86h0m0 8h0m0 36h0m0 6h0m0 17h0m0 49h0m0 77h0m0 38h0m0 25h0m1-638h0m0 4h0m0 3h0m0 127h0m0 102h0m0 44h0m0 31h0m0 10h0m0 33h0m0 22h0m0 3h0m0 83h0m0 7h0m0 35h0m0 38h0m0 138h0m1-620h0m0 91h0m0 8h0m0 18h0m0 38h0m0 10h0m0 32h0m0 129h0m0 2h0m0 5h0m0 31h0m0 19h0m0 100h0m0 27h0m0 115h0m1-546h0m0 9h0m0 90h0m0 38h0m0 116h0m0 6h0m0 72h0m0 29h0m0 3h0m0 51h0m0 34h0m0 11h0m0 70h0m1-641h0m0 240h0m0 10h0m0 51h0m0 13h0m0 3h0m0 12h0m0 17h0m0 22h0m0 37h0m0 67h0m0 118h0m1-491h0m0 165h0m0 41h0m0 17h0m0 30h0m0 3h0m0 99h0m0 39h0m0 4h0m0 13h0m0 42h0m0 3h0m0 77h0m0 32h0m1-1215h0m0 458h0m0 61h0m0 141h0m0 6h0m0 28h0m0 38h0m0 167h0m0 13h0m0 6h0m0 14h0m0 61h0m0 77h0m0 11h0m0 27h0m0 47h0m1-814h0m0 63h0m0 414h0m0 56h0m0 32h0m0 71h0m0 33h0m0 80h0m0 98h0m1-412h0m0 61h0m0 119h0m0 30h0m0 186h0m0 46h0m0 43h0m1-1066h0m0 330h0m0 208h0m0 40h0m0 43h0m0 20h0m0 25h0m0 29h0m0 75h0m0 36h0m0 32h0m0 20h0m0 202h0m0 9h0m1-1062h0m0 353h0m0 248h0m0 39h0m0 32h0m0 24h0m0 118h0m0 35h0m0 3h0m0 59h0m0 101h0m1-1078h0m0 449h0m0 9h0m0 86h0m0 68h0m0 23h0m0 7h0m0 54h0m0 15h0m0 1h0m0 3h0m0 28h0m0 29h0m0 23h0m0 27h0m0 1h0m0 4h0m0 14h0m0 52h0m0 38h0m0 35h0m0 172h0m1-803h0m0 225h0m0 87h0m0 20h0m0 45h0m0 12h0m0 31h0m0 55h0m0 41h0m0 14h0m0 11h0m0 1h0m0 24h0m0 81h0m1-571h0m0 278h0m0 7h0m0 46h0m0 68h0m0 114h0m0 43h0m0 67h0m0 33h0m0 28h0m1-496h0m0 115h0m0 3h0m0 40h0m0 34h0m0 38h0m0 5h0m0 56h0m0 52h0m0 18h0m0 67h0m0 52h0m1-852h0m0 219h0m0 46h0m0 247h0m0 46h0m0 47h0m0 4h0m0 7h0m0 64h0m0 30h0m1-628h0m0 156h0m0 9h0m0 15h0m0 67h0m0 39h0m0 306h0m0 7h0m0 22h0m0 17h0m0 27h0m0 3h0m1-541h0m0 151h0m0 20h0m0 48h0m0 39h0m0 49h0m0 24h0m0 96h0m0 53h0m0 68h0m1-838h0m0 180h0m0 207h0m0 120h0m0 80h0m0 94h0m0 57h0m0 25h0m0 32h0m0 11h0m0 178h0m1-1488h0m0 773h0m0 196h0m0 80h0m0 112h0m0 199h0m0 77h0m0 5h0m1-523h0m0 148h0m0 13h0m0 38h0m0 2h0m0 21h0m0 16h0m0 26h0m0 53h0m0 2h0m0 72h0m1-402h0m0 107h0m0 34h0m0 31h0m0 19h0m0 60h0m0 8h0m0 51h0m0 6h0m0 239h0m1-704h0m0 34h0m0 207h0m0 37h0m0 114h0m0 12h0m0 6h0m0 35h0m0 5h0m0 20h0m0 2h0m0 32h0m0 65h0m0 93h0m1-614h0m0 91h0m0 20h0m0 18h0m0 13h0m0 22h0m0 73h0m0 17h0m0 71h0m0 30h0m0 19h0m0 25h0m0 20h0m0 7h0m0 33h0m0 34h0m0 80h0m0 39h0m1-675h0m0 98h0m0 69h0m0 73h0m0 88h0m0 14h0m0 28h0m0 27h0m0 40h0m0 20h0m0 2h0m0 37h0m0 193h0m0 9h0m1-570h0m0 85h0m0 84h0m0 7h0m0 2h0m0 254h0m0 34h0m0 97h0m1-738h0m0 47h0m0 29h0m0 285h0m0 53h0m0 62h0m0 14h0m0 21h0m0 2h0m0 27h0m0 131h0m0 8h0m0 44h0m1-546h0m0 12h0m0 2h0m0 37h0m0 13h0m0 103h0m0 62h0m0 35h0m0 211h0m0 55h0m0 18h0m1-601h0m0 36h0m0 19h0m0 11h0m0 48h0m0 59h0m0 48h0m0 91h0m0 14h0m0 28h0m0 18h0m0 2h0m0 153h0m0 27h0m1-656h0m0 67h0m0 67h0m0 26h0m0 12h0m0 7h0m0 9h0m0 111h0m0 69h0m0 25h0m0 26h0m0 76h0m0 11h0m0 206h0m1-861h0m0 173h0m0 90h0m0 81h0m0 19h0m0 64h0m0 8h0m0 97h0m0 2h0m0 18h0m0 10h0m0 133h0m0 14h0m0 12h0m0 120h0m1-392h0m0 27h0m0 6h0m0 7h0m0 31h0m0 21h0m0 72h0m0 20h0m0 37h0m0 23h0m0 7h0m0 14h0m0 162h0m1-570h0m0 25h0m0 79h0m0 84h0m0 8h0m0 83h0m0 23h0m0 5h0m0 43h0m0 15h0m0 13h0m0 231h0m1-1205h0m0 65h0m0 100h0m0 104h0m0 38h0m0 101h0m0 197h0m0 13h0m0 166h0m0 146h0m0 36h0m0 31h0m0 12h0m0 63h0m0 10h0m1-890h0m0 12h0m0 177h0m0 454h0m0 2h0m0 24h0m0 12h0m0 53h0m0 91h0m0 103h0m1-1183h0m0 162h0m0 374h0m0 19h0m0 6h0m0 68h0m0 38h0m0 82h0m0 45h0m0 9h0m0 18h0m0 2h0m0 30h0m0 32h0m0 190h0m1-558h0m0 52h0m0 121h0m0 31h0m0 24h0m0 21h0m0 65h0m0 25h0m0 18h0m0 31h0m0 9h0m0 38h0m0 56h0m0 21h0m0 17h0m0 31h0m0 12h0m0 10h0m0 72h0m0 70h0m1-1096h0m0 557h0m0 42h0m0 18h0m0 163h0m0 50h0m0 52h0m0 65h0m0 130h0m1-1242h0m0 642h0m0 94h0m0 28h0m0 77h0m0 17h0m0 11h0m0 14h0m0 11h0m0 51h0m0 12h0m0 22h0m0 10h0m0 3h0m0 33h0m0 14h0m0 83h0m0 104h0m0 24h0m1-844h0m0 145h0m0 100h0m0 185h0m0 75h0m0 34h0m0 34h0m0 45h0m0 63h0m0 174h0m1-811h0m0 91h0m0 93h0m0 29h0m0 36h0m0 120h0m0 35h0m0 6h0m0 14h0m0 27h0m0 91h0m0 5h0m0 26h0m0 10h0m0 17h0m0 21h0m0 36h0m0 36h0m1-676h0m0 58h0m0 246h0m0 36h0m0 12h0m0 46h0m0 38h0m0 26h0m0 7h0m0 70h0m0 81h0m1-986h0m0 554h0m0 25h0m0 4h0m0 149h0m0 22h0m0 50h0m0 12h0m0 40h0m0 23h0m0 44h0m0 154h0m0 99h0m1-843h0m0 301h0m0 41h0m0 87h0m0 41h0m0 101h0m0 62h0m0 5h0m0 10h0m0 109h0m1-584h0m0 175h0m0 55h0m0 14h0m0 20h0m0 30h0m0 128h0m0 44h0m0 76h0m1-963h0m0 189h0m0 94h0m0 143h0m0 4h0m0 22h0m0 37h0m0 83h0m0 99h0m0 114h0m0 21h0m0 37h0m0 8h0m0 10h0m0 13h0m0 27h0m0 66h0m1-1003h0m0 183h0m0 124h0m0 72h0m0 133h0m0 18h0m0 102h0m0 11h0m0 56h0m0 39h0m0 162h0m0 9h0m0 72h0m1-961h0m0 341h0m0 88h0m0 16h0m0 40h0m0 87h0m0 7h0m0 4h0m0 74h0m0 107h0m0 14h0m0 13h0m0 40h0m0 11h0m0 11h0m1-205h0m0 17h0m0 31h0m0 43h0m0 8h0m0 9h0m0 54h0m0 20h0m0 11h0m0 4h0m0 8h0m0 31h0m0 5h0m0 33h0m0 74h0m1-724h0m0 65h0m0 1h0m0 36h0m0 20h0m0 63h0m0 85h0m0 11h0m0 71h0m0 14h0m0 89h0m0 13h0m0 47h0m0 36h0m0 125h0m0 44h0m0 6h0m1-1140h0m0 717h0m0 100h0m0 1h0m0 18h0m0 57h0m0 38h0m0 17h0m0 56h0m0 21h0m0 16h0m1-828h0m0 371h0m0 90h0m0 222h0m0 156h0m0 6h0m0 140h0m1-640h0m0 73h0m0 216h0m0 43h0m0 59h0m0 35h0m0 51h0m0 5h0m0 129h0m1-689h0m0 309h0m0 60h0m0 32h0m0 7h0m0 15h0m0 31h0m0 4h0m0 3h0m1-406h0m0 82h0m0 51h0m0 6h0m0 5h0m0 274h0m0 8h0m0 171h0m1-769h0m0 201h0m0 80h0m0 18h0m0 82h0m0 85h0m0 71h0m0 76h0m0 53h0m0 73h0m0 101h0m1-722h0m0 19h0m0 80h0m0 136h0m0 34h0m0 35h0m0 35h0m0 5h0m0 8h0m0 92h0m0 1h0m0 14h0m0 40h0m1-1130h0m0 769h0m0 21h0m0 122h0m0 137h0m0 66h0m0 6h0m0 20h0m0 152h0m0 45h0m0 9h0m0 47h0m0 23h0m1-1377h0m0 401h0m0 200h0m0 54h0m0 51h0m0 42h0m0 151h0m0 32h0m0 17h0m0 49h0m0 38h0m0 45h0m0 85h0m0 42h0m0 32h0m0 43h0m1-994h0m0 334h0m0 85h0m0 51h0m0 7h0m0 58h0m0 152h0m0 51h0m0 40h0m0 59h0m0 55h0m0 52h0m1-1344h0m0 593h0m0 451h0m0 83h0m0 47h0m0 84h0m1-812h0m0 294h0m0 76h0m0 210h0m0 34h0m0 4h0m0 23h0m0 4h0m0 52h0m0 94h0m0 68h0m0 26h0m1-720h0m0 187h0m0 6h0m0 3h0m0 77h0m0 20h0m0 8h0m0 111h0m0 64h0m0 27h0m0 21h0m0 89h0m0 46h0m1-999h0m0 339h0m0 178h0m0 15h0m0 91h0m0 262h0m0 48h0m0 62h0m0 63h0m1-495h0m0 5h0m0 254h0m0 9h0m0 27h0m0 101h0m0 190h0m1-845h0m0 339h0m0 269h0m0 4h0m0 106h0m0 23h0m1-279h0m0 57h0m0 2h0m0 23h0m0 13h0m0 34h0m0 117h0m0 13h0m0 164h0m1-656h0m0 68h0m0 11h0m0 10h0m0 58h0m0 230h0m0 21h0m0 68h0m0 2h0m1-1255h0m0 756h0m0 122h0m0 116h0m0 28h0m0 124h0m0 10h0m0 50h0m1-432h0m0 220h0m0 57h0m0 43h0m0 194h0m0 156h0m1-833h0m0 86h0m0 313h0m0 12h0m0 123h0m0 20h0m1-929h0m0 616h0m0 7h0m0 47h0m0 172h0m0 114h0m0 34h0m0 57h0m0 6h0m0 155h0m0 8h0m1-1387h0m0 615h0m0 94h0m0 176h0m0 29h0m0 215h0m0 43h0m0 171h0m1-1344h0m0 878h0m0 126h0m0 7h0m0 188h0m0 18h0m0 44h0m1-1122h0m0 454h0m0 121h0m0 183h0m0 16h0m0 7h0m0 56h0m0 116h0m0 8h0m0 46h0m0 24h0m0 64h0m0 118h0m1-811h0m0 37h0m0 124h0m0 125h0m0 117h0m0 149h0m0 119h0m0 81h0m1-1171h0m0 106h0m0 405h0m0 45h0m0 250h0m0 129h0m0 74h0m0 14h0m0 139h0m1-735h0m0 77h0m0 104h0m0 222h0m0 32h0m0 29h0m0 216h0m0 163h0m1-894h0m0 153h0m0 24h0m0 9h0m0 50h0m0 8h0m0 159h0m0 105h0m0 218h0m0 51h0m0 71h0m1-722h0m0 21h0m0 82h0m0 32h0m0 31h0m0 83h0m0 68h0m0 39h0m0 96h0m0 62h0m0 13h0m0 5h0m0 44h0m0 46h0m0 151h0m1-898h0m0 264h0m0 29h0m0 252h0m0 32h0m0 12h0m0 38h0m0 96h0m0 4h0m1-684h0m0 155h0m0 26h0m0 17h0m0 360h0m0 212h0m1-685h0m0 27h0m0 59h0m0 159h0m0 31h0m0 180h0m0 17h0m0 21h0m0 150h0m0 77h0m1-816h0m0 137h0m0 79h0m0 105h0m0 93h0m0 12h0m0 27h0m0 59h0m0 85h0m0 82h0m0 20h0m0 119h0m1-1135h0m0 488h0m0 207h0m0 49h0m0 113h0m0 105h0m0 120h0m1-894h0m0 393h0m0 16h0m0 25h0m0 33h0m0 4h0m0 141h0m0 19h0m1-374h0m0 301h0m0 108h0m0 18h0m0 13h0m0 20h0m0 80h0m0 96h0m1-911h0m0 145h0m0 230h0m0 152h0m0 14h0m0 65h0m0 87h0m0 31h0m0 45h0m0 50h0m0 223h0m1-584h0m0 28h0m0 205h0m0 24h0m0 11h0m0 118h0m0 1h0m0 45h0m0 12h0m1-901h0m0 266h0m0 107h0m0 47h0m0 43h0m0 13h0m0 118h0m0 50h0m0 83h0m0 84h0m1-582h0m0 76h0m0 100h0m0 434h0m0 34h0m1-1064h0m0 82h0m0 465h0m0 22h0m0 199h0m0 47h0m0 67h0m0 24h0m0 201h0m1-935h0m0 288h0m0 166h0m0 50h0m0 23h0m0 9h0m0 65h0m0 77h0m0 26h0m0 30h0m0 115h0m0 168h0m1-639h0m0 5h0m0 155h0m0 198h0m0 52h0m0 52h0m1-417h0m0 41h0m0 29h0m0 10h0m0 175h0m0 30h0m0 125h0m0 46h0m0 58h0m1-749h0m0 190h0m0 143h0m0 156h0m0 52h0m0 4h0m0 7h0m0 59h0m0 103h0m0 42h0m1-575h0m0 67h0m0 24h0m0 76h0m0 123h0m0 73h0m0 24h0m0 168h0m0 137h0m1-1262h0m0 232h0m0 181h0m0 16h0m0 80h0m0 163h0m0 77h0m0 134h0m0 21h0m0 30h0m0 13h0m0 83h0m0 49h0m0 101h0m0 6h0m1-1113h0m0 322h0m0 159h0m0 12h0m0 21h0m0 29h0m0 75h0m0 43h0m0 144h0m0 126h0m0 29h0m0 114h0m1-711h0m0 4h0m0 101h0m0 64h0m0 100h0m0 84h0m0 13h0m0 3h0m0 18h0m0 73h0m0 43h0m0 6h0m0 43h0m0 19h0m0 9h0m1-537h0m0 209h0m0 39h0m0 7h0m0 7h0m0 25h0m0 34h0m0 104h0m0 40h0m0 50h0m1-568h0m0 2h0m0 163h0m0 32h0m0 6h0m0 6h0m0 76h0m0 175h0m0 14h0m0 34h0m0 31h0m0 40h0m0 1h0m0 51h0m1-560h0m0 149h0m0 39h0m0 91h0m0 148h0m0 25h0m0 20h0m0 35h0m1-434h0m0 30h0m0 95h0m0 7h0m0 117h0m0 36h0m0 40h0m0 20h0m1-812h0m0 86h0m0 522h0m0 236h0m1-1049h0m0 272h0m0 33h0m0 28h0m0 440h0m0 26h0m0 30h0m0 32h0m0 31h0m0 64h0m0 23h0m0 8h0m1-705h0m0 282h0m0 227h0m0 217h0m1-1128h0m0 617h0m0 39h0m0 5h0m0 115h0m0 26h0m0 180h0m0 91h0m0 64h0m0 39h0m0 146h0m0 19h0m1-888h0m0 289h0m0 30h0m0 56h0m0 91h0m0 295h0m0 8h0m0 32h0m0 15h0m0 51h0m1-834h0m0 98h0m0 241h0m0 6h0m0 6h0m0 55h0m0 104h0m0 278h0m0 45h0m1-811h0m0 34h0m0 193h0m0 90h0m0 68h0m0 120h0m0 4h0m0 45h0m0 250h0m0 38h0m1-589h0m0 63h0m0 115h0m0 159h0m0 196h0m1-935h0m0 433h0m0 27h0m0 226h0m0 47h0m0 77h0m0 205h0m0 17h0m0 2h0m1-1060h0m0 613h0m0 28h0m0 18h0m0 5h0m0 9h0m0 165h0m0 55h0m1-703h0m0 361h0m0 179h0m0 25h0m0 14h0m0 26h0m0 147h0m0 15h0m1-850h0m0 172h0m0 120h0m0 130h0m0 59h0m0 75h0m0 40h0m0 111h0m0 31h0m0 35h0m1-781h0m0 47h0m0 167h0m0 54h0m0 126h0m0 20h0m0 37h0m0 1h0m0 160h0m0 166h0m0 75h0m1-799h0m0 103h0m0 161h0m0 159h0m0 211h0m0 315h0m1-1005h0m0 238h0m0 157h0m0 63h0m0 55h0m0 3h0m0 86h0m0 84h0m0 110h0m1-771h0m0 347h0m0 81h0m0 154h0m0 2h0m0 159h0m0 168h0m0 45h0m1-660h0m0 67h0m0 38h0m0 157h0m0 97h0m0 37h0m0 84h0m1-770h0m0 37h0m0 218h0m0 97h0m0 72h0m0 189h0m0 55h0m0 48h0m0 32h0m1-637h0m0 39h0m0 231h0m0 85h0m0 117h0m0 31h0m0 23h0m0 69h0m0 142h0m1-290h0m0 20h0m0 147h0m0 31h0m0 69h0m1-911h0m0 171h0m0 163h0m0 5h0m0 70h0m0 33h0m0 423h0m1-1197h0m0 620h0m0 60h0m0 89h0m0 600h0m0 31h0m1-959h0m0 183h0m0 3h0m0 60h0m0 141h0m0 62h0m0 93h0m0 254h0m0 35h0m0 2h0m0 101h0m1-540h0m0 3h0m0 114h0m0 47h0m0 74h0m0 32h0m0 15h0m0 142h0m0 62h0m1-853h0m0 22h0m0 226h0m0 88h0m0 305h0m0 21h0m0 25h0m0 6h0m1-980h0m0 339h0m0 382h0m0 24h0m0 131h0m0 46h0m0 9h0m0 100h0m0 20h0m0 149h0m1-932h0m0 217h0m0 336h0m0 5h0m0 43h0m0 38h0m0 49h0m0 117h0m1-500h0m0 139h0m0 32h0m0 74h0m0 85h0m0 8h0m0 32h0m0 109h0m0 7h0m0 61h0m1-521h0m0 181h0m0 140h0m0 109h0m1-302h0m0 33h0m0 140h0m0 39h0m0 113h0m1-805h0m0 173h0m0 38h0m0 1h0m0 93h0m0 48h0m0 106h0m0 51h0m0 110h0m0 84h0m0 3h0m0 19h0m0 15h0m1-960h0m0 307h0m0 173h0m0 123h0m0 80h0m0 27h0m0 136h0m0 28h0m0 2h0m0 50h0m0 37h0m1-726h0m0 125h0m0 35h0m0 4h0m0 309h0m0 60h0m0 32h0m0 175h0m1-732h0m0 107h0m0 45h0m0 24h0m0 143h0m0 32h0m0 33h0m0 76h0m0 278h0m0 22h0m1-699h0m0 45h0m0 122h0m0 45h0m0 7h0m0 57h0m0 4h0m0 128h0m0 116h0m0 7h0m0 2h0m0 40h0m0 52h0m0 81h0m0 139h0m1-1151h0m0 252h0m0 48h0m0 22h0m0 120h0m0 70h0m0 61h0m0 109h0m0 20h0m0 170h0m0 10h0m0 63h0m0 21h0m0 5h0m0 107h0m1-1024h0m0 22h0m0 809h0m1-595h0m0 38h0m0 27h0m0 133h0m0 6h0m0 150h0m0 13h0m0 190h0m0 226h0m0 85h0m1-1041h0m0 167h0m0 84h0m0 86h0m0 258h0m0 72h0m0 139h0m1-490h0m0 33h0m0 163h0m0 100h0m0 195h0m0 158h0m0 14h0m0 33h0m1-1002h0m0 396h0m0 78h0m0 197h0m0 12h0m0 5h0m0 16h0m0 3h0m0 105h0m0 223h0m1-652h0m0 44h0m0 430h0m0 17h0m1-1124h0m0 337h0m0 3h0m0 3h0m0 37h0m0 115h0m0 37h0m0 333h0m0 318h0m0 59h0m1-1349h0m0 662h0m0 221h0m0 62h0m0 25h0m0 26h0m0 94h0m0 222h0m1-1008h0m0 290h0m0 279h0m0 17h0m0 15h0m0 228h0m1-429h0m0 65h0m0 63h0m0 177h0m0 18h0m0 89h0m0 269h0m1-1075h0m0 299h0m0 62h0m0 8h0m0 135h0m0 93h0m0 30h0m0 103h0m0 42h0m0 24h0m0 33h0m0 98h0m0 70h0m0 63h0m1-1133h0m0 300h0m0 90h0m0 98h0m0 318h0m0 31h0m0 26h0m0 38h0m0 16h0m0 63h0m0 134h0m1-589h0m0 137h0m0 150h0m0 28h0m0 43h0m0 77h0m1-929h0m0 19h0m0 333h0m0 18h0m0 40h0m0 45h0m0 44h0m0 64h0m0 29h0m0 7h0m0 49h0m0 38h0m0 6h0m0 113h0m0 40h0m0 17h0m1-611h0m0 407h0m0 146h0m0 300h0m1-1102h0m0 455h0m0 243h0m0 118h0m0 164h0m1-1063h0m0 234h0m0 200h0m0 24h0m0 115h0m0 44h0m0 58h0m0 92h0m0 49h0m0 6h0m0 39h0m0 79h0m0 111h0m0 100h0m1-1040h0m0 164h0m0 199h0m0 32h0m0 16h0m0 41h0m0 98h0m0 34h0m0 351h0m0 22h0m0 65h0m0 50h0m1-988h0m0 359h0m0 48h0m0 2h0m0 248h0m0 85h0m0 56h0m0 6h0m1-1147h0m0 356h0m0 40h0m0 280h0m0 13h0m0 4h0m0 205h0m0 20h0m0 457h0m1-645h0m0 81h0m0 83h0m0 49h0m0 13h0m0 54h0m0 30h0m0 33h0m0 11h0m1-433h0m0 128h0m0 86h0m0 1h0m0 112h0m0 230h0m0 129h0m1-1054h0m0 343h0m0 151h0m0 45h0m0 50h0m0 58h0m0 55h0m0 67h0m0 46h0m0 60h0m0 98h0m1-435h0m3 479h0m5-5h0m2 28h0m2-30h0m0 77h0m56-77h0"/>
<path stroke="#222" stroke-width=".9" fill="none" stroke-dasharray="3 1.6 .9 1.6" d="M827 21.8V324M902.6 21.8V324M683.4 290.8H1046.2"/>
<rect x="683.4" y="21.8" width="362.8" height="302.2" fill="none" stroke="#6e6e6e" stroke-width="1.2"/>
<path stroke="#555" stroke-width=".8" d="M735.6 324v2.6M800.2 324v2.6M864.8 324v2.6M929.4 324v2.6M994 324v2.6M683.4 310.1h-2.6M683.4 236.9h-2.6M683.4 163.6h-2.6M683.4 90.4h-2.6"/>
<text x="735.6" y="338.9" font-size="13" text-anchor="middle" fill="#4d4d4d">-2</text>
<text x="800.2" y="338.9" font-size="13" text-anchor="middle" fill="#4d4d4d">-1</text>
<text x="864.8" y="338.9" font-size="13" text-anchor="middle" fill="#4d4d4d">0</text>
<text x="929.4" y="338.9" font-size="13" text-anchor="middle" fill="#4d4d4d">1</text>
<text x="994" y="338.9" font-size="13" text-anchor="middle" fill="#4d4d4d">2</text>
<text x="679.6" y="314.8" font-size="13" text-anchor="end" fill="#4d4d4d">0</text>
<text x="679.6" y="241.55" font-size="13" text-anchor="end" fill="#4d4d4d">5</text>
<text x="679.6" y="168.3" font-size="13" text-anchor="end" fill="#4d4d4d">10</text>
<text x="679.6" y="95.05" font-size="13" text-anchor="end" fill="#4d4d4d">15</text>
<text x="863.7" y="354.5" font-size="13.8" text-anchor="middle" fill="#333" textLength="40" lengthAdjust="spacingAndGlyphs">logFC</text>
<text transform="translate(658.2,173) rotate(-90)" font-size="13.6" text-anchor="middle" fill="#333" textLength="98" lengthAdjust="spacingAndGlyphs">-log10(P.Value)</text>
<path stroke="#999" stroke-width=".7" fill="none" d="M1014.5 143.6L1007 154.3M977.6 156.2L974.4 169.5M1016.3 200.8L1011 193.9M988.3 225.1L925.5 222.4M967.4 231.8L949.5 235.3M998.7 249.2L948.2 243M957.5 265.2L944.2 252.6M948.2 285.3L912.1 259.9"/>
<rect x="998.7" y="132.4" width="40.9" height="11.2" rx="2" fill="#fff" stroke="#8c8c8c" stroke-width="1"/><text x="1019.15" y="141.3" font-size="9.3" text-anchor="middle" font-weight="bold" fill="#111" textLength="35.9" lengthAdjust="spacingAndGlyphs">HOXA5</text>
<rect x="961.5" y="145" width="41.5" height="11.2" rx="2" fill="#fff" stroke="#8c8c8c" stroke-width="1"/><text x="982.25" y="153.9" font-size="9.3" text-anchor="middle" font-weight="bold" fill="#111" textLength="35.9" lengthAdjust="spacingAndGlyphs">HOXB5</text>
<rect x="998.7" y="157" width="40.9" height="10.9" rx="2" fill="#fff" stroke="#8c8c8c" stroke-width="1"/><text x="1019.15" y="165.75" font-size="9.3" text-anchor="middle" font-weight="bold" fill="#111" textLength="35.9" lengthAdjust="spacingAndGlyphs">HOXB3</text>
<rect x="978.4" y="178.9" width="41.4" height="10.9" rx="2" fill="#fff" stroke="#8c8c8c" stroke-width="1"/><text x="999.1" y="187.65" font-size="9.3" text-anchor="middle" font-weight="bold" fill="#111" textLength="35.9" lengthAdjust="spacingAndGlyphs">HOXA6</text>
<rect x="998.7" y="200.8" width="40.9" height="11" rx="2" fill="#fff" stroke="#8c8c8c" stroke-width="1"/><text x="1019.15" y="209.6" font-size="9.3" text-anchor="middle" font-weight="bold" fill="#111" textLength="35.9" lengthAdjust="spacingAndGlyphs">HOXA9</text>
<rect x="987" y="219.8" width="49.4" height="11.5" rx="2" fill="#fff" stroke="#8c8c8c" stroke-width="1"/><text x="1011.7" y="228.85" font-size="9.3" text-anchor="middle" font-weight="bold" fill="#111" textLength="40.9" lengthAdjust="spacingAndGlyphs">TOM1L1</text>
<rect x="967.4" y="225.2" width="24.1" height="11.8" rx="2" fill="#fff" stroke="#8c8c8c" stroke-width="1"/><text x="979.45" y="234.4" font-size="9.3" text-anchor="middle" font-weight="bold" fill="#111" textLength="19.1" lengthAdjust="spacingAndGlyphs">PF4</text>
<rect x="998.7" y="244.6" width="40.9" height="11.3" rx="2" fill="#fff" stroke="#8c8c8c" stroke-width="1"/><text x="1019.15" y="253.55" font-size="9.3" text-anchor="middle" font-weight="bold" fill="#111" textLength="35.9" lengthAdjust="spacingAndGlyphs">LAMB2</text>
<rect x="956.2" y="264.4" width="38.8" height="11.5" rx="2" fill="#fff" stroke="#8c8c8c" stroke-width="1"/><text x="975.6" y="273.45" font-size="9.3" text-anchor="middle" font-weight="bold" fill="#111" textLength="33" lengthAdjust="spacingAndGlyphs">KRT18</text>
<rect x="946" y="284.7" width="36.4" height="11.3" rx="2" fill="#fff" stroke="#8c8c8c" stroke-width="1"/><text x="964.2" y="293.65" font-size="9.3" text-anchor="middle" font-weight="bold" fill="#111" textLength="28.9" lengthAdjust="spacingAndGlyphs">AGXT</text>
<rect x="723.4" y="167.7" width="45.6" height="11.5" rx="2" fill="#fff" stroke="#8c8c8c" stroke-width="1"/><text x="746.2" y="176.75" font-size="9.3" text-anchor="middle" font-weight="bold" fill="#111" textLength="40.5" lengthAdjust="spacingAndGlyphs">POU4F1</text>
<rect x="726" y="189" width="49" height="11.3" rx="2" fill="#fff" stroke="#8c8c8c" stroke-width="1"/><text x="750.5" y="197.95" font-size="9.3" text-anchor="middle" font-weight="bold" fill="#111" textLength="41.7" lengthAdjust="spacingAndGlyphs">VPREB1</text>
<rect x="703.6" y="203.5" width="35.3" height="11" rx="2" fill="#fff" stroke="#8c8c8c" stroke-width="1"/><text x="721.25" y="212.3" font-size="9.3" text-anchor="middle" font-weight="bold" fill="#111" textLength="28.9" lengthAdjust="spacingAndGlyphs">HBG2</text>
<text x="711.6" y="39.3" font-size="11.4" font-weight="bold" fill="#111" textLength="38.7" lengthAdjust="spacingAndGlyphs">DOWN</text>
<text x="711.6" y="54.5" font-size="11.4" font-weight="bold" fill="#111" textLength="57" lengthAdjust="spacingAndGlyphs">454 genes</text>
<text x="962.8" y="39.3" font-size="11.4" font-weight="bold" fill="#111" textLength="16.5" lengthAdjust="spacingAndGlyphs">UP</text>
<text x="962.8" y="54.5" font-size="11.4" font-weight="bold" fill="#111" textLength="57" lengthAdjust="spacingAndGlyphs">818 genes</text>
<circle cx="1059.3" cy="150.4" r="4.8" fill="#f41414"/><circle cx="1059.3" cy="165.2" r="4.8" fill="#3f6fd8"/>
<text x="1070.2" y="154.4" font-size="11.3" fill="#333">UP</text>
<text x="1070.2" y="169.2" font-size="11.3" fill="#333" textLength="37.5" lengthAdjust="spacingAndGlyphs">DOWN</text>
<path stroke="#ececec" stroke-width="1" fill="none" d="M305.5 615H442.3M305.5 628.7H442.3M305.5 642.4H442.3M305.5 656H442.3M305.5 669.7H442.3M305.5 683.4H442.3M305.5 697.1H442.3M305.5 710.8H442.3M305.5 724.4H442.3M305.5 738.1H442.3M305.5 751.8H442.3M305.5 765.5H442.3M305.5 779.2H442.3M305.5 792.8H442.3M305.5 806.5H442.3M305.5 820.2H442.3M305.5 833.9H442.3M305.5 847.6H442.3M305.5 861.2H442.3M305.5 874.9H442.3M306.2 606.8V883.1M322.6 606.8V883.1M339 606.8V883.1M355.4 606.8V883.1M371.8 606.8V883.1M388.2 606.8V883.1M404.6 606.8V883.1M421 606.8V883.1M437.4 606.8V883.1"/>
<g fill="#4d4d4d">
<text x="299.8" y="619.2" font-size="10.2" text-anchor="end" textLength="212.1" lengthAdjust="spacingAndGlyphs">HALLMARK_TNFA_SIGNALING_VIA_NFKB</text>
<text x="299.8" y="632.88" font-size="10.2" text-anchor="end" textLength="138.6" lengthAdjust="spacingAndGlyphs">HALLMARK_COMPLEMENT</text>
<text x="299.8" y="646.56" font-size="10.2" text-anchor="end" textLength="212.1" lengthAdjust="spacingAndGlyphs">HALLMARK_INFLAMMATORY_RESPONSE</text>
<text x="299.8" y="660.24" font-size="10.2" text-anchor="end" textLength="244" lengthAdjust="spacingAndGlyphs">HALLMARK_INTERFERON_GAMMA_RESPONSE</text>
<text x="299.8" y="673.92" font-size="10.2" text-anchor="end" textLength="124.8" lengthAdjust="spacingAndGlyphs">HALLMARK_APOPTOSIS</text>
<text x="299.8" y="687.6" font-size="10.2" text-anchor="end" textLength="205.2" lengthAdjust="spacingAndGlyphs">HALLMARK_IL6_JAK_STAT3_SIGNALING</text>
<text x="299.8" y="701.28" font-size="10.2" text-anchor="end" textLength="110.8" lengthAdjust="spacingAndGlyphs">HALLMARK_HYPOXIA</text>
<text x="299.8" y="714.96" font-size="10.2" text-anchor="end" textLength="140.2" lengthAdjust="spacingAndGlyphs">HALLMARK_COAGULATION</text>
<text x="299.8" y="728.64" font-size="10.2" text-anchor="end" textLength="193.1" lengthAdjust="spacingAndGlyphs">HALLMARK_ALLOGRAFT_REJECTION</text>
<text x="299.8" y="742.32" font-size="10.2" text-anchor="end" textLength="138.2" lengthAdjust="spacingAndGlyphs">HALLMARK_P53_PATHWAY</text>
<text x="299.8" y="756" font-size="10.2" text-anchor="end" textLength="226.1" lengthAdjust="spacingAndGlyphs">HALLMARK_CHOLESTEROL_HOMEOSTASIS</text>
<text x="299.8" y="769.68" font-size="10.2" text-anchor="end" textLength="282.5" lengthAdjust="spacingAndGlyphs">HALLMARK_EPITHELIAL_MESENCHYMAL_TRANSITION</text>
<text x="299.8" y="783.36" font-size="10.2" text-anchor="end" textLength="177.1" lengthAdjust="spacingAndGlyphs">HALLMARK_KRAS_SIGNALING_UP</text>
<text x="299.8" y="797.04" font-size="10.2" text-anchor="end" textLength="165.3" lengthAdjust="spacingAndGlyphs">HALLMARK_NOTCH_SIGNALING</text>
<text x="299.8" y="810.72" font-size="10.2" text-anchor="end" textLength="179.7" lengthAdjust="spacingAndGlyphs">HALLMARK_IL2_STAT5_SIGNALING</text>
<text x="299.8" y="824.4" font-size="10.2" text-anchor="end" textLength="164.1" lengthAdjust="spacingAndGlyphs">HALLMARK_UV_RESPONSE_UP</text>
<text x="299.8" y="838.08" font-size="10.2" text-anchor="end" textLength="164.7" lengthAdjust="spacingAndGlyphs">HALLMARK_UV_RESPONSE_DN</text>
<text x="299.8" y="851.76" font-size="10.2" text-anchor="end" textLength="143.9" lengthAdjust="spacingAndGlyphs">HALLMARK_ADIPOGENESIS</text>
<text x="299.8" y="865.44" font-size="10.2" text-anchor="end" textLength="161.5" lengthAdjust="spacingAndGlyphs">HALLMARK_MYC_TARGETS_V1</text>
<text x="299.8" y="879.12" font-size="10.2" text-anchor="end" textLength="169.2" lengthAdjust="spacingAndGlyphs">HALLMARK_HEME_METABOLISM</text>
</g>
<circle cx="436" cy="615" r="7.68" fill="#ff0008"/>
<circle cx="426.9" cy="628.7" r="6.66" fill="#ff0008"/>
<circle cx="424.9" cy="642.4" r="6.4" fill="#ff0008"/>
<circle cx="424" cy="656" r="7.17" fill="#ff0008"/>
<circle cx="417.2" cy="669.7" r="5.38" fill="#ff0008"/>
<circle cx="417.2" cy="683.4" r="4.61" fill="#ff0008"/>
<circle cx="414.3" cy="697.1" r="6.15" fill="#ff0008"/>
<circle cx="414.3" cy="710.8" r="5.64" fill="#ff0008"/>
<circle cx="413.3" cy="724.4" r="5.38" fill="#ff0008"/>
<circle cx="412.8" cy="738.1" r="5.64" fill="#ff0008"/>
<circle cx="412.4" cy="751.8" r="3.33" fill="#d0038a"/>
<circle cx="412.4" cy="765.5" r="5.89" fill="#ff0008"/>
<circle cx="411.9" cy="779.2" r="5.12" fill="#ff0008"/>
<circle cx="411.4" cy="792.8" r="1.54" fill="#1a1aff"/>
<circle cx="410.4" cy="806.5" r="6.66" fill="#e80058"/>
<circle cx="409.5" cy="820.2" r="5.64" fill="#bc0ba6"/>
<circle cx="409.5" cy="833.9" r="5.38" fill="#9f1ac5"/>
<circle cx="409" cy="847.6" r="6.4" fill="#d9027a"/>
<circle cx="335" cy="861.2" r="5.89" fill="#cc0492"/>
<circle cx="311.3" cy="874.9" r="6.4" fill="#ff0008"/>
<text x="306.4" y="896.2" font-size="9.6" text-anchor="middle" fill="#4d4d4d">-4</text>
<text x="339.3" y="896.2" font-size="9.6" text-anchor="middle" fill="#4d4d4d">-2</text>
<text x="371.8" y="896.2" font-size="9.6" text-anchor="middle" fill="#4d4d4d">0</text>
<text x="404.6" y="896.2" font-size="9.6" text-anchor="middle" fill="#4d4d4d">2</text>
<text x="437.4" y="896.2" font-size="9.6" text-anchor="middle" fill="#4d4d4d">4</text>
<text x="373.5" y="911.2" font-size="11.2" text-anchor="middle" fill="#111" textLength="190.6" lengthAdjust="spacingAndGlyphs">Normalized Enrichment Score (NES)</text>
<text x="373.5" y="598.2" font-size="14.4" text-anchor="middle" font-weight="bold" textLength="233.8" lengthAdjust="spacingAndGlyphs">Hallmark Gene Sets Enrichment</text>
<defs><linearGradient id="lgc" x1="0" y1="0" x2="0" y2="1"><stop offset="0.000" stop-color="#ff0008"/><stop offset="0.143" stop-color="#f2003c"/><stop offset="0.286" stop-color="#e2006a"/><stop offset="0.429" stop-color="#cc0492"/><stop offset="0.571" stop-color="#b210b4"/><stop offset="0.714" stop-color="#9220d0"/><stop offset="0.857" stop-color="#6a28e6"/><stop offset="1.000" stop-color="#1a1aff"/></linearGradient></defs>
<text x="460" y="656.3" font-size="11" fill="#111" textLength="77.7" lengthAdjust="spacingAndGlyphs">-log10(p-value)</text>
<rect x="460" y="663" width="18.6" height="88.3" fill="url(#lgc)"/>
<text x="485.5" y="666.6" font-size="9.2" fill="#222">10</text>
<text x="485.5" y="691.2" font-size="9.2" fill="#222">9</text>
<text x="485.5" y="715.8" font-size="9.2" fill="#222">8</text>
<text x="485.5" y="740.4" font-size="9.2" fill="#222">7</text>
<path stroke="#fff" stroke-width=".6" d="M460 663.6h3.7M478.6 663.6h-3.7M460 688.2h3.7M478.6 688.2h-3.7M460 712.8h3.7M478.6 712.8h-3.7M460 737.4h3.7M478.6 737.4h-3.7"/>
<text x="460" y="783.8" font-size="11" fill="#111" textLength="30.8" lengthAdjust="spacingAndGlyphs">Count</text>
<circle cx="469.3" cy="799.6" r="3.6" fill="#000"/>
<text x="485.5" y="802.6" font-size="9.2" fill="#222">30</text>
<circle cx="469.3" cy="817.8" r="5.3" fill="#000"/>
<text x="485.5" y="820.8" font-size="9.2" fill="#222">60</text>
<circle cx="469.3" cy="835.4" r="6.5" fill="#000"/>
<text x="485.5" y="838.4" font-size="9.2" fill="#222">90</text>
<path stroke="#ececec" stroke-width="1" fill="none" d="M353.9 980.8H440.6M353.9 994.1H440.6M353.9 1007.4H440.6M353.9 1020.6H440.6M353.9 1033.9H440.6M353.9 1047.2H440.6M353.9 1060.5H440.6M353.9 1073.8H440.6M353.9 1087H440.6M353.9 1100.3H440.6M353.9 1113.6H440.6M353.9 1126.9H440.6M353.9 1140.2H440.6M353.9 1153.4H440.6M353.9 1166.7H440.6M353.9 1180H440.6M353.9 1193.3H440.6M353.9 1206.6H440.6M353.9 1219.8H440.6M353.9 1233.1H440.6M359 972.8V1241.1M370.6 972.8V1241.1M382.3 972.8V1241.1M394 972.8V1241.1M405.7 972.8V1241.1M417.4 972.8V1241.1M429 972.8V1241.1"/>
<g fill="#4d4d4d">
<text x="348.4" y="984.5" font-size="9.66" text-anchor="end" textLength="203.1" lengthAdjust="spacingAndGlyphs">VERHAAK_AML_WITH_NPM1_MUTATED_UP</text>
<text x="348.4" y="997.78" font-size="9.66" text-anchor="end" textLength="171.1" lengthAdjust="spacingAndGlyphs">MULLIGHAN_MLL_SIGNATURE_1_UP</text>
<text x="348.4" y="1011.06" font-size="9.66" text-anchor="end" textLength="171.1" lengthAdjust="spacingAndGlyphs">MULLIGHAN_MLL_SIGNATURE_2_UP</text>
<text x="348.4" y="1024.34" font-size="9.66" text-anchor="end" textLength="228.5" lengthAdjust="spacingAndGlyphs">RUTELLA_RESPONSE_TO_CSF2RB_AND_IL4_DN</text>
<text x="348.4" y="1037.62" font-size="9.66" text-anchor="end" textLength="207" lengthAdjust="spacingAndGlyphs">VERHAAK_GLIOBLASTOMA_MESENCHYMAL</text>
<text x="348.4" y="1050.9" font-size="9.66" text-anchor="end" textLength="120.8" lengthAdjust="spacingAndGlyphs">JIANG_MELANOMA_TRM4</text>
<text x="348.4" y="1064.18" font-size="9.66" text-anchor="end" textLength="211.7" lengthAdjust="spacingAndGlyphs">ALCALAY_AML_BY_NPM1_LOCALIZATION_UP</text>
<text x="348.4" y="1077.46" font-size="9.66" text-anchor="end" textLength="272" lengthAdjust="spacingAndGlyphs">RUTELLA_RESPONSE_TO_HGF_VS_CSF2RB_AND_IL4_UP</text>
<text x="348.4" y="1090.74" font-size="9.66" text-anchor="end" textLength="162.5" lengthAdjust="spacingAndGlyphs">MCLACHLAN_DENTAL_CARIES_UP</text>
<text x="348.4" y="1104.02" font-size="9.66" text-anchor="end" textLength="286.7" lengthAdjust="spacingAndGlyphs">FULCHER_INFLAMMATORY_RESPONSE_LECTIN_VS_LPS_DN</text>
<text x="348.4" y="1117.3" font-size="9.66" text-anchor="end" textLength="212.9" lengthAdjust="spacingAndGlyphs">HESS_TARGETS_OF_HOXA9_AND_MEIS1_DN</text>
<text x="348.4" y="1130.58" font-size="9.66" text-anchor="end" textLength="201.7" lengthAdjust="spacingAndGlyphs">HAHTOLA_MYCOSIS_FUNGOIDES_CD4_UP</text>
<text x="348.4" y="1143.86" font-size="9.66" text-anchor="end" textLength="322.1" lengthAdjust="spacingAndGlyphs">ALTEMEIER_RESPONSE_TO_LPS_WITH_MECHANICAL_VENTILATION</text>
<text x="348.4" y="1157.14" font-size="9.66" text-anchor="end" textLength="166.2" lengthAdjust="spacingAndGlyphs">RUTELLA_RESPONSE_TO_HGF_DN</text>
<text x="348.4" y="1170.42" font-size="9.66" text-anchor="end" textLength="221.3" lengthAdjust="spacingAndGlyphs">LENAOUR_DENDRITIC_CELL_MATURATION_DN</text>
<text x="348.4" y="1183.7" font-size="9.66" text-anchor="end" textLength="328.5" lengthAdjust="spacingAndGlyphs">TONKS_TARGETS_OF_RUNX1_RUNX1T1_FUSION_ERYTHROCYTE_UP</text>
<text x="348.4" y="1196.98" font-size="9.66" text-anchor="end" textLength="155.1" lengthAdjust="spacingAndGlyphs">ROSS_AML_WITH_MLL_FUSIONS</text>
<text x="348.4" y="1210.26" font-size="9.66" text-anchor="end" textLength="128.6" lengthAdjust="spacingAndGlyphs">PHONG_TNF_TARGETS_UP</text>
<text x="348.4" y="1223.54" font-size="9.66" text-anchor="end" textLength="212.2" lengthAdjust="spacingAndGlyphs">ALCALAY_AML_BY_NPM1_LOCALIZATION_DN</text>
<text x="348.4" y="1236.82" font-size="9.66" text-anchor="end" textLength="203.6" lengthAdjust="spacingAndGlyphs">VERHAAK_AML_WITH_NPM1_MUTATED_DN</text>
</g>
<clipPath id="cpd"><rect x="353.9" y="972.8" width="86.7" height="268.3"/></clipPath><g clip-path="url(#cpd)" fill="#c8008a">
<circle cx="436" cy="980.8" r="6.54"/>
<circle cx="431.9" cy="994.1" r="6.95"/>
<circle cx="431.9" cy="1007.4" r="7.22"/>
<circle cx="431.3" cy="1020.6" r="6.68"/>
<circle cx="429.5" cy="1033.9" r="5.03"/>
<circle cx="429.5" cy="1047.2" r="4.76"/>
<circle cx="429.5" cy="1060.5" r="4.21"/>
<circle cx="428.7" cy="1073.8" r="7.22"/>
<circle cx="428.7" cy="1087" r="5.85"/>
<circle cx="427.4" cy="1100.3" r="7.22"/>
<circle cx="427.9" cy="1113.6" r="3.11"/>
<circle cx="427.9" cy="1126.9" r="2.84"/>
<circle cx="427.7" cy="1140.2" r="3.11"/>
<circle cx="427.4" cy="1153.4" r="5.58"/>
<circle cx="426.9" cy="1166.7" r="3.94"/>
<circle cx="427.2" cy="1180" r="4.76"/>
<circle cx="426.6" cy="1193.3" r="3.11"/>
<circle cx="426.4" cy="1206.6" r="1.47"/>
<circle cx="359.8" cy="1219.8" r="4.21"/>
<circle cx="357.7" cy="1233.1" r="5.31"/>
</g>
<text x="370.5" y="1254.8" font-size="9.6" text-anchor="middle" fill="#4d4d4d">-2.5</text>
<text x="394" y="1254.8" font-size="9.6" text-anchor="middle" fill="#4d4d4d">0.0</text>
<text x="417.3" y="1254.8" font-size="9.6" text-anchor="middle" fill="#4d4d4d">2.5</text>
<text x="397" y="1269.6" font-size="11.2" text-anchor="middle" fill="#111" textLength="190.6" lengthAdjust="spacingAndGlyphs">Normalized Enrichment Score (NES)</text>
<text x="397.3" y="962.6" font-size="14.4" text-anchor="middle" font-weight="bold" textLength="198" lengthAdjust="spacingAndGlyphs">CGP Gene Sets Enrichment</text>
<text x="458" y="999.8" font-size="11" fill="#111" textLength="72.4" lengthAdjust="spacingAndGlyphs">-log10(pvalue)</text>
<rect x="458" y="1007" width="18.7" height="97" fill="#c8008a"/>
<path stroke="#fff" stroke-width=".6" opacity=".7" d="M458 1056.4h3.7M476.7 1056.4h-3.7"/>
<text x="482.6" y="1059.6" font-size="9.2" fill="#222">10</text>
<text x="458" y="1139.4" font-size="11" fill="#111" textLength="30.8" lengthAdjust="spacingAndGlyphs">Count</text>
<circle cx="467" cy="1157" r="2.1" fill="#000"/>
<text x="482.2" y="1160" font-size="9.2" fill="#222">50</text>
<circle cx="467" cy="1176" r="4.4" fill="#000"/>
<text x="482.2" y="1179" font-size="9.2" fill="#222">100</text>
<circle cx="467" cy="1195" r="5.7" fill="#000"/>
<text x="482.2" y="1198" font-size="9.2" fill="#222">150</text>
<circle cx="467" cy="1214.5" r="6.5" fill="#000"/>
<text x="482.2" y="1217.5" font-size="9.2" fill="#222">200</text>
<rect x="593.9" y="405" width="191.1" height="187.4" fill="#efefef"/>
<rect x="616.4" y="427" width="166.6" height="137.3" fill="#fff"/>
<path stroke="#d4d4d4" stroke-width=".4" stroke-dasharray=".9 .7" fill="none" d="M616.4 490.4H783M616.4 480H783M616.4 469.7H783M616.4 459.3H783M616.4 449H783M616.4 438.6H783M616.4 428.3H783M647.1 427V491.5M647.1 520.7V564.3M677.8 427V491.5M677.8 520.7V564.3M708.5 427V491.5M708.5 520.7V564.3M739.2 427V491.5M739.2 520.7V564.3M769.9 427V491.5M769.9 520.7V564.3M616.4 557.5H783M616.4 550.1H783M616.4 535.3H783M616.4 527.9H783"/>
<path stroke="#c0c0c0" stroke-width=".5" fill="none" d="M616.4 427H783V564.3H616.4zM616.4 491.5H783M616.4 494H783M616.4 520.7H783M616.4 490.4H783"/>
<path fill="none" stroke="#14f014" stroke-width="1.55" stroke-linejoin="round" stroke-linecap="round" d="M616.4 490.5L618.2 481.5L619.7 470.2L622 467.2L624.2 459L626.5 450.7L629.5 445.8L632.5 445.5L636.2 434.2L640 432.7L646 432.7L649 430.5L653.5 430.5L661 432.7L667.7 434.2L677.5 439.5L688 445.5L700 452.2L712 459.7L724 467.2L737.5 474.7L749.5 481.5L760 486L766 489.3L769 488.7L772 488.2L775 489.7"/>
<rect x="616.4" y="494.3" width="13.2" height="21.3" fill="#000" opacity=".72"/>
<rect x="666.4" y="494.3" width="1" height="21.3" fill="#000" opacity=".72"/>
<rect x="764.5" y="494.3" width="1.2" height="21.3" fill="#000" opacity=".72"/>
<path stroke="#000" stroke-width=".5" opacity="0.95" d="M616.8 494.3V515.6M617 494.3V515.6M617.4 494.3V515.6M618.4 494.3V515.6M618.6 494.3V515.6M618.8 494.3V515.6M619 494.3V515.6M619.8 494.3V515.6M620.6 494.3V515.6M620.8 494.3V515.6M621 494.3V515.6M621.4 494.3V515.6M621.8 494.3V515.6M623 494.3V515.6M623.2 494.3V515.6M623.8 494.3V515.6M624.2 494.3V515.6M624.6 494.3V515.6M624.8 494.3V515.6M625 494.3V515.6M625.2 494.3V515.6M626 494.3V515.6M626.2 494.3V515.6M626.4 494.3V515.6M626.8 494.3V515.6M628 494.3V515.6M628.4 494.3V515.6M628.6 494.3V515.6M629 494.3V515.6M629.2 494.3V515.6M629.8 494.3V515.6M630 494.3V515.6M630.2 494.3V515.6M631.2 494.3V515.6M631.6 494.3V515.6M631.8 494.3V515.6M632 494.3V515.6M632.2 494.3V515.6"/>
<path stroke="#000" stroke-width=".5" opacity="0.9" d="M632.6 494.3V515.6M633.4 494.3V515.6M634.2 494.3V515.6M634.4 494.3V515.6M634.8 494.3V515.6M635 494.3V515.6M635.8 494.3V515.6M638.2 494.3V515.6M640.2 494.3V515.6M640.6 494.3V515.6M641.2 494.3V515.6M641.6 494.3V515.6M642 494.3V515.6M642.2 494.3V515.6M642.4 494.3V515.6M642.6 494.3V515.6M642.8 494.3V515.6M643 494.3V515.6M644 494.3V515.6"/>
<path stroke="#000" stroke-width=".5" opacity="0.75" d="M644.6 494.3V515.6M645 494.3V515.6M646 494.3V515.6M646.8 494.3V515.6M648.2 494.3V515.6M648.6 494.3V515.6M649.2 494.3V515.6M650 494.3V515.6M650.4 494.3V515.6M651.6 494.3V515.6M653 494.3V515.6M653.4 494.3V515.6M654 494.3V515.6M655.4 494.3V515.6M657.8 494.3V515.6M658.8 494.3V515.6M659.4 494.3V515.6M659.6 494.3V515.6M660 494.3V515.6M661.8 494.3V515.6M663 494.3V515.6M663.2 494.3V515.6M664.4 494.3V515.6M664.6 494.3V515.6M665.2 494.3V515.6"/>
<path stroke="#000" stroke-width=".5" opacity="1" d="M666.8 494.3V515.6M667 494.3V515.6M667.2 494.3V515.6M765 494.3V515.6M765.2 494.3V515.6M765.6 494.3V515.6M766 494.3V515.6"/>
<path stroke="#000" stroke-width=".5" opacity="0.65" d="M675.6 494.3V515.6M677 494.3V515.6M677.6 494.3V515.6M680 494.3V515.6M680.4 494.3V515.6M681.8 494.3V515.6M682.2 494.3V515.6M683.2 494.3V515.6M684.2 494.3V515.6M684.4 494.3V515.6M685.4 494.3V515.6M686.2 494.3V515.6M686.6 494.3V515.6M688.2 494.3V515.6M689.2 494.3V515.6M689.4 494.3V515.6M692.6 494.3V515.6M693.8 494.3V515.6M694.2 494.3V515.6M695.8 494.3V515.6M697 494.3V515.6M698.2 494.3V515.6M699.2 494.3V515.6M700.4 494.3V515.6M700.8 494.3V515.6M702.2 494.3V515.6M703.2 494.3V515.6M704.2 494.3V515.6M708 494.3V515.6M708.8 494.3V515.6"/>
<path stroke="#000" stroke-width=".5" opacity="0.7" d="M718.2 494.3V515.6M719.2 494.3V515.6M719.4 494.3V515.6M719.8 494.3V515.6M720.8 494.3V515.6M721.2 494.3V515.6M721.8 494.3V515.6M723.2 494.3V515.6M725.4 494.3V515.6M725.6 494.3V515.6M727.4 494.3V515.6M727.8 494.3V515.6M728.4 494.3V515.6M730 494.3V515.6M732 494.3V515.6M733 494.3V515.6M733.6 494.3V515.6M733.8 494.3V515.6M734.2 494.3V515.6M735.6 494.3V515.6M737.2 494.3V515.6M738.2 494.3V515.6M749.8 494.3V515.6M754 494.3V515.6M756.4 494.3V515.6M757.6 494.3V515.6M758 494.3V515.6M758.2 494.3V515.6M758.4 494.3V515.6M760.8 494.3V515.6M761.2 494.3V515.6M763.6 494.3V515.6M764 494.3V515.6M765 494.3V515.6M766.6 494.3V515.6M768.4 494.3V515.6M770.6 494.3V515.6M771.4 494.3V515.6M771.8 494.3V515.6"/>
<defs><linearGradient id="gs1"><stop offset="0" stop-color="#a00000"/><stop offset="0.02" stop-color="#c81414"/><stop offset="0.12" stop-color="#e83838"/><stop offset="0.3" stop-color="#f06868"/><stop offset="0.465" stop-color="#f68c8c"/><stop offset="0.47" stop-color="#f4a4d0"/><stop offset="0.63" stop-color="#f6bce2"/><stop offset="0.635" stop-color="#d2cef8"/><stop offset="0.79" stop-color="#c8c8fa"/><stop offset="0.8" stop-color="#9494f4"/><stop offset="0.85" stop-color="#7474f0"/><stop offset="0.95" stop-color="#4a4ae0"/><stop offset="0.96" stop-color="#1a1ac0"/><stop offset="1" stop-color="#0808b0"/></linearGradient></defs>
<rect x="616.4" y="515.8" width="158.4" height="4.9" fill="url(#gs1)"/>
<path fill="#c2c2c2" d="M616.4 542.7L616.4 522L618.7 527.2L621 529.9L623.3 531.5L625.6 532.6L627.9 533.4L630.2 534.2L632.5 534.8L634.8 535.4L637.1 535.9L639.4 536.4L641.7 536.9L644 537.3L646.3 537.8L648.5 538.1L650.8 538.5L653.1 538.8L655.4 539.1L657.7 539.4L660 539.7L662.3 539.9L664.6 540.1L666.9 540.4L669.2 540.6L671.5 540.7L673.8 540.9L676.1 541.1L678.4 541.2L680.7 541.3L683 541.5L685.3 541.6L687.6 541.7L689.9 541.8L692.2 541.9L694.5 542L696.8 542.1L699.1 542.2L701.4 542.2L703.7 542.3L706 542.4L708.2 542.4L710.5 542.5L712.8 542.6L715.1 542.7L717.4 542.9L719.7 543L722 543.2L724.3 543.3L726.6 543.4L728.9 543.6L731.2 543.7L733.5 543.9L735.8 544L738.1 544.2L740.4 544.3L742.7 544.5L745 544.7L747.3 544.9L749.6 545.1L751.9 545.3L754.2 545.5L756.5 545.7L758.8 546L761.1 546.2L763.4 546.6L765.7 547.1L767.9 548L770.2 549.6L772.5 553L774.8 560.5L774.8 542.7z"/>
<text x="689.7" y="412.6" font-size="6.5" text-anchor="middle" font-weight="bold" fill="#111" textLength="54.7" lengthAdjust="spacingAndGlyphs">Enrichment plot:</text>
<text x="689.7" y="422.4" font-size="6.5" text-anchor="middle" font-weight="bold" fill="#111" textLength="140.6" lengthAdjust="spacingAndGlyphs">HALLMARK_INFLAMMATORY_RESPONSE</text>
<text x="633.7" y="474.2" font-size="10.4" fill="#111">NES 3.27</text>
<text x="633.7" y="486.4" font-size="10.4" fill="#111">FDR 3.85E-10</text>
<text x="614.2" y="492.1" font-size="4.9" text-anchor="end" fill="#777">0.0</text><text x="614.2" y="481.75" font-size="4.9" text-anchor="end" fill="#777">0.1</text><text x="614.2" y="471.4" font-size="4.9" text-anchor="end" fill="#777">0.2</text><text x="614.2" y="461.05" font-size="4.9" text-anchor="end" fill="#777">0.3</text><text x="614.2" y="450.7" font-size="4.9" text-anchor="end" fill="#777">0.4</text><text x="614.2" y="440.35" font-size="4.9" text-anchor="end" fill="#777">0.5</text><text x="614.2" y="430" font-size="4.9" text-anchor="end" fill="#777">0.6</text><text x="614.2" y="529.5" font-size="4.4" text-anchor="end" fill="#333">0.4</text><text x="614.2" y="536.9" font-size="4.4" text-anchor="end" fill="#333">0.2</text><text x="614.2" y="544.3" font-size="4.4" text-anchor="end" fill="#333">0.0</text><text x="614.2" y="551.7" font-size="4.4" text-anchor="end" fill="#333">-0.2</text><text x="614.2" y="559.1" font-size="4.4" text-anchor="end" fill="#333">-0.4</text><text x="614.2" y="522.4" font-size="4.4" text-anchor="end" fill="#333">0.6</text><text x="616.4" y="571.3" font-size="4.7" text-anchor="middle" fill="#333">0</text><text x="647.1" y="571.3" font-size="4.7" text-anchor="middle" fill="#333">5,000</text><text x="677.81" y="571.3" font-size="4.7" text-anchor="middle" fill="#333">10,000</text><text x="708.51" y="571.3" font-size="4.7" text-anchor="middle" fill="#333">15,000</text><text x="739.22" y="571.3" font-size="4.7" text-anchor="middle" fill="#333">20,000</text><text x="769.92" y="571.3" font-size="4.7" text-anchor="middle" fill="#333">25,000</text>
<text x="699.2" y="577.8" font-size="5.6" text-anchor="middle" fill="#444">Rank in Ordered Dataset</text>
<text transform="translate(604.2,459.8) rotate(-90)" font-size="5.8" text-anchor="middle" fill="#666" textLength="57" lengthAdjust="spacingAndGlyphs">Enrichment score (ES)</text>
<text transform="translate(603.8,542.5) rotate(-90)" font-size="5.6" text-anchor="middle" fill="#555" textLength="68" lengthAdjust="spacingAndGlyphs">Ranked list metric (Signal2Noise)</text>
<text x="617.6" y="523.9" font-size="3.9" fill="#f03030">'DNMT3A' (positively correlated)</text>
<text x="698.79" y="562.3" font-size="3.9" fill="#3838f0">'CM' (negatively correlated)</text>
<text x="694.83" y="543" font-size="3.6" fill="#333">Zero cross at 16005</text>
<rect x="624.4" y="582" width="131.3" height="9.6" fill="#fff" stroke="#444" stroke-width=".7"/>
<path stroke="#14f014" stroke-width="1.1" d="M626 586.8h6.6"/><path stroke="#222" stroke-width=".6" d="M673.1 586.8h5.3"/><path stroke="#ccc" stroke-width=".6" d="M700 586.8h5.4"/>
<text x="633.7" y="588.6" font-size="5" fill="#333" textLength="37.2" lengthAdjust="spacingAndGlyphs">Enrichment profile</text>
<text x="679.4" y="588.6" font-size="5" fill="#333" textLength="7.8" lengthAdjust="spacingAndGlyphs">Hits</text>
<text x="707" y="588.6" font-size="5" fill="#333" textLength="46.5" lengthAdjust="spacingAndGlyphs">Ranking metric scores</text>
<rect x="796.8" y="404.3" width="190.7" height="187.9" fill="#efefef"/>
<rect x="819.5" y="426.4" width="165.9" height="137.7" fill="#fff"/>
<path stroke="#d4d4d4" stroke-width=".4" stroke-dasharray=".9 .7" fill="none" d="M819.5 489.8H985.4M819.5 480.6H985.4M819.5 471.4H985.4M819.5 462.1H985.4M819.5 452.9H985.4M819.5 443.8H985.4M819.5 434.6H985.4M850.1 426.4V491M850.1 520.3V564M880.7 426.4V491M880.7 520.3V564M911.2 426.4V491M911.2 520.3V564M941.8 426.4V491M941.8 520.3V564M972.4 426.4V491M972.4 520.3V564M819.5 557.2H985.4M819.5 549.8H985.4M819.5 534.9H985.4M819.5 527.5H985.4"/>
<path stroke="#c0c0c0" stroke-width=".5" fill="none" d="M819.5 426.4H985.4V564H819.5zM819.5 491H985.4M819.5 493.5H985.4M819.5 520.3H985.4M819.5 489.8H985.4"/>
<path fill="none" stroke="#14f014" stroke-width="1.55" stroke-linejoin="round" stroke-linecap="round" d="M819.2 489.7L821.3 480L824.7 471L829.2 456.7L834.5 450.7L839 442.5L844.2 434.2L847.2 431.7L851 431.2L855.5 429.7L860 430.8L867.5 433.5L878 438L890 444.7L902 451.5L917 460.5L932 468.7L947 476.2L959 482.2L965 483.7L971 486.7L977 489.4"/>
<rect x="819.2" y="493.8" width="29.1" height="21.4" fill="#000" opacity=".72"/>
<rect x="909.5" y="493.8" width="1" height="21.4" fill="#000" opacity=".72"/>
<path stroke="#000" stroke-width=".5" opacity="1" d="M819.4 493.8V515.2M819.6 493.8V515.2M820 493.8V515.2M820.6 493.8V515.2M821 493.8V515.2M821.2 493.8V515.2M821.4 493.8V515.2M822.4 493.8V515.2M822.8 493.8V515.2M823 493.8V515.2M823.2 493.8V515.2M824.4 493.8V515.2M824.6 493.8V515.2M825.4 493.8V515.2M825.6 493.8V515.2M825.8 493.8V515.2M826.2 493.8V515.2M826.4 493.8V515.2M826.6 493.8V515.2M826.8 493.8V515.2M827.2 493.8V515.2M828.4 493.8V515.2M829 493.8V515.2M829.4 493.8V515.2M829.8 493.8V515.2M830 493.8V515.2M830.6 493.8V515.2M831.2 493.8V515.2M831.4 493.8V515.2M832.2 493.8V515.2M832.8 493.8V515.2M833 493.8V515.2M833.2 493.8V515.2M833.6 493.8V515.2M834.2 493.8V515.2M834.6 493.8V515.2M834.8 493.8V515.2M835 493.8V515.2M835.2 493.8V515.2M835.4 493.8V515.2M836 493.8V515.2M836.6 493.8V515.2M837 493.8V515.2M837.2 493.8V515.2M837.4 493.8V515.2M837.6 493.8V515.2M837.8 493.8V515.2M839 493.8V515.2M839.2 493.8V515.2M839.6 493.8V515.2M840.2 493.8V515.2M840.6 493.8V515.2M841 493.8V515.2M841.2 493.8V515.2M841.8 493.8V515.2M842.2 493.8V515.2M842.6 493.8V515.2M843 493.8V515.2M843.4 493.8V515.2M843.6 493.8V515.2M843.8 493.8V515.2M844.2 493.8V515.2M845 493.8V515.2M845.8 493.8V515.2M846.4 493.8V515.2M846.8 493.8V515.2M847 493.8V515.2M848.2 493.8V515.2M848.6 493.8V515.2M848.8 493.8V515.2M849.4 493.8V515.2M849.8 493.8V515.2M850.6 493.8V515.2M850.8 493.8V515.2M851 493.8V515.2M851.2 493.8V515.2M851.6 493.8V515.2M852 493.8V515.2M852.2 493.8V515.2M852.6 493.8V515.2M853.4 493.8V515.2M853.6 493.8V515.2M853.8 493.8V515.2M854.2 493.8V515.2M910 493.8V515.2M910.2 493.8V515.2M910.4 493.8V515.2"/>
<path stroke="#000" stroke-width=".5" opacity="0.7" d="M857.2 493.8V515.2M859.4 493.8V515.2M859.8 493.8V515.2M860.4 493.8V515.2M861.6 493.8V515.2M862.6 493.8V515.2M863.4 493.8V515.2M867 493.8V515.2M867.4 493.8V515.2M868 493.8V515.2M868.2 493.8V515.2M870.2 493.8V515.2M870.8 493.8V515.2M871 493.8V515.2M872.6 493.8V515.2M876.4 493.8V515.2M877.8 493.8V515.2M879 493.8V515.2M881.2 493.8V515.2M881.6 493.8V515.2M882.2 493.8V515.2M886.6 493.8V515.2M887.2 493.8V515.2M887.4 493.8V515.2M889.6 493.8V515.2M890.2 493.8V515.2M890.6 493.8V515.2M891.6 493.8V515.2M893.2 493.8V515.2M894.6 493.8V515.2M895.6 493.8V515.2M898.6 493.8V515.2M899.8 493.8V515.2M900.4 493.8V515.2M901.2 493.8V515.2M901.4 493.8V515.2M903.8 493.8V515.2M904.6 493.8V515.2M905.8 493.8V515.2M906 493.8V515.2M908 493.8V515.2M909.2 493.8V515.2M909.6 493.8V515.2M909.8 493.8V515.2M922 493.8V515.2M923.6 493.8V515.2M925 493.8V515.2M926.4 493.8V515.2M927.6 493.8V515.2M929 493.8V515.2M929.6 493.8V515.2M930 493.8V515.2M930.8 493.8V515.2M933.8 493.8V515.2M934.8 493.8V515.2M937 493.8V515.2M937.8 493.8V515.2M939.4 493.8V515.2M942 493.8V515.2M942.8 493.8V515.2M943.8 493.8V515.2M944.8 493.8V515.2M947.6 493.8V515.2M949.2 493.8V515.2M949.6 493.8V515.2M950.2 493.8V515.2M951.4 493.8V515.2M951.8 493.8V515.2M952.2 493.8V515.2"/>
<path stroke="#000" stroke-width=".5" opacity="0.75" d="M960.4 493.8V515.2M961 493.8V515.2M963.4 493.8V515.2M964 493.8V515.2M964.2 493.8V515.2M967.4 493.8V515.2M970.8 493.8V515.2M971 493.8V515.2M971.2 493.8V515.2M971.4 493.8V515.2M972.2 493.8V515.2M973.8 493.8V515.2M974 493.8V515.2"/>
<defs><linearGradient id="gs2"><stop offset="0" stop-color="#a00000"/><stop offset="0.02" stop-color="#c81414"/><stop offset="0.12" stop-color="#e83838"/><stop offset="0.3" stop-color="#f06868"/><stop offset="0.465" stop-color="#f68c8c"/><stop offset="0.47" stop-color="#f4a4d0"/><stop offset="0.63" stop-color="#f6bce2"/><stop offset="0.635" stop-color="#d2cef8"/><stop offset="0.79" stop-color="#c8c8fa"/><stop offset="0.8" stop-color="#9494f4"/><stop offset="0.85" stop-color="#7474f0"/><stop offset="0.95" stop-color="#4a4ae0"/><stop offset="0.96" stop-color="#1a1ac0"/><stop offset="1" stop-color="#0808b0"/></linearGradient></defs>
<rect x="819.5" y="515.4" width="157.8" height="4.9" fill="url(#gs2)"/>
<path fill="#c2c2c2" d="M819.5 542.4L819.5 521.6L821.8 526.9L824.1 529.5L826.4 531.1L828.6 532.2L830.9 533.1L833.2 533.8L835.5 534.4L837.8 535L840.1 535.6L842.4 536.1L844.7 536.6L846.9 537L849.2 537.4L851.5 537.8L853.8 538.1L856.1 538.5L858.4 538.8L860.7 539.1L862.9 539.3L865.2 539.6L867.5 539.8L869.8 540L872.1 540.2L874.4 540.4L876.7 540.6L878.9 540.7L881.2 540.9L883.5 541L885.8 541.1L888.1 541.3L890.4 541.4L892.7 541.5L895 541.6L897.2 541.7L899.5 541.7L901.8 541.8L904.1 541.9L906.4 542L908.7 542L911 542.1L913.2 542.2L915.5 542.3L917.8 542.4L920.1 542.5L922.4 542.7L924.7 542.8L927 543L929.3 543.1L931.5 543.3L933.8 543.4L936.1 543.5L938.4 543.7L940.7 543.9L943 544L945.3 544.2L947.5 544.4L949.8 544.5L952.1 544.7L954.4 544.9L956.7 545.2L959 545.4L961.3 545.6L963.6 545.9L965.8 546.3L968.1 546.8L970.4 547.6L972.7 549.3L975 552.7L977.3 560.2L977.3 542.4z"/>
<text x="892.45" y="411.92" font-size="6.5" text-anchor="middle" font-weight="bold" fill="#111" textLength="54.7" lengthAdjust="spacingAndGlyphs">Enrichment plot:</text>
<text x="892.45" y="421.75" font-size="6.5" text-anchor="middle" font-weight="bold" fill="#111" textLength="141.9" lengthAdjust="spacingAndGlyphs">HALLMARK_TNFA_SIGNALING_VIA_NFKB</text>
<text x="836.4" y="473.2" font-size="10.4" fill="#111">NES 3.89</text>
<text x="836.4" y="485.2" font-size="10.4" fill="#111">FDR 3.85E-10</text>
<text x="817.3" y="491.45" font-size="4.9" text-anchor="end" fill="#777">0.0</text><text x="817.3" y="482.25" font-size="4.9" text-anchor="end" fill="#777">0.1</text><text x="817.3" y="473.05" font-size="4.9" text-anchor="end" fill="#777">0.2</text><text x="817.3" y="463.85" font-size="4.9" text-anchor="end" fill="#777">0.3</text><text x="817.3" y="454.65" font-size="4.9" text-anchor="end" fill="#777">0.4</text><text x="817.3" y="445.45" font-size="4.9" text-anchor="end" fill="#777">0.5</text><text x="817.3" y="436.25" font-size="4.9" text-anchor="end" fill="#777">0.6</text><text x="817.3" y="529.13" font-size="4.4" text-anchor="end" fill="#333">0.4</text><text x="817.3" y="536.55" font-size="4.4" text-anchor="end" fill="#333">0.2</text><text x="817.3" y="543.97" font-size="4.4" text-anchor="end" fill="#333">0.0</text><text x="817.3" y="551.39" font-size="4.4" text-anchor="end" fill="#333">-0.2</text><text x="817.3" y="558.81" font-size="4.4" text-anchor="end" fill="#333">-0.4</text><text x="817.3" y="522.01" font-size="4.4" text-anchor="end" fill="#333">0.6</text><text x="819.5" y="571.04" font-size="4.7" text-anchor="middle" fill="#333">0</text><text x="850.08" y="571.04" font-size="4.7" text-anchor="middle" fill="#333">5,000</text><text x="880.65" y="571.04" font-size="4.7" text-anchor="middle" fill="#333">10,000</text><text x="911.23" y="571.04" font-size="4.7" text-anchor="middle" fill="#333">15,000</text><text x="941.8" y="571.04" font-size="4.7" text-anchor="middle" fill="#333">20,000</text><text x="972.38" y="571.04" font-size="4.7" text-anchor="middle" fill="#333">25,000</text>
<text x="901.95" y="577.56" font-size="5.6" text-anchor="middle" fill="#444">Rank in Ordered Dataset</text>
<text transform="translate(807.3,459.2) rotate(-90)" font-size="5.8" text-anchor="middle" fill="#666" textLength="57" lengthAdjust="spacingAndGlyphs">Enrichment score (ES)</text>
<text transform="translate(806.9,542.2) rotate(-90)" font-size="5.6" text-anchor="middle" fill="#555" textLength="68" lengthAdjust="spacingAndGlyphs">Ranked list metric (Signal2Noise)</text>
<text x="820.7" y="523.51" font-size="3.9" fill="#f03030">'DNMT3A' (positively correlated)</text>
<text x="901.54" y="562.03" font-size="3.9" fill="#3838f0">'CM' (negatively correlated)</text>
<text x="897.6" y="542.67" font-size="3.6" fill="#333">Zero cross at 16005</text>
<rect x="827.5" y="581.8" width="131.3" height="9.6" fill="#fff" stroke="#444" stroke-width=".7"/>
<path stroke="#14f014" stroke-width="1.1" d="M829.1 586.6h6.6"/><path stroke="#222" stroke-width=".6" d="M876.2 586.6h5.3"/><path stroke="#ccc" stroke-width=".6" d="M903.1 586.6h5.4"/>
<text x="836.8" y="588.39" font-size="5" fill="#333" textLength="37.2" lengthAdjust="spacingAndGlyphs">Enrichment profile</text>
<text x="882.5" y="588.39" font-size="5" fill="#333" textLength="7.8" lengthAdjust="spacingAndGlyphs">Hits</text>
<text x="910.1" y="588.39" font-size="5" fill="#333" textLength="46.5" lengthAdjust="spacingAndGlyphs">Ranking metric scores</text>
<rect x="999" y="404.3" width="184" height="187.9" fill="#efefef"/>
<rect x="1021.3" y="426.4" width="159.3" height="137.7" fill="#fff"/>
<path stroke="#d4d4d4" stroke-width=".4" stroke-dasharray=".9 .7" fill="none" d="M1021.3 486.3H1180.6M1021.3 476.9H1180.6M1021.3 467.5H1180.6M1021.3 458.2H1180.6M1021.3 448.8H1180.6M1021.3 439.4H1180.6M1021.3 430H1180.6M1050.7 426.4V491M1050.7 520.3V564M1080 426.4V491M1080 520.3V564M1109.4 426.4V491M1109.4 520.3V564M1138.7 426.4V491M1138.7 520.3V564M1168.1 426.4V491M1168.1 520.3V564M1021.3 557.2H1180.6M1021.3 549.8H1180.6M1021.3 534.9H1180.6M1021.3 527.5H1180.6"/>
<path stroke="#c0c0c0" stroke-width=".5" fill="none" d="M1021.3 426.4H1180.6V564H1021.3zM1021.3 491H1180.6M1021.3 493.5H1180.6M1021.3 520.3H1180.6M1021.3 486.3H1180.6"/>
<path fill="none" stroke="#14f014" stroke-width="1.55" stroke-linejoin="round" stroke-linecap="round" d="M1021.3 486.3L1022.8 477L1024 465L1026.2 457.5L1027.7 451.5L1030.7 447.7L1033 445.5L1036 445.8L1038.2 441.7L1041.2 441L1044.2 435L1047.2 431.2L1049.5 429.7L1052.5 430.8L1056.2 432L1060 430.9L1063.7 432.7L1068.2 434.7L1076.5 438.7L1090 446.2L1102 453L1117 462L1132 471L1144 477L1154.5 482.2L1160.5 484.8L1162.7 484.5L1166.5 487.2L1170.2 489L1172.2 488.2L1172.8 486"/>
<rect x="1021.3" y="493.8" width="12.1" height="21.4" fill="#000" opacity=".72"/>
<path stroke="#000" stroke-width=".5" opacity="0.95" d="M1021.4 493.8V515.2M1021.8 493.8V515.2M1022.6 493.8V515.2M1023 493.8V515.2M1023.6 493.8V515.2M1024.4 493.8V515.2M1024.6 493.8V515.2M1024.8 493.8V515.2M1025.4 493.8V515.2M1025.6 493.8V515.2M1026 493.8V515.2M1026.8 493.8V515.2M1027 493.8V515.2M1027.6 493.8V515.2M1028.2 493.8V515.2M1028.4 493.8V515.2M1028.8 493.8V515.2M1029.8 493.8V515.2M1030 493.8V515.2M1030.6 493.8V515.2M1030.8 493.8V515.2M1031 493.8V515.2M1031.4 493.8V515.2M1031.6 493.8V515.2M1032 493.8V515.2M1032.2 493.8V515.2M1032.6 493.8V515.2M1033 493.8V515.2M1033.4 493.8V515.2M1034.4 493.8V515.2M1035 493.8V515.2M1035.4 493.8V515.2M1035.6 493.8V515.2M1037.4 493.8V515.2M1037.8 493.8V515.2M1038.2 493.8V515.2M1038.6 493.8V515.2M1039.6 493.8V515.2M1039.8 493.8V515.2M1041 493.8V515.2M1041.4 493.8V515.2M1042.2 493.8V515.2M1043.2 493.8V515.2M1043.8 493.8V515.2M1045 493.8V515.2M1045.6 493.8V515.2M1046.4 493.8V515.2M1046.8 493.8V515.2M1047.2 493.8V515.2M1047.8 493.8V515.2"/>
<path stroke="#000" stroke-width=".5" opacity="0.7" d="M1058 493.8V515.2M1058.2 493.8V515.2M1059.6 493.8V515.2M1061.2 493.8V515.2"/>
<path stroke="#000" stroke-width=".5" opacity="1" d="M1067.2 493.8V515.2M1067.6 493.8V515.2M1076.2 493.8V515.2M1076.4 493.8V515.2M1108.2 493.8V515.2M1122 493.8V515.2"/>
<path stroke="#000" stroke-width=".5" opacity="0.9" d="M1085.4 493.8V515.2M1086 493.8V515.2"/>
<path stroke="#000" stroke-width=".5" opacity="0.8" d="M1093.2 493.8V515.2M1094.6 493.8V515.2M1096.4 493.8V515.2M1099.2 493.8V515.2M1100.2 493.8V515.2M1130 493.8V515.2M1135.6 493.8V515.2M1138.4 493.8V515.2M1138.8 493.8V515.2M1139 493.8V515.2M1139.6 493.8V515.2M1141 493.8V515.2M1141.2 493.8V515.2M1141.8 493.8V515.2M1155.4 493.8V515.2M1156 493.8V515.2M1158 493.8V515.2M1158.2 493.8V515.2M1171.2 493.8V515.2M1172 493.8V515.2"/>
<defs><linearGradient id="gs3"><stop offset="0" stop-color="#a00000"/><stop offset="0.02" stop-color="#c81414"/><stop offset="0.12" stop-color="#e83838"/><stop offset="0.3" stop-color="#f06868"/><stop offset="0.465" stop-color="#f68c8c"/><stop offset="0.47" stop-color="#f4a4d0"/><stop offset="0.63" stop-color="#f6bce2"/><stop offset="0.635" stop-color="#d2cef8"/><stop offset="0.79" stop-color="#c8c8fa"/><stop offset="0.8" stop-color="#9494f4"/><stop offset="0.85" stop-color="#7474f0"/><stop offset="0.95" stop-color="#4a4ae0"/><stop offset="0.96" stop-color="#1a1ac0"/><stop offset="1" stop-color="#0808b0"/></linearGradient></defs>
<rect x="1021.3" y="515.4" width="151.5" height="4.9" fill="url(#gs3)"/>
<path fill="#c2c2c2" d="M1021.3 542.4L1021.3 521.6L1023.5 526.9L1025.7 529.5L1027.9 531.1L1030.1 532.2L1032.3 533.1L1034.5 533.8L1036.7 534.4L1038.9 535L1041.1 535.6L1043.3 536.1L1045.5 536.6L1047.6 537L1049.8 537.4L1052 537.8L1054.2 538.1L1056.4 538.5L1058.6 538.8L1060.8 539.1L1063 539.3L1065.2 539.6L1067.4 539.8L1069.6 540L1071.8 540.2L1074 540.4L1076.2 540.6L1078.4 540.7L1080.6 540.9L1082.8 541L1085 541.1L1087.2 541.3L1089.4 541.4L1091.6 541.5L1093.8 541.6L1095.9 541.7L1098.1 541.7L1100.3 541.8L1102.5 541.9L1104.7 542L1106.9 542L1109.1 542.1L1111.3 542.2L1113.5 542.3L1115.7 542.4L1117.9 542.5L1120.1 542.7L1122.3 542.8L1124.5 543L1126.7 543.1L1128.9 543.3L1131.1 543.4L1133.3 543.5L1135.5 543.7L1137.7 543.9L1139.9 544L1142.1 544.2L1144.3 544.4L1146.4 544.5L1148.6 544.7L1150.8 544.9L1153 545.2L1155.2 545.4L1157.4 545.6L1159.6 545.9L1161.8 546.3L1164 546.8L1166.2 547.6L1168.4 549.3L1170.6 552.7L1172.8 560.2L1172.8 542.4z"/>
<text x="1090.95" y="411.92" font-size="6.5" text-anchor="middle" font-weight="bold" fill="#111" textLength="54.7" lengthAdjust="spacingAndGlyphs">Enrichment plot:</text>
<text x="1090.95" y="421.75" font-size="6.5" text-anchor="middle" font-weight="bold" fill="#111" textLength="137.8" lengthAdjust="spacingAndGlyphs">HALLMARK_IL6_JAK_STAT3_SIGNALING</text>
<text x="1038.7" y="471.4" font-size="10.4" fill="#111">NES 2.74</text>
<text x="1038.7" y="484" font-size="10.4" fill="#111">FDR 3.85E-10</text>
<text x="1019.1" y="488" font-size="4.9" text-anchor="end" fill="#777">0.0</text><text x="1019.1" y="478.62" font-size="4.9" text-anchor="end" fill="#777">0.1</text><text x="1019.1" y="469.24" font-size="4.9" text-anchor="end" fill="#777">0.2</text><text x="1019.1" y="459.86" font-size="4.9" text-anchor="end" fill="#777">0.3</text><text x="1019.1" y="450.48" font-size="4.9" text-anchor="end" fill="#777">0.4</text><text x="1019.1" y="441.1" font-size="4.9" text-anchor="end" fill="#777">0.5</text><text x="1019.1" y="431.72" font-size="4.9" text-anchor="end" fill="#777">0.6</text><text x="1019.1" y="529.13" font-size="4.4" text-anchor="end" fill="#333">0.4</text><text x="1019.1" y="536.55" font-size="4.4" text-anchor="end" fill="#333">0.2</text><text x="1019.1" y="543.97" font-size="4.4" text-anchor="end" fill="#333">0.0</text><text x="1019.1" y="551.39" font-size="4.4" text-anchor="end" fill="#333">-0.2</text><text x="1019.1" y="558.81" font-size="4.4" text-anchor="end" fill="#333">-0.4</text><text x="1019.1" y="522.01" font-size="4.4" text-anchor="end" fill="#333">0.6</text><text x="1021.3" y="571.04" font-size="4.7" text-anchor="middle" fill="#333">0</text><text x="1050.66" y="571.04" font-size="4.7" text-anchor="middle" fill="#333">5,000</text><text x="1080.02" y="571.04" font-size="4.7" text-anchor="middle" fill="#333">10,000</text><text x="1109.38" y="571.04" font-size="4.7" text-anchor="middle" fill="#333">15,000</text><text x="1138.74" y="571.04" font-size="4.7" text-anchor="middle" fill="#333">20,000</text><text x="1168.1" y="571.04" font-size="4.7" text-anchor="middle" fill="#333">25,000</text>
<text x="1100.45" y="577.56" font-size="5.6" text-anchor="middle" fill="#444">Rank in Ordered Dataset</text>
<text transform="translate(1009.1,459.2) rotate(-90)" font-size="5.8" text-anchor="middle" fill="#666" textLength="57" lengthAdjust="spacingAndGlyphs">Enrichment score (ES)</text>
<text transform="translate(1008.7,542.2) rotate(-90)" font-size="5.6" text-anchor="middle" fill="#555" textLength="68" lengthAdjust="spacingAndGlyphs">Ranked list metric (Signal2Noise)</text>
<text x="1022.5" y="523.51" font-size="3.9" fill="#f03030">'DNMT3A' (positively correlated)</text>
<text x="1100.08" y="562.03" font-size="3.9" fill="#3838f0">'CM' (negatively correlated)</text>
<text x="1096.29" y="542.67" font-size="3.6" fill="#333">Zero cross at 16005</text>
<rect x="1029.3" y="581.8" width="131.3" height="9.6" fill="#fff" stroke="#444" stroke-width=".7"/>
<path stroke="#14f014" stroke-width="1.1" d="M1030.9 586.6h6.6"/><path stroke="#222" stroke-width=".6" d="M1078 586.6h5.3"/><path stroke="#ccc" stroke-width=".6" d="M1104.9 586.6h5.4"/>
<text x="1038.6" y="588.39" font-size="5" fill="#333" textLength="37.2" lengthAdjust="spacingAndGlyphs">Enrichment profile</text>
<text x="1084.3" y="588.39" font-size="5" fill="#333" textLength="7.8" lengthAdjust="spacingAndGlyphs">Hits</text>
<text x="1111.9" y="588.39" font-size="5" fill="#333" textLength="46.5" lengthAdjust="spacingAndGlyphs">Ranking metric scores</text>
<rect x="593.4" y="606.4" width="191.3" height="191" fill="#efefef"/>
<rect x="616" y="628.8" width="167" height="139.9" fill="#fff"/>
<path stroke="#d4d4d4" stroke-width=".4" stroke-dasharray=".9 .7" fill="none" d="M616 692.5H783M616 682.3H783M616 672.1H783M616 661.9H783M616 651.7H783M616 641.5H783M616 631.3H783M646.8 628.8V694.6M646.8 724.3V768.8M677.6 628.8V694.6M677.6 724.3V768.8M708.3 628.8V694.6M708.3 724.3V768.8M739.1 628.8V694.6M739.1 724.3V768.8M769.9 628.8V694.6M769.9 724.3V768.8M616 761.8H783M616 754.3H783M616 739.2H783M616 731.7H783"/>
<path stroke="#c0c0c0" stroke-width=".5" fill="none" d="M616 628.8H783V768.8H616zM616 694.6H783M616 697.1H783M616 724.3H783M616 692.5H783"/>
<path fill="none" stroke="#14f014" stroke-width="1.55" stroke-linejoin="round" stroke-linecap="round" d="M616 692.5L616.3 682L618.2 673L620.5 665.5L622.3 654.2L624.2 652.7L626.5 646.7L629.5 646L631.7 637L634.7 635.8L637.7 632.8L643 632.8L649 631.7L652.7 632.2L655.7 634L659.5 632.9L663.2 635.2L668.5 638.2L677.5 641.5L688 647.5L700 654.2L715 663.2L730 673L745 681.2L757 687.2L763 691L766 689.2L769 691.3L772 691L775 692.5"/>
<rect x="616" y="697.4" width="9.8" height="21.7" fill="#000" opacity=".72"/>
<rect x="764.5" y="697.4" width="1.2" height="21.7" fill="#000" opacity=".72"/>
<path stroke="#000" stroke-width=".5" opacity="1" d="M617 697.4V719.1M617.6 697.4V719.1M618 697.4V719.1M618.2 697.4V719.1M618.6 697.4V719.1M619.2 697.4V719.1M620.2 697.4V719.1M620.4 697.4V719.1M620.6 697.4V719.1M621.2 697.4V719.1M621.8 697.4V719.1M622 697.4V719.1M622.2 697.4V719.1M622.6 697.4V719.1M623 697.4V719.1M623.2 697.4V719.1M623.4 697.4V719.1M623.6 697.4V719.1M624 697.4V719.1M624.4 697.4V719.1M625.4 697.4V719.1M625.6 697.4V719.1M626.4 697.4V719.1M626.8 697.4V719.1M627.2 697.4V719.1M627.4 697.4V719.1M627.6 697.4V719.1M627.8 697.4V719.1M628.6 697.4V719.1M630 697.4V719.1M630.2 697.4V719.1M630.6 697.4V719.1M631.4 697.4V719.1M632.2 697.4V719.1M632.4 697.4V719.1M632.6 697.4V719.1M633.2 697.4V719.1M633.6 697.4V719.1M633.8 697.4V719.1M634 697.4V719.1M634.4 697.4V719.1M636.2 697.4V719.1M636.4 697.4V719.1M636.8 697.4V719.1M637.2 697.4V719.1M637.8 697.4V719.1M638.6 697.4V719.1M639 697.4V719.1M639.2 697.4V719.1M639.6 697.4V719.1M657.2 697.4V719.1M657.4 697.4V719.1M657.6 697.4V719.1M657.8 697.4V719.1M658 697.4V719.1M764.6 697.4V719.1M765.6 697.4V719.1M766 697.4V719.1"/>
<path stroke="#000" stroke-width=".5" opacity="0.8" d="M641.4 697.4V719.1M641.6 697.4V719.1M641.8 697.4V719.1M642 697.4V719.1M644.6 697.4V719.1M646 697.4V719.1M647.6 697.4V719.1M647.8 697.4V719.1M649.8 697.4V719.1M650.2 697.4V719.1M652.2 697.4V719.1M652.6 697.4V719.1M653.6 697.4V719.1M653.8 697.4V719.1M655.4 697.4V719.1M655.8 697.4V719.1M657 697.4V719.1M657.6 697.4V719.1M657.8 697.4V719.1M658.6 697.4V719.1M733 697.4V719.1M735.6 697.4V719.1M737.6 697.4V719.1M738.6 697.4V719.1M740.4 697.4V719.1M741 697.4V719.1"/>
<path stroke="#000" stroke-width=".5" opacity="0.75" d="M665 697.4V719.1M665.2 697.4V719.1M665.8 697.4V719.1M667.8 697.4V719.1M670.4 697.4V719.1M672 697.4V719.1M672.2 697.4V719.1M673.8 697.4V719.1M675 697.4V719.1M690 697.4V719.1M690.4 697.4V719.1M693 697.4V719.1M693.6 697.4V719.1"/>
<path stroke="#000" stroke-width=".5" opacity="0.9" d="M683.8 697.4V719.1"/>
<path stroke="#000" stroke-width=".5" opacity="0.65" d="M704 697.4V719.1M704.4 697.4V719.1M705.4 697.4V719.1M707 697.4V719.1M707.2 697.4V719.1"/>
<path stroke="#000" stroke-width=".5" opacity="0.7" d="M720.2 697.4V719.1M721 697.4V719.1M721.2 697.4V719.1M722.2 697.4V719.1M725.4 697.4V719.1M726.2 697.4V719.1M748.6 697.4V719.1M753.2 697.4V719.1M753.4 697.4V719.1M753.6 697.4V719.1M756 697.4V719.1M756.8 697.4V719.1M757.2 697.4V719.1M758 697.4V719.1M758.8 697.4V719.1M761 697.4V719.1M761.6 697.4V719.1M762.8 697.4V719.1M763 697.4V719.1M764 697.4V719.1M765.4 697.4V719.1"/>
<path stroke="#000" stroke-width=".5" opacity="0.6" d="M771.4 697.4V719.1"/>
<defs><linearGradient id="gs4"><stop offset="0" stop-color="#a00000"/><stop offset="0.02" stop-color="#c81414"/><stop offset="0.12" stop-color="#e83838"/><stop offset="0.3" stop-color="#f06868"/><stop offset="0.465" stop-color="#f68c8c"/><stop offset="0.47" stop-color="#f4a4d0"/><stop offset="0.63" stop-color="#f6bce2"/><stop offset="0.635" stop-color="#d2cef8"/><stop offset="0.79" stop-color="#c8c8fa"/><stop offset="0.8" stop-color="#9494f4"/><stop offset="0.85" stop-color="#7474f0"/><stop offset="0.95" stop-color="#4a4ae0"/><stop offset="0.96" stop-color="#1a1ac0"/><stop offset="1" stop-color="#0808b0"/></linearGradient></defs>
<rect x="616" y="719.3" width="158.8" height="5" fill="url(#gs4)"/>
<path fill="#c2c2c2" d="M616 746.7L616 725.6L618.3 731L620.6 733.7L622.9 735.3L625.2 736.4L627.5 737.3L629.8 738L632.1 738.7L634.4 739.3L636.7 739.8L639 740.4L641.3 740.8L643.6 741.3L645.9 741.7L648.2 742.1L650.5 742.4L652.8 742.8L655.1 743.1L657.4 743.4L659.7 743.7L662 743.9L664.3 744.1L666.6 744.4L668.9 744.6L671.2 744.7L673.5 744.9L675.8 745.1L678.1 745.2L680.4 745.4L682.7 745.5L685.1 745.6L687.4 745.7L689.7 745.8L692 745.9L694.3 746L696.6 746.1L698.9 746.2L701.2 746.3L703.5 746.3L705.8 746.4L708.1 746.5L710.4 746.6L712.7 746.6L715 746.8L717.3 746.9L719.6 747.1L721.9 747.2L724.2 747.4L726.5 747.5L728.8 747.6L731.1 747.8L733.4 747.9L735.7 748.1L738 748.3L740.3 748.4L742.6 748.6L744.9 748.8L747.2 749L749.5 749.1L751.8 749.4L754.1 749.6L756.4 749.8L758.7 750.1L761 750.4L763.3 750.7L765.6 751.2L767.9 752.1L770.2 753.8L772.5 757.3L774.8 764.8L774.8 746.7z"/>
<text x="689.5" y="614.15" font-size="6.5" text-anchor="middle" font-weight="bold" fill="#111" textLength="54.7" lengthAdjust="spacingAndGlyphs">Enrichment plot:</text>
<text x="689.5" y="624.13" font-size="6.5" text-anchor="middle" font-weight="bold" fill="#111" textLength="156.2" lengthAdjust="spacingAndGlyphs">ALCALAY_AML_BY_NPM1_LOCALIZATION_UP</text>
<text x="636.7" y="677.5" font-size="10.4" fill="#111">NES 3.80</text>
<text x="636.7" y="689.8" font-size="10.4" fill="#111">FDR 1.44E-9</text>
<text x="613.8" y="694.2" font-size="4.9" text-anchor="end" fill="#777">0.0</text><text x="613.8" y="684" font-size="4.9" text-anchor="end" fill="#777">0.1</text><text x="613.8" y="673.8" font-size="4.9" text-anchor="end" fill="#777">0.2</text><text x="613.8" y="663.6" font-size="4.9" text-anchor="end" fill="#777">0.3</text><text x="613.8" y="653.4" font-size="4.9" text-anchor="end" fill="#777">0.4</text><text x="613.8" y="643.2" font-size="4.9" text-anchor="end" fill="#777">0.5</text><text x="613.8" y="633" font-size="4.9" text-anchor="end" fill="#777">0.6</text><text x="613.8" y="733.26" font-size="4.4" text-anchor="end" fill="#333">0.4</text><text x="613.8" y="740.8" font-size="4.4" text-anchor="end" fill="#333">0.2</text><text x="613.8" y="748.35" font-size="4.4" text-anchor="end" fill="#333">0.0</text><text x="613.8" y="755.89" font-size="4.4" text-anchor="end" fill="#333">-0.2</text><text x="613.8" y="763.43" font-size="4.4" text-anchor="end" fill="#333">-0.4</text><text x="613.8" y="726.02" font-size="4.4" text-anchor="end" fill="#333">0.6</text><text x="616" y="775.89" font-size="4.7" text-anchor="middle" fill="#333">0</text><text x="646.78" y="775.89" font-size="4.7" text-anchor="middle" fill="#333">5,000</text><text x="677.56" y="775.89" font-size="4.7" text-anchor="middle" fill="#333">10,000</text><text x="708.34" y="775.89" font-size="4.7" text-anchor="middle" fill="#333">15,000</text><text x="739.11" y="775.89" font-size="4.7" text-anchor="middle" fill="#333">20,000</text><text x="769.89" y="775.89" font-size="4.7" text-anchor="middle" fill="#333">25,000</text>
<text x="699" y="782.52" font-size="5.6" text-anchor="middle" fill="#444">Rank in Ordered Dataset</text>
<text transform="translate(603.8,662.2) rotate(-90)" font-size="5.8" text-anchor="middle" fill="#666" textLength="57" lengthAdjust="spacingAndGlyphs">Enrichment score (ES)</text>
<text transform="translate(603.4,746.5) rotate(-90)" font-size="5.6" text-anchor="middle" fill="#555" textLength="68" lengthAdjust="spacingAndGlyphs">Ranked list metric (Signal2Noise)</text>
<text x="617.2" y="727.52" font-size="3.9" fill="#f03030">'DNMT3A' (positively correlated)</text>
<text x="698.58" y="766.76" font-size="3.9" fill="#3838f0">'CM' (negatively correlated)</text>
<text x="694.61" y="747.05" font-size="3.6" fill="#333">Zero cross at 16005</text>
<rect x="624" y="786.8" width="131.3" height="9.8" fill="#fff" stroke="#444" stroke-width=".7"/>
<path stroke="#14f014" stroke-width="1.1" d="M625.6 791.7h6.6"/><path stroke="#222" stroke-width=".6" d="M672.7 791.7h5.3"/><path stroke="#ccc" stroke-width=".6" d="M699.6 791.7h5.4"/>
<text x="633.3" y="793.49" font-size="5" fill="#333" textLength="37.2" lengthAdjust="spacingAndGlyphs">Enrichment profile</text>
<text x="679" y="793.49" font-size="5" fill="#333" textLength="7.8" lengthAdjust="spacingAndGlyphs">Hits</text>
<text x="706.6" y="793.49" font-size="5" fill="#333" textLength="46.5" lengthAdjust="spacingAndGlyphs">Ranking metric scores</text>
<rect x="797.4" y="606.4" width="189.9" height="187.9" fill="#efefef"/>
<rect x="819.2" y="628.5" width="166.1" height="137.7" fill="#fff"/>
<path stroke="#d4d4d4" stroke-width=".4" stroke-dasharray=".9 .7" fill="none" d="M819.2 691.4H985.3M819.2 683.3H985.3M819.2 675.2H985.3M819.2 667.1H985.3M819.2 659H985.3M819.2 650.9H985.3M819.2 642.8H985.3M819.2 634.7H985.3M849.8 628.5V693.1M849.8 722.4V766.1M880.4 628.5V693.1M880.4 722.4V766.1M911 628.5V693.1M911 722.4V766.1M941.7 628.5V693.1M941.7 722.4V766.1M972.3 628.5V693.1M972.3 722.4V766.1M819.2 759.3H985.3M819.2 751.9H985.3M819.2 737H985.3M819.2 729.6H985.3"/>
<path stroke="#c0c0c0" stroke-width=".5" fill="none" d="M819.2 628.5H985.3V766.1H819.2zM819.2 693.1H985.3M819.2 695.6H985.3M819.2 722.4H985.3M819.2 691.4H985.3"/>
<path fill="none" stroke="#14f014" stroke-width="1.55" stroke-linejoin="round" stroke-linecap="round" d="M819.2 691.4L819.8 679L821.3 659.5L823.2 650.5L825.5 643.7L828.5 637.7L832.2 634L836 632L840.5 631.3L846.5 632.2L851.7 632.2L857 634L863.7 636.2L872 640.7L887 648.2L902 655L917 663.2L932 670.7L947 678.7L959 684.2L965 686.8L969.5 688L974 690.2L977 691.4"/>
<rect x="819.2" y="695.9" width="24.8" height="21.4" fill="#000" opacity=".72"/>
<rect x="893.7" y="695.9" width="0.6" height="21.4" fill="#000" opacity=".72"/>
<path stroke="#000" stroke-width=".5" opacity="1" d="M819.2 695.9V717.3M819.6 695.9V717.3M819.8 695.9V717.3M820.6 695.9V717.3M820.8 695.9V717.3M821 695.9V717.3M821.2 695.9V717.3M821.8 695.9V717.3M822.4 695.9V717.3M823.8 695.9V717.3M825 695.9V717.3M825.4 695.9V717.3M826 695.9V717.3M826.4 695.9V717.3M827.4 695.9V717.3M827.8 695.9V717.3M828.8 695.9V717.3M829 695.9V717.3M830.4 695.9V717.3M830.6 695.9V717.3M830.8 695.9V717.3M831 695.9V717.3M831.4 695.9V717.3M831.6 695.9V717.3M832 695.9V717.3M832.4 695.9V717.3M832.8 695.9V717.3M833.2 695.9V717.3M833.8 695.9V717.3M834.2 695.9V717.3M834.4 695.9V717.3M834.6 695.9V717.3M834.8 695.9V717.3M836 695.9V717.3M837.8 695.9V717.3M838.4 695.9V717.3M838.6 695.9V717.3M839 695.9V717.3M839.6 695.9V717.3M839.8 695.9V717.3M840 695.9V717.3M840.2 695.9V717.3M840.4 695.9V717.3M840.6 695.9V717.3M840.8 695.9V717.3M841.2 695.9V717.3M841.6 695.9V717.3M843.4 695.9V717.3M843.6 695.9V717.3M843.8 695.9V717.3M844.8 695.9V717.3M845.6 695.9V717.3M845.8 695.9V717.3M846.4 695.9V717.3M847.4 695.9V717.3M847.6 695.9V717.3M847.8 695.9V717.3M848 695.9V717.3M848.2 695.9V717.3M848.8 695.9V717.3M849.2 695.9V717.3M849.4 695.9V717.3"/>
<path stroke="#000" stroke-width=".5" opacity="0.8" d="M850.6 695.9V717.3M851 695.9V717.3M851.4 695.9V717.3M851.8 695.9V717.3M852.2 695.9V717.3M853.2 695.9V717.3M853.4 695.9V717.3M854.2 695.9V717.3M855.2 695.9V717.3M855.8 695.9V717.3M856.6 695.9V717.3M857 695.9V717.3M857.4 695.9V717.3M861.2 695.9V717.3M861.4 695.9V717.3M861.8 695.9V717.3M862.6 695.9V717.3M862.8 695.9V717.3M863.6 695.9V717.3M890 695.9V717.3M890.2 695.9V717.3M891.8 695.9V717.3M893.4 695.9V717.3M893.6 695.9V717.3M894 695.9V717.3M905.8 695.9V717.3M906 695.9V717.3M906.4 695.9V717.3M941.6 695.9V717.3"/>
<path stroke="#000" stroke-width=".5" opacity="0.7" d="M872 695.9V717.3M872.4 695.9V717.3M873.4 695.9V717.3M874.6 695.9V717.3"/>
<path stroke="#000" stroke-width=".5" opacity="0.9" d="M894 695.9V717.3M894.4 695.9V717.3"/>
<path stroke="#000" stroke-width=".5" opacity="0.85" d="M921.6 695.9V717.3M921.8 695.9V717.3M924.6 695.9V717.3M925.6 695.9V717.3"/>
<path stroke="#000" stroke-width=".5" opacity="0.75" d="M951 695.9V717.3M954 695.9V717.3M954.2 695.9V717.3M956.6 695.9V717.3M956.8 695.9V717.3M957.2 695.9V717.3M957.4 695.9V717.3M958.2 695.9V717.3M961.8 695.9V717.3M963.2 695.9V717.3M963.8 695.9V717.3M965.4 695.9V717.3M966 695.9V717.3M967.2 695.9V717.3M968.4 695.9V717.3"/>
<defs><linearGradient id="gs5"><stop offset="0" stop-color="#a00000"/><stop offset="0.02" stop-color="#c81414"/><stop offset="0.12" stop-color="#e83838"/><stop offset="0.3" stop-color="#f06868"/><stop offset="0.465" stop-color="#f68c8c"/><stop offset="0.47" stop-color="#f4a4d0"/><stop offset="0.63" stop-color="#f6bce2"/><stop offset="0.635" stop-color="#d2cef8"/><stop offset="0.79" stop-color="#c8c8fa"/><stop offset="0.8" stop-color="#9494f4"/><stop offset="0.85" stop-color="#7474f0"/><stop offset="0.95" stop-color="#4a4ae0"/><stop offset="0.96" stop-color="#1a1ac0"/><stop offset="1" stop-color="#0808b0"/></linearGradient></defs>
<rect x="819.2" y="717.5" width="158" height="4.9" fill="url(#gs5)"/>
<path fill="#c2c2c2" d="M819.2 744.5L819.2 723.7L821.5 729L823.8 731.6L826.1 733.2L828.4 734.3L830.6 735.2L832.9 735.9L835.2 736.5L837.5 737.1L839.8 737.7L842.1 738.2L844.4 738.7L846.7 739.1L849 739.5L851.3 739.9L853.5 740.2L855.8 740.6L858.1 740.9L860.4 741.2L862.7 741.4L865 741.7L867.3 741.9L869.6 742.1L871.9 742.3L874.1 742.5L876.4 742.7L878.7 742.8L881 743L883.3 743.1L885.6 743.2L887.9 743.4L890.2 743.5L892.5 743.6L894.7 743.7L897 743.8L899.3 743.8L901.6 743.9L903.9 744L906.2 744.1L908.5 744.1L910.8 744.2L913.1 744.3L915.4 744.4L917.6 744.5L919.9 744.6L922.2 744.8L924.5 744.9L926.8 745.1L929.1 745.2L931.4 745.4L933.7 745.5L936 745.6L938.2 745.8L940.5 746L942.8 746.1L945.1 746.3L947.4 746.5L949.7 746.6L952 746.8L954.3 747L956.6 747.3L958.8 747.5L961.1 747.7L963.4 748L965.7 748.4L968 748.9L970.3 749.7L972.6 751.4L974.9 754.8L977.2 762.3L977.2 744.5z"/>
<text x="892.25" y="614.02" font-size="6.5" text-anchor="middle" font-weight="bold" fill="#111" textLength="54.7" lengthAdjust="spacingAndGlyphs">Enrichment plot:</text>
<text x="892.25" y="623.85" font-size="6.5" text-anchor="middle" font-weight="bold" fill="#111" textLength="147.8" lengthAdjust="spacingAndGlyphs">VERHAAK_AML_WITH_NPM1_MUTATED_UP</text>
<text x="836.4" y="675.5" font-size="10.4" fill="#111">NES 4.53</text>
<text x="836.4" y="688" font-size="10.4" fill="#111">FDR 1.44E-9</text>
<text x="817" y="693.1" font-size="4.9" text-anchor="end" fill="#777">0.0</text><text x="817" y="685" font-size="4.9" text-anchor="end" fill="#777">0.1</text><text x="817" y="676.9" font-size="4.9" text-anchor="end" fill="#777">0.2</text><text x="817" y="668.8" font-size="4.9" text-anchor="end" fill="#777">0.3</text><text x="817" y="660.7" font-size="4.9" text-anchor="end" fill="#777">0.4</text><text x="817" y="652.6" font-size="4.9" text-anchor="end" fill="#777">0.5</text><text x="817" y="644.5" font-size="4.9" text-anchor="end" fill="#777">0.6</text><text x="817" y="636.4" font-size="4.9" text-anchor="end" fill="#777">0.7</text><text x="817" y="731.23" font-size="4.4" text-anchor="end" fill="#333">0.4</text><text x="817" y="738.65" font-size="4.4" text-anchor="end" fill="#333">0.2</text><text x="817" y="746.07" font-size="4.4" text-anchor="end" fill="#333">0.0</text><text x="817" y="753.49" font-size="4.4" text-anchor="end" fill="#333">-0.2</text><text x="817" y="760.91" font-size="4.4" text-anchor="end" fill="#333">-0.4</text><text x="817" y="724.11" font-size="4.4" text-anchor="end" fill="#333">0.6</text><text x="819.2" y="773.14" font-size="4.7" text-anchor="middle" fill="#333">0</text><text x="849.81" y="773.14" font-size="4.7" text-anchor="middle" fill="#333">5,000</text><text x="880.43" y="773.14" font-size="4.7" text-anchor="middle" fill="#333">10,000</text><text x="911.04" y="773.14" font-size="4.7" text-anchor="middle" fill="#333">15,000</text><text x="941.65" y="773.14" font-size="4.7" text-anchor="middle" fill="#333">20,000</text><text x="972.26" y="773.14" font-size="4.7" text-anchor="middle" fill="#333">25,000</text>
<text x="901.75" y="779.66" font-size="5.6" text-anchor="middle" fill="#444">Rank in Ordered Dataset</text>
<text transform="translate(807,661.3) rotate(-90)" font-size="5.8" text-anchor="middle" fill="#666" textLength="57" lengthAdjust="spacingAndGlyphs">Enrichment score (ES)</text>
<text transform="translate(806.6,744.3) rotate(-90)" font-size="5.6" text-anchor="middle" fill="#555" textLength="68" lengthAdjust="spacingAndGlyphs">Ranked list metric (Signal2Noise)</text>
<text x="820.4" y="725.61" font-size="3.9" fill="#f03030">'DNMT3A' (positively correlated)</text>
<text x="901.34" y="764.13" font-size="3.9" fill="#3838f0">'CM' (negatively correlated)</text>
<text x="897.39" y="744.77" font-size="3.6" fill="#333">Zero cross at 16005</text>
<rect x="827.2" y="783.9" width="131.3" height="9.6" fill="#fff" stroke="#444" stroke-width=".7"/>
<path stroke="#14f014" stroke-width="1.1" d="M828.8 788.7h6.6"/><path stroke="#222" stroke-width=".6" d="M875.9 788.7h5.3"/><path stroke="#ccc" stroke-width=".6" d="M902.8 788.7h5.4"/>
<text x="836.5" y="790.49" font-size="5" fill="#333" textLength="37.2" lengthAdjust="spacingAndGlyphs">Enrichment profile</text>
<text x="882.2" y="790.49" font-size="5" fill="#333" textLength="7.8" lengthAdjust="spacingAndGlyphs">Hits</text>
<text x="909.8" y="790.49" font-size="5" fill="#333" textLength="46.5" lengthAdjust="spacingAndGlyphs">Ranking metric scores</text>
<circle cx="709.8" cy="990" r="60.4" fill="#c3c9e8" stroke="#8c94cf" stroke-width="1.2"/>
<ellipse cx="733.9" cy="990.3" rx="64.3" ry="60.9" fill="#e9b5ae" fill-opacity=".62" stroke="#d9776f" stroke-width="1.2"/>
<ellipse cx="1026.4" cy="1006.8" rx="74.3" ry="75" fill="#c3c9e8" stroke="#8c94cf" stroke-width="1.2"/>
<ellipse cx="1061.4" cy="1009.6" rx="90.3" ry="84.1" fill="#e9b5ae" fill-opacity=".62" stroke="#d9776f" stroke-width="1.2"/>
<text x="733.2" y="875.3" font-size="12.2" text-anchor="middle" font-weight="bold" fill="#111">Down-regulated DEGs</text>
<text x="1045.8" y="878.6" font-size="12.2" text-anchor="middle" font-weight="bold" fill="#111">Up-regulated DEGs</text>
<text x="653.8" y="906.6" font-size="10.2" text-anchor="middle" font-weight="bold" fill="#2a7dbd">Initial  analysis</text>
<text x="655" y="920.3" font-size="10.2" text-anchor="middle" font-weight="bold" fill="#2a7dbd">454</text>
<text x="807.5" y="906.6" font-size="10.5" text-anchor="middle" font-weight="bold" fill="#b3242a">Updated analysis</text>
<text x="807.5" y="920.3" font-size="10.2" text-anchor="middle" font-weight="bold" fill="#b3242a">471</text>
<text x="945.8" y="906.2" font-size="10.2" font-weight="bold" fill="#2a7dbd">Initial  analysis</text>
<text x="945.8" y="919.4" font-size="10.2" font-weight="bold" fill="#2a7dbd">818</text>
<text x="1150" y="906" font-size="10.5" text-anchor="middle" font-weight="bold" fill="#b3242a">Updated analysis</text>
<text x="1150.5" y="919.2" font-size="10.2" text-anchor="middle" font-weight="bold" fill="#b3242a">975</text>
<text x="660.2" y="993.8" font-size="10.6" text-anchor="middle" fill="#111">44</text>
<text x="721" y="993.6" font-size="10.6" text-anchor="middle" fill="#111">410</text>
<text x="782.6" y="994.4" font-size="10.6" text-anchor="middle" fill="#111">61</text>
<text x="962.5" y="1008.8" font-size="10.6" text-anchor="middle" fill="#111">13</text>
<text x="1035" y="1008.8" font-size="10.6" text-anchor="middle" fill="#111">805</text>
<text x="1123.2" y="1008.2" font-size="10.6" text-anchor="middle" fill="#111">170</text>
<text x="609" y="1124.5" font-size="11.5" font-weight="bold" textLength="438.5" lengthAdjust="spacingAndGlyphs"><tspan fill="#2a7dbd">Initial analysis: </tspan><tspan fill="#111">DNMT3A</tspan><tspan fill="#111" font-size="7.2" dy="-3.8">mut</tspan><tspan fill="#111" dy="3.8"> (n=80) vs. DNMT3A</tspan><tspan fill="#111" font-size="7.2" dy="-3.8">wt</tspan><tspan fill="#111" dy="3.8"> + normal karyotype (n=184)</tspan></text>
<text x="609" y="1139.6" font-size="11.5" font-weight="bold" textLength="568.5" lengthAdjust="spacingAndGlyphs"><tspan fill="#b3242a">Updated analysis: </tspan><tspan fill="#111">DNMT3A</tspan><tspan fill="#111" font-size="7.2" dy="-3.8">mut</tspan><tspan fill="#111" dy="3.8"> + normal karyotype (n=63) vs. DNMT3A</tspan><tspan fill="#111" font-size="7.2" dy="-3.8">wt</tspan><tspan fill="#111" dy="3.8"> + normal karyotype (n=184)</tspan></text>
</svg>
</body></html>
